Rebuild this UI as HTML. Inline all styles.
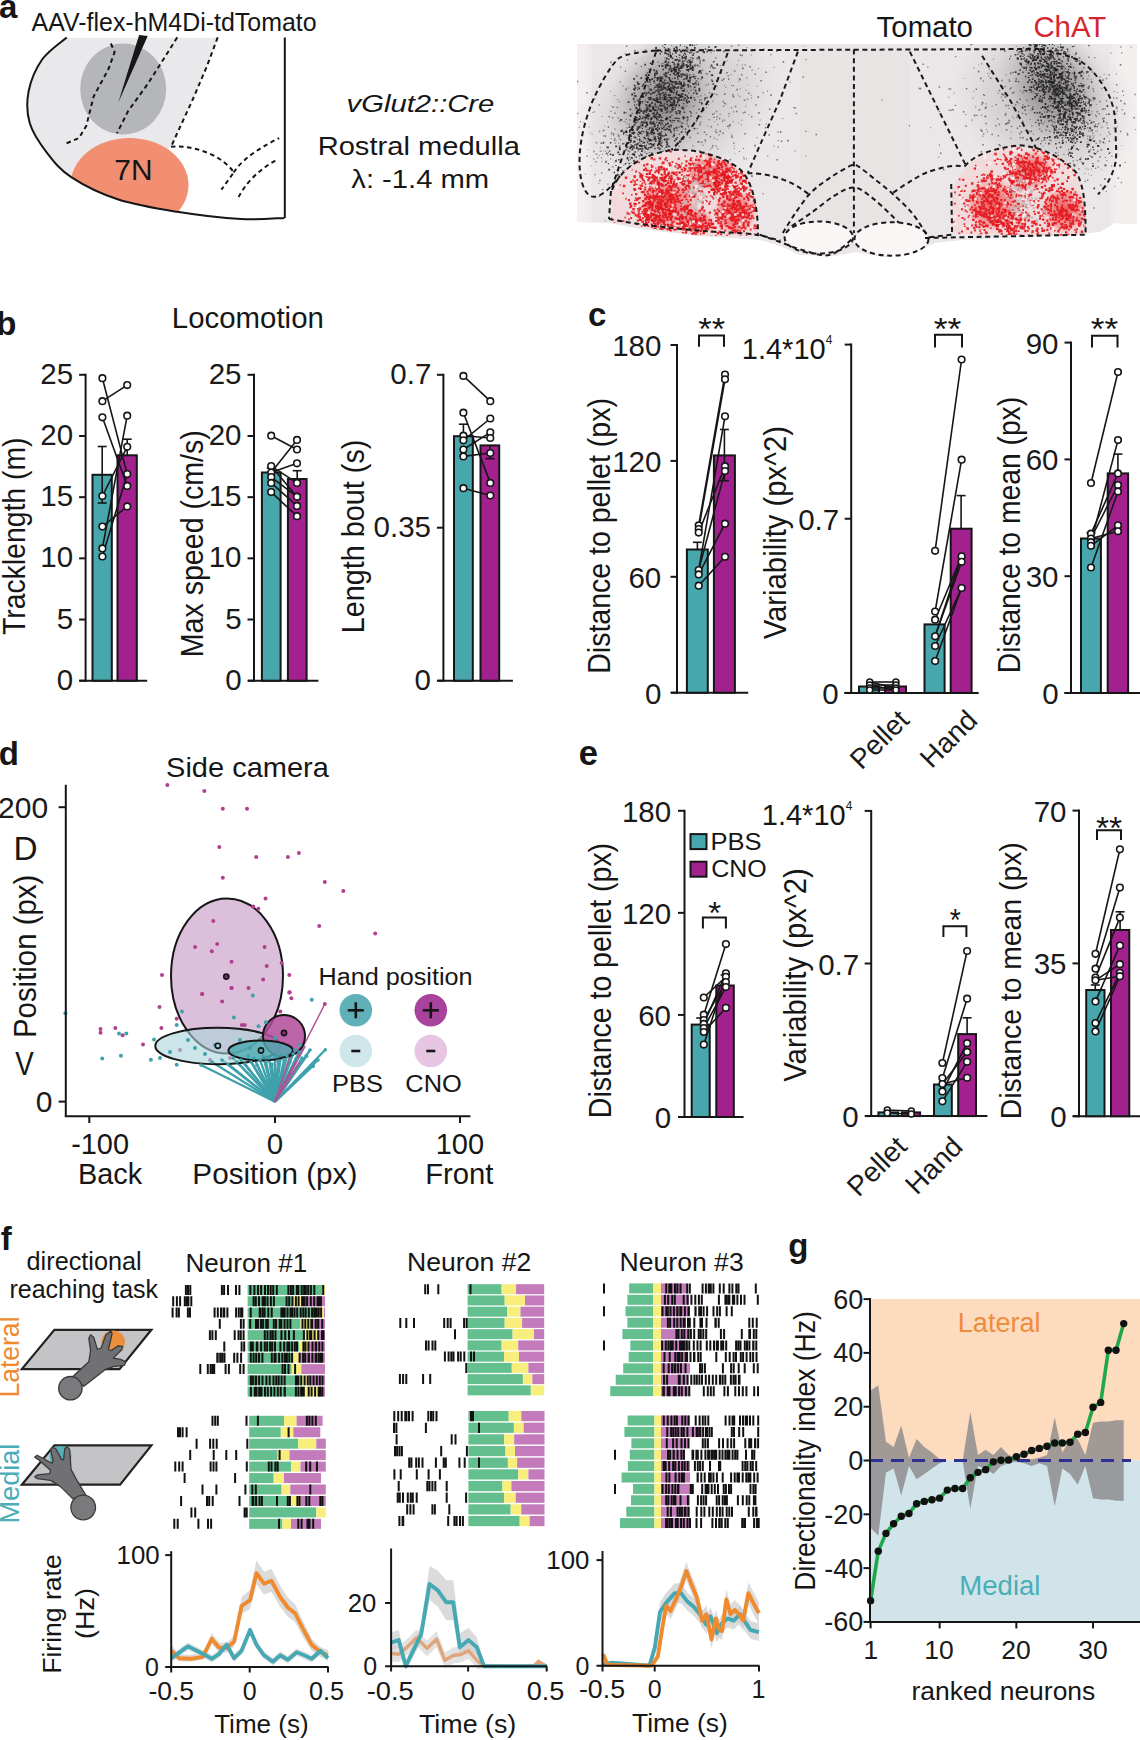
<!DOCTYPE html><html><head><meta charset="utf-8"><style>html,body{margin:0;padding:0;background:#fff;overflow:hidden;}svg{display:block;font-family:"Liberation Sans",sans-serif;}</style></head><body>
<svg width="1140" height="1740" viewBox="0 0 1140 1740">
<rect width="1140" height="1740" fill="#fff"/>
<text x="-0.99" y="17.6" font-size="33" font-weight="bold" font-style="normal" fill="#161616">a</text>
<text x="31.6" y="30.5" font-size="25.5" font-weight="normal" font-style="normal" fill="#161616" textLength="284.98" lengthAdjust="spacingAndGlyphs">AAV-flex-hM4Di-tdTomato</text>
<defs><clipPath id="clipA"><path d="M66.7 37.4 C62.6 41.1 48.5 50.5 42.1 59.5 C35.8 68.5 30.7 80.8 28.6 91.4 C26.6 102.0 26.7 113.1 29.8 123.3 C32.9 133.5 40.0 143.8 47.0 152.8 C54.0 161.8 59.7 169.6 71.6 177.4 C83.5 185.2 100.7 193.8 118.3 199.5 C135.9 205.2 156.7 208.5 177.2 211.8 C197.7 215.1 223.2 218.1 241.1 219.1 C259.0 220.1 277.3 218.1 284.5 217.9 L284.5 37.4 Z"/></clipPath></defs>
<g clip-path="url(#clipA)">
<path d="M20 37.4 L217.7 37.4 L206.7 66.8 L192 101.2 L177.2 133.2 L171.1 146.7 L150 170 L110 240 L20 240 Z" fill="#e9e9eb" stroke="none" stroke-width="0"/>
<ellipse cx="123.2" cy="89" rx="43" ry="45.5" fill="#b5b6ba"/>
<ellipse cx="129.5" cy="185" rx="59" ry="47" fill="#f28f72"/>
</g>
<path d="M66.7 37.4 C62.6 41.1 48.5 50.5 42.1 59.5 C35.8 68.5 30.7 80.8 28.6 91.4 C26.6 102.0 26.7 113.1 29.8 123.3 C32.9 133.5 40.0 143.8 47.0 152.8 C54.0 161.8 59.7 169.6 71.6 177.4 C83.5 185.2 100.7 193.8 118.3 199.5 C135.9 205.2 156.7 208.5 177.2 211.8 C197.7 215.1 223.2 218.1 241.1 219.1 C259.0 220.1 277.3 218.1 284.5 217.9 M284.8 37.4 L284.8 218" fill="none" stroke="#161616" stroke-width="2"/>
<path d="M110.9 43.5 L114.6 52.1 L108.4 69.3 L93.7 96.3 L86.3 125.8 L79 138.1 L64.2 144.2" fill="none" stroke="#161616" stroke-width="2" stroke-dasharray="4.5 3.5"/>
<path d="M177.2 37.4 L164.9 57 L147.7 84 L128.1 111.1 L117 133.2" fill="none" stroke="#161616" stroke-width="2" stroke-dasharray="4.5 3.5"/>
<path d="M217.7 37.4 L206.7 66.8 L192 101.2 L177.2 133.2 L171.1 146.7" fill="none" stroke="#161616" stroke-width="2" stroke-dasharray="4.5 3.5"/>
<path d="M171.1 146.7 C185 145 205 150 218 158 C226 163 232 169 233.7 172.5 L221.4 189.7" fill="none" stroke="#161616" stroke-width="2" stroke-dasharray="4.5 3.5"/>
<path d="M233.7 172.5 C240 162 255 150 279.2 138.1" fill="none" stroke="#161616" stroke-width="2" stroke-dasharray="4.5 3.5"/>
<path d="M238.6 197 C245 185 255 172 277.9 159" fill="none" stroke="#161616" stroke-width="2" stroke-dasharray="4.5 3.5"/>
<path d="M139.1 34.9 L147.7 36.1 L118.3 102.5 Z" fill="#161616" stroke="none" stroke-width="0"/>
<text x="114.3" y="180.3" font-size="29" font-weight="normal" font-style="normal" fill="#161616" textLength="38.24" lengthAdjust="spacingAndGlyphs">7N</text>
<text x="346.54" y="112" font-size="24.5" font-weight="normal" font-style="italic" fill="#161616" textLength="147.84" lengthAdjust="spacingAndGlyphs">vGlut2::Cre</text>
<text x="317.67" y="155.4" font-size="25.5" font-weight="normal" font-style="normal" fill="#161616" textLength="202.24" lengthAdjust="spacingAndGlyphs">Rostral medulla</text>
<text x="351.31" y="187.8" font-size="25.5" font-weight="normal" font-style="normal" fill="#161616" textLength="137.91" lengthAdjust="spacingAndGlyphs">λ: -1.4 mm</text>
<text x="876.61" y="36.8" font-size="30" font-weight="normal" font-style="normal" fill="#161616" textLength="96.34" lengthAdjust="spacingAndGlyphs">Tomato</text>
<text x="1033.43" y="36.8" font-size="30" font-weight="normal" font-style="normal" fill="#d4262c" textLength="72.81" lengthAdjust="spacingAndGlyphs">ChAT</text>
<defs>
<clipPath id="clipM"><path d="M577 44 L1137 44 L1137 224 L1115 223 L1100 232 L1060 236 L1000 238 L962 240 L935 243 L915 252 L885 257 L855 252 L835 256 L800 255 L780 246 L760 240 L700 236 L640 229 L610 223 L577 222 Z"/></clipPath>
<clipPath id="clipRL"><path d="M611 222 L612 190 C620 170 640 155 671.8 150 C700 148 735 160 745 175 C755 190 758 215 758 236 L700 236 Z"/></clipPath>
<clipPath id="clipRR"><path d="M952 234 L952 190 C960 170 975 155 1005 147 C1030 145 1060 152 1076.8 173.3 C1085 190 1086 215 1085.6 236 Z"/></clipPath>
<radialGradient id="gL" cx="0.5" cy="0.5" r="0.5"><stop offset="0" stop-color="#7d797a" stop-opacity="0.9"/><stop offset="0.5" stop-color="#a29d9e" stop-opacity="0.7"/><stop offset="1" stop-color="#cfcacb" stop-opacity="0"/></radialGradient>
<radialGradient id="gW" cx="0.5" cy="0.5" r="0.5"><stop offset="0" stop-color="#c4bfc0" stop-opacity="0.95"/><stop offset="0.6" stop-color="#d2cdce" stop-opacity="0.7"/><stop offset="1" stop-color="#dcd7d8" stop-opacity="0"/></radialGradient>
<radialGradient id="gR" cx="0.5" cy="0.5" r="0.5"><stop offset="0" stop-color="#ec4a4f" stop-opacity="0.9"/><stop offset="0.7" stop-color="#ef7376" stop-opacity="0.6"/><stop offset="1" stop-color="#f3b5b7" stop-opacity="0"/></radialGradient>
<filter id="blur4"><feGaussianBlur stdDeviation="4"/></filter>
</defs>
<g clip-path="url(#clipM)">
<rect x="570" y="40" width="575" height="220" fill="#ebe6e7" stroke="none" stroke-width="0"/>
<rect x="570" y="40" width="20" height="190" fill="#f6eff0" stroke="none" stroke-width="0" filter="url(#blur4)"/>
<rect x="1112" y="40" width="30" height="200" fill="#f4efef" stroke="none" stroke-width="0" filter="url(#blur4)"/>
<rect x="800" y="48" width="110" height="200" fill="#e8e4e4" stroke="none" stroke-width="0"/>
<ellipse cx="680" cy="105" rx="110" ry="80" fill="url(#gW)" transform="rotate(-30 680 105)"/>
<ellipse cx="1045" cy="105" rx="100" ry="80" fill="url(#gW)" transform="rotate(30 1045 105)"/>
<ellipse cx="664" cy="100" rx="55" ry="75" fill="url(#gL)" transform="rotate(22 664 100)"/>
<ellipse cx="1053" cy="88" rx="55" ry="70" fill="url(#gL)" transform="rotate(-25 1053 88)"/>
<path d="M685.6 64.1h1.9v1.9h-1.9zM667.9 61.5h1.4v1.4h-1.4zM664.5 64.5h1.3v1.3h-1.3zM699.0 70.1h1.9v1.9h-1.9zM668.6 67.9h1.5v1.5h-1.5zM692.2 54.3h1.7v1.7h-1.7zM672.0 53.3h1.1v1.1h-1.1zM690.1 67.5h1.9v1.9h-1.9zM660.3 86.7h1.3v1.3h-1.3zM643.6 92.5h1.5v1.5h-1.5zM657.0 98.6h1.2v1.2h-1.2zM670.1 90.2h1.4v1.4h-1.4zM681.6 57.4h1.8v1.8h-1.8zM645.3 110.5h1.8v1.8h-1.8zM682.8 63.8h1.5v1.5h-1.5zM657.8 90.5h1.8v1.8h-1.8zM660.5 76.7h1.5v1.5h-1.5zM684.9 34.3h1.4v1.4h-1.4zM692.3 68.9h1.5v1.5h-1.5zM673.6 73.3h1.2v1.2h-1.2zM684.1 60.2h1.3v1.3h-1.3zM668.2 88.0h1.7v1.7h-1.7zM679.5 22.9h1.8v1.8h-1.8zM693.8 45.0h1.1v1.1h-1.1zM698.6 89.3h1.7v1.7h-1.7zM676.6 37.8h1.8v1.8h-1.8zM689.9 64.5h1.4v1.4h-1.4zM688.0 70.7h1.1v1.1h-1.1zM689.3 68.1h1.7v1.7h-1.7zM691.1 27.4h1.2v1.2h-1.2zM678.8 54.5h1.6v1.6h-1.6zM669.1 51.0h1.4v1.4h-1.4zM672.7 72.7h1.6v1.6h-1.6zM706.7 51.3h1.3v1.3h-1.3zM656.5 83.9h1.5v1.5h-1.5zM665.6 34.6h1.5v1.5h-1.5zM675.3 70.9h1.6v1.6h-1.6zM705.4 40.7h1.2v1.2h-1.2zM673.6 66.2h2.0v2.0h-2.0zM697.5 77.9h1.3v1.3h-1.3zM673.2 68.8h1.3v1.3h-1.3zM684.8 53.8h1.3v1.3h-1.3zM666.1 58.3h1.1v1.1h-1.1zM676.5 59.1h1.4v1.4h-1.4zM703.9 42.3h1.8v1.8h-1.8zM689.8 67.2h1.7v1.7h-1.7zM690.7 76.4h1.2v1.2h-1.2zM689.0 66.2h1.1v1.1h-1.1zM670.7 91.3h1.3v1.3h-1.3zM637.1 82.8h1.8v1.8h-1.8zM667.4 62.0h1.5v1.5h-1.5zM711.2 74.3h1.9v1.9h-1.9zM664.5 74.9h1.7v1.7h-1.7zM690.4 61.2h1.6v1.6h-1.6zM677.4 64.2h1.8v1.8h-1.8zM696.7 51.0h1.8v1.8h-1.8zM668.6 82.9h1.3v1.3h-1.3zM669.6 53.9h1.3v1.3h-1.3zM674.7 50.6h1.4v1.4h-1.4zM696.0 43.1h1.5v1.5h-1.5zM675.9 56.0h1.1v1.1h-1.1zM656.4 50.5h1.4v1.4h-1.4zM672.8 88.1h1.6v1.6h-1.6zM666.7 112.2h1.1v1.1h-1.1zM670.2 103.6h1.1v1.1h-1.1zM681.3 85.0h1.2v1.2h-1.2zM664.9 48.5h1.3v1.3h-1.3zM714.5 46.1h2.0v2.0h-2.0zM677.9 61.5h1.0v1.0h-1.0zM668.3 58.5h1.2v1.2h-1.2zM688.6 35.4h1.2v1.2h-1.2zM671.8 57.5h1.5v1.5h-1.5zM659.0 66.1h1.0v1.0h-1.0zM695.2 34.8h1.5v1.5h-1.5zM693.8 42.0h1.2v1.2h-1.2zM669.7 74.1h1.3v1.3h-1.3zM675.4 73.7h1.8v1.8h-1.8zM673.9 67.7h1.2v1.2h-1.2zM655.7 85.0h1.6v1.6h-1.6zM693.7 22.9h1.4v1.4h-1.4zM673.4 86.3h1.4v1.4h-1.4zM681.3 22.6h1.8v1.8h-1.8zM671.8 61.9h1.2v1.2h-1.2zM669.8 103.7h1.9v1.9h-1.9zM682.6 63.0h1.9v1.9h-1.9zM678.5 80.8h1.7v1.7h-1.7zM673.8 72.2h1.0v1.0h-1.0zM654.0 76.5h1.7v1.7h-1.7zM691.9 30.7h1.6v1.6h-1.6zM685.1 55.7h1.8v1.8h-1.8zM670.5 67.6h1.2v1.2h-1.2zM685.9 46.8h2.0v2.0h-2.0zM680.5 65.3h1.9v1.9h-1.9zM704.4 42.3h1.1v1.1h-1.1zM679.8 50.1h1.3v1.3h-1.3zM676.9 97.4h1.0v1.0h-1.0zM691.9 40.9h1.8v1.8h-1.8zM698.0 56.2h1.9v1.9h-1.9zM703.1 51.2h2.0v2.0h-2.0zM694.9 82.1h1.6v1.6h-1.6zM677.5 93.9h1.7v1.7h-1.7zM698.5 57.8h1.7v1.7h-1.7zM722.5 33.3h1.6v1.6h-1.6zM647.8 74.0h2.0v2.0h-2.0zM679.5 37.9h1.6v1.6h-1.6zM692.0 68.1h1.3v1.3h-1.3zM636.7 81.4h1.5v1.5h-1.5zM685.6 56.9h1.0v1.0h-1.0zM679.5 67.4h1.7v1.7h-1.7zM653.3 69.3h1.7v1.7h-1.7zM668.2 58.7h1.4v1.4h-1.4zM668.4 99.7h1.9v1.9h-1.9zM686.2 66.1h1.8v1.8h-1.8zM662.1 78.0h1.3v1.3h-1.3zM659.3 76.6h1.1v1.1h-1.1zM674.9 52.5h1.1v1.1h-1.1zM690.4 57.0h1.2v1.2h-1.2zM689.4 10.2h1.3v1.3h-1.3zM691.6 42.9h1.4v1.4h-1.4zM664.3 52.1h1.9v1.9h-1.9zM685.5 76.8h1.3v1.3h-1.3zM682.0 64.3h1.9v1.9h-1.9zM692.5 76.1h1.7v1.7h-1.7zM655.1 47.0h1.9v1.9h-1.9zM649.8 62.6h1.4v1.4h-1.4zM636.6 125.9h1.0v1.0h-1.0zM698.6 34.6h1.8v1.8h-1.8zM656.5 79.8h1.2v1.2h-1.2zM697.5 39.6h1.1v1.1h-1.1zM681.9 60.6h1.8v1.8h-1.8zM692.2 66.8h1.7v1.7h-1.7zM691.2 52.0h1.2v1.2h-1.2zM675.7 87.3h1.3v1.3h-1.3zM687.1 83.9h1.9v1.9h-1.9zM665.1 87.5h1.3v1.3h-1.3zM665.9 52.9h1.7v1.7h-1.7zM720.4 36.4h1.1v1.1h-1.1zM685.8 77.0h1.8v1.8h-1.8zM654.9 35.8h1.1v1.1h-1.1zM684.3 56.4h1.5v1.5h-1.5zM669.9 52.7h1.0v1.0h-1.0zM676.6 66.4h1.6v1.6h-1.6zM700.3 39.6h1.8v1.8h-1.8zM700.5 72.8h1.1v1.1h-1.1zM670.6 70.8h1.3v1.3h-1.3zM679.2 110.7h1.8v1.8h-1.8zM704.7 48.4h1.6v1.6h-1.6zM691.4 48.9h1.3v1.3h-1.3zM681.5 55.8h1.6v1.6h-1.6zM680.2 66.6h1.5v1.5h-1.5zM706.9 34.5h1.9v1.9h-1.9zM674.3 59.2h1.3v1.3h-1.3zM693.8 86.4h1.8v1.8h-1.8zM688.9 51.9h1.6v1.6h-1.6zM664.4 61.4h1.7v1.7h-1.7zM691.8 69.5h1.4v1.4h-1.4zM674.5 68.6h1.7v1.7h-1.7zM680.7 67.4h1.7v1.7h-1.7zM660.0 93.5h1.4v1.4h-1.4zM682.5 86.0h1.0v1.0h-1.0zM679.7 82.1h2.0v2.0h-2.0zM696.5 28.1h1.7v1.7h-1.7zM677.1 75.8h1.2v1.2h-1.2zM669.9 55.1h1.7v1.7h-1.7zM712.0 66.5h1.3v1.3h-1.3zM676.4 65.9h1.5v1.5h-1.5zM673.3 86.0h1.9v1.9h-1.9zM653.6 80.2h1.4v1.4h-1.4zM686.4 29.1h1.3v1.3h-1.3zM713.5 50.2h1.3v1.3h-1.3zM691.8 60.5h1.1v1.1h-1.1zM703.0 20.0h1.2v1.2h-1.2zM658.5 64.9h1.3v1.3h-1.3zM700.4 71.5h1.2v1.2h-1.2zM682.1 35.5h1.1v1.1h-1.1zM665.6 76.2h1.5v1.5h-1.5zM683.0 54.5h1.2v1.2h-1.2zM688.2 59.6h1.7v1.7h-1.7zM677.9 67.9h1.9v1.9h-1.9zM683.5 57.1h1.3v1.3h-1.3zM710.7 64.6h1.6v1.6h-1.6zM689.8 50.1h1.5v1.5h-1.5zM666.5 99.8h1.1v1.1h-1.1zM641.6 92.6h1.1v1.1h-1.1zM700.8 49.2h1.9v1.9h-1.9zM659.5 53.1h1.5v1.5h-1.5zM669.3 65.0h1.8v1.8h-1.8zM717.0 64.6h1.1v1.1h-1.1zM675.2 52.0h1.6v1.6h-1.6zM667.3 85.9h1.9v1.9h-1.9zM665.9 57.6h1.9v1.9h-1.9zM669.4 51.5h1.0v1.0h-1.0zM708.2 46.3h1.5v1.5h-1.5zM689.3 36.1h1.4v1.4h-1.4zM686.6 50.4h1.8v1.8h-1.8zM673.2 67.7h1.1v1.1h-1.1zM648.9 78.9h1.3v1.3h-1.3zM689.2 44.2h1.8v1.8h-1.8zM696.7 64.5h1.5v1.5h-1.5zM651.7 92.5h1.5v1.5h-1.5zM688.9 61.1h2.0v2.0h-2.0zM690.0 77.0h1.3v1.3h-1.3zM669.8 49.1h1.0v1.0h-1.0zM680.6 87.0h1.4v1.4h-1.4zM664.5 39.1h1.2v1.2h-1.2zM705.4 38.2h1.1v1.1h-1.1zM693.5 31.4h1.6v1.6h-1.6zM664.8 60.3h2.0v2.0h-2.0zM710.3 8.0h1.6v1.6h-1.6zM693.2 24.5h1.6v1.6h-1.6zM663.7 46.9h1.3v1.3h-1.3zM689.3 76.8h1.6v1.6h-1.6zM680.0 95.5h1.8v1.8h-1.8zM673.4 47.7h1.6v1.6h-1.6zM670.4 69.2h1.8v1.8h-1.8zM674.9 59.3h1.6v1.6h-1.6zM668.4 77.1h1.2v1.2h-1.2zM654.0 74.3h1.6v1.6h-1.6zM692.1 69.2h1.5v1.5h-1.5zM663.7 93.8h1.2v1.2h-1.2zM662.4 68.7h1.6v1.6h-1.6zM686.0 40.6h1.8v1.8h-1.8zM690.5 25.4h1.1v1.1h-1.1zM683.9 52.4h1.5v1.5h-1.5zM680.1 81.8h1.7v1.7h-1.7zM687.5 69.4h1.4v1.4h-1.4zM668.3 55.4h1.3v1.3h-1.3zM681.4 64.5h1.4v1.4h-1.4zM682.5 35.7h1.5v1.5h-1.5zM660.7 50.8h1.7v1.7h-1.7zM676.7 40.9h1.6v1.6h-1.6zM659.6 99.1h1.1v1.1h-1.1zM676.8 28.3h1.8v1.8h-1.8zM659.9 79.4h1.9v1.9h-1.9zM673.0 88.1h1.1v1.1h-1.1zM663.6 73.7h1.2v1.2h-1.2zM679.8 44.6h1.2v1.2h-1.2zM675.4 46.2h1.8v1.8h-1.8zM645.2 74.3h1.9v1.9h-1.9zM700.5 21.1h1.0v1.0h-1.0z" fill="#1c1c1c" fill-opacity="0.85"/>
<path d="M674.1 71.4h1.4v1.4h-1.4zM654.2 125.7h1.6v1.6h-1.6zM657.1 101.1h1.9v1.9h-1.9zM658.6 98.2h1.3v1.3h-1.3zM657.0 144.5h1.4v1.4h-1.4zM686.5 90.5h1.0v1.0h-1.0zM694.0 47.0h1.7v1.7h-1.7zM637.5 119.2h1.4v1.4h-1.4zM649.4 109.6h1.8v1.8h-1.8zM646.7 72.3h1.2v1.2h-1.2zM655.8 70.3h1.7v1.7h-1.7zM672.2 81.1h1.7v1.7h-1.7zM665.4 94.0h1.5v1.5h-1.5zM656.1 94.9h1.2v1.2h-1.2zM649.4 122.8h1.4v1.4h-1.4zM716.2 63.5h1.7v1.7h-1.7zM694.4 65.5h1.2v1.2h-1.2zM679.4 112.2h1.1v1.1h-1.1zM668.5 88.7h1.5v1.5h-1.5zM667.6 94.7h1.2v1.2h-1.2zM663.8 96.5h1.8v1.8h-1.8zM652.5 107.9h1.8v1.8h-1.8zM696.5 40.1h1.9v1.9h-1.9zM673.6 96.7h1.8v1.8h-1.8zM665.0 65.5h1.6v1.6h-1.6zM678.6 98.7h1.2v1.2h-1.2zM674.7 83.2h1.8v1.8h-1.8zM680.4 51.0h1.7v1.7h-1.7zM664.7 82.6h1.7v1.7h-1.7zM664.2 43.4h1.7v1.7h-1.7zM655.5 98.2h1.8v1.8h-1.8zM685.3 78.5h1.3v1.3h-1.3zM667.7 48.0h1.7v1.7h-1.7zM675.4 70.3h1.5v1.5h-1.5zM668.6 105.6h1.3v1.3h-1.3zM633.8 92.6h1.3v1.3h-1.3zM647.4 85.2h1.2v1.2h-1.2zM666.7 104.1h1.5v1.5h-1.5zM693.0 92.6h1.4v1.4h-1.4zM649.0 81.4h1.4v1.4h-1.4zM649.8 97.3h1.9v1.9h-1.9zM660.7 116.4h1.7v1.7h-1.7zM638.3 87.6h1.7v1.7h-1.7zM677.0 72.7h2.0v2.0h-2.0zM675.6 81.3h1.2v1.2h-1.2zM678.0 75.1h1.5v1.5h-1.5zM690.0 65.3h1.1v1.1h-1.1zM679.7 82.7h1.4v1.4h-1.4zM650.5 117.1h2.0v2.0h-2.0zM669.4 94.8h1.1v1.1h-1.1zM673.5 127.7h1.8v1.8h-1.8zM656.6 77.4h1.9v1.9h-1.9zM646.1 121.5h1.5v1.5h-1.5zM660.2 84.8h1.8v1.8h-1.8zM663.3 81.6h1.4v1.4h-1.4zM667.8 71.5h1.4v1.4h-1.4zM681.4 95.7h1.5v1.5h-1.5zM688.6 27.5h1.2v1.2h-1.2zM654.2 91.8h1.3v1.3h-1.3zM665.5 63.7h1.3v1.3h-1.3zM663.8 97.9h2.0v2.0h-2.0zM646.6 101.6h1.3v1.3h-1.3zM638.8 83.2h1.2v1.2h-1.2zM647.6 115.2h1.9v1.9h-1.9zM669.5 83.6h1.1v1.1h-1.1zM643.1 121.6h2.0v2.0h-2.0zM686.3 75.3h1.9v1.9h-1.9zM658.3 83.4h1.6v1.6h-1.6zM670.6 70.8h1.4v1.4h-1.4zM646.2 106.7h1.2v1.2h-1.2zM690.0 59.4h1.1v1.1h-1.1zM678.1 60.6h1.1v1.1h-1.1zM674.0 64.3h1.3v1.3h-1.3zM698.3 108.7h1.4v1.4h-1.4zM673.1 68.5h1.9v1.9h-1.9zM672.9 92.0h1.5v1.5h-1.5zM678.6 59.4h2.0v2.0h-2.0zM645.7 122.2h1.7v1.7h-1.7zM671.5 88.4h1.1v1.1h-1.1zM689.6 62.8h1.6v1.6h-1.6zM666.4 63.4h1.2v1.2h-1.2zM705.8 84.6h1.0v1.0h-1.0zM682.3 73.7h1.9v1.9h-1.9zM693.5 97.3h1.3v1.3h-1.3zM657.5 106.5h1.2v1.2h-1.2zM684.5 83.6h1.1v1.1h-1.1zM668.5 99.2h1.7v1.7h-1.7zM668.1 94.6h1.5v1.5h-1.5zM654.6 82.8h1.0v1.0h-1.0zM680.4 94.6h1.7v1.7h-1.7zM655.5 106.4h1.3v1.3h-1.3zM665.0 66.7h1.8v1.8h-1.8zM659.3 76.8h1.5v1.5h-1.5zM711.7 80.6h1.5v1.5h-1.5zM691.6 44.4h1.5v1.5h-1.5zM680.3 73.5h1.7v1.7h-1.7zM690.0 96.7h2.0v2.0h-2.0zM667.0 122.8h1.8v1.8h-1.8zM686.5 98.9h1.1v1.1h-1.1zM664.1 79.4h1.5v1.5h-1.5zM682.2 87.4h1.2v1.2h-1.2zM676.3 90.7h1.1v1.1h-1.1zM637.9 83.9h1.2v1.2h-1.2zM689.3 74.2h1.2v1.2h-1.2zM672.6 85.4h2.0v2.0h-2.0zM676.9 63.3h1.7v1.7h-1.7zM659.2 101.4h1.9v1.9h-1.9zM667.5 53.6h1.7v1.7h-1.7zM676.6 58.8h1.3v1.3h-1.3zM672.1 119.7h1.4v1.4h-1.4zM653.1 80.9h1.4v1.4h-1.4zM677.0 102.0h1.3v1.3h-1.3zM679.1 60.2h1.4v1.4h-1.4zM683.5 84.6h1.8v1.8h-1.8zM666.6 103.9h1.1v1.1h-1.1zM663.1 84.9h1.3v1.3h-1.3zM664.9 98.7h1.5v1.5h-1.5zM663.5 83.4h1.7v1.7h-1.7zM678.4 104.6h1.6v1.6h-1.6zM683.3 89.8h1.7v1.7h-1.7zM691.6 67.1h1.1v1.1h-1.1zM687.2 35.0h1.2v1.2h-1.2zM675.8 69.0h1.3v1.3h-1.3zM712.9 61.3h1.3v1.3h-1.3zM634.8 121.8h1.8v1.8h-1.8zM687.5 79.7h2.0v2.0h-2.0zM678.0 72.2h1.7v1.7h-1.7zM683.4 83.1h1.0v1.0h-1.0zM681.5 96.8h1.3v1.3h-1.3zM650.6 139.4h1.8v1.8h-1.8zM669.2 116.2h1.9v1.9h-1.9zM656.5 86.5h1.6v1.6h-1.6zM663.4 73.8h1.3v1.3h-1.3zM640.0 96.0h1.4v1.4h-1.4zM675.7 92.0h1.6v1.6h-1.6zM680.6 65.7h1.9v1.9h-1.9zM682.8 66.3h1.3v1.3h-1.3zM675.8 94.0h1.2v1.2h-1.2zM678.6 63.6h1.0v1.0h-1.0zM665.1 91.9h1.1v1.1h-1.1zM660.1 80.0h1.9v1.9h-1.9zM677.5 63.8h1.6v1.6h-1.6zM665.5 72.6h2.0v2.0h-2.0zM679.1 83.3h1.1v1.1h-1.1zM689.5 110.9h1.4v1.4h-1.4zM696.0 92.7h1.8v1.8h-1.8zM673.5 63.4h1.7v1.7h-1.7zM670.7 99.0h1.1v1.1h-1.1zM671.3 87.1h1.4v1.4h-1.4zM644.6 81.3h1.6v1.6h-1.6zM640.4 77.2h1.7v1.7h-1.7zM665.7 75.2h1.5v1.5h-1.5zM658.8 101.3h1.2v1.2h-1.2zM655.9 72.3h2.0v2.0h-2.0zM636.1 116.9h1.5v1.5h-1.5zM633.8 123.7h1.7v1.7h-1.7zM676.3 47.5h1.5v1.5h-1.5zM661.2 64.9h1.1v1.1h-1.1zM669.7 79.5h1.2v1.2h-1.2zM676.2 93.2h1.1v1.1h-1.1zM693.4 52.9h1.2v1.2h-1.2zM659.7 78.6h1.2v1.2h-1.2zM674.0 74.2h1.4v1.4h-1.4zM679.5 70.4h1.3v1.3h-1.3zM666.8 37.9h1.4v1.4h-1.4zM677.1 100.3h1.8v1.8h-1.8zM656.2 89.7h1.0v1.0h-1.0zM650.1 83.9h1.1v1.1h-1.1zM701.0 102.6h1.8v1.8h-1.8zM670.3 56.4h1.5v1.5h-1.5zM654.6 103.3h1.4v1.4h-1.4zM672.1 61.4h1.3v1.3h-1.3zM672.4 108.5h1.5v1.5h-1.5zM675.8 67.4h1.2v1.2h-1.2zM637.8 100.4h1.9v1.9h-1.9zM634.6 86.9h1.8v1.8h-1.8zM671.4 68.0h1.3v1.3h-1.3zM698.4 91.1h1.0v1.0h-1.0zM670.1 55.6h1.9v1.9h-1.9zM694.5 78.0h1.3v1.3h-1.3zM649.5 96.8h1.7v1.7h-1.7zM649.3 79.1h1.9v1.9h-1.9zM658.5 40.6h1.8v1.8h-1.8zM653.5 109.1h1.9v1.9h-1.9zM669.3 93.9h1.5v1.5h-1.5zM670.7 80.9h1.8v1.8h-1.8zM657.7 49.4h1.5v1.5h-1.5zM661.3 83.0h1.3v1.3h-1.3zM674.3 86.8h1.5v1.5h-1.5zM651.3 102.5h1.3v1.3h-1.3zM683.7 74.0h1.8v1.8h-1.8zM686.6 116.4h1.8v1.8h-1.8zM680.0 29.8h1.1v1.1h-1.1zM704.0 99.3h1.2v1.2h-1.2zM682.1 73.3h1.4v1.4h-1.4zM660.9 88.5h1.5v1.5h-1.5zM660.8 88.6h2.0v2.0h-2.0zM674.1 69.7h1.9v1.9h-1.9zM650.1 88.8h2.0v2.0h-2.0zM658.6 82.8h1.7v1.7h-1.7zM680.5 99.0h1.7v1.7h-1.7zM680.5 83.9h1.3v1.3h-1.3zM675.0 81.0h1.4v1.4h-1.4zM664.7 88.5h1.0v1.0h-1.0zM666.0 64.6h1.8v1.8h-1.8zM686.5 60.4h1.3v1.3h-1.3zM655.1 100.1h1.1v1.1h-1.1zM663.8 103.2h1.3v1.3h-1.3zM675.2 110.9h1.3v1.3h-1.3zM633.1 88.3h1.7v1.7h-1.7zM636.9 89.1h1.0v1.0h-1.0zM682.4 96.2h1.2v1.2h-1.2zM661.6 65.2h1.9v1.9h-1.9zM682.4 116.3h1.9v1.9h-1.9zM673.9 81.4h1.6v1.6h-1.6zM712.4 83.2h1.6v1.6h-1.6zM687.2 62.0h1.2v1.2h-1.2zM681.7 84.9h1.9v1.9h-1.9zM649.8 93.3h1.8v1.8h-1.8zM659.1 80.3h1.5v1.5h-1.5zM670.4 90.0h1.2v1.2h-1.2zM687.8 33.4h1.2v1.2h-1.2zM666.5 89.4h1.4v1.4h-1.4zM687.9 86.2h1.3v1.3h-1.3zM654.2 92.4h1.1v1.1h-1.1zM639.1 115.6h1.4v1.4h-1.4zM677.0 77.2h1.4v1.4h-1.4zM653.3 106.5h1.3v1.3h-1.3zM676.5 90.9h1.4v1.4h-1.4zM659.8 98.6h1.3v1.3h-1.3zM634.2 117.7h1.4v1.4h-1.4zM662.9 39.1h1.6v1.6h-1.6zM668.6 96.6h1.5v1.5h-1.5zM655.7 90.1h1.2v1.2h-1.2zM669.2 89.2h1.8v1.8h-1.8zM646.2 76.6h1.5v1.5h-1.5zM657.9 85.1h1.5v1.5h-1.5zM666.2 101.0h1.7v1.7h-1.7zM688.6 81.0h1.8v1.8h-1.8zM675.2 104.8h1.8v1.8h-1.8zM697.9 71.6h1.8v1.8h-1.8zM684.9 58.1h1.7v1.7h-1.7zM677.9 97.4h1.7v1.7h-1.7zM656.1 117.9h1.2v1.2h-1.2zM659.2 96.4h1.7v1.7h-1.7zM638.3 118.0h1.3v1.3h-1.3zM680.5 94.6h1.3v1.3h-1.3zM680.9 66.9h1.1v1.1h-1.1zM657.7 86.1h1.4v1.4h-1.4zM671.8 77.9h1.0v1.0h-1.0zM698.5 87.7h1.7v1.7h-1.7zM651.5 78.2h1.7v1.7h-1.7zM642.0 95.7h1.8v1.8h-1.8zM671.5 122.0h1.1v1.1h-1.1zM654.3 72.6h1.6v1.6h-1.6zM693.1 83.2h1.8v1.8h-1.8zM657.5 90.7h1.0v1.0h-1.0zM669.4 97.0h1.2v1.2h-1.2zM692.0 83.0h1.3v1.3h-1.3zM698.9 71.1h1.5v1.5h-1.5zM694.4 64.3h1.2v1.2h-1.2zM650.0 118.9h1.5v1.5h-1.5zM669.1 78.8h1.3v1.3h-1.3zM676.6 66.5h1.7v1.7h-1.7zM676.4 117.4h1.5v1.5h-1.5zM680.7 75.7h1.7v1.7h-1.7zM694.0 76.2h1.2v1.2h-1.2zM644.3 63.7h1.7v1.7h-1.7zM656.4 98.8h1.7v1.7h-1.7zM660.6 109.8h1.7v1.7h-1.7zM678.4 59.8h1.1v1.1h-1.1zM681.0 125.8h1.9v1.9h-1.9zM649.6 88.8h1.6v1.6h-1.6zM678.0 86.0h1.3v1.3h-1.3zM671.1 108.2h1.4v1.4h-1.4zM653.0 91.7h1.5v1.5h-1.5zM681.5 89.7h1.5v1.5h-1.5zM666.4 103.5h1.2v1.2h-1.2zM703.1 109.7h1.3v1.3h-1.3zM678.3 112.4h1.4v1.4h-1.4zM667.8 88.2h1.8v1.8h-1.8zM689.5 79.3h1.4v1.4h-1.4zM689.2 64.0h1.0v1.0h-1.0zM656.3 96.7h1.5v1.5h-1.5zM683.2 81.5h1.2v1.2h-1.2zM691.8 61.9h1.0v1.0h-1.0zM701.1 76.6h2.0v2.0h-2.0zM654.0 74.2h1.3v1.3h-1.3zM638.4 102.4h1.5v1.5h-1.5zM678.8 49.0h1.4v1.4h-1.4zM691.9 66.5h1.1v1.1h-1.1zM702.7 59.4h1.9v1.9h-1.9zM666.3 88.7h1.9v1.9h-1.9zM673.1 87.5h1.2v1.2h-1.2zM663.2 98.8h1.4v1.4h-1.4zM668.7 42.6h1.4v1.4h-1.4zM662.1 76.3h1.2v1.2h-1.2zM682.4 90.0h1.7v1.7h-1.7zM678.7 94.6h1.8v1.8h-1.8zM664.3 128.8h1.8v1.8h-1.8zM670.3 104.9h1.7v1.7h-1.7zM640.8 66.1h1.0v1.0h-1.0zM663.6 105.3h1.2v1.2h-1.2zM692.1 57.7h1.5v1.5h-1.5zM656.0 72.8h1.7v1.7h-1.7zM709.1 70.9h1.4v1.4h-1.4zM667.7 85.9h1.4v1.4h-1.4zM661.3 127.8h1.8v1.8h-1.8zM711.1 36.9h1.0v1.0h-1.0zM691.7 65.5h1.3v1.3h-1.3zM674.4 117.8h1.3v1.3h-1.3zM652.6 112.2h2.0v2.0h-2.0zM684.1 88.4h1.2v1.2h-1.2zM679.7 82.1h1.0v1.0h-1.0zM645.2 94.8h1.4v1.4h-1.4zM662.1 81.8h1.6v1.6h-1.6zM639.0 106.3h1.2v1.2h-1.2zM641.7 85.2h1.8v1.8h-1.8zM634.0 104.6h1.2v1.2h-1.2zM677.1 87.1h1.7v1.7h-1.7z" fill="#1c1c1c" fill-opacity="0.85"/>
<path d="M664.3 107.0h1.4v1.4h-1.4zM647.5 115.8h1.3v1.3h-1.3zM648.3 128.9h1.2v1.2h-1.2zM660.3 80.1h1.9v1.9h-1.9zM687.5 86.2h1.0v1.0h-1.0zM663.1 126.9h1.2v1.2h-1.2zM620.4 130.3h1.8v1.8h-1.8zM638.6 135.9h1.2v1.2h-1.2zM648.8 115.2h1.3v1.3h-1.3zM634.3 95.0h2.0v2.0h-2.0zM647.7 91.8h1.8v1.8h-1.8zM646.1 122.8h1.4v1.4h-1.4zM628.5 126.4h1.1v1.1h-1.1zM646.8 132.8h1.3v1.3h-1.3zM672.9 103.7h2.0v2.0h-2.0zM637.5 127.1h1.8v1.8h-1.8zM653.4 134.3h1.1v1.1h-1.1zM649.6 163.0h1.7v1.7h-1.7zM643.7 116.6h1.4v1.4h-1.4zM675.6 112.2h1.7v1.7h-1.7zM675.9 112.2h1.3v1.3h-1.3zM675.5 117.8h1.1v1.1h-1.1zM672.7 85.4h1.0v1.0h-1.0zM678.3 83.2h1.3v1.3h-1.3zM648.9 103.7h1.9v1.9h-1.9zM665.0 123.4h1.9v1.9h-1.9zM651.1 143.8h1.7v1.7h-1.7zM666.5 106.7h1.7v1.7h-1.7zM631.3 157.1h1.2v1.2h-1.2zM657.5 93.2h1.4v1.4h-1.4zM631.3 93.5h1.9v1.9h-1.9zM659.0 93.4h2.0v2.0h-2.0zM647.1 81.0h1.4v1.4h-1.4zM664.4 96.0h1.8v1.8h-1.8zM657.5 88.7h1.9v1.9h-1.9zM678.8 140.6h2.0v2.0h-2.0zM640.5 124.3h1.3v1.3h-1.3zM643.3 110.6h1.7v1.7h-1.7zM694.2 99.3h1.4v1.4h-1.4zM629.6 114.6h1.5v1.5h-1.5zM686.5 95.4h1.5v1.5h-1.5zM682.9 103.0h1.3v1.3h-1.3zM646.5 128.9h1.0v1.0h-1.0zM625.2 130.8h1.8v1.8h-1.8zM662.6 86.9h1.7v1.7h-1.7zM687.3 65.1h1.8v1.8h-1.8zM661.0 130.9h1.2v1.2h-1.2zM686.5 78.0h1.2v1.2h-1.2zM648.9 139.9h1.6v1.6h-1.6zM669.5 80.0h1.9v1.9h-1.9zM662.0 135.2h1.5v1.5h-1.5zM647.3 101.4h1.2v1.2h-1.2zM645.3 114.6h1.6v1.6h-1.6zM663.9 106.6h2.0v2.0h-2.0zM681.4 93.1h1.9v1.9h-1.9zM645.2 147.3h1.9v1.9h-1.9zM675.3 96.5h1.4v1.4h-1.4zM664.7 86.7h1.3v1.3h-1.3zM658.9 138.3h1.9v1.9h-1.9zM620.0 119.0h1.8v1.8h-1.8zM662.5 85.6h1.9v1.9h-1.9zM638.4 108.6h1.4v1.4h-1.4zM629.1 131.5h1.3v1.3h-1.3zM659.2 122.1h1.2v1.2h-1.2zM640.5 165.0h1.9v1.9h-1.9zM631.9 129.1h1.9v1.9h-1.9zM666.2 97.4h1.4v1.4h-1.4zM662.9 156.8h1.9v1.9h-1.9zM651.7 131.6h1.4v1.4h-1.4zM678.5 117.7h1.4v1.4h-1.4zM665.8 128.5h1.6v1.6h-1.6zM663.7 135.3h1.2v1.2h-1.2zM645.5 125.3h1.3v1.3h-1.3zM685.6 74.8h1.3v1.3h-1.3zM687.5 125.4h1.3v1.3h-1.3zM653.4 98.8h1.5v1.5h-1.5zM653.5 88.5h1.1v1.1h-1.1zM687.2 97.0h1.8v1.8h-1.8zM644.5 119.5h1.2v1.2h-1.2zM661.3 108.4h1.4v1.4h-1.4zM654.2 136.3h1.6v1.6h-1.6zM629.2 151.4h1.1v1.1h-1.1zM650.8 118.5h1.4v1.4h-1.4zM647.8 97.0h1.6v1.6h-1.6zM663.9 98.5h1.6v1.6h-1.6zM634.6 115.9h1.9v1.9h-1.9zM649.2 139.1h1.8v1.8h-1.8zM648.2 132.5h1.1v1.1h-1.1zM684.3 97.2h1.8v1.8h-1.8zM674.1 77.5h1.5v1.5h-1.5zM658.4 141.7h1.7v1.7h-1.7zM676.3 113.4h1.2v1.2h-1.2zM673.6 120.1h1.5v1.5h-1.5zM677.8 99.4h1.7v1.7h-1.7zM669.9 104.3h1.8v1.8h-1.8zM664.5 108.7h1.8v1.8h-1.8zM664.7 87.8h1.2v1.2h-1.2zM678.5 75.2h1.8v1.8h-1.8zM669.7 90.9h1.6v1.6h-1.6zM680.7 131.4h1.7v1.7h-1.7zM639.8 109.5h1.9v1.9h-1.9zM646.6 124.6h1.4v1.4h-1.4zM687.4 68.7h1.9v1.9h-1.9zM658.1 85.6h1.9v1.9h-1.9zM671.4 109.4h1.8v1.8h-1.8zM672.2 69.7h1.4v1.4h-1.4zM669.9 101.6h1.5v1.5h-1.5zM646.5 133.1h1.2v1.2h-1.2zM627.6 101.2h1.8v1.8h-1.8zM672.7 103.3h1.9v1.9h-1.9zM637.5 111.8h1.2v1.2h-1.2zM680.0 83.1h1.7v1.7h-1.7zM688.3 100.7h1.7v1.7h-1.7zM662.6 128.5h1.0v1.0h-1.0zM655.3 116.6h1.9v1.9h-1.9zM658.0 113.8h1.5v1.5h-1.5zM673.9 89.7h1.3v1.3h-1.3zM653.8 113.3h1.0v1.0h-1.0zM652.2 98.6h1.8v1.8h-1.8zM652.3 122.1h1.3v1.3h-1.3zM650.8 122.9h1.5v1.5h-1.5zM676.0 138.7h1.2v1.2h-1.2zM680.4 87.5h1.6v1.6h-1.6zM684.9 128.4h1.4v1.4h-1.4zM661.8 104.7h1.8v1.8h-1.8zM666.3 107.8h1.7v1.7h-1.7zM675.7 82.6h1.7v1.7h-1.7zM673.5 62.2h1.3v1.3h-1.3zM655.2 90.6h1.1v1.1h-1.1zM676.8 71.9h1.9v1.9h-1.9zM669.5 119.7h1.9v1.9h-1.9zM660.6 78.1h1.6v1.6h-1.6zM637.9 109.4h1.9v1.9h-1.9zM659.4 108.4h1.7v1.7h-1.7zM646.5 114.5h1.6v1.6h-1.6zM645.3 114.8h1.4v1.4h-1.4zM683.7 111.6h1.4v1.4h-1.4zM634.4 151.3h1.5v1.5h-1.5zM660.0 124.1h1.2v1.2h-1.2zM645.8 130.8h1.4v1.4h-1.4zM655.0 138.5h1.5v1.5h-1.5zM658.2 108.8h1.0v1.0h-1.0zM660.5 102.6h1.4v1.4h-1.4zM647.6 148.5h1.3v1.3h-1.3zM660.6 104.9h1.6v1.6h-1.6zM685.6 100.1h1.8v1.8h-1.8zM636.4 129.2h1.6v1.6h-1.6zM694.8 89.8h1.7v1.7h-1.7zM635.8 119.1h1.6v1.6h-1.6zM645.3 121.8h1.3v1.3h-1.3zM640.4 145.1h1.4v1.4h-1.4zM629.0 130.1h1.8v1.8h-1.8zM661.7 88.2h1.9v1.9h-1.9zM665.8 117.9h1.2v1.2h-1.2zM664.7 92.7h1.0v1.0h-1.0zM649.5 105.3h2.0v2.0h-2.0zM687.8 80.2h1.9v1.9h-1.9zM645.8 135.0h1.6v1.6h-1.6zM673.4 100.5h1.8v1.8h-1.8zM697.6 83.6h1.6v1.6h-1.6zM651.4 122.6h1.9v1.9h-1.9zM646.6 140.4h1.2v1.2h-1.2zM693.6 127.8h1.4v1.4h-1.4zM634.8 95.3h1.7v1.7h-1.7zM652.3 126.8h1.2v1.2h-1.2zM633.4 132.0h1.7v1.7h-1.7zM658.8 122.0h1.3v1.3h-1.3zM646.2 109.2h1.7v1.7h-1.7zM661.9 91.9h1.8v1.8h-1.8zM636.3 112.7h1.4v1.4h-1.4zM657.5 132.9h2.0v2.0h-2.0zM638.7 145.1h1.6v1.6h-1.6zM663.0 94.4h1.8v1.8h-1.8zM648.3 99.2h1.0v1.0h-1.0zM688.1 92.5h1.1v1.1h-1.1zM640.5 94.8h1.7v1.7h-1.7zM658.3 140.6h1.9v1.9h-1.9zM683.2 78.5h1.6v1.6h-1.6zM666.6 81.8h1.9v1.9h-1.9zM656.7 115.9h1.1v1.1h-1.1zM645.5 92.5h1.9v1.9h-1.9zM686.3 101.7h1.9v1.9h-1.9zM628.8 126.4h1.6v1.6h-1.6zM655.3 100.1h1.4v1.4h-1.4zM640.4 166.9h1.7v1.7h-1.7zM655.1 105.4h1.2v1.2h-1.2zM686.0 69.0h1.7v1.7h-1.7zM651.2 128.4h1.7v1.7h-1.7zM637.3 128.3h1.5v1.5h-1.5zM656.9 100.1h1.3v1.3h-1.3zM673.8 133.1h1.0v1.0h-1.0zM679.0 99.8h1.2v1.2h-1.2zM671.2 104.4h1.8v1.8h-1.8zM676.2 81.6h1.2v1.2h-1.2zM669.7 66.8h1.1v1.1h-1.1zM639.2 107.7h1.2v1.2h-1.2zM661.2 122.8h1.5v1.5h-1.5zM668.4 77.2h1.6v1.6h-1.6zM654.7 109.4h1.9v1.9h-1.9zM635.7 119.0h1.9v1.9h-1.9zM638.7 98.6h2.0v2.0h-2.0zM660.6 109.8h1.9v1.9h-1.9zM638.9 118.6h1.5v1.5h-1.5zM665.1 153.9h1.1v1.1h-1.1zM661.8 150.8h2.0v2.0h-2.0zM661.8 97.0h1.2v1.2h-1.2zM657.8 143.3h1.6v1.6h-1.6zM668.4 69.5h1.3v1.3h-1.3zM668.2 125.6h1.8v1.8h-1.8zM687.3 119.0h1.2v1.2h-1.2zM658.7 127.6h1.4v1.4h-1.4zM669.4 152.7h1.2v1.2h-1.2zM623.5 111.7h1.9v1.9h-1.9zM655.8 113.6h1.6v1.6h-1.6zM677.9 69.8h1.6v1.6h-1.6zM666.0 116.4h1.3v1.3h-1.3zM677.3 78.6h1.2v1.2h-1.2zM677.8 94.0h1.9v1.9h-1.9zM656.4 118.7h1.8v1.8h-1.8zM648.2 105.0h1.7v1.7h-1.7zM656.8 77.1h2.0v2.0h-2.0zM684.6 94.3h1.6v1.6h-1.6zM648.6 108.6h1.2v1.2h-1.2zM662.0 120.0h1.6v1.6h-1.6zM671.4 98.6h1.3v1.3h-1.3zM664.1 87.5h1.5v1.5h-1.5zM642.8 96.1h1.5v1.5h-1.5zM670.0 97.2h1.6v1.6h-1.6zM668.1 128.8h1.9v1.9h-1.9zM633.2 77.9h1.8v1.8h-1.8zM641.8 101.0h1.4v1.4h-1.4zM702.0 107.3h1.8v1.8h-1.8zM653.7 123.3h1.9v1.9h-1.9zM660.2 119.7h1.8v1.8h-1.8zM682.3 107.6h1.6v1.6h-1.6zM666.2 143.5h1.9v1.9h-1.9zM651.2 133.3h1.5v1.5h-1.5zM681.5 92.9h1.1v1.1h-1.1zM639.2 126.6h1.3v1.3h-1.3zM652.8 121.3h1.7v1.7h-1.7zM657.1 79.1h1.4v1.4h-1.4zM672.0 106.6h1.4v1.4h-1.4zM671.4 103.7h1.4v1.4h-1.4zM683.1 83.9h1.2v1.2h-1.2zM676.1 98.1h1.1v1.1h-1.1zM657.5 61.4h1.0v1.0h-1.0zM671.2 83.5h1.7v1.7h-1.7zM643.9 111.0h1.3v1.3h-1.3zM631.9 148.2h1.5v1.5h-1.5zM656.7 129.7h1.9v1.9h-1.9zM658.7 152.6h1.6v1.6h-1.6zM659.3 104.6h1.8v1.8h-1.8zM640.9 121.2h1.8v1.8h-1.8zM638.8 131.7h2.0v2.0h-2.0zM656.9 110.6h1.1v1.1h-1.1zM638.8 139.5h1.4v1.4h-1.4zM650.2 131.7h1.9v1.9h-1.9zM689.0 77.6h1.5v1.5h-1.5zM635.5 107.1h1.9v1.9h-1.9zM621.6 129.6h1.2v1.2h-1.2zM658.4 91.6h1.1v1.1h-1.1zM652.2 106.3h1.9v1.9h-1.9zM677.1 119.9h1.4v1.4h-1.4zM646.6 123.8h1.5v1.5h-1.5zM659.9 134.9h1.9v1.9h-1.9zM633.0 125.4h1.2v1.2h-1.2zM625.3 131.0h2.0v2.0h-2.0zM695.8 120.2h1.4v1.4h-1.4zM658.6 139.3h1.2v1.2h-1.2zM648.7 99.1h1.2v1.2h-1.2zM652.9 116.1h1.5v1.5h-1.5zM674.1 139.9h1.5v1.5h-1.5zM640.7 154.3h1.9v1.9h-1.9zM656.0 101.1h1.1v1.1h-1.1zM671.4 115.0h1.0v1.0h-1.0zM665.9 111.7h1.2v1.2h-1.2zM642.7 83.4h1.6v1.6h-1.6zM704.4 97.2h1.8v1.8h-1.8zM683.1 98.7h1.5v1.5h-1.5zM640.7 140.4h1.6v1.6h-1.6zM642.1 124.8h1.6v1.6h-1.6zM660.9 86.3h1.0v1.0h-1.0zM634.3 101.3h1.2v1.2h-1.2zM658.2 115.9h2.0v2.0h-2.0zM641.8 121.6h1.3v1.3h-1.3zM667.0 64.3h1.9v1.9h-1.9zM636.6 128.2h1.5v1.5h-1.5zM698.9 101.8h1.2v1.2h-1.2zM654.3 100.1h1.0v1.0h-1.0zM666.8 128.3h1.2v1.2h-1.2zM665.7 141.1h1.3v1.3h-1.3zM676.9 83.0h1.4v1.4h-1.4zM675.8 103.8h1.4v1.4h-1.4zM664.9 72.3h1.5v1.5h-1.5zM668.6 84.8h1.5v1.5h-1.5zM651.0 128.7h1.0v1.0h-1.0zM644.5 109.5h1.3v1.3h-1.3zM628.4 138.6h2.0v2.0h-2.0zM700.2 95.6h1.0v1.0h-1.0zM681.2 106.8h1.7v1.7h-1.7zM651.9 122.2h1.5v1.5h-1.5zM649.3 98.6h1.7v1.7h-1.7zM648.3 133.3h1.3v1.3h-1.3zM642.3 111.2h1.4v1.4h-1.4zM660.4 102.1h1.5v1.5h-1.5zM671.2 90.7h1.9v1.9h-1.9zM656.9 119.1h1.3v1.3h-1.3zM648.8 110.9h1.1v1.1h-1.1zM663.3 125.6h1.0v1.0h-1.0zM682.4 107.6h1.9v1.9h-1.9zM633.9 144.4h1.3v1.3h-1.3zM656.1 121.8h1.1v1.1h-1.1zM647.4 117.8h1.6v1.6h-1.6zM670.6 97.0h1.8v1.8h-1.8zM661.2 145.6h1.6v1.6h-1.6zM664.0 87.3h1.2v1.2h-1.2zM660.1 89.6h1.4v1.4h-1.4zM669.9 87.1h1.3v1.3h-1.3zM644.8 126.1h1.0v1.0h-1.0zM652.1 129.3h2.0v2.0h-2.0z" fill="#1c1c1c" fill-opacity="0.85"/>
<path d="M634.4 162.8h1.4v1.4h-1.4zM632.6 131.5h1.9v1.9h-1.9zM651.0 131.8h1.2v1.2h-1.2zM647.9 147.3h1.2v1.2h-1.2zM630.3 165.1h1.9v1.9h-1.9zM656.6 129.0h1.3v1.3h-1.3zM646.4 105.2h1.3v1.3h-1.3zM632.8 169.0h1.9v1.9h-1.9zM679.2 141.4h1.3v1.3h-1.3zM644.8 117.1h2.0v2.0h-2.0zM647.4 113.3h1.8v1.8h-1.8zM661.8 185.1h1.8v1.8h-1.8zM660.6 134.2h1.2v1.2h-1.2zM676.7 137.0h1.2v1.2h-1.2zM666.2 138.6h1.8v1.8h-1.8zM618.8 147.6h1.8v1.8h-1.8zM683.0 116.7h1.2v1.2h-1.2zM656.9 127.0h1.2v1.2h-1.2zM641.7 127.7h1.2v1.2h-1.2zM674.5 108.6h1.1v1.1h-1.1zM658.6 128.1h1.4v1.4h-1.4zM666.7 117.8h1.5v1.5h-1.5zM642.8 112.3h1.6v1.6h-1.6zM680.6 140.7h1.1v1.1h-1.1zM640.2 145.9h1.2v1.2h-1.2zM670.3 124.2h1.1v1.1h-1.1zM635.9 111.7h1.3v1.3h-1.3zM639.7 117.3h1.2v1.2h-1.2zM644.7 157.0h1.9v1.9h-1.9zM654.3 147.8h1.4v1.4h-1.4zM695.2 76.0h1.1v1.1h-1.1zM645.8 114.7h1.7v1.7h-1.7zM627.4 141.9h2.0v2.0h-2.0zM628.4 139.4h1.8v1.8h-1.8zM637.6 148.3h1.6v1.6h-1.6zM618.8 146.9h1.4v1.4h-1.4zM637.2 167.5h1.4v1.4h-1.4zM661.2 141.9h1.3v1.3h-1.3zM656.4 111.9h1.8v1.8h-1.8zM638.6 112.0h1.8v1.8h-1.8zM689.9 96.9h1.5v1.5h-1.5zM631.3 132.3h1.9v1.9h-1.9zM629.9 115.0h1.7v1.7h-1.7zM647.7 157.4h1.7v1.7h-1.7zM643.0 131.0h1.3v1.3h-1.3zM646.8 109.0h1.2v1.2h-1.2zM645.4 126.6h1.2v1.2h-1.2zM643.4 156.9h1.9v1.9h-1.9zM659.1 170.0h1.8v1.8h-1.8zM665.1 162.1h1.9v1.9h-1.9zM642.2 163.0h1.8v1.8h-1.8zM617.3 151.5h1.8v1.8h-1.8zM658.1 137.4h1.4v1.4h-1.4zM647.1 170.8h1.8v1.8h-1.8zM640.0 153.5h1.2v1.2h-1.2zM659.8 132.3h1.7v1.7h-1.7zM646.1 184.7h1.0v1.0h-1.0zM649.6 121.3h2.0v2.0h-2.0zM615.2 145.4h1.9v1.9h-1.9zM638.3 168.1h1.2v1.2h-1.2zM630.2 135.2h1.8v1.8h-1.8zM660.6 157.9h1.8v1.8h-1.8zM636.9 138.8h1.0v1.0h-1.0zM669.8 111.2h1.6v1.6h-1.6zM641.2 130.8h1.4v1.4h-1.4zM615.2 160.1h1.6v1.6h-1.6zM639.6 144.4h1.9v1.9h-1.9zM659.0 132.5h1.7v1.7h-1.7zM653.3 132.9h1.2v1.2h-1.2zM609.8 141.9h1.6v1.6h-1.6zM630.2 140.1h1.6v1.6h-1.6zM636.8 147.6h1.0v1.0h-1.0zM619.6 154.1h1.1v1.1h-1.1zM648.2 138.9h1.4v1.4h-1.4zM646.2 153.1h1.2v1.2h-1.2zM633.0 133.4h1.2v1.2h-1.2zM671.3 148.3h1.7v1.7h-1.7zM654.0 158.2h2.0v2.0h-2.0zM682.7 117.9h1.5v1.5h-1.5zM662.6 167.2h1.6v1.6h-1.6zM646.3 131.8h1.8v1.8h-1.8zM652.5 145.0h1.7v1.7h-1.7zM646.5 133.7h1.7v1.7h-1.7zM654.6 104.3h1.0v1.0h-1.0zM645.1 163.2h1.9v1.9h-1.9zM669.7 129.0h1.2v1.2h-1.2zM648.2 165.9h1.2v1.2h-1.2zM675.2 138.3h1.5v1.5h-1.5zM635.7 163.5h1.6v1.6h-1.6zM625.4 130.6h1.8v1.8h-1.8zM653.1 158.7h1.3v1.3h-1.3zM633.6 140.7h1.9v1.9h-1.9zM670.4 124.9h1.6v1.6h-1.6zM650.3 110.0h1.8v1.8h-1.8zM659.8 144.4h1.5v1.5h-1.5zM631.0 144.4h1.1v1.1h-1.1zM676.9 129.7h1.0v1.0h-1.0zM602.7 141.8h1.6v1.6h-1.6zM618.3 159.1h1.4v1.4h-1.4zM653.8 143.2h1.4v1.4h-1.4zM637.8 134.1h1.3v1.3h-1.3zM638.2 126.1h1.2v1.2h-1.2zM639.7 132.5h1.5v1.5h-1.5zM690.1 86.0h1.3v1.3h-1.3zM625.9 146.4h1.9v1.9h-1.9zM622.8 133.6h1.2v1.2h-1.2zM630.3 146.0h2.0v2.0h-2.0zM653.4 114.6h1.9v1.9h-1.9zM622.3 143.0h1.4v1.4h-1.4zM633.1 160.0h1.8v1.8h-1.8zM659.2 148.4h1.6v1.6h-1.6zM653.3 156.5h1.5v1.5h-1.5zM651.0 130.6h1.8v1.8h-1.8zM608.3 168.7h1.8v1.8h-1.8zM673.8 130.4h1.2v1.2h-1.2zM659.7 137.0h1.9v1.9h-1.9zM638.6 141.9h1.0v1.0h-1.0zM651.9 156.6h1.0v1.0h-1.0zM649.3 127.2h1.5v1.5h-1.5zM650.8 146.7h1.3v1.3h-1.3zM641.8 123.5h1.4v1.4h-1.4zM671.7 102.1h1.5v1.5h-1.5zM666.0 146.1h1.5v1.5h-1.5zM659.2 114.1h1.9v1.9h-1.9zM641.5 117.4h1.9v1.9h-1.9zM612.9 133.5h1.3v1.3h-1.3zM639.6 97.3h1.3v1.3h-1.3zM646.1 116.0h1.7v1.7h-1.7zM633.9 155.0h1.2v1.2h-1.2zM658.6 134.7h1.4v1.4h-1.4zM673.6 101.7h1.7v1.7h-1.7zM651.3 113.5h1.0v1.0h-1.0zM658.4 122.2h1.8v1.8h-1.8zM641.3 145.0h1.7v1.7h-1.7zM649.6 138.6h1.4v1.4h-1.4zM646.6 124.1h1.2v1.2h-1.2zM648.2 156.6h1.5v1.5h-1.5zM620.1 166.9h1.3v1.3h-1.3zM633.8 84.8h1.8v1.8h-1.8zM648.0 155.2h1.6v1.6h-1.6zM659.7 188.5h1.3v1.3h-1.3zM634.4 199.9h1.8v1.8h-1.8zM677.8 110.0h1.6v1.6h-1.6zM649.7 143.1h1.1v1.1h-1.1zM647.0 160.3h1.4v1.4h-1.4zM631.2 157.4h1.5v1.5h-1.5zM646.4 107.5h1.9v1.9h-1.9zM645.6 144.7h1.3v1.3h-1.3zM646.0 172.0h1.4v1.4h-1.4zM633.7 118.3h2.0v2.0h-2.0zM638.0 131.5h1.4v1.4h-1.4zM641.0 150.2h1.8v1.8h-1.8zM651.2 157.5h1.1v1.1h-1.1zM651.4 157.5h1.4v1.4h-1.4zM657.9 142.9h1.2v1.2h-1.2zM635.4 143.7h1.9v1.9h-1.9zM641.2 164.0h1.6v1.6h-1.6zM684.9 131.3h1.2v1.2h-1.2zM666.5 110.9h1.1v1.1h-1.1zM650.2 143.1h1.4v1.4h-1.4zM665.4 146.8h1.1v1.1h-1.1zM649.2 110.5h1.5v1.5h-1.5zM656.3 159.9h1.7v1.7h-1.7zM648.9 128.0h1.3v1.3h-1.3zM657.5 108.6h1.2v1.2h-1.2zM639.1 138.6h1.4v1.4h-1.4zM634.9 182.8h1.2v1.2h-1.2zM626.6 157.1h1.8v1.8h-1.8zM647.9 156.6h1.1v1.1h-1.1zM647.4 137.5h1.7v1.7h-1.7zM626.8 170.3h1.3v1.3h-1.3zM634.0 168.8h1.7v1.7h-1.7zM652.2 128.3h1.8v1.8h-1.8zM678.9 97.2h1.1v1.1h-1.1zM656.9 124.6h1.8v1.8h-1.8zM657.4 146.8h1.9v1.9h-1.9zM645.4 104.0h1.6v1.6h-1.6zM666.9 117.7h1.6v1.6h-1.6zM665.2 119.3h1.3v1.3h-1.3zM618.8 153.7h1.2v1.2h-1.2zM673.0 99.8h1.7v1.7h-1.7zM635.2 167.9h1.8v1.8h-1.8zM621.3 130.6h1.2v1.2h-1.2zM601.1 172.4h1.1v1.1h-1.1zM650.7 130.0h1.4v1.4h-1.4zM648.5 143.2h1.6v1.6h-1.6zM629.7 108.8h1.4v1.4h-1.4zM634.3 136.5h2.0v2.0h-2.0zM626.6 157.8h1.8v1.8h-1.8zM643.3 136.7h1.9v1.9h-1.9zM624.7 162.9h1.6v1.6h-1.6zM659.4 86.7h1.8v1.8h-1.8zM631.1 173.0h2.0v2.0h-2.0zM660.8 126.8h1.0v1.0h-1.0zM646.7 166.3h1.6v1.6h-1.6zM624.8 144.4h1.2v1.2h-1.2zM639.4 147.9h1.8v1.8h-1.8zM664.1 125.5h1.2v1.2h-1.2zM659.0 143.0h1.7v1.7h-1.7zM659.8 140.6h1.3v1.3h-1.3zM612.1 154.2h1.7v1.7h-1.7zM640.5 110.1h1.7v1.7h-1.7zM643.2 141.6h1.9v1.9h-1.9zM636.6 143.0h1.9v1.9h-1.9zM634.0 89.3h1.4v1.4h-1.4zM686.4 133.7h1.7v1.7h-1.7zM648.1 135.4h1.2v1.2h-1.2zM678.9 133.7h1.1v1.1h-1.1zM634.8 161.3h1.7v1.7h-1.7zM652.5 143.8h1.9v1.9h-1.9zM657.9 137.3h1.7v1.7h-1.7zM643.5 145.1h1.5v1.5h-1.5zM631.9 145.3h1.6v1.6h-1.6zM644.6 137.9h1.7v1.7h-1.7zM653.0 171.4h1.6v1.6h-1.6zM629.6 129.1h1.4v1.4h-1.4zM652.1 107.9h1.9v1.9h-1.9zM653.9 125.3h1.4v1.4h-1.4zM653.1 132.0h1.9v1.9h-1.9zM641.6 148.2h1.8v1.8h-1.8zM645.3 78.1h1.8v1.8h-1.8zM654.1 137.7h1.8v1.8h-1.8zM618.8 148.3h2.0v2.0h-2.0zM669.4 88.5h2.0v2.0h-2.0zM679.4 96.5h1.5v1.5h-1.5zM654.7 137.7h1.4v1.4h-1.4zM669.9 131.1h1.7v1.7h-1.7zM655.0 128.0h2.0v2.0h-2.0zM666.5 141.8h1.6v1.6h-1.6zM645.7 112.0h1.0v1.0h-1.0zM644.4 151.5h1.0v1.0h-1.0zM636.0 146.3h1.5v1.5h-1.5zM633.4 154.0h1.8v1.8h-1.8zM665.1 134.2h1.9v1.9h-1.9zM673.3 150.3h1.4v1.4h-1.4zM685.8 159.9h1.5v1.5h-1.5zM666.0 118.7h1.5v1.5h-1.5zM607.8 126.6h1.1v1.1h-1.1zM648.3 140.5h1.0v1.0h-1.0zM654.3 86.4h1.5v1.5h-1.5z" fill="#1c1c1c" fill-opacity="0.85"/>
<path d="M625.2 149.0h1.4v1.4h-1.4zM615.3 164.9h1.2v1.2h-1.2zM631.7 146.0h1.1v1.1h-1.1zM628.2 178.7h1.6v1.6h-1.6zM623.0 131.8h1.8v1.8h-1.8zM658.7 120.1h1.1v1.1h-1.1zM649.7 164.7h1.3v1.3h-1.3zM631.5 149.3h1.3v1.3h-1.3zM651.3 101.9h1.5v1.5h-1.5zM647.1 163.0h1.6v1.6h-1.6zM623.9 176.5h1.4v1.4h-1.4zM671.8 163.8h1.9v1.9h-1.9zM626.7 173.2h1.4v1.4h-1.4zM646.9 141.9h1.3v1.3h-1.3zM628.5 182.9h1.8v1.8h-1.8zM644.7 155.9h1.8v1.8h-1.8zM663.9 138.6h1.9v1.9h-1.9zM646.7 148.7h1.2v1.2h-1.2zM623.2 176.9h1.2v1.2h-1.2zM635.8 147.6h1.5v1.5h-1.5zM629.2 147.2h2.0v2.0h-2.0zM682.5 138.2h1.6v1.6h-1.6zM638.2 165.9h1.6v1.6h-1.6zM650.5 168.7h1.3v1.3h-1.3zM644.2 146.5h2.0v2.0h-2.0zM636.8 160.5h1.2v1.2h-1.2zM634.2 180.5h1.6v1.6h-1.6zM635.9 173.6h1.7v1.7h-1.7zM652.8 160.0h1.8v1.8h-1.8zM650.2 162.5h1.8v1.8h-1.8zM634.3 178.4h1.4v1.4h-1.4zM637.7 161.0h1.3v1.3h-1.3zM650.2 160.1h2.0v2.0h-2.0zM617.7 199.2h1.6v1.6h-1.6zM634.7 194.5h1.3v1.3h-1.3zM602.2 189.0h1.1v1.1h-1.1zM637.8 201.3h1.8v1.8h-1.8zM623.9 182.6h1.8v1.8h-1.8zM609.7 153.5h1.6v1.6h-1.6zM642.0 166.6h1.4v1.4h-1.4zM647.2 165.4h1.7v1.7h-1.7zM633.7 162.6h2.0v2.0h-2.0zM637.5 165.4h1.6v1.6h-1.6zM665.2 118.1h1.8v1.8h-1.8zM632.8 146.6h1.9v1.9h-1.9zM646.7 181.0h1.8v1.8h-1.8zM613.6 171.7h1.5v1.5h-1.5zM631.7 154.0h1.2v1.2h-1.2zM632.8 97.8h1.7v1.7h-1.7zM651.0 152.5h1.8v1.8h-1.8zM616.7 173.8h2.0v2.0h-2.0zM662.9 157.4h1.2v1.2h-1.2zM607.8 163.1h1.1v1.1h-1.1zM668.1 145.5h1.6v1.6h-1.6zM607.1 146.5h1.8v1.8h-1.8zM653.0 123.4h1.1v1.1h-1.1zM651.0 131.3h1.6v1.6h-1.6zM628.0 159.6h1.3v1.3h-1.3zM673.1 134.4h2.0v2.0h-2.0zM601.0 192.9h1.4v1.4h-1.4zM654.9 115.5h1.1v1.1h-1.1zM621.7 183.3h1.8v1.8h-1.8zM635.5 156.6h1.3v1.3h-1.3zM628.5 162.8h1.4v1.4h-1.4zM636.6 166.8h1.1v1.1h-1.1zM624.7 169.9h1.3v1.3h-1.3zM652.1 167.1h1.1v1.1h-1.1zM641.2 146.5h1.3v1.3h-1.3zM649.4 146.7h1.6v1.6h-1.6zM657.2 135.9h1.3v1.3h-1.3zM675.8 127.1h1.7v1.7h-1.7zM632.5 153.0h1.9v1.9h-1.9zM654.9 140.3h1.6v1.6h-1.6zM619.0 146.6h1.0v1.0h-1.0zM620.2 195.5h2.0v2.0h-2.0zM657.0 144.6h1.2v1.2h-1.2zM635.1 189.0h1.3v1.3h-1.3zM636.3 168.8h1.5v1.5h-1.5zM633.3 140.7h1.6v1.6h-1.6zM605.8 152.8h1.3v1.3h-1.3zM605.1 161.4h1.4v1.4h-1.4zM644.0 146.3h1.6v1.6h-1.6zM653.3 138.5h1.5v1.5h-1.5zM634.6 170.6h1.3v1.3h-1.3zM640.7 167.4h1.4v1.4h-1.4zM629.8 141.5h1.4v1.4h-1.4zM638.7 155.3h1.3v1.3h-1.3zM645.2 167.7h1.6v1.6h-1.6zM654.1 116.8h1.5v1.5h-1.5zM606.5 146.6h1.4v1.4h-1.4z" fill="#1c1c1c" fill-opacity="0.85"/>
<path d="M678.0 119.5h1.3v1.3h-1.3zM718.4 134.3h1.2v1.2h-1.2zM706.4 50.6h1.3v1.3h-1.3zM723.9 93.3h1.7v1.7h-1.7zM687.1 48.6h1.6v1.6h-1.6zM674.2 77.4h1.2v1.2h-1.2zM698.4 49.8h1.4v1.4h-1.4zM702.3 109.7h1.7v1.7h-1.7zM649.6 81.3h1.2v1.2h-1.2zM661.4 139.5h1.6v1.6h-1.6zM586.2 92.0h1.5v1.5h-1.5zM625.3 88.6h1.6v1.6h-1.6zM738.1 81.0h1.0v1.0h-1.0zM706.2 72.9h1.6v1.6h-1.6zM787.3 139.7h1.7v1.7h-1.7zM750.7 54.5h1.1v1.1h-1.1zM650.5 146.0h1.4v1.4h-1.4zM691.3 95.2h1.0v1.0h-1.0zM715.0 57.3h1.4v1.4h-1.4zM734.8 105.7h1.5v1.5h-1.5zM721.6 79.5h1.5v1.5h-1.5zM723.1 78.2h1.6v1.6h-1.6zM742.9 147.9h1.1v1.1h-1.1zM741.0 124.6h1.0v1.0h-1.0zM728.5 2.2h1.6v1.6h-1.6zM737.6 94.6h0.9v0.9h-0.9zM704.3 94.2h1.1v1.1h-1.1zM637.4 84.5h1.1v1.1h-1.1zM729.6 158.9h1.5v1.5h-1.5zM672.0 70.6h1.3v1.3h-1.3zM765.3 71.5h1.6v1.6h-1.6zM793.3 106.9h1.4v1.4h-1.4zM660.2 142.4h1.6v1.6h-1.6zM776.2 50.5h1.5v1.5h-1.5zM770.2 94.3h1.6v1.6h-1.6zM766.9 90.5h1.1v1.1h-1.1zM629.0 124.1h1.2v1.2h-1.2zM741.7 184.6h1.4v1.4h-1.4zM777.6 131.4h1.4v1.4h-1.4zM689.3 85.2h1.5v1.5h-1.5zM686.7 73.4h1.5v1.5h-1.5zM687.6 8.3h1.1v1.1h-1.1zM708.0 103.9h1.0v1.0h-1.0zM815.5 133.8h1.5v1.5h-1.5zM678.4 126.5h1.4v1.4h-1.4zM644.8 82.1h1.1v1.1h-1.1zM616.0 159.6h0.9v0.9h-0.9zM726.7 60.3h0.9v0.9h-0.9zM697.3 141.1h1.1v1.1h-1.1zM722.3 119.5h1.1v1.1h-1.1zM661.4 80.8h1.1v1.1h-1.1zM704.3 140.0h0.9v0.9h-0.9zM662.7 62.4h1.0v1.0h-1.0zM751.5 69.6h1.2v1.2h-1.2zM748.5 114.2h1.0v1.0h-1.0zM739.6 171.3h1.1v1.1h-1.1zM731.0 134.5h1.3v1.3h-1.3zM658.7 78.6h1.6v1.6h-1.6zM729.0 163.3h1.6v1.6h-1.6zM762.6 193.0h1.2v1.2h-1.2zM714.0 112.7h1.0v1.0h-1.0zM745.3 105.7h1.1v1.1h-1.1zM697.2 65.2h1.4v1.4h-1.4zM744.6 64.3h1.2v1.2h-1.2zM723.1 51.1h1.4v1.4h-1.4zM749.3 65.9h1.5v1.5h-1.5zM738.0 44.6h1.4v1.4h-1.4zM680.2 149.8h1.6v1.6h-1.6zM663.8 107.6h1.0v1.0h-1.0zM678.5 17.2h1.1v1.1h-1.1zM713.9 121.4h0.9v0.9h-0.9zM650.2 126.8h1.3v1.3h-1.3zM664.2 66.9h1.4v1.4h-1.4zM700.3 79.1h1.1v1.1h-1.1zM803.2 45.9h0.9v0.9h-0.9zM733.2 142.6h1.3v1.3h-1.3zM610.9 39.2h1.0v1.0h-1.0zM725.3 86.7h1.1v1.1h-1.1zM717.3 148.3h1.2v1.2h-1.2zM683.3 64.6h1.7v1.7h-1.7zM577.2 112.8h1.2v1.2h-1.2zM658.2 116.9h1.5v1.5h-1.5zM710.4 52.4h1.2v1.2h-1.2zM777.6 146.2h1.2v1.2h-1.2zM738.2 60.0h1.0v1.0h-1.0zM681.7 84.2h1.0v1.0h-1.0zM681.3 62.3h1.5v1.5h-1.5zM719.6 113.7h1.2v1.2h-1.2zM716.4 85.8h1.1v1.1h-1.1zM758.1 112.1h1.7v1.7h-1.7zM576.8 80.7h1.6v1.6h-1.6zM697.4 141.7h1.1v1.1h-1.1zM686.5 95.5h1.2v1.2h-1.2zM670.2 130.3h1.4v1.4h-1.4zM679.9 82.1h1.0v1.0h-1.0zM666.6 126.2h1.2v1.2h-1.2zM676.0 41.3h1.1v1.1h-1.1zM728.0 78.3h1.5v1.5h-1.5zM716.1 119.2h1.0v1.0h-1.0zM754.2 144.7h1.7v1.7h-1.7zM674.1 98.7h1.1v1.1h-1.1zM641.9 168.7h1.2v1.2h-1.2zM719.9 158.0h1.0v1.0h-1.0zM685.6 27.1h1.6v1.6h-1.6zM768.9 108.5h1.6v1.6h-1.6zM706.0 107.1h1.0v1.0h-1.0zM729.0 125.3h1.3v1.3h-1.3zM628.4 146.3h1.2v1.2h-1.2zM676.2 87.3h1.4v1.4h-1.4zM777.7 140.0h1.2v1.2h-1.2zM684.8 34.5h1.7v1.7h-1.7zM707.3 125.5h1.1v1.1h-1.1zM696.4 57.7h1.6v1.6h-1.6zM664.4 57.3h1.1v1.1h-1.1zM709.7 136.1h1.4v1.4h-1.4zM746.1 77.2h1.2v1.2h-1.2zM710.6 126.1h1.3v1.3h-1.3zM677.0 99.4h1.3v1.3h-1.3zM795.6 112.8h1.4v1.4h-1.4zM739.7 88.5h1.0v1.0h-1.0zM701.9 39.9h0.9v0.9h-0.9zM698.9 150.3h1.7v1.7h-1.7zM794.5 150.5h1.1v1.1h-1.1zM730.9 107.0h1.2v1.2h-1.2zM673.0 98.9h1.1v1.1h-1.1zM727.6 75.2h1.4v1.4h-1.4zM742.0 67.6h1.7v1.7h-1.7zM619.9 66.5h1.2v1.2h-1.2zM625.1 52.9h1.2v1.2h-1.2zM750.9 97.4h1.2v1.2h-1.2zM709.8 149.0h0.9v0.9h-0.9zM756.7 85.8h1.0v1.0h-1.0zM759.8 119.6h0.9v0.9h-0.9zM700.1 121.8h1.2v1.2h-1.2zM635.8 75.1h1.7v1.7h-1.7zM695.1 128.2h1.0v1.0h-1.0zM683.3 100.2h1.3v1.3h-1.3zM743.6 158.6h1.1v1.1h-1.1zM734.5 153.2h0.9v0.9h-0.9zM681.8 93.4h1.6v1.6h-1.6zM714.3 93.6h1.0v1.0h-1.0zM677.2 167.8h1.0v1.0h-1.0zM690.9 68.3h1.6v1.6h-1.6zM721.9 174.8h1.1v1.1h-1.1zM703.6 151.8h1.1v1.1h-1.1zM680.3 86.3h1.7v1.7h-1.7zM669.0 99.6h1.1v1.1h-1.1zM782.6 61.1h1.6v1.6h-1.6zM773.7 66.7h1.1v1.1h-1.1zM689.5 136.8h1.4v1.4h-1.4zM728.4 115.7h1.1v1.1h-1.1zM625.8 118.8h1.2v1.2h-1.2zM654.0 202.6h1.6v1.6h-1.6zM690.4 112.2h1.6v1.6h-1.6zM648.4 86.8h1.0v1.0h-1.0zM641.9 142.3h1.5v1.5h-1.5zM688.2 126.4h1.0v1.0h-1.0zM669.2 86.0h1.1v1.1h-1.1zM758.0 68.1h1.0v1.0h-1.0zM618.9 120.4h1.4v1.4h-1.4zM648.6 88.3h1.5v1.5h-1.5zM741.0 73.9h1.5v1.5h-1.5zM739.5 79.1h1.5v1.5h-1.5zM767.1 155.4h1.2v1.2h-1.2zM678.8 96.9h1.0v1.0h-1.0zM662.6 112.6h0.9v0.9h-0.9zM751.7 50.0h1.3v1.3h-1.3zM741.3 54.7h1.6v1.6h-1.6zM661.3 37.1h1.3v1.3h-1.3zM794.7 107.2h1.4v1.4h-1.4zM711.0 79.3h1.6v1.6h-1.6zM748.0 25.1h1.6v1.6h-1.6zM701.2 188.9h1.5v1.5h-1.5zM682.8 105.7h1.4v1.4h-1.4zM730.3 74.2h1.1v1.1h-1.1zM701.0 141.5h1.5v1.5h-1.5zM708.7 119.1h1.2v1.2h-1.2zM684.3 117.0h1.5v1.5h-1.5zM702.5 160.3h1.1v1.1h-1.1zM732.6 95.7h1.7v1.7h-1.7zM589.9 132.2h1.0v1.0h-1.0zM734.0 70.2h1.5v1.5h-1.5zM610.1 61.6h1.6v1.6h-1.6zM741.7 64.5h1.0v1.0h-1.0zM679.3 113.4h1.6v1.6h-1.6zM755.1 104.3h1.4v1.4h-1.4zM695.5 84.1h1.4v1.4h-1.4zM773.4 145.5h1.1v1.1h-1.1zM695.7 51.9h1.2v1.2h-1.2zM664.4 127.0h1.1v1.1h-1.1zM667.5 138.9h1.3v1.3h-1.3zM716.3 116.1h1.4v1.4h-1.4zM729.4 123.9h1.5v1.5h-1.5zM661.5 92.6h1.5v1.5h-1.5zM805.3 59.1h1.2v1.2h-1.2zM678.6 145.5h1.2v1.2h-1.2zM692.8 74.1h1.5v1.5h-1.5zM640.5 125.4h1.7v1.7h-1.7zM745.9 158.2h1.1v1.1h-1.1zM702.4 144.7h1.2v1.2h-1.2zM653.5 111.4h1.1v1.1h-1.1zM669.5 111.6h1.7v1.7h-1.7zM733.8 145.6h0.9v0.9h-0.9zM655.5 153.2h1.6v1.6h-1.6zM678.7 66.0h1.5v1.5h-1.5zM692.3 49.4h1.2v1.2h-1.2zM700.2 116.0h1.4v1.4h-1.4zM691.0 125.4h1.2v1.2h-1.2zM685.8 105.2h1.4v1.4h-1.4zM635.2 106.6h1.2v1.2h-1.2zM661.7 87.9h1.6v1.6h-1.6zM695.8 112.3h1.3v1.3h-1.3zM625.9 45.6h1.5v1.5h-1.5zM686.4 123.0h1.4v1.4h-1.4zM716.2 138.9h1.2v1.2h-1.2zM758.5 123.9h1.7v1.7h-1.7zM699.1 65.8h1.1v1.1h-1.1zM657.4 87.2h1.6v1.6h-1.6zM712.0 113.4h1.7v1.7h-1.7zM700.2 99.2h1.6v1.6h-1.6zM728.4 112.9h1.4v1.4h-1.4zM713.4 116.7h1.4v1.4h-1.4zM675.4 65.8h1.6v1.6h-1.6zM722.1 120.8h1.2v1.2h-1.2zM690.1 89.2h1.6v1.6h-1.6zM802.5 76.2h1.5v1.5h-1.5zM690.2 115.1h1.6v1.6h-1.6zM648.1 109.5h1.3v1.3h-1.3zM780.9 140.5h1.4v1.4h-1.4zM728.4 127.5h1.0v1.0h-1.0zM705.0 141.4h1.0v1.0h-1.0zM693.0 88.9h1.0v1.0h-1.0zM704.6 139.4h1.5v1.5h-1.5zM714.9 130.6h1.2v1.2h-1.2zM608.9 150.3h1.6v1.6h-1.6zM805.3 155.7h1.0v1.0h-1.0zM685.7 72.8h1.0v1.0h-1.0zM712.5 67.5h1.6v1.6h-1.6zM732.7 85.0h1.2v1.2h-1.2zM743.2 156.8h1.1v1.1h-1.1zM608.5 116.1h1.5v1.5h-1.5zM668.6 51.4h1.1v1.1h-1.1zM672.2 96.7h1.7v1.7h-1.7zM746.5 47.2h1.1v1.1h-1.1zM747.3 181.7h1.6v1.6h-1.6zM726.9 125.7h1.3v1.3h-1.3zM699.4 60.3h1.6v1.6h-1.6zM724.1 119.6h1.1v1.1h-1.1zM732.9 202.6h1.6v1.6h-1.6zM732.8 121.2h1.1v1.1h-1.1zM770.3 53.9h1.3v1.3h-1.3zM648.6 90.7h1.4v1.4h-1.4zM670.5 131.4h1.3v1.3h-1.3zM685.7 171.1h1.4v1.4h-1.4zM768.4 134.3h1.5v1.5h-1.5zM682.6 128.4h1.1v1.1h-1.1zM736.5 64.5h0.9v0.9h-0.9zM715.7 131.8h1.5v1.5h-1.5zM709.7 164.7h1.4v1.4h-1.4zM754.6 73.6h1.4v1.4h-1.4zM705.6 73.3h1.3v1.3h-1.3zM726.1 72.0h1.6v1.6h-1.6zM741.5 119.7h1.1v1.1h-1.1zM743.7 99.5h1.6v1.6h-1.6zM634.5 172.1h1.0v1.0h-1.0zM692.2 157.3h1.5v1.5h-1.5zM719.4 130.6h1.7v1.7h-1.7zM782.3 117.9h1.0v1.0h-1.0zM763.0 48.6h1.5v1.5h-1.5zM739.2 95.8h1.1v1.1h-1.1zM694.0 105.3h0.9v0.9h-0.9zM715.6 168.0h1.2v1.2h-1.2zM616.6 106.7h1.5v1.5h-1.5zM667.8 149.3h1.1v1.1h-1.1zM681.0 122.4h1.7v1.7h-1.7zM682.1 130.4h0.9v0.9h-0.9zM745.7 89.9h1.1v1.1h-1.1zM702.2 51.0h1.2v1.2h-1.2zM713.7 137.5h1.2v1.2h-1.2zM675.0 147.6h1.1v1.1h-1.1zM606.7 34.6h0.9v0.9h-0.9zM637.5 86.6h1.1v1.1h-1.1zM700.8 102.0h1.1v1.1h-1.1zM697.0 132.5h1.4v1.4h-1.4zM678.8 57.0h1.2v1.2h-1.2zM644.0 185.3h1.5v1.5h-1.5zM594.2 98.3h1.3v1.3h-1.3zM765.6 123.4h1.2v1.2h-1.2zM662.7 105.1h1.0v1.0h-1.0zM738.9 150.9h1.1v1.1h-1.1zM659.5 133.9h1.6v1.6h-1.6zM711.4 147.0h1.3v1.3h-1.3zM762.6 92.0h1.2v1.2h-1.2zM634.8 120.0h1.1v1.1h-1.1zM779.9 131.1h1.6v1.6h-1.6zM710.4 196.2h1.5v1.5h-1.5zM653.2 139.3h1.5v1.5h-1.5zM674.3 106.9h1.5v1.5h-1.5zM704.0 162.6h1.1v1.1h-1.1zM657.9 84.7h1.5v1.5h-1.5zM628.3 123.5h1.0v1.0h-1.0zM679.4 121.0h1.4v1.4h-1.4zM651.7 91.3h1.2v1.2h-1.2zM746.8 98.4h1.4v1.4h-1.4zM728.2 125.1h1.1v1.1h-1.1zM684.1 45.7h1.2v1.2h-1.2zM744.3 111.5h1.4v1.4h-1.4zM744.2 28.5h1.7v1.7h-1.7zM625.5 23.6h1.2v1.2h-1.2zM660.5 144.6h1.0v1.0h-1.0zM725.5 103.7h1.0v1.0h-1.0zM705.9 133.9h1.4v1.4h-1.4zM686.4 120.1h1.6v1.6h-1.6zM706.3 21.9h0.9v0.9h-0.9zM682.7 156.6h1.2v1.2h-1.2zM682.2 99.6h1.0v1.0h-1.0zM672.7 86.6h1.7v1.7h-1.7zM750.6 94.8h1.0v1.0h-1.0zM654.0 -13.2h1.0v1.0h-1.0zM674.2 30.3h1.5v1.5h-1.5zM617.9 135.2h1.7v1.7h-1.7zM731.9 32.1h1.5v1.5h-1.5zM738.3 122.5h1.0v1.0h-1.0zM664.7 132.9h1.2v1.2h-1.2zM626.8 59.2h1.3v1.3h-1.3zM635.2 62.8h1.6v1.6h-1.6zM739.5 54.3h1.5v1.5h-1.5zM648.2 68.8h0.9v0.9h-0.9zM708.8 92.1h1.3v1.3h-1.3zM738.8 78.0h1.5v1.5h-1.5zM642.0 85.8h1.3v1.3h-1.3zM701.6 69.5h1.4v1.4h-1.4zM712.3 173.8h1.7v1.7h-1.7zM673.5 106.4h1.7v1.7h-1.7zM760.4 80.0h1.6v1.6h-1.6zM661.4 63.0h1.4v1.4h-1.4zM717.3 124.0h1.1v1.1h-1.1zM692.7 106.0h1.0v1.0h-1.0zM756.6 137.3h1.0v1.0h-1.0zM636.1 103.9h1.4v1.4h-1.4zM703.8 131.5h1.5v1.5h-1.5zM688.9 79.6h1.6v1.6h-1.6zM678.3 36.5h1.6v1.6h-1.6zM697.7 81.3h1.1v1.1h-1.1zM719.7 64.9h1.2v1.2h-1.2zM679.0 66.6h1.1v1.1h-1.1zM650.6 130.4h1.3v1.3h-1.3zM677.6 120.6h1.7v1.7h-1.7zM648.1 107.3h1.5v1.5h-1.5zM622.4 85.4h1.2v1.2h-1.2zM675.7 125.7h1.0v1.0h-1.0zM706.3 96.8h1.6v1.6h-1.6zM735.9 110.7h1.6v1.6h-1.6zM722.3 132.5h1.5v1.5h-1.5zM695.1 92.2h1.1v1.1h-1.1zM712.8 87.5h1.2v1.2h-1.2zM715.5 145.4h1.4v1.4h-1.4zM736.4 88.8h1.6v1.6h-1.6zM640.2 101.2h1.1v1.1h-1.1zM692.3 145.2h1.2v1.2h-1.2zM680.7 95.3h0.9v0.9h-0.9zM731.0 85.1h0.9v0.9h-0.9zM690.8 168.2h1.1v1.1h-1.1zM764.8 127.1h1.5v1.5h-1.5zM709.9 66.5h1.4v1.4h-1.4zM723.0 105.4h1.3v1.3h-1.3zM707.8 83.5h1.2v1.2h-1.2zM697.3 96.2h1.1v1.1h-1.1zM712.0 157.4h1.5v1.5h-1.5zM714.1 40.3h1.3v1.3h-1.3zM654.3 43.1h1.0v1.0h-1.0zM662.2 124.4h1.4v1.4h-1.4zM715.9 80.5h1.7v1.7h-1.7zM709.8 74.5h1.0v1.0h-1.0zM634.1 49.9h1.7v1.7h-1.7zM659.3 157.0h1.0v1.0h-1.0zM637.6 150.3h1.1v1.1h-1.1zM757.4 96.2h1.7v1.7h-1.7zM695.6 79.9h1.7v1.7h-1.7zM696.7 128.1h1.0v1.0h-1.0zM698.2 140.9h1.5v1.5h-1.5zM751.0 116.1h1.4v1.4h-1.4zM712.4 100.7h1.2v1.2h-1.2zM713.3 60.8h1.5v1.5h-1.5zM715.9 110.8h1.4v1.4h-1.4zM659.0 184.6h1.1v1.1h-1.1zM654.0 70.1h1.3v1.3h-1.3zM710.2 29.6h1.5v1.5h-1.5zM662.1 45.2h1.4v1.4h-1.4zM654.2 98.0h1.3v1.3h-1.3zM712.0 144.9h1.5v1.5h-1.5zM733.8 147.9h1.0v1.0h-1.0zM724.0 85.2h0.9v0.9h-0.9zM747.7 84.4h0.9v0.9h-0.9zM670.0 161.0h1.4v1.4h-1.4zM733.0 111.3h1.2v1.2h-1.2zM731.3 136.3h1.6v1.6h-1.6zM636.3 99.4h1.7v1.7h-1.7zM644.5 107.6h1.0v1.0h-1.0zM667.4 154.5h1.2v1.2h-1.2zM720.8 72.1h1.2v1.2h-1.2zM696.7 56.9h1.3v1.3h-1.3zM699.3 123.7h1.6v1.6h-1.6zM709.3 29.6h1.4v1.4h-1.4zM682.4 122.2h1.1v1.1h-1.1zM711.2 146.9h1.4v1.4h-1.4zM639.7 122.7h1.2v1.2h-1.2zM668.2 110.3h1.3v1.3h-1.3zM715.7 128.9h1.0v1.0h-1.0zM671.5 109.9h1.4v1.4h-1.4zM644.9 49.3h1.3v1.3h-1.3zM722.4 100.8h1.4v1.4h-1.4zM624.6 70.5h1.4v1.4h-1.4zM698.3 161.9h1.4v1.4h-1.4zM744.4 133.1h1.5v1.5h-1.5zM617.1 99.1h1.0v1.0h-1.0zM718.8 117.8h1.5v1.5h-1.5zM716.1 93.9h1.4v1.4h-1.4zM776.5 158.9h1.5v1.5h-1.5zM693.2 65.6h1.2v1.2h-1.2zM789.8 81.8h1.0v1.0h-1.0zM751.2 175.3h1.6v1.6h-1.6zM654.9 113.8h1.6v1.6h-1.6zM681.7 122.3h1.7v1.7h-1.7zM711.8 176.7h1.3v1.3h-1.3zM723.9 102.4h1.6v1.6h-1.6zM748.0 92.4h1.6v1.6h-1.6zM680.9 187.8h1.3v1.3h-1.3zM660.4 84.2h1.6v1.6h-1.6zM699.3 62.6h1.6v1.6h-1.6zM602.5 142.9h1.0v1.0h-1.0zM662.1 82.2h1.0v1.0h-1.0zM680.6 65.5h1.2v1.2h-1.2zM649.0 108.9h1.3v1.3h-1.3zM805.2 130.7h1.4v1.4h-1.4zM731.0 45.6h1.4v1.4h-1.4zM696.3 57.8h1.6v1.6h-1.6zM732.1 94.1h1.5v1.5h-1.5zM699.1 99.4h1.0v1.0h-1.0zM671.1 44.9h1.2v1.2h-1.2zM723.4 50.2h1.6v1.6h-1.6zM644.2 91.4h1.5v1.5h-1.5zM665.6 112.7h0.9v0.9h-0.9zM742.8 112.2h1.4v1.4h-1.4zM706.2 103.6h1.0v1.0h-1.0zM736.0 32.6h1.3v1.3h-1.3zM713.9 67.3h1.7v1.7h-1.7zM641.9 102.9h1.0v1.0h-1.0zM679.9 124.9h1.6v1.6h-1.6zM746.9 14.4h1.3v1.3h-1.3z" fill="#4a4a4a" fill-opacity="0.70"/>
<path d="M571.3 113.5h1.0v1.0h-1.0zM652.8 136.3h1.6v1.6h-1.6zM606.2 149.4h0.9v0.9h-0.9zM595.7 141.9h1.5v1.5h-1.5zM563.0 128.7h1.5v1.5h-1.5zM606.8 153.5h1.2v1.2h-1.2zM649.5 118.6h1.5v1.5h-1.5zM670.0 125.2h1.6v1.6h-1.6zM567.4 80.5h1.0v1.0h-1.0zM668.1 137.8h1.4v1.4h-1.4zM606.9 121.3h0.9v0.9h-0.9zM594.4 173.8h1.4v1.4h-1.4zM622.7 184.8h0.9v0.9h-0.9zM619.4 81.2h1.4v1.4h-1.4zM648.6 130.8h0.9v0.9h-0.9zM618.4 179.2h1.2v1.2h-1.2zM617.6 169.0h1.5v1.5h-1.5zM624.9 121.2h1.1v1.1h-1.1zM639.2 125.0h1.6v1.6h-1.6zM659.4 164.0h1.2v1.2h-1.2zM626.8 155.2h1.0v1.0h-1.0zM640.8 133.1h1.6v1.6h-1.6zM650.1 134.3h1.0v1.0h-1.0zM642.3 116.2h1.3v1.3h-1.3zM627.9 150.4h1.6v1.6h-1.6zM602.9 129.6h1.6v1.6h-1.6zM610.1 158.3h1.3v1.3h-1.3zM604.9 151.0h1.0v1.0h-1.0zM667.8 149.0h1.3v1.3h-1.3zM580.0 143.3h1.1v1.1h-1.1zM654.3 133.0h1.1v1.1h-1.1zM656.2 155.6h1.1v1.1h-1.1zM637.0 133.7h1.0v1.0h-1.0zM610.9 133.8h0.9v0.9h-0.9zM627.0 153.3h1.4v1.4h-1.4zM637.0 132.7h0.9v0.9h-0.9zM627.1 150.0h1.3v1.3h-1.3zM579.8 121.1h1.2v1.2h-1.2zM603.0 135.2h1.4v1.4h-1.4zM617.6 133.9h1.3v1.3h-1.3zM600.9 157.2h1.2v1.2h-1.2zM633.2 99.3h1.4v1.4h-1.4zM625.8 112.2h1.3v1.3h-1.3zM673.1 129.0h1.5v1.5h-1.5zM614.4 142.5h1.3v1.3h-1.3zM619.8 138.9h1.5v1.5h-1.5zM668.8 146.1h1.5v1.5h-1.5zM648.8 168.6h1.4v1.4h-1.4zM598.2 182.7h1.1v1.1h-1.1zM644.7 164.4h1.2v1.2h-1.2zM601.3 160.9h1.0v1.0h-1.0zM637.1 127.0h1.4v1.4h-1.4zM689.4 154.6h1.4v1.4h-1.4zM618.8 145.3h1.5v1.5h-1.5zM651.0 168.7h1.0v1.0h-1.0zM641.8 170.9h1.0v1.0h-1.0zM666.7 109.6h1.4v1.4h-1.4zM611.9 117.0h1.4v1.4h-1.4zM628.3 176.6h1.0v1.0h-1.0zM643.8 114.4h0.9v0.9h-0.9zM617.3 166.2h1.1v1.1h-1.1zM610.7 138.1h1.1v1.1h-1.1zM634.1 95.0h0.9v0.9h-0.9zM647.4 149.1h1.0v1.0h-1.0zM641.5 116.0h1.0v1.0h-1.0zM604.1 125.6h0.9v0.9h-0.9zM632.6 142.3h1.0v1.0h-1.0zM629.1 185.3h0.9v0.9h-0.9zM662.1 122.5h1.2v1.2h-1.2zM607.3 183.4h1.4v1.4h-1.4zM616.7 175.0h1.4v1.4h-1.4zM670.3 126.9h1.3v1.3h-1.3zM618.0 142.6h1.2v1.2h-1.2zM601.4 116.1h1.0v1.0h-1.0zM614.3 161.8h0.9v0.9h-0.9zM613.0 135.3h1.0v1.0h-1.0zM612.5 106.4h1.6v1.6h-1.6zM667.1 81.9h1.5v1.5h-1.5zM607.2 154.5h1.3v1.3h-1.3zM586.5 155.6h1.3v1.3h-1.3zM660.6 119.0h1.4v1.4h-1.4zM631.4 112.7h1.5v1.5h-1.5zM639.7 142.7h1.1v1.1h-1.1zM631.6 174.6h1.5v1.5h-1.5zM638.7 174.1h1.4v1.4h-1.4zM643.3 110.5h1.1v1.1h-1.1zM632.9 152.7h1.1v1.1h-1.1zM585.1 173.8h1.0v1.0h-1.0zM627.4 149.7h1.3v1.3h-1.3zM600.4 142.3h1.6v1.6h-1.6zM633.9 132.3h1.5v1.5h-1.5zM627.8 87.5h1.0v1.0h-1.0zM663.7 112.6h1.0v1.0h-1.0zM564.4 116.5h1.1v1.1h-1.1zM602.2 154.1h1.0v1.0h-1.0zM599.9 147.6h1.0v1.0h-1.0zM598.7 195.6h1.4v1.4h-1.4zM640.8 189.4h1.1v1.1h-1.1zM597.1 157.0h1.3v1.3h-1.3zM598.7 154.9h1.1v1.1h-1.1zM644.5 100.6h1.6v1.6h-1.6zM593.7 111.3h1.3v1.3h-1.3zM583.4 122.1h1.0v1.0h-1.0zM598.6 104.3h1.4v1.4h-1.4zM628.2 154.0h1.1v1.1h-1.1zM588.6 126.4h1.2v1.2h-1.2zM625.6 134.6h1.1v1.1h-1.1zM605.8 160.6h1.2v1.2h-1.2zM649.1 157.3h1.1v1.1h-1.1zM619.5 190.0h1.1v1.1h-1.1zM674.1 130.3h1.0v1.0h-1.0zM622.0 170.0h1.6v1.6h-1.6zM602.9 150.2h1.0v1.0h-1.0zM626.6 122.7h1.1v1.1h-1.1zM618.8 101.0h1.2v1.2h-1.2zM610.1 90.4h1.0v1.0h-1.0zM689.1 177.9h1.1v1.1h-1.1zM659.7 147.8h1.2v1.2h-1.2zM653.2 172.0h1.3v1.3h-1.3zM653.7 163.2h1.3v1.3h-1.3zM599.7 150.9h1.2v1.2h-1.2zM610.2 110.7h1.4v1.4h-1.4zM593.2 150.8h1.4v1.4h-1.4zM654.6 105.9h1.1v1.1h-1.1zM674.0 176.9h1.1v1.1h-1.1zM614.5 128.5h1.3v1.3h-1.3zM623.1 164.6h1.2v1.2h-1.2zM614.4 112.4h1.5v1.5h-1.5zM634.7 88.4h0.9v0.9h-0.9zM629.0 169.0h1.3v1.3h-1.3zM633.6 159.5h1.1v1.1h-1.1zM638.9 158.2h1.0v1.0h-1.0zM629.1 119.3h1.5v1.5h-1.5zM618.7 138.2h1.1v1.1h-1.1zM660.2 180.7h1.5v1.5h-1.5zM636.8 121.2h1.5v1.5h-1.5zM604.6 135.3h1.6v1.6h-1.6zM663.9 148.4h1.0v1.0h-1.0zM623.5 120.9h1.0v1.0h-1.0zM649.7 147.2h1.0v1.0h-1.0zM623.6 142.6h1.1v1.1h-1.1zM672.2 136.0h1.5v1.5h-1.5zM672.3 171.1h1.4v1.4h-1.4zM626.5 162.1h1.0v1.0h-1.0zM621.5 119.3h1.0v1.0h-1.0zM617.5 117.3h1.4v1.4h-1.4zM639.3 140.4h1.3v1.3h-1.3zM640.9 160.7h0.9v0.9h-0.9zM537.6 147.8h1.3v1.3h-1.3zM574.6 144.2h1.0v1.0h-1.0zM600.4 142.6h1.1v1.1h-1.1zM663.2 97.3h1.0v1.0h-1.0zM630.3 138.0h1.6v1.6h-1.6zM572.0 156.2h1.2v1.2h-1.2zM626.0 127.3h1.3v1.3h-1.3zM604.8 220.3h1.0v1.0h-1.0zM614.0 95.0h1.2v1.2h-1.2zM598.9 130.8h1.4v1.4h-1.4zM614.2 138.0h1.4v1.4h-1.4zM595.7 153.5h1.5v1.5h-1.5zM611.5 106.0h1.1v1.1h-1.1zM602.2 130.4h1.1v1.1h-1.1zM648.8 152.1h1.2v1.2h-1.2zM615.5 140.5h1.1v1.1h-1.1zM631.0 191.0h1.5v1.5h-1.5zM607.7 151.7h1.2v1.2h-1.2zM645.3 116.2h1.2v1.2h-1.2zM630.3 144.1h1.3v1.3h-1.3zM611.8 154.2h1.3v1.3h-1.3zM653.8 168.3h1.1v1.1h-1.1zM619.6 144.7h0.9v0.9h-0.9zM690.8 112.4h1.4v1.4h-1.4zM631.2 162.2h1.0v1.0h-1.0zM629.2 156.4h1.5v1.5h-1.5zM629.8 158.8h1.1v1.1h-1.1zM660.9 134.5h1.1v1.1h-1.1zM630.5 138.6h1.3v1.3h-1.3zM613.7 139.5h1.5v1.5h-1.5zM593.3 158.6h1.2v1.2h-1.2zM672.7 182.6h1.2v1.2h-1.2zM660.7 115.9h1.2v1.2h-1.2zM667.6 122.1h1.0v1.0h-1.0zM623.5 186.2h1.1v1.1h-1.1zM595.0 161.0h1.5v1.5h-1.5zM632.9 136.2h1.6v1.6h-1.6zM600.5 150.6h1.1v1.1h-1.1zM612.0 166.1h1.5v1.5h-1.5zM659.3 105.5h0.9v0.9h-0.9zM610.9 132.0h1.4v1.4h-1.4zM591.9 112.1h0.9v0.9h-0.9zM627.5 134.8h1.2v1.2h-1.2zM578.7 126.5h1.2v1.2h-1.2zM639.5 109.8h1.2v1.2h-1.2zM599.1 179.7h1.6v1.6h-1.6zM661.9 99.5h1.1v1.1h-1.1zM587.2 149.4h0.9v0.9h-0.9zM591.6 133.7h1.0v1.0h-1.0zM612.4 154.0h1.4v1.4h-1.4zM554.2 84.9h1.0v1.0h-1.0zM590.7 165.3h0.9v0.9h-0.9z" fill="#4a4a4a" fill-opacity="0.60"/>
<path d="M1049.5 27.9h1.8v1.8h-1.8zM1043.7 65.2h1.3v1.3h-1.3zM1046.5 62.5h2.0v2.0h-2.0zM1050.1 55.2h1.6v1.6h-1.6zM1035.6 67.7h1.7v1.7h-1.7zM1029.4 56.5h1.7v1.7h-1.7zM1028.3 9.7h1.2v1.2h-1.2zM1036.0 94.4h1.9v1.9h-1.9zM1044.3 56.5h1.6v1.6h-1.6zM1020.4 28.2h1.2v1.2h-1.2zM1067.3 57.8h1.4v1.4h-1.4zM1040.8 67.1h1.1v1.1h-1.1zM1059.0 53.3h1.4v1.4h-1.4zM1064.7 52.8h2.0v2.0h-2.0zM1056.2 83.9h1.4v1.4h-1.4zM1009.7 37.2h1.4v1.4h-1.4zM1061.7 71.4h1.8v1.8h-1.8zM1078.6 90.8h1.1v1.1h-1.1zM1029.4 66.8h1.1v1.1h-1.1zM1000.6 11.8h1.7v1.7h-1.7zM1039.4 50.5h1.1v1.1h-1.1zM1023.1 31.9h1.6v1.6h-1.6zM1038.4 22.2h1.8v1.8h-1.8zM1049.5 34.1h1.6v1.6h-1.6zM1075.0 75.4h1.1v1.1h-1.1zM1034.8 34.1h1.2v1.2h-1.2zM1030.4 57.6h1.5v1.5h-1.5zM1053.5 66.9h2.0v2.0h-2.0zM1035.0 44.3h1.7v1.7h-1.7zM1041.4 74.0h1.7v1.7h-1.7zM1058.8 26.9h1.6v1.6h-1.6zM1054.2 103.2h1.3v1.3h-1.3zM1039.0 59.9h1.6v1.6h-1.6zM1045.9 34.2h1.0v1.0h-1.0zM1038.7 43.5h1.4v1.4h-1.4zM1050.2 28.8h1.8v1.8h-1.8zM1029.3 49.5h1.2v1.2h-1.2zM1033.8 41.9h1.6v1.6h-1.6zM1017.7 7.5h1.7v1.7h-1.7zM1053.4 40.9h1.2v1.2h-1.2zM1014.3 18.9h1.9v1.9h-1.9zM1024.4 38.6h1.2v1.2h-1.2zM1027.4 47.6h2.0v2.0h-2.0zM1054.2 34.4h1.3v1.3h-1.3zM1042.9 47.9h1.6v1.6h-1.6zM1053.4 62.5h1.9v1.9h-1.9zM1024.9 49.8h1.8v1.8h-1.8zM1044.8 81.6h1.5v1.5h-1.5zM1046.9 76.7h1.2v1.2h-1.2zM1038.6 74.2h1.6v1.6h-1.6zM1044.1 60.8h1.6v1.6h-1.6zM1012.5 71.8h1.1v1.1h-1.1zM1043.0 50.6h1.4v1.4h-1.4zM1036.0 44.2h1.9v1.9h-1.9zM1056.6 49.2h1.5v1.5h-1.5zM1012.7 12.9h1.2v1.2h-1.2zM1017.6 20.4h1.6v1.6h-1.6zM1027.7 63.0h1.5v1.5h-1.5zM1055.6 89.3h1.9v1.9h-1.9zM1047.6 32.3h1.5v1.5h-1.5zM1030.0 35.8h1.0v1.0h-1.0zM1014.3 9.5h1.2v1.2h-1.2zM1032.0 56.3h1.2v1.2h-1.2zM1034.7 45.8h2.0v2.0h-2.0zM1036.8 33.5h1.4v1.4h-1.4zM1017.2 16.0h1.3v1.3h-1.3zM1056.6 85.3h2.0v2.0h-2.0zM1056.3 52.7h1.2v1.2h-1.2zM1066.5 76.4h1.6v1.6h-1.6zM1048.3 69.4h1.9v1.9h-1.9zM1016.0 39.3h1.9v1.9h-1.9zM1038.0 53.6h1.2v1.2h-1.2zM1045.7 61.2h1.5v1.5h-1.5zM1029.8 47.4h1.3v1.3h-1.3zM1034.4 44.0h1.7v1.7h-1.7zM1050.1 27.7h1.2v1.2h-1.2zM1037.9 34.5h1.2v1.2h-1.2zM1025.8 60.6h1.3v1.3h-1.3zM1018.2 17.8h1.1v1.1h-1.1zM1026.1 -1.3h1.7v1.7h-1.7zM1061.2 25.7h1.3v1.3h-1.3zM1015.8 14.5h1.4v1.4h-1.4zM1042.3 52.8h1.3v1.3h-1.3zM1004.2 50.4h1.4v1.4h-1.4zM1048.5 42.6h1.3v1.3h-1.3zM1052.7 91.2h1.4v1.4h-1.4zM1021.1 52.6h1.7v1.7h-1.7zM1034.1 59.8h1.2v1.2h-1.2zM1055.3 49.7h1.7v1.7h-1.7zM1049.7 73.3h1.3v1.3h-1.3zM1037.1 25.7h1.1v1.1h-1.1zM1055.9 69.3h1.1v1.1h-1.1zM1032.6 57.5h1.9v1.9h-1.9zM1060.0 44.0h1.0v1.0h-1.0zM1036.3 71.8h1.3v1.3h-1.3zM1030.8 81.3h1.9v1.9h-1.9zM1035.0 65.0h1.1v1.1h-1.1zM1062.6 83.0h1.2v1.2h-1.2zM1039.8 100.2h1.3v1.3h-1.3zM1027.1 81.2h1.8v1.8h-1.8zM1060.9 63.5h1.1v1.1h-1.1zM1049.7 77.9h1.9v1.9h-1.9zM1043.1 61.7h1.1v1.1h-1.1zM1049.6 84.1h1.6v1.6h-1.6zM1025.8 40.9h1.8v1.8h-1.8zM1057.5 62.1h1.6v1.6h-1.6zM1039.4 40.3h1.5v1.5h-1.5zM1028.5 41.8h1.4v1.4h-1.4zM1029.3 86.4h1.3v1.3h-1.3zM1041.9 84.0h2.0v2.0h-2.0zM1037.5 85.1h1.4v1.4h-1.4zM1027.1 49.0h1.6v1.6h-1.6zM1045.4 57.8h1.6v1.6h-1.6zM1040.7 39.0h2.0v2.0h-2.0zM1051.8 37.8h1.2v1.2h-1.2zM1046.5 62.7h1.2v1.2h-1.2zM1037.2 56.6h1.9v1.9h-1.9zM1055.9 62.9h1.5v1.5h-1.5zM1058.2 38.5h1.6v1.6h-1.6zM1036.9 -7.7h1.6v1.6h-1.6zM1080.6 71.2h1.8v1.8h-1.8zM1027.8 72.2h1.8v1.8h-1.8zM1014.7 53.9h1.7v1.7h-1.7zM1050.7 97.0h1.0v1.0h-1.0zM1060.9 105.7h1.8v1.8h-1.8zM1024.9 40.5h1.0v1.0h-1.0zM1050.5 33.7h1.9v1.9h-1.9zM996.7 41.8h1.0v1.0h-1.0zM1033.8 40.7h1.8v1.8h-1.8zM1030.4 39.4h1.6v1.6h-1.6zM1042.1 44.4h1.0v1.0h-1.0zM1042.6 17.2h1.8v1.8h-1.8zM1027.5 38.9h1.6v1.6h-1.6zM1052.1 102.9h1.1v1.1h-1.1zM1056.0 93.7h1.9v1.9h-1.9zM1055.0 41.3h1.6v1.6h-1.6zM1066.0 37.5h1.5v1.5h-1.5zM1016.6 57.6h1.9v1.9h-1.9zM1030.3 67.2h1.2v1.2h-1.2zM1052.1 35.0h1.2v1.2h-1.2zM1039.1 39.8h1.9v1.9h-1.9zM1030.5 91.5h1.2v1.2h-1.2zM1035.5 34.7h1.8v1.8h-1.8zM1042.5 47.2h1.2v1.2h-1.2zM1023.9 27.4h1.8v1.8h-1.8zM1039.7 62.9h1.4v1.4h-1.4zM1026.9 26.8h1.6v1.6h-1.6zM1008.0 22.9h1.6v1.6h-1.6zM1031.1 29.6h1.4v1.4h-1.4zM1041.7 39.3h1.5v1.5h-1.5zM1048.7 18.4h1.6v1.6h-1.6zM1057.7 90.6h1.1v1.1h-1.1zM1017.7 73.0h1.9v1.9h-1.9zM1032.1 54.6h1.8v1.8h-1.8zM1025.8 61.6h1.2v1.2h-1.2zM1042.2 65.5h1.2v1.2h-1.2zM1033.5 49.5h1.4v1.4h-1.4zM1079.1 62.5h1.8v1.8h-1.8zM1043.5 47.3h1.5v1.5h-1.5zM1060.3 32.8h1.3v1.3h-1.3zM1059.0 62.2h1.8v1.8h-1.8zM1043.4 44.7h1.2v1.2h-1.2zM1025.4 15.1h1.7v1.7h-1.7zM1029.3 8.0h1.8v1.8h-1.8zM1036.3 46.3h1.1v1.1h-1.1zM1042.3 53.1h1.6v1.6h-1.6zM1060.4 100.4h1.6v1.6h-1.6zM1032.8 23.2h2.0v2.0h-2.0zM1034.3 38.0h1.3v1.3h-1.3zM1043.1 34.4h1.5v1.5h-1.5zM1059.3 87.5h1.9v1.9h-1.9zM1039.0 44.2h1.1v1.1h-1.1zM1020.5 58.2h1.9v1.9h-1.9zM1032.1 70.7h1.4v1.4h-1.4zM998.6 -9.6h1.3v1.3h-1.3zM1028.8 88.8h2.0v2.0h-2.0zM1061.2 41.6h1.4v1.4h-1.4zM1054.3 61.0h1.2v1.2h-1.2zM1026.0 11.4h1.2v1.2h-1.2zM1038.1 83.3h1.7v1.7h-1.7zM1061.4 60.6h1.6v1.6h-1.6zM1084.4 97.1h1.2v1.2h-1.2zM1056.6 41.3h1.5v1.5h-1.5zM1050.4 83.5h1.3v1.3h-1.3zM1049.6 72.1h1.8v1.8h-1.8zM1037.1 52.9h1.4v1.4h-1.4zM1005.3 20.8h1.6v1.6h-1.6zM1055.7 69.3h1.9v1.9h-1.9zM1036.2 54.9h1.2v1.2h-1.2zM1053.6 88.8h2.0v2.0h-2.0zM1046.7 50.5h1.5v1.5h-1.5zM1029.2 17.7h1.6v1.6h-1.6zM1043.9 52.9h1.3v1.3h-1.3zM1031.9 60.0h1.7v1.7h-1.7zM1041.9 64.2h1.7v1.7h-1.7zM1045.6 68.2h1.6v1.6h-1.6zM1033.9 55.9h1.9v1.9h-1.9zM1004.1 26.1h1.5v1.5h-1.5zM1014.4 32.3h1.0v1.0h-1.0zM1026.7 61.3h1.9v1.9h-1.9zM1051.9 47.4h1.6v1.6h-1.6zM1050.6 76.9h1.6v1.6h-1.6zM1040.4 56.4h1.6v1.6h-1.6zM1042.1 79.9h1.0v1.0h-1.0zM1061.6 47.3h1.3v1.3h-1.3zM1033.9 45.8h1.1v1.1h-1.1zM1056.9 93.4h1.6v1.6h-1.6zM1024.4 59.9h1.9v1.9h-1.9zM1039.0 51.0h1.7v1.7h-1.7zM1060.0 46.3h1.8v1.8h-1.8zM1046.3 76.4h1.3v1.3h-1.3zM1050.4 39.6h1.0v1.0h-1.0zM1025.6 67.8h1.4v1.4h-1.4zM1045.2 32.8h1.2v1.2h-1.2zM1064.4 51.1h1.3v1.3h-1.3zM1018.7 4.3h1.2v1.2h-1.2zM1035.1 37.3h1.2v1.2h-1.2zM1029.3 44.4h1.7v1.7h-1.7zM1044.6 44.8h1.6v1.6h-1.6zM1026.8 48.5h1.8v1.8h-1.8zM1040.5 79.8h2.0v2.0h-2.0zM1088.3 45.0h1.2v1.2h-1.2zM1031.8 30.6h1.9v1.9h-1.9zM1062.1 46.6h1.8v1.8h-1.8zM1053.4 85.3h1.6v1.6h-1.6zM1030.6 41.9h2.0v2.0h-2.0zM1045.0 41.1h1.5v1.5h-1.5zM1051.6 61.0h1.0v1.0h-1.0zM1030.8 19.9h1.1v1.1h-1.1zM1051.7 43.7h1.3v1.3h-1.3zM1068.3 72.3h1.7v1.7h-1.7zM1050.2 96.5h1.6v1.6h-1.6zM1027.1 35.1h1.7v1.7h-1.7zM1056.5 77.0h1.0v1.0h-1.0zM1024.3 29.7h1.2v1.2h-1.2zM1081.9 84.7h1.6v1.6h-1.6zM1046.5 65.4h1.7v1.7h-1.7zM1043.3 48.6h1.4v1.4h-1.4zM1023.6 54.5h1.2v1.2h-1.2zM1059.2 59.3h1.3v1.3h-1.3zM1074.4 77.2h1.8v1.8h-1.8zM1045.7 69.0h1.7v1.7h-1.7zM1050.1 81.3h1.2v1.2h-1.2zM1053.0 75.7h2.0v2.0h-2.0zM1047.5 76.6h1.0v1.0h-1.0zM1074.2 93.8h1.2v1.2h-1.2zM1048.7 82.1h1.4v1.4h-1.4zM1049.0 53.7h1.8v1.8h-1.8zM1063.2 53.0h1.6v1.6h-1.6zM1014.9 30.6h1.7v1.7h-1.7zM1003.9 31.8h2.0v2.0h-2.0zM1033.7 50.1h1.4v1.4h-1.4zM1035.8 58.6h1.2v1.2h-1.2zM1041.1 45.7h1.4v1.4h-1.4zM1025.8 58.8h1.6v1.6h-1.6zM1038.1 86.6h1.1v1.1h-1.1zM1046.8 60.3h1.0v1.0h-1.0zM1012.0 23.7h1.7v1.7h-1.7zM1055.0 68.8h2.0v2.0h-2.0zM1034.0 79.9h1.9v1.9h-1.9z" fill="#1c1c1c" fill-opacity="0.85"/>
<path d="M1061.6 65.4h1.9v1.9h-1.9zM1087.7 87.2h1.6v1.6h-1.6zM1080.0 104.9h1.4v1.4h-1.4zM1069.4 102.8h1.8v1.8h-1.8zM1033.0 43.6h1.2v1.2h-1.2zM1047.4 81.1h1.8v1.8h-1.8zM1073.5 86.2h1.6v1.6h-1.6zM1047.0 85.8h1.3v1.3h-1.3zM1058.1 58.3h1.8v1.8h-1.8zM1029.5 55.9h1.1v1.1h-1.1zM1069.6 81.2h1.0v1.0h-1.0zM1019.1 51.4h1.3v1.3h-1.3zM1029.5 39.4h1.5v1.5h-1.5zM1061.6 41.6h1.6v1.6h-1.6zM1053.8 71.7h1.3v1.3h-1.3zM1039.8 116.1h1.6v1.6h-1.6zM1035.4 73.7h2.0v2.0h-2.0zM1068.8 88.4h2.0v2.0h-2.0zM1020.2 63.7h1.7v1.7h-1.7zM1046.0 62.7h1.3v1.3h-1.3zM1048.1 63.5h1.5v1.5h-1.5zM1033.8 63.2h1.8v1.8h-1.8zM1069.5 93.8h1.9v1.9h-1.9zM1032.9 42.2h2.0v2.0h-2.0zM1040.0 35.2h1.4v1.4h-1.4zM1036.7 112.1h1.3v1.3h-1.3zM1067.4 70.8h1.3v1.3h-1.3zM1086.4 70.9h1.8v1.8h-1.8zM1023.3 66.7h2.0v2.0h-2.0zM1075.6 76.2h1.6v1.6h-1.6zM1019.8 42.0h1.4v1.4h-1.4zM1056.6 65.3h1.7v1.7h-1.7zM1061.9 75.0h1.4v1.4h-1.4zM1017.3 36.3h1.6v1.6h-1.6zM1054.4 50.1h1.2v1.2h-1.2zM1031.1 44.6h1.1v1.1h-1.1zM1032.9 58.1h1.4v1.4h-1.4zM1033.8 72.4h1.3v1.3h-1.3zM1053.3 57.9h1.2v1.2h-1.2zM1039.7 22.1h2.0v2.0h-2.0zM1021.7 106.6h1.7v1.7h-1.7zM1047.6 37.3h1.4v1.4h-1.4zM1048.3 80.8h2.0v2.0h-2.0zM1041.0 57.0h1.1v1.1h-1.1zM1034.4 35.1h1.3v1.3h-1.3zM1041.0 100.5h1.9v1.9h-1.9zM1051.1 65.2h2.0v2.0h-2.0zM1042.1 87.5h1.8v1.8h-1.8zM1064.9 75.3h1.2v1.2h-1.2zM1042.6 84.6h1.6v1.6h-1.6zM1057.6 46.4h1.1v1.1h-1.1zM1051.7 83.6h1.1v1.1h-1.1zM1060.5 91.1h1.9v1.9h-1.9zM1047.6 54.1h1.0v1.0h-1.0zM1049.1 42.7h1.1v1.1h-1.1zM1049.1 55.6h1.1v1.1h-1.1zM1078.1 85.0h1.7v1.7h-1.7zM1056.5 65.5h1.6v1.6h-1.6zM1064.6 103.2h1.2v1.2h-1.2zM1035.7 68.5h1.4v1.4h-1.4zM1056.5 68.7h2.0v2.0h-2.0zM1059.8 107.3h1.2v1.2h-1.2zM1056.7 114.4h1.1v1.1h-1.1zM1057.7 87.6h1.6v1.6h-1.6zM1028.5 53.2h1.1v1.1h-1.1zM1042.7 76.9h1.6v1.6h-1.6zM1058.2 65.7h1.3v1.3h-1.3zM1029.6 54.8h1.0v1.0h-1.0zM1068.9 95.4h1.7v1.7h-1.7zM1038.7 89.8h1.8v1.8h-1.8zM1044.1 51.2h1.3v1.3h-1.3zM1022.4 55.9h1.2v1.2h-1.2zM1058.7 73.0h2.0v2.0h-2.0zM1032.4 35.4h1.2v1.2h-1.2zM1065.5 89.4h1.2v1.2h-1.2zM1037.2 66.5h1.4v1.4h-1.4zM1034.7 45.8h1.2v1.2h-1.2zM1066.5 77.8h1.2v1.2h-1.2zM1037.1 55.5h1.9v1.9h-1.9zM1051.7 67.2h1.1v1.1h-1.1zM1049.8 76.7h1.8v1.8h-1.8zM1047.0 47.2h1.5v1.5h-1.5zM1041.9 88.0h1.0v1.0h-1.0zM1076.3 93.0h1.2v1.2h-1.2zM1053.9 98.8h1.7v1.7h-1.7zM1043.8 73.8h1.6v1.6h-1.6zM1038.4 100.5h1.2v1.2h-1.2zM1030.2 53.4h1.3v1.3h-1.3zM1050.8 66.7h1.9v1.9h-1.9zM1053.8 100.4h1.7v1.7h-1.7zM1041.3 48.2h1.7v1.7h-1.7zM1069.7 66.0h1.9v1.9h-1.9zM1061.2 88.4h1.2v1.2h-1.2zM1047.9 76.8h1.3v1.3h-1.3zM1071.0 108.6h1.8v1.8h-1.8zM1024.9 75.8h1.4v1.4h-1.4zM1050.3 57.2h1.4v1.4h-1.4zM1020.5 50.1h1.8v1.8h-1.8zM1047.6 80.0h2.0v2.0h-2.0zM1053.6 73.6h1.9v1.9h-1.9zM1050.0 49.6h1.8v1.8h-1.8zM1053.6 80.9h1.4v1.4h-1.4zM1078.5 99.5h1.7v1.7h-1.7zM1056.5 54.1h1.2v1.2h-1.2zM1081.2 91.0h1.3v1.3h-1.3zM1041.9 97.0h1.2v1.2h-1.2zM1039.6 73.4h1.7v1.7h-1.7zM1029.4 24.8h1.9v1.9h-1.9zM1028.3 38.3h1.8v1.8h-1.8zM1059.3 66.1h1.3v1.3h-1.3zM1056.9 93.1h1.7v1.7h-1.7zM1049.9 57.0h1.4v1.4h-1.4zM1034.8 39.8h1.8v1.8h-1.8zM1083.7 109.9h1.5v1.5h-1.5zM1061.6 76.1h1.2v1.2h-1.2zM1054.3 90.8h1.3v1.3h-1.3zM1068.6 54.2h1.1v1.1h-1.1zM1029.5 69.0h1.4v1.4h-1.4zM1039.6 70.6h1.3v1.3h-1.3zM1066.7 48.5h1.5v1.5h-1.5zM1051.2 82.3h1.7v1.7h-1.7zM1047.6 56.9h1.9v1.9h-1.9zM1060.5 73.2h1.8v1.8h-1.8zM1056.5 77.0h1.6v1.6h-1.6zM1023.8 21.9h1.4v1.4h-1.4zM1053.0 53.3h1.2v1.2h-1.2zM1060.6 76.2h1.6v1.6h-1.6zM1043.3 90.0h1.1v1.1h-1.1zM1070.3 63.6h1.1v1.1h-1.1zM1030.4 62.6h1.6v1.6h-1.6zM1056.6 60.5h1.2v1.2h-1.2zM1042.9 73.0h1.8v1.8h-1.8zM1045.3 81.2h1.7v1.7h-1.7zM1043.5 52.6h1.5v1.5h-1.5zM1047.3 66.1h1.9v1.9h-1.9zM1028.0 26.7h1.1v1.1h-1.1zM1017.4 53.5h1.3v1.3h-1.3zM1048.3 115.0h1.5v1.5h-1.5zM1065.4 84.7h2.0v2.0h-2.0zM1063.8 89.8h1.1v1.1h-1.1zM1068.1 77.8h1.6v1.6h-1.6zM1037.5 62.6h1.9v1.9h-1.9zM1071.3 107.7h1.1v1.1h-1.1zM1043.7 136.9h1.7v1.7h-1.7zM1035.1 45.0h1.7v1.7h-1.7zM1040.4 51.0h1.4v1.4h-1.4zM1044.5 60.1h1.5v1.5h-1.5zM1050.2 97.8h1.9v1.9h-1.9zM1053.0 76.9h1.5v1.5h-1.5zM1049.9 74.9h1.5v1.5h-1.5zM1056.7 83.4h1.6v1.6h-1.6zM1071.7 72.8h1.0v1.0h-1.0zM1038.5 100.0h1.8v1.8h-1.8zM1069.1 65.6h1.1v1.1h-1.1zM1070.0 97.1h2.0v2.0h-2.0zM1017.2 8.7h2.0v2.0h-2.0zM1052.6 86.7h1.8v1.8h-1.8zM1057.3 101.4h1.9v1.9h-1.9zM1075.2 60.5h1.6v1.6h-1.6zM1034.6 50.0h1.3v1.3h-1.3zM1070.4 78.4h1.6v1.6h-1.6zM1037.1 62.3h1.7v1.7h-1.7zM1050.7 18.9h1.1v1.1h-1.1zM1044.2 68.7h1.8v1.8h-1.8zM1071.8 45.9h1.3v1.3h-1.3zM1066.2 62.9h1.5v1.5h-1.5zM1059.0 84.4h1.3v1.3h-1.3zM1045.4 81.5h1.3v1.3h-1.3zM1033.8 66.6h1.9v1.9h-1.9zM1060.0 100.0h1.8v1.8h-1.8zM1073.3 94.7h1.1v1.1h-1.1zM1057.7 92.4h1.8v1.8h-1.8zM1039.2 50.8h1.9v1.9h-1.9zM1050.3 56.9h1.7v1.7h-1.7zM1038.3 80.8h1.7v1.7h-1.7zM1044.7 66.0h1.3v1.3h-1.3zM1031.3 42.2h1.7v1.7h-1.7zM1054.0 101.0h1.4v1.4h-1.4zM1062.0 77.8h1.9v1.9h-1.9zM1039.5 51.0h1.7v1.7h-1.7zM1048.9 35.6h1.3v1.3h-1.3zM1072.2 84.7h1.9v1.9h-1.9zM1088.5 98.7h1.8v1.8h-1.8zM1069.2 72.4h1.2v1.2h-1.2zM1064.6 68.1h1.2v1.2h-1.2zM1052.4 71.4h1.0v1.0h-1.0zM1038.5 65.9h1.8v1.8h-1.8zM1075.0 98.6h1.1v1.1h-1.1zM1059.5 90.5h1.3v1.3h-1.3zM1023.3 86.3h1.7v1.7h-1.7zM1032.4 22.3h1.3v1.3h-1.3zM1032.2 32.2h1.3v1.3h-1.3zM1001.5 93.4h1.1v1.1h-1.1zM1032.6 91.3h1.1v1.1h-1.1zM1070.7 95.4h1.6v1.6h-1.6zM1035.7 93.1h1.1v1.1h-1.1zM1049.6 76.7h2.0v2.0h-2.0zM1074.0 71.6h1.0v1.0h-1.0zM1036.3 57.3h1.3v1.3h-1.3zM1067.5 76.5h1.2v1.2h-1.2zM1047.6 64.2h1.9v1.9h-1.9zM1039.9 73.4h1.8v1.8h-1.8zM1049.3 75.0h1.1v1.1h-1.1zM1045.8 35.2h1.1v1.1h-1.1zM1073.0 67.2h1.1v1.1h-1.1zM1061.2 72.6h1.7v1.7h-1.7zM1032.6 59.4h1.7v1.7h-1.7zM1052.3 51.7h1.6v1.6h-1.6zM1041.3 58.1h1.5v1.5h-1.5zM1108.2 113.5h1.5v1.5h-1.5zM1052.7 69.5h1.6v1.6h-1.6zM1065.8 88.6h1.1v1.1h-1.1zM1004.6 29.7h1.8v1.8h-1.8zM1037.7 48.5h1.8v1.8h-1.8zM1046.9 35.6h1.7v1.7h-1.7zM1033.8 67.1h1.2v1.2h-1.2zM1067.3 84.6h1.2v1.2h-1.2zM1060.5 79.1h2.0v2.0h-2.0zM1049.5 74.7h1.9v1.9h-1.9zM1064.8 79.9h1.7v1.7h-1.7zM1045.8 70.1h1.8v1.8h-1.8zM1060.7 67.6h1.5v1.5h-1.5zM1076.1 103.6h1.9v1.9h-1.9zM1056.6 88.3h1.7v1.7h-1.7zM1090.9 81.3h1.4v1.4h-1.4zM1077.0 112.1h1.7v1.7h-1.7zM1033.8 46.7h1.1v1.1h-1.1zM1070.8 121.3h1.4v1.4h-1.4zM1040.9 42.6h1.8v1.8h-1.8zM1082.8 89.0h1.5v1.5h-1.5zM1051.4 65.4h1.6v1.6h-1.6zM1079.4 113.9h1.6v1.6h-1.6zM1073.8 93.6h1.9v1.9h-1.9zM1028.3 61.6h1.2v1.2h-1.2zM1078.2 72.0h1.7v1.7h-1.7zM1049.9 88.8h1.4v1.4h-1.4zM1040.0 60.0h1.2v1.2h-1.2zM1059.1 73.3h1.0v1.0h-1.0zM1051.1 54.4h1.6v1.6h-1.6zM1062.8 56.3h1.2v1.2h-1.2zM1067.5 59.8h1.6v1.6h-1.6zM1051.9 72.1h1.4v1.4h-1.4zM1027.4 55.6h1.4v1.4h-1.4zM1057.1 120.3h1.9v1.9h-1.9zM1018.4 51.7h1.1v1.1h-1.1zM1053.2 75.2h1.6v1.6h-1.6zM1043.0 58.7h1.4v1.4h-1.4zM1060.0 103.5h1.2v1.2h-1.2zM1053.1 57.9h1.4v1.4h-1.4zM1038.0 66.6h1.9v1.9h-1.9zM1085.0 102.2h1.2v1.2h-1.2zM1054.6 68.3h1.7v1.7h-1.7zM1036.3 58.3h1.3v1.3h-1.3zM1073.6 72.6h1.5v1.5h-1.5zM1023.3 58.0h1.6v1.6h-1.6zM1047.5 81.2h1.1v1.1h-1.1zM1048.6 58.1h1.8v1.8h-1.8zM1061.4 77.1h1.4v1.4h-1.4zM1036.8 48.2h1.2v1.2h-1.2zM1073.2 82.5h1.2v1.2h-1.2zM1054.1 97.7h2.0v2.0h-2.0zM1039.7 53.3h1.9v1.9h-1.9zM1041.9 74.6h1.5v1.5h-1.5zM1073.6 75.7h1.3v1.3h-1.3zM1021.6 50.4h1.7v1.7h-1.7zM1046.3 76.3h1.1v1.1h-1.1zM1035.6 88.5h1.9v1.9h-1.9zM1022.6 53.8h1.0v1.0h-1.0zM1031.5 59.2h1.0v1.0h-1.0zM1082.5 89.1h1.3v1.3h-1.3zM1058.1 77.4h1.5v1.5h-1.5zM1046.0 65.4h1.0v1.0h-1.0zM1049.1 42.8h1.3v1.3h-1.3zM1047.7 90.4h2.0v2.0h-2.0zM1060.7 49.3h1.8v1.8h-1.8zM1064.3 126.3h1.1v1.1h-1.1zM1066.6 71.3h1.9v1.9h-1.9zM1040.2 60.8h1.5v1.5h-1.5zM1019.4 62.4h2.0v2.0h-2.0zM1046.9 76.6h1.3v1.3h-1.3zM1048.7 43.7h1.3v1.3h-1.3zM1037.4 56.8h1.7v1.7h-1.7zM1050.3 63.6h1.5v1.5h-1.5zM1051.0 79.1h1.3v1.3h-1.3zM1069.9 100.1h1.5v1.5h-1.5zM1038.2 50.2h1.6v1.6h-1.6zM1073.9 97.2h1.3v1.3h-1.3zM1054.9 69.6h1.8v1.8h-1.8zM1051.7 81.1h1.7v1.7h-1.7zM1043.1 52.9h1.8v1.8h-1.8zM1048.1 97.9h1.7v1.7h-1.7zM1050.6 95.9h1.2v1.2h-1.2zM1050.4 61.8h1.7v1.7h-1.7zM1075.0 82.0h1.2v1.2h-1.2zM1071.5 57.1h1.1v1.1h-1.1zM1053.9 58.5h1.5v1.5h-1.5zM1028.9 50.4h1.2v1.2h-1.2zM1045.7 53.5h1.1v1.1h-1.1zM1055.7 60.8h1.6v1.6h-1.6zM1072.7 96.7h2.0v2.0h-2.0zM1067.9 66.1h1.1v1.1h-1.1zM1048.3 59.2h1.4v1.4h-1.4zM1053.3 60.8h1.1v1.1h-1.1zM1033.1 84.7h1.5v1.5h-1.5zM1050.1 67.4h1.6v1.6h-1.6zM1015.2 80.6h1.5v1.5h-1.5zM1062.4 107.9h1.0v1.0h-1.0zM1066.8 80.6h1.7v1.7h-1.7zM1045.7 69.4h1.5v1.5h-1.5zM1061.6 67.7h1.6v1.6h-1.6zM1034.7 58.8h1.7v1.7h-1.7zM1078.8 63.0h1.9v1.9h-1.9zM1036.0 81.7h1.4v1.4h-1.4zM1039.5 59.6h1.9v1.9h-1.9zM1023.0 47.2h1.2v1.2h-1.2zM1051.8 39.8h1.5v1.5h-1.5zM1018.1 81.0h1.2v1.2h-1.2zM1057.8 50.0h1.4v1.4h-1.4zM1052.7 82.1h1.9v1.9h-1.9zM1084.6 96.2h2.0v2.0h-2.0zM1035.0 36.5h1.5v1.5h-1.5zM1050.2 81.3h1.3v1.3h-1.3zM1080.5 83.0h1.3v1.3h-1.3zM1041.9 53.4h1.9v1.9h-1.9zM1054.2 91.5h1.4v1.4h-1.4zM1057.2 55.6h1.2v1.2h-1.2zM1049.1 95.7h1.8v1.8h-1.8zM1084.0 125.2h1.5v1.5h-1.5zM1083.5 96.0h1.4v1.4h-1.4zM1051.7 55.4h1.9v1.9h-1.9z" fill="#1c1c1c" fill-opacity="0.85"/>
<path d="M1072.1 121.5h1.9v1.9h-1.9zM1043.8 59.5h1.6v1.6h-1.6zM1066.3 121.2h1.7v1.7h-1.7zM1045.8 86.9h1.1v1.1h-1.1zM1052.1 97.8h1.7v1.7h-1.7zM1050.0 52.8h1.9v1.9h-1.9zM1068.5 103.3h2.0v2.0h-2.0zM1038.9 111.8h1.7v1.7h-1.7zM1051.5 86.5h1.6v1.6h-1.6zM1058.9 75.6h2.0v2.0h-2.0zM1074.4 79.8h1.1v1.1h-1.1zM1017.1 57.8h1.8v1.8h-1.8zM1043.5 96.8h1.7v1.7h-1.7zM1057.7 94.7h1.7v1.7h-1.7zM1057.4 109.8h1.4v1.4h-1.4zM1029.6 75.1h1.1v1.1h-1.1zM1044.2 72.9h1.1v1.1h-1.1zM1087.0 143.7h1.7v1.7h-1.7zM1081.7 122.7h1.3v1.3h-1.3zM1064.6 104.1h1.9v1.9h-1.9zM1073.0 93.9h1.1v1.1h-1.1zM1043.3 74.9h1.8v1.8h-1.8zM1049.7 53.8h1.5v1.5h-1.5zM1072.8 100.1h1.3v1.3h-1.3zM1060.7 65.6h1.3v1.3h-1.3zM1064.0 91.8h1.4v1.4h-1.4zM1062.0 93.0h1.4v1.4h-1.4zM1084.9 125.8h1.2v1.2h-1.2zM1033.7 52.3h1.2v1.2h-1.2zM1056.2 92.4h2.0v2.0h-2.0zM1025.8 66.4h1.4v1.4h-1.4zM1058.2 90.3h1.6v1.6h-1.6zM1033.9 62.4h1.7v1.7h-1.7zM1041.3 99.2h1.3v1.3h-1.3zM1067.8 74.4h1.9v1.9h-1.9zM1070.3 87.7h1.3v1.3h-1.3zM1075.7 92.3h1.2v1.2h-1.2zM1059.2 87.1h1.0v1.0h-1.0zM1063.7 87.1h1.3v1.3h-1.3zM1049.2 74.5h1.1v1.1h-1.1zM1049.4 80.6h1.6v1.6h-1.6zM1081.3 70.5h1.6v1.6h-1.6zM1040.9 99.5h1.0v1.0h-1.0zM1054.5 101.5h1.9v1.9h-1.9zM1068.8 97.3h1.7v1.7h-1.7zM1033.0 69.9h1.6v1.6h-1.6zM1063.6 116.4h1.9v1.9h-1.9zM1058.3 102.5h1.5v1.5h-1.5zM1054.5 92.6h1.2v1.2h-1.2zM1054.3 93.7h1.8v1.8h-1.8zM1054.4 68.0h2.0v2.0h-2.0zM1068.6 100.4h1.1v1.1h-1.1zM1028.5 43.5h1.5v1.5h-1.5zM1009.1 58.3h1.2v1.2h-1.2zM1058.5 110.3h1.9v1.9h-1.9zM1063.5 70.4h1.1v1.1h-1.1zM1055.3 87.2h1.8v1.8h-1.8zM1047.3 77.0h1.2v1.2h-1.2zM1058.9 109.2h1.6v1.6h-1.6zM1071.2 56.0h1.7v1.7h-1.7zM1065.7 87.0h1.8v1.8h-1.8zM1044.0 111.4h1.1v1.1h-1.1zM1073.6 126.1h1.5v1.5h-1.5zM1051.7 124.6h1.1v1.1h-1.1zM1055.4 94.2h1.1v1.1h-1.1zM1068.2 108.3h1.2v1.2h-1.2zM1061.0 76.6h1.1v1.1h-1.1zM1065.3 87.6h1.9v1.9h-1.9zM1071.0 105.3h1.6v1.6h-1.6zM1060.8 128.9h1.3v1.3h-1.3zM1031.2 74.3h1.5v1.5h-1.5zM1037.5 92.9h1.1v1.1h-1.1zM1064.4 101.6h1.2v1.2h-1.2zM1072.2 101.4h1.6v1.6h-1.6zM1057.3 100.9h1.7v1.7h-1.7zM1051.8 91.5h1.6v1.6h-1.6zM1040.1 75.8h2.0v2.0h-2.0zM1036.9 72.1h2.0v2.0h-2.0zM1055.2 106.1h1.8v1.8h-1.8zM1016.5 101.2h1.5v1.5h-1.5zM1053.7 88.6h1.8v1.8h-1.8zM1032.9 86.7h1.2v1.2h-1.2zM1041.2 89.5h1.9v1.9h-1.9zM1043.6 75.6h1.2v1.2h-1.2zM1043.0 91.1h2.0v2.0h-2.0zM1064.6 80.8h1.0v1.0h-1.0zM1076.9 93.4h1.8v1.8h-1.8zM1038.2 78.6h1.5v1.5h-1.5zM1027.9 60.6h1.8v1.8h-1.8zM1064.0 78.5h1.5v1.5h-1.5zM1053.5 101.6h1.8v1.8h-1.8zM1053.4 79.9h1.7v1.7h-1.7zM1058.4 113.4h1.6v1.6h-1.6zM1066.3 86.6h2.0v2.0h-2.0zM1054.1 70.2h1.1v1.1h-1.1zM1059.1 110.0h1.9v1.9h-1.9zM1045.5 108.0h1.5v1.5h-1.5zM1058.9 84.5h1.7v1.7h-1.7zM1031.7 98.0h1.7v1.7h-1.7zM1031.3 54.5h1.4v1.4h-1.4zM1062.3 102.2h1.5v1.5h-1.5zM1071.1 146.6h2.0v2.0h-2.0zM1077.0 102.3h1.5v1.5h-1.5zM1067.9 100.5h1.9v1.9h-1.9zM1056.2 95.4h1.0v1.0h-1.0zM1045.3 88.0h1.6v1.6h-1.6zM1064.6 132.1h1.7v1.7h-1.7zM1082.5 84.8h1.4v1.4h-1.4zM1058.0 121.8h1.1v1.1h-1.1zM1061.3 86.5h1.8v1.8h-1.8zM1074.7 101.0h1.8v1.8h-1.8zM1079.3 102.0h1.4v1.4h-1.4zM1047.4 75.6h1.1v1.1h-1.1zM1041.5 65.1h1.8v1.8h-1.8zM1079.0 95.3h1.8v1.8h-1.8zM1074.8 108.0h1.8v1.8h-1.8zM1061.8 105.8h1.8v1.8h-1.8zM1058.8 81.3h1.3v1.3h-1.3zM1046.7 55.8h1.6v1.6h-1.6zM1030.6 89.5h1.5v1.5h-1.5zM1085.1 104.6h1.4v1.4h-1.4zM1064.5 110.9h1.4v1.4h-1.4zM1048.5 89.4h1.7v1.7h-1.7zM1073.4 105.5h2.0v2.0h-2.0zM1053.0 89.5h1.5v1.5h-1.5zM1044.8 75.8h1.4v1.4h-1.4zM1064.8 87.8h1.6v1.6h-1.6zM1045.1 79.5h1.6v1.6h-1.6zM1064.1 113.1h1.4v1.4h-1.4zM1039.9 82.1h1.6v1.6h-1.6zM1053.2 101.1h1.7v1.7h-1.7zM1081.3 110.6h1.7v1.7h-1.7zM1063.2 87.3h1.2v1.2h-1.2zM1025.4 90.0h1.7v1.7h-1.7zM1088.6 100.6h1.4v1.4h-1.4zM1069.1 98.6h1.9v1.9h-1.9zM1069.9 116.8h1.6v1.6h-1.6zM1054.4 91.5h1.8v1.8h-1.8zM1062.0 101.6h1.8v1.8h-1.8zM1057.1 88.8h1.2v1.2h-1.2zM1076.5 96.5h1.1v1.1h-1.1zM1059.3 93.1h1.8v1.8h-1.8zM1044.2 89.3h1.1v1.1h-1.1zM1047.7 66.5h1.9v1.9h-1.9zM1042.3 81.0h1.7v1.7h-1.7zM1052.2 85.2h1.4v1.4h-1.4zM1080.4 91.0h1.7v1.7h-1.7zM1071.5 97.9h1.1v1.1h-1.1zM1056.4 88.3h1.6v1.6h-1.6zM1058.7 114.5h1.9v1.9h-1.9zM1075.8 129.4h1.0v1.0h-1.0zM1058.4 81.4h1.9v1.9h-1.9zM1047.2 117.2h1.3v1.3h-1.3zM1068.3 96.8h1.4v1.4h-1.4zM1058.2 101.0h1.9v1.9h-1.9zM1066.8 89.8h1.8v1.8h-1.8zM1035.6 41.2h1.4v1.4h-1.4zM1067.4 115.8h2.0v2.0h-2.0zM1033.2 51.2h1.0v1.0h-1.0zM1014.8 71.2h1.7v1.7h-1.7zM1073.8 89.8h1.5v1.5h-1.5zM1075.8 104.4h1.9v1.9h-1.9zM1064.0 105.0h1.0v1.0h-1.0zM1037.2 75.4h1.3v1.3h-1.3zM1027.8 76.8h1.5v1.5h-1.5zM1070.3 88.4h1.1v1.1h-1.1zM1019.4 69.4h1.6v1.6h-1.6zM1088.5 114.0h1.8v1.8h-1.8zM1074.6 127.0h1.9v1.9h-1.9zM1056.5 89.1h1.1v1.1h-1.1zM1038.8 98.1h1.5v1.5h-1.5zM1080.5 84.9h2.0v2.0h-2.0zM1071.5 140.4h1.1v1.1h-1.1zM1049.8 70.5h1.7v1.7h-1.7zM1047.3 76.7h1.3v1.3h-1.3zM1059.7 103.2h1.9v1.9h-1.9zM1060.4 77.2h1.6v1.6h-1.6zM1068.6 109.8h1.9v1.9h-1.9zM1092.4 132.4h1.1v1.1h-1.1zM1066.3 109.6h1.6v1.6h-1.6zM1034.1 88.2h1.4v1.4h-1.4zM1069.5 90.6h1.1v1.1h-1.1zM1042.9 94.5h1.4v1.4h-1.4zM1028.7 79.2h1.7v1.7h-1.7zM1068.8 105.5h1.6v1.6h-1.6zM1053.4 131.8h1.6v1.6h-1.6zM1062.8 106.7h1.3v1.3h-1.3zM1061.8 139.7h1.5v1.5h-1.5zM1049.9 74.6h1.4v1.4h-1.4zM1060.2 87.1h1.9v1.9h-1.9zM1031.0 70.8h1.9v1.9h-1.9zM1057.8 96.3h1.4v1.4h-1.4zM1080.2 117.7h1.5v1.5h-1.5zM1054.2 94.7h1.3v1.3h-1.3zM1054.4 84.8h1.6v1.6h-1.6zM1066.7 108.9h1.1v1.1h-1.1zM1081.5 115.0h2.0v2.0h-2.0zM1076.5 88.6h1.4v1.4h-1.4zM1064.7 87.1h1.0v1.0h-1.0zM1064.9 125.5h1.3v1.3h-1.3zM1042.7 116.1h1.9v1.9h-1.9zM1066.1 126.9h1.3v1.3h-1.3zM1066.7 71.0h1.4v1.4h-1.4zM1061.7 91.1h2.0v2.0h-2.0zM1054.0 79.4h1.8v1.8h-1.8zM1022.3 71.5h1.4v1.4h-1.4zM1052.8 67.3h1.2v1.2h-1.2zM1083.0 94.4h1.4v1.4h-1.4zM1057.7 118.2h1.4v1.4h-1.4zM1066.8 80.8h1.9v1.9h-1.9zM1073.8 72.5h1.5v1.5h-1.5zM1073.1 121.6h1.9v1.9h-1.9zM1060.0 73.6h2.0v2.0h-2.0zM1047.3 115.2h1.9v1.9h-1.9zM1050.1 65.2h1.4v1.4h-1.4zM1030.3 63.9h1.4v1.4h-1.4zM1033.9 112.0h1.5v1.5h-1.5zM1061.6 88.7h1.7v1.7h-1.7zM1040.2 85.7h1.8v1.8h-1.8zM1030.9 67.0h1.8v1.8h-1.8zM1066.6 95.5h1.3v1.3h-1.3zM1035.6 83.2h1.7v1.7h-1.7zM1084.3 127.7h1.4v1.4h-1.4zM1044.0 116.0h1.8v1.8h-1.8zM1053.8 80.1h1.0v1.0h-1.0zM1045.8 69.0h1.8v1.8h-1.8zM1061.9 89.6h1.7v1.7h-1.7zM1067.8 68.9h1.1v1.1h-1.1zM1053.9 61.0h1.3v1.3h-1.3zM1071.2 103.3h1.3v1.3h-1.3zM1040.7 81.6h1.5v1.5h-1.5zM1073.1 100.1h1.9v1.9h-1.9zM1043.2 86.0h2.0v2.0h-2.0zM1071.8 95.6h1.6v1.6h-1.6zM1061.1 98.6h1.1v1.1h-1.1zM1080.7 110.2h2.0v2.0h-2.0zM1063.1 114.3h2.0v2.0h-2.0zM1034.3 81.1h1.1v1.1h-1.1zM1083.6 103.2h1.7v1.7h-1.7zM1093.9 125.6h1.7v1.7h-1.7zM1051.2 73.6h1.7v1.7h-1.7zM1060.1 113.2h1.7v1.7h-1.7zM1041.1 101.3h1.0v1.0h-1.0zM1046.5 111.4h1.3v1.3h-1.3zM1088.1 151.3h1.3v1.3h-1.3zM1033.7 39.8h1.6v1.6h-1.6zM1044.6 73.2h1.1v1.1h-1.1zM1073.4 87.7h1.3v1.3h-1.3zM1047.8 69.2h1.2v1.2h-1.2zM1086.1 72.6h1.0v1.0h-1.0zM1068.9 113.6h1.5v1.5h-1.5zM1054.4 95.8h1.2v1.2h-1.2zM1046.8 73.2h1.5v1.5h-1.5zM1057.4 122.1h1.2v1.2h-1.2zM1066.6 101.4h1.8v1.8h-1.8zM1033.0 86.4h1.1v1.1h-1.1zM1069.0 101.7h1.8v1.8h-1.8zM1043.0 44.4h1.7v1.7h-1.7zM1020.9 63.6h1.2v1.2h-1.2zM1069.0 92.7h1.4v1.4h-1.4zM1024.1 106.1h1.4v1.4h-1.4zM1088.1 109.4h1.5v1.5h-1.5zM1071.0 83.0h1.7v1.7h-1.7zM1035.8 60.2h1.0v1.0h-1.0zM1067.8 153.7h1.2v1.2h-1.2zM1063.0 92.3h1.7v1.7h-1.7zM1048.1 105.2h1.1v1.1h-1.1zM1063.0 51.4h1.8v1.8h-1.8zM1076.8 134.3h1.4v1.4h-1.4zM1074.1 128.4h1.0v1.0h-1.0zM1082.7 120.0h1.8v1.8h-1.8zM1045.4 114.9h1.2v1.2h-1.2zM1075.6 111.7h2.0v2.0h-2.0zM1076.5 107.7h1.9v1.9h-1.9zM1034.9 68.4h1.9v1.9h-1.9zM1064.4 128.6h1.9v1.9h-1.9zM1032.7 74.2h1.1v1.1h-1.1zM1071.6 104.8h1.0v1.0h-1.0zM1016.3 49.9h1.4v1.4h-1.4zM1062.6 115.7h1.4v1.4h-1.4zM1055.3 48.0h1.4v1.4h-1.4zM1060.4 120.4h1.6v1.6h-1.6zM1066.8 102.5h1.8v1.8h-1.8zM1069.2 98.4h1.8v1.8h-1.8zM1064.7 81.5h1.9v1.9h-1.9zM1066.1 96.4h1.7v1.7h-1.7zM1060.7 118.7h1.9v1.9h-1.9zM1026.2 90.0h1.1v1.1h-1.1zM1039.2 73.9h1.0v1.0h-1.0zM1055.5 125.3h1.5v1.5h-1.5zM1019.6 55.3h1.9v1.9h-1.9zM1055.2 129.3h1.4v1.4h-1.4zM1039.6 43.2h1.1v1.1h-1.1zM1062.2 88.8h1.1v1.1h-1.1zM1082.3 117.1h1.2v1.2h-1.2zM1065.9 123.4h1.9v1.9h-1.9zM1052.6 56.9h1.3v1.3h-1.3zM1051.2 84.9h1.9v1.9h-1.9zM1072.1 113.3h1.9v1.9h-1.9zM1088.0 101.9h1.8v1.8h-1.8zM1025.5 28.3h1.9v1.9h-1.9zM1067.9 101.0h1.3v1.3h-1.3zM1040.8 76.0h1.2v1.2h-1.2zM1082.4 133.5h1.2v1.2h-1.2zM1059.5 73.0h1.0v1.0h-1.0zM1082.1 134.6h1.9v1.9h-1.9zM1050.6 115.3h1.2v1.2h-1.2zM1082.1 109.9h1.6v1.6h-1.6zM1059.2 119.8h1.3v1.3h-1.3zM1051.6 111.2h1.5v1.5h-1.5zM1052.2 81.8h1.4v1.4h-1.4zM1042.5 88.4h1.7v1.7h-1.7zM1045.4 83.2h1.2v1.2h-1.2zM1046.4 70.4h1.3v1.3h-1.3zM1055.0 85.7h1.1v1.1h-1.1zM1061.8 95.5h1.3v1.3h-1.3zM1080.5 74.9h1.8v1.8h-1.8zM1078.8 112.6h2.0v2.0h-2.0zM1065.1 83.1h1.0v1.0h-1.0zM1081.0 108.4h1.8v1.8h-1.8z" fill="#1c1c1c" fill-opacity="0.85"/>
<path d="M1069.0 133.9h1.8v1.8h-1.8zM1061.5 132.6h1.0v1.0h-1.0zM1077.9 120.1h1.7v1.7h-1.7zM1056.1 131.7h1.8v1.8h-1.8zM1064.3 114.6h1.5v1.5h-1.5zM1038.7 100.4h1.3v1.3h-1.3zM1068.8 101.7h1.5v1.5h-1.5zM1070.8 102.1h1.6v1.6h-1.6zM1048.3 120.3h1.4v1.4h-1.4zM1058.6 142.0h1.3v1.3h-1.3zM1093.4 140.3h1.7v1.7h-1.7zM1054.1 136.3h1.9v1.9h-1.9zM1108.7 152.8h1.3v1.3h-1.3zM1044.3 91.6h1.9v1.9h-1.9zM1073.7 103.4h1.1v1.1h-1.1zM1079.5 119.0h1.7v1.7h-1.7zM1040.3 71.5h1.3v1.3h-1.3zM1060.1 123.4h1.5v1.5h-1.5zM1074.7 136.6h1.4v1.4h-1.4zM1071.0 107.5h1.1v1.1h-1.1zM1052.2 81.0h1.2v1.2h-1.2zM1069.9 140.8h2.0v2.0h-2.0zM1091.3 156.3h1.4v1.4h-1.4zM1036.0 86.8h2.0v2.0h-2.0zM1091.4 129.4h1.5v1.5h-1.5zM1045.8 85.6h1.9v1.9h-1.9zM1087.1 123.2h1.4v1.4h-1.4zM1071.1 104.7h2.0v2.0h-2.0zM1067.7 84.3h1.5v1.5h-1.5zM1071.9 116.8h1.3v1.3h-1.3zM1088.5 85.8h1.2v1.2h-1.2zM1097.0 144.9h1.1v1.1h-1.1zM1077.6 106.2h1.1v1.1h-1.1zM1087.8 113.9h1.7v1.7h-1.7zM1069.3 117.1h1.4v1.4h-1.4zM1089.2 127.3h1.9v1.9h-1.9zM1061.3 102.0h1.2v1.2h-1.2zM1107.1 148.1h1.9v1.9h-1.9zM1076.9 117.8h1.2v1.2h-1.2zM1062.0 126.9h1.3v1.3h-1.3zM1064.6 120.9h1.3v1.3h-1.3zM1076.0 118.0h1.3v1.3h-1.3zM1082.7 101.0h1.4v1.4h-1.4zM1070.8 104.1h1.8v1.8h-1.8zM1054.6 116.2h1.1v1.1h-1.1zM1064.9 127.0h1.2v1.2h-1.2zM1106.2 122.2h1.1v1.1h-1.1zM1071.2 124.6h1.8v1.8h-1.8zM1080.0 105.6h1.1v1.1h-1.1zM1059.0 134.8h1.5v1.5h-1.5zM1078.8 136.0h1.9v1.9h-1.9zM1062.6 135.0h1.3v1.3h-1.3zM1072.7 160.5h1.1v1.1h-1.1zM1066.5 119.6h1.3v1.3h-1.3zM1065.3 121.0h1.9v1.9h-1.9zM1051.4 111.5h1.1v1.1h-1.1zM1067.3 97.1h1.9v1.9h-1.9zM1076.7 119.3h1.1v1.1h-1.1zM1087.2 97.4h1.2v1.2h-1.2zM1075.2 131.8h1.8v1.8h-1.8zM1059.2 116.7h1.6v1.6h-1.6zM1076.5 115.6h1.3v1.3h-1.3zM1094.2 152.9h1.7v1.7h-1.7zM1056.0 147.6h1.1v1.1h-1.1zM1057.8 104.4h1.9v1.9h-1.9zM1044.5 106.9h1.6v1.6h-1.6zM1074.9 102.1h1.9v1.9h-1.9zM1070.5 148.3h1.6v1.6h-1.6zM1042.1 106.4h1.6v1.6h-1.6zM1036.8 138.1h1.9v1.9h-1.9zM1092.1 146.4h1.6v1.6h-1.6zM1073.1 104.9h1.1v1.1h-1.1zM1067.0 119.0h1.6v1.6h-1.6zM1073.4 131.2h1.3v1.3h-1.3zM1058.5 81.4h1.6v1.6h-1.6zM1068.8 151.8h2.0v2.0h-2.0zM1065.7 111.9h1.6v1.6h-1.6zM1063.8 112.8h1.8v1.8h-1.8zM1036.4 88.7h1.4v1.4h-1.4zM1056.8 103.9h1.0v1.0h-1.0zM1034.3 67.4h1.0v1.0h-1.0zM1107.2 127.6h1.0v1.0h-1.0zM1077.9 149.3h1.2v1.2h-1.2zM1076.0 90.9h1.3v1.3h-1.3zM1076.3 140.8h1.3v1.3h-1.3zM1075.9 126.0h1.7v1.7h-1.7zM1046.8 106.0h1.7v1.7h-1.7zM1044.6 103.1h1.8v1.8h-1.8zM1057.6 76.6h1.8v1.8h-1.8zM1034.2 95.9h1.9v1.9h-1.9zM1059.1 73.6h1.7v1.7h-1.7zM1070.9 130.6h1.5v1.5h-1.5zM1069.8 171.9h1.4v1.4h-1.4zM1065.1 132.9h1.1v1.1h-1.1zM1055.3 73.8h1.0v1.0h-1.0zM1064.3 108.3h1.9v1.9h-1.9zM1061.0 82.4h1.1v1.1h-1.1zM1044.0 106.3h1.9v1.9h-1.9zM1074.7 122.2h1.4v1.4h-1.4zM1059.5 112.5h1.1v1.1h-1.1zM1061.0 100.4h1.8v1.8h-1.8zM1038.5 86.3h1.7v1.7h-1.7zM1072.8 137.5h2.0v2.0h-2.0zM1067.2 127.9h1.5v1.5h-1.5zM1087.1 157.9h1.9v1.9h-1.9zM1063.0 82.7h1.5v1.5h-1.5zM1061.8 137.3h1.3v1.3h-1.3zM1065.1 136.9h1.4v1.4h-1.4zM1085.4 109.7h1.7v1.7h-1.7zM1078.9 89.7h1.9v1.9h-1.9zM1077.4 99.1h1.8v1.8h-1.8zM1069.1 116.7h1.9v1.9h-1.9zM1035.1 82.0h1.5v1.5h-1.5zM1090.9 121.7h1.5v1.5h-1.5zM1059.3 123.6h1.5v1.5h-1.5zM1052.7 115.8h1.9v1.9h-1.9zM1055.7 126.8h1.4v1.4h-1.4zM1070.1 118.4h1.1v1.1h-1.1zM1062.8 131.3h1.4v1.4h-1.4zM1074.1 117.8h1.6v1.6h-1.6zM1061.3 97.5h1.8v1.8h-1.8zM1057.0 105.7h1.9v1.9h-1.9zM1069.0 118.5h1.7v1.7h-1.7zM1064.0 116.8h1.8v1.8h-1.8zM1070.0 155.1h1.8v1.8h-1.8zM1054.4 107.0h1.8v1.8h-1.8zM1063.3 108.4h1.6v1.6h-1.6zM1070.5 106.5h1.9v1.9h-1.9zM1079.0 71.8h1.9v1.9h-1.9zM1054.5 127.6h1.0v1.0h-1.0zM1049.6 100.8h1.1v1.1h-1.1zM1058.3 109.7h2.0v2.0h-2.0zM1059.4 97.8h1.7v1.7h-1.7zM1092.5 97.3h1.1v1.1h-1.1zM1070.1 118.9h1.9v1.9h-1.9zM1029.7 70.1h1.1v1.1h-1.1zM1063.2 116.2h1.5v1.5h-1.5zM1075.1 119.9h1.4v1.4h-1.4zM1058.8 90.8h1.3v1.3h-1.3zM1035.1 121.8h1.2v1.2h-1.2zM1093.1 149.1h1.1v1.1h-1.1zM1057.4 109.2h1.4v1.4h-1.4zM1080.7 122.0h1.1v1.1h-1.1zM1031.7 108.3h1.6v1.6h-1.6zM1096.5 126.0h1.3v1.3h-1.3zM1055.2 74.2h1.8v1.8h-1.8zM1062.1 123.4h1.9v1.9h-1.9zM1081.0 97.5h1.9v1.9h-1.9zM1061.5 123.8h1.7v1.7h-1.7zM1071.8 111.8h1.8v1.8h-1.8zM1073.4 126.4h1.1v1.1h-1.1zM1051.8 93.2h2.0v2.0h-2.0zM1039.6 95.6h1.6v1.6h-1.6zM1083.2 117.9h1.5v1.5h-1.5zM1053.7 128.0h1.7v1.7h-1.7zM1042.6 70.9h1.2v1.2h-1.2zM1103.5 137.9h1.5v1.5h-1.5zM1080.9 102.1h1.1v1.1h-1.1zM1093.6 97.4h1.9v1.9h-1.9zM1053.4 78.6h1.5v1.5h-1.5zM1063.1 120.5h1.1v1.1h-1.1zM1057.4 131.6h2.0v2.0h-2.0zM1065.4 134.4h1.6v1.6h-1.6zM1056.4 94.2h1.8v1.8h-1.8zM1076.5 195.3h1.8v1.8h-1.8zM1067.0 137.1h1.7v1.7h-1.7zM1082.4 132.5h1.4v1.4h-1.4zM1093.5 152.4h1.3v1.3h-1.3zM1039.2 128.4h1.1v1.1h-1.1zM1037.2 75.3h1.6v1.6h-1.6zM1053.5 75.6h1.1v1.1h-1.1zM1069.1 110.9h1.4v1.4h-1.4zM1077.2 113.4h1.9v1.9h-1.9zM1078.9 104.9h1.9v1.9h-1.9zM1078.0 97.7h1.8v1.8h-1.8zM1089.2 119.7h1.2v1.2h-1.2zM1079.1 126.5h1.9v1.9h-1.9zM1048.3 117.1h1.1v1.1h-1.1zM1089.9 104.3h1.9v1.9h-1.9zM1106.6 105.4h1.7v1.7h-1.7zM1074.0 117.9h2.0v2.0h-2.0zM1048.5 87.0h2.0v2.0h-2.0zM1038.3 122.7h1.5v1.5h-1.5zM1037.5 119.6h1.3v1.3h-1.3zM1089.7 139.3h1.9v1.9h-1.9zM1040.5 107.5h1.3v1.3h-1.3zM1062.5 113.5h1.3v1.3h-1.3zM1077.5 101.5h1.6v1.6h-1.6zM1073.1 100.8h1.1v1.1h-1.1zM1051.3 81.6h1.5v1.5h-1.5zM1067.8 163.2h1.1v1.1h-1.1zM1063.6 114.8h1.5v1.5h-1.5zM1055.7 135.2h1.9v1.9h-1.9zM1075.5 118.4h1.9v1.9h-1.9zM1047.7 115.0h2.0v2.0h-2.0zM1104.6 164.6h1.7v1.7h-1.7zM1031.8 78.4h1.7v1.7h-1.7zM1063.4 114.6h1.4v1.4h-1.4zM1079.9 141.2h1.9v1.9h-1.9zM1073.8 74.1h1.1v1.1h-1.1zM1079.4 106.1h1.2v1.2h-1.2zM1084.8 112.3h1.1v1.1h-1.1zM1079.5 97.6h1.4v1.4h-1.4zM1067.1 104.6h1.1v1.1h-1.1zM1056.9 136.9h1.7v1.7h-1.7zM1074.2 105.4h1.2v1.2h-1.2zM1085.0 158.3h1.7v1.7h-1.7zM1066.0 132.1h1.6v1.6h-1.6zM1071.2 152.4h1.7v1.7h-1.7zM1064.8 134.6h1.7v1.7h-1.7zM1063.1 93.2h1.8v1.8h-1.8zM1063.6 113.7h1.5v1.5h-1.5zM1062.5 117.8h1.6v1.6h-1.6zM1071.5 112.8h1.3v1.3h-1.3zM1036.5 87.5h1.5v1.5h-1.5zM1083.7 121.3h1.1v1.1h-1.1zM1067.2 128.4h2.0v2.0h-2.0zM1089.1 103.9h1.9v1.9h-1.9zM1058.8 86.1h1.1v1.1h-1.1zM1095.7 142.8h1.0v1.0h-1.0zM1075.3 100.3h1.4v1.4h-1.4zM1056.0 107.5h1.5v1.5h-1.5zM1075.5 52.4h1.5v1.5h-1.5zM1073.5 129.3h1.3v1.3h-1.3zM1047.0 109.5h1.6v1.6h-1.6zM1103.0 120.8h1.4v1.4h-1.4zM1050.6 119.5h1.4v1.4h-1.4zM1061.8 99.2h1.0v1.0h-1.0zM1080.7 133.2h1.6v1.6h-1.6zM1060.0 85.6h1.1v1.1h-1.1z" fill="#1c1c1c" fill-opacity="0.85"/>
<path d="M1119.1 164.6h1.8v1.8h-1.8zM1082.1 162.5h2.0v2.0h-2.0zM1079.0 133.0h1.7v1.7h-1.7zM1083.8 122.3h1.1v1.1h-1.1zM1056.7 105.5h1.9v1.9h-1.9zM1041.9 106.6h1.2v1.2h-1.2zM1127.1 134.3h1.2v1.2h-1.2zM1050.1 104.8h1.4v1.4h-1.4zM1073.2 140.4h1.2v1.2h-1.2zM1068.0 149.2h1.1v1.1h-1.1zM1060.7 165.7h1.6v1.6h-1.6zM1061.9 141.8h1.9v1.9h-1.9zM1054.1 100.6h1.3v1.3h-1.3zM1040.5 119.6h1.4v1.4h-1.4zM1093.5 187.6h1.6v1.6h-1.6zM1057.8 107.4h1.3v1.3h-1.3zM1069.9 137.3h1.5v1.5h-1.5zM1073.5 164.6h1.9v1.9h-1.9zM1023.6 89.8h1.1v1.1h-1.1zM1072.8 121.1h1.5v1.5h-1.5zM1092.2 162.9h1.2v1.2h-1.2zM1071.6 97.6h1.8v1.8h-1.8zM1061.7 142.9h1.2v1.2h-1.2zM1092.1 165.3h1.8v1.8h-1.8zM1046.7 137.0h1.4v1.4h-1.4zM1048.8 136.0h1.9v1.9h-1.9zM1071.9 141.9h1.4v1.4h-1.4zM1065.6 132.5h1.5v1.5h-1.5zM1074.7 121.0h1.1v1.1h-1.1zM1078.3 128.0h1.3v1.3h-1.3zM1074.6 142.3h1.4v1.4h-1.4zM1071.3 128.5h1.9v1.9h-1.9zM1048.2 142.8h1.6v1.6h-1.6zM1079.1 131.0h1.8v1.8h-1.8zM1060.4 133.9h1.9v1.9h-1.9zM1071.4 130.1h1.1v1.1h-1.1zM1066.9 131.2h1.3v1.3h-1.3zM1071.3 146.6h1.8v1.8h-1.8zM1065.3 93.9h1.8v1.8h-1.8zM1030.8 86.3h1.6v1.6h-1.6zM1069.5 167.5h1.4v1.4h-1.4zM1059.8 146.4h1.5v1.5h-1.5zM1073.0 133.7h1.0v1.0h-1.0zM1063.0 97.9h1.1v1.1h-1.1zM1053.8 129.5h1.4v1.4h-1.4zM1097.6 166.5h1.1v1.1h-1.1zM1073.1 145.0h1.2v1.2h-1.2zM1083.6 107.2h1.8v1.8h-1.8zM1080.4 109.6h1.8v1.8h-1.8zM1069.9 127.8h1.7v1.7h-1.7zM1071.9 130.4h1.6v1.6h-1.6zM1089.1 138.8h1.9v1.9h-1.9zM1102.9 142.0h1.2v1.2h-1.2zM1068.0 139.3h1.6v1.6h-1.6zM1081.8 107.7h1.4v1.4h-1.4zM1087.8 143.8h1.9v1.9h-1.9zM1072.1 156.8h1.3v1.3h-1.3zM1072.0 135.1h1.2v1.2h-1.2zM1079.3 158.4h1.8v1.8h-1.8zM1058.8 117.1h1.8v1.8h-1.8zM1076.2 148.1h1.7v1.7h-1.7zM1076.1 138.1h1.8v1.8h-1.8zM1081.9 126.3h1.2v1.2h-1.2zM1041.3 113.4h1.6v1.6h-1.6zM1061.7 123.6h1.5v1.5h-1.5zM1052.1 105.3h1.9v1.9h-1.9zM1026.3 138.8h1.4v1.4h-1.4zM1071.5 107.4h1.2v1.2h-1.2zM1069.5 162.7h1.3v1.3h-1.3zM1043.8 93.4h1.5v1.5h-1.5zM1097.3 144.9h2.0v2.0h-2.0zM1086.5 145.7h1.7v1.7h-1.7zM1064.3 112.1h1.7v1.7h-1.7zM1083.3 116.0h1.5v1.5h-1.5zM1104.2 178.3h1.4v1.4h-1.4zM1052.8 125.7h1.9v1.9h-1.9zM1055.1 143.0h1.5v1.5h-1.5zM1064.6 132.1h1.1v1.1h-1.1zM1071.1 138.3h1.8v1.8h-1.8zM1070.8 130.2h1.2v1.2h-1.2z" fill="#1c1c1c" fill-opacity="0.85"/>
<path d="M1048.9 130.5h1.5v1.5h-1.5zM981.5 101.7h1.7v1.7h-1.7zM1018.6 103.2h1.0v1.0h-1.0zM1032.6 77.0h1.1v1.1h-1.1zM1019.0 133.1h1.5v1.5h-1.5zM1010.0 55.6h1.3v1.3h-1.3zM1060.8 134.0h1.0v1.0h-1.0zM1022.6 104.2h1.2v1.2h-1.2zM997.6 92.6h1.1v1.1h-1.1zM1083.5 128.1h1.5v1.5h-1.5zM1041.3 90.1h1.5v1.5h-1.5zM962.9 110.9h1.5v1.5h-1.5zM1055.0 137.1h1.4v1.4h-1.4zM1123.7 113.2h1.5v1.5h-1.5zM1077.1 60.5h1.6v1.6h-1.6zM1088.0 130.5h1.1v1.1h-1.1zM1095.0 123.8h1.1v1.1h-1.1zM1054.9 152.1h1.7v1.7h-1.7zM1005.8 122.7h1.6v1.6h-1.6zM1082.7 72.4h1.4v1.4h-1.4zM984.4 115.4h1.5v1.5h-1.5zM1040.6 121.6h1.4v1.4h-1.4zM1063.6 73.3h1.1v1.1h-1.1zM1050.1 139.9h1.4v1.4h-1.4zM1019.7 90.3h1.1v1.1h-1.1zM985.9 129.0h1.0v1.0h-1.0zM1121.1 52.3h1.2v1.2h-1.2zM1068.9 132.1h1.5v1.5h-1.5zM1010.9 87.4h1.0v1.0h-1.0zM989.7 73.0h0.9v0.9h-0.9zM1042.9 123.4h1.1v1.1h-1.1zM1040.8 130.5h1.5v1.5h-1.5zM1044.6 59.5h1.6v1.6h-1.6zM1099.4 142.1h1.1v1.1h-1.1zM1004.6 162.8h1.7v1.7h-1.7zM1056.4 105.3h1.3v1.3h-1.3zM1119.9 13.0h1.4v1.4h-1.4zM965.4 125.6h1.4v1.4h-1.4zM1025.1 67.5h1.3v1.3h-1.3zM1102.1 117.9h1.6v1.6h-1.6zM980.0 77.6h1.6v1.6h-1.6zM1073.1 163.5h1.3v1.3h-1.3zM948.2 109.7h1.1v1.1h-1.1zM1019.4 39.6h1.6v1.6h-1.6zM1028.9 44.7h1.5v1.5h-1.5zM1012.6 157.8h1.2v1.2h-1.2zM1058.8 128.4h1.0v1.0h-1.0zM1062.6 113.5h1.2v1.2h-1.2zM1079.0 60.1h1.3v1.3h-1.3zM1020.6 131.1h1.6v1.6h-1.6zM1004.4 85.8h1.5v1.5h-1.5zM1089.4 155.1h1.3v1.3h-1.3zM1009.9 72.6h1.6v1.6h-1.6zM1062.2 110.8h1.4v1.4h-1.4zM1007.0 122.3h1.6v1.6h-1.6zM1061.0 104.2h1.0v1.0h-1.0zM1165.7 149.1h1.0v1.0h-1.0zM1072.5 137.3h1.6v1.6h-1.6zM1166.8 140.0h1.5v1.5h-1.5zM1005.2 112.7h1.1v1.1h-1.1zM1040.0 81.5h1.0v1.0h-1.0zM1048.2 110.3h1.0v1.0h-1.0zM1034.4 84.4h1.2v1.2h-1.2zM1073.3 45.4h1.6v1.6h-1.6zM1073.1 101.8h1.1v1.1h-1.1zM1048.9 17.9h1.1v1.1h-1.1zM1110.8 40.6h1.6v1.6h-1.6zM998.9 124.2h1.0v1.0h-1.0zM1010.2 87.2h1.1v1.1h-1.1zM938.6 86.2h1.5v1.5h-1.5zM1046.3 125.4h1.6v1.6h-1.6zM1024.3 109.3h1.7v1.7h-1.7zM1056.2 77.8h0.9v0.9h-0.9zM1003.9 170.6h1.2v1.2h-1.2zM999.5 145.0h1.4v1.4h-1.4zM1040.1 153.5h1.2v1.2h-1.2zM1008.8 119.8h1.5v1.5h-1.5zM1051.6 93.6h1.1v1.1h-1.1zM1050.7 74.5h1.4v1.4h-1.4zM1033.5 87.5h1.0v1.0h-1.0zM1070.6 98.4h1.0v1.0h-1.0zM975.6 88.5h1.5v1.5h-1.5zM1032.7 69.8h1.4v1.4h-1.4zM1095.7 115.9h1.4v1.4h-1.4zM1074.2 74.7h1.2v1.2h-1.2zM1019.4 137.2h1.4v1.4h-1.4zM973.8 114.6h1.7v1.7h-1.7zM1041.0 84.0h1.2v1.2h-1.2zM1041.0 63.6h0.9v0.9h-0.9zM1046.9 58.7h1.1v1.1h-1.1zM980.7 151.0h1.5v1.5h-1.5zM1006.1 26.9h1.1v1.1h-1.1zM1080.1 74.3h1.5v1.5h-1.5zM881.4 99.6h1.1v1.1h-1.1zM1078.0 114.1h1.4v1.4h-1.4zM1113.0 97.2h1.2v1.2h-1.2zM1063.5 66.0h1.3v1.3h-1.3zM1044.3 155.8h1.2v1.2h-1.2zM1059.4 107.4h1.4v1.4h-1.4zM949.7 88.3h1.5v1.5h-1.5zM980.1 129.2h1.5v1.5h-1.5zM1004.4 114.5h1.2v1.2h-1.2zM992.8 168.5h0.9v0.9h-0.9zM985.2 106.5h1.6v1.6h-1.6zM1153.5 109.3h1.0v1.0h-1.0zM998.5 123.5h1.2v1.2h-1.2zM1081.0 132.5h1.5v1.5h-1.5zM949.9 109.4h1.7v1.7h-1.7zM942.9 169.0h1.5v1.5h-1.5zM1040.3 85.4h1.0v1.0h-1.0zM1067.0 119.0h1.7v1.7h-1.7zM984.6 159.4h0.9v0.9h-0.9zM1026.4 39.3h0.9v0.9h-0.9zM1099.3 156.2h1.5v1.5h-1.5zM1092.9 121.2h1.6v1.6h-1.6zM997.6 135.1h1.4v1.4h-1.4zM1119.8 130.7h1.6v1.6h-1.6zM1108.4 74.2h1.4v1.4h-1.4zM1082.6 135.1h1.0v1.0h-1.0zM970.9 43.9h1.4v1.4h-1.4zM1005.2 104.7h1.5v1.5h-1.5zM1057.4 93.8h1.3v1.3h-1.3zM1034.4 97.8h1.5v1.5h-1.5zM1041.2 122.7h1.3v1.3h-1.3zM1059.4 99.9h1.0v1.0h-1.0zM1048.9 85.8h1.6v1.6h-1.6zM1072.9 83.9h1.1v1.1h-1.1zM1110.6 101.0h1.1v1.1h-1.1zM1049.6 74.8h1.0v1.0h-1.0zM1022.0 107.8h1.2v1.2h-1.2zM1038.2 79.7h1.2v1.2h-1.2zM985.6 103.3h1.1v1.1h-1.1zM1044.3 121.5h1.0v1.0h-1.0zM1093.1 90.8h1.3v1.3h-1.3zM948.3 96.8h0.9v0.9h-0.9zM955.0 56.0h1.3v1.3h-1.3zM1083.4 122.2h1.0v1.0h-1.0zM1008.6 79.2h1.0v1.0h-1.0zM1033.5 39.2h1.0v1.0h-1.0zM1058.9 89.5h1.6v1.6h-1.6zM1119.7 64.1h1.6v1.6h-1.6zM1082.3 77.6h1.7v1.7h-1.7zM1083.1 66.9h1.5v1.5h-1.5zM1070.3 86.2h1.3v1.3h-1.3zM1000.6 96.6h1.2v1.2h-1.2zM1058.8 116.5h1.4v1.4h-1.4zM1108.2 131.4h1.4v1.4h-1.4zM919.5 87.7h1.7v1.7h-1.7zM948.3 88.3h1.2v1.2h-1.2zM1065.5 54.1h1.6v1.6h-1.6zM984.6 107.2h1.7v1.7h-1.7zM1024.6 158.8h1.7v1.7h-1.7zM1052.0 121.1h1.4v1.4h-1.4zM1116.0 84.1h1.4v1.4h-1.4zM1037.5 66.5h1.7v1.7h-1.7zM1049.1 139.2h1.2v1.2h-1.2zM1098.9 100.8h1.5v1.5h-1.5zM1005.7 74.6h1.0v1.0h-1.0zM975.1 106.5h1.1v1.1h-1.1zM1098.6 17.0h1.3v1.3h-1.3zM940.0 152.4h1.5v1.5h-1.5zM965.4 114.0h1.0v1.0h-1.0zM981.2 130.3h1.6v1.6h-1.6zM1072.9 108.3h1.4v1.4h-1.4zM1074.8 104.0h1.0v1.0h-1.0zM1063.1 167.8h0.9v0.9h-0.9zM1087.2 78.6h1.2v1.2h-1.2zM1001.8 93.7h1.6v1.6h-1.6zM1027.6 104.9h1.7v1.7h-1.7zM1010.8 125.8h1.5v1.5h-1.5zM1039.7 115.4h1.1v1.1h-1.1zM1038.3 124.5h1.6v1.6h-1.6zM984.2 159.3h1.0v1.0h-1.0zM1053.6 118.6h1.2v1.2h-1.2zM1065.6 141.4h1.4v1.4h-1.4zM1071.2 111.1h1.2v1.2h-1.2zM1030.0 43.4h1.2v1.2h-1.2zM1047.9 91.4h1.2v1.2h-1.2zM1024.2 189.1h1.6v1.6h-1.6zM954.7 104.7h1.3v1.3h-1.3zM1092.8 137.2h1.0v1.0h-1.0zM1094.1 57.1h1.2v1.2h-1.2zM995.2 125.0h1.4v1.4h-1.4zM1025.1 164.4h1.3v1.3h-1.3zM1048.7 109.8h1.7v1.7h-1.7zM1058.3 93.1h1.3v1.3h-1.3zM1043.9 78.6h1.5v1.5h-1.5zM1036.9 85.5h1.5v1.5h-1.5zM1050.2 51.9h1.3v1.3h-1.3zM971.6 119.5h1.2v1.2h-1.2zM1048.9 68.3h1.3v1.3h-1.3zM1028.6 65.3h1.0v1.0h-1.0zM1130.6 46.8h1.0v1.0h-1.0zM1115.9 73.4h1.0v1.0h-1.0zM1057.8 93.6h1.0v1.0h-1.0zM1021.7 136.8h1.0v1.0h-1.0zM1075.6 92.7h1.2v1.2h-1.2zM998.0 177.7h1.0v1.0h-1.0zM1102.1 108.2h1.7v1.7h-1.7zM1025.6 113.7h1.2v1.2h-1.2zM1042.7 146.2h0.9v0.9h-0.9zM995.5 103.9h1.4v1.4h-1.4zM1003.7 150.2h1.5v1.5h-1.5zM1120.1 99.9h1.7v1.7h-1.7zM1063.3 153.8h1.1v1.1h-1.1zM1025.6 69.6h1.2v1.2h-1.2zM1085.8 121.5h1.5v1.5h-1.5zM1029.7 155.8h1.4v1.4h-1.4zM1049.7 39.2h1.4v1.4h-1.4zM1054.7 101.1h1.6v1.6h-1.6zM1123.7 102.7h1.7v1.7h-1.7zM1029.8 119.0h0.9v0.9h-0.9zM1050.1 52.6h1.2v1.2h-1.2zM1044.5 91.5h1.7v1.7h-1.7zM1102.3 189.7h0.9v0.9h-0.9zM988.8 68.5h1.2v1.2h-1.2zM1001.2 79.7h1.5v1.5h-1.5zM1008.1 105.3h1.0v1.0h-1.0zM1088.2 56.5h1.4v1.4h-1.4zM969.9 37.0h1.6v1.6h-1.6zM1088.9 151.1h1.3v1.3h-1.3zM970.1 44.6h0.9v0.9h-0.9zM1045.1 142.7h1.0v1.0h-1.0zM1084.9 110.3h1.2v1.2h-1.2zM1069.9 115.2h0.9v0.9h-0.9zM1014.3 172.1h1.4v1.4h-1.4zM1039.2 63.3h1.1v1.1h-1.1zM1018.2 47.9h1.2v1.2h-1.2zM1040.0 142.9h1.5v1.5h-1.5zM982.3 144.0h1.5v1.5h-1.5zM1133.5 117.0h1.5v1.5h-1.5zM987.1 72.7h1.1v1.1h-1.1zM1024.2 57.2h1.2v1.2h-1.2zM983.0 94.1h1.4v1.4h-1.4zM1031.1 125.2h1.3v1.3h-1.3zM985.3 170.8h1.5v1.5h-1.5zM1087.1 135.5h1.2v1.2h-1.2zM1010.0 166.1h1.6v1.6h-1.6zM1023.8 168.8h1.1v1.1h-1.1zM1087.5 71.1h1.4v1.4h-1.4zM1018.8 170.8h1.5v1.5h-1.5zM1084.4 97.8h1.7v1.7h-1.7zM1048.5 110.6h1.2v1.2h-1.2zM1004.5 96.2h1.6v1.6h-1.6zM1009.6 88.0h1.4v1.4h-1.4zM1060.3 68.9h1.4v1.4h-1.4zM1072.0 107.4h1.1v1.1h-1.1zM1073.6 135.5h1.6v1.6h-1.6zM1095.4 126.1h1.0v1.0h-1.0zM1071.2 96.9h1.7v1.7h-1.7zM1064.9 71.0h1.4v1.4h-1.4zM1028.2 130.4h1.4v1.4h-1.4zM1036.9 119.5h1.0v1.0h-1.0zM991.7 152.8h1.4v1.4h-1.4zM1013.3 117.7h1.0v1.0h-1.0zM1038.3 137.1h1.6v1.6h-1.6zM1022.0 67.3h1.5v1.5h-1.5zM953.7 92.4h1.0v1.0h-1.0zM985.4 122.7h1.5v1.5h-1.5zM1104.3 23.1h1.4v1.4h-1.4zM981.1 114.6h1.1v1.1h-1.1zM1095.0 114.4h1.4v1.4h-1.4zM1053.9 121.7h1.5v1.5h-1.5zM1065.2 162.8h1.3v1.3h-1.3zM1066.9 58.6h1.5v1.5h-1.5zM1017.9 111.0h1.5v1.5h-1.5zM1002.6 94.0h1.6v1.6h-1.6zM1015.5 78.1h1.6v1.6h-1.6zM1070.6 89.3h1.0v1.0h-1.0zM989.9 77.5h1.6v1.6h-1.6zM1040.9 179.8h1.7v1.7h-1.7zM1050.9 157.1h1.3v1.3h-1.3zM1061.6 25.7h1.6v1.6h-1.6zM1056.4 72.6h1.1v1.1h-1.1zM978.0 64.4h0.9v0.9h-0.9zM1120.1 46.3h1.3v1.3h-1.3zM1011.2 145.3h1.0v1.0h-1.0zM1069.3 41.4h1.0v1.0h-1.0zM1034.2 84.7h1.3v1.3h-1.3zM1030.4 130.6h1.7v1.7h-1.7zM1013.1 91.8h1.3v1.3h-1.3zM1105.3 36.6h1.7v1.7h-1.7zM1022.3 120.4h1.3v1.3h-1.3zM982.7 80.5h1.3v1.3h-1.3zM979.6 109.0h0.9v0.9h-0.9zM1010.9 131.8h1.0v1.0h-1.0zM1085.4 105.0h1.6v1.6h-1.6zM1021.9 112.7h1.4v1.4h-1.4zM1041.7 59.2h1.4v1.4h-1.4zM1087.7 111.5h1.6v1.6h-1.6zM1074.8 53.9h1.4v1.4h-1.4zM1078.8 179.7h1.1v1.1h-1.1zM1067.0 50.6h1.6v1.6h-1.6zM1040.7 101.1h1.5v1.5h-1.5zM1048.9 94.8h1.0v1.0h-1.0zM1061.5 86.4h1.6v1.6h-1.6zM1049.4 78.2h1.2v1.2h-1.2zM1043.5 139.3h1.6v1.6h-1.6zM1016.7 127.4h1.6v1.6h-1.6zM998.7 89.7h1.6v1.6h-1.6zM1028.2 148.4h1.0v1.0h-1.0zM1004.2 147.4h1.5v1.5h-1.5zM972.4 97.4h1.2v1.2h-1.2zM1080.4 128.4h1.6v1.6h-1.6zM993.0 58.7h1.0v1.0h-1.0zM1078.7 57.3h1.6v1.6h-1.6zM1065.2 84.2h1.7v1.7h-1.7zM1038.4 187.2h1.3v1.3h-1.3zM1109.3 133.6h1.3v1.3h-1.3zM976.2 114.7h1.4v1.4h-1.4zM1041.2 99.4h1.6v1.6h-1.6zM1099.6 40.5h1.0v1.0h-1.0zM1053.2 107.6h1.6v1.6h-1.6zM1004.6 165.8h1.2v1.2h-1.2zM981.1 104.0h1.2v1.2h-1.2zM1042.4 23.2h1.6v1.6h-1.6zM973.6 67.7h1.0v1.0h-1.0zM1074.6 137.4h1.0v1.0h-1.0zM1065.7 111.7h1.4v1.4h-1.4zM938.6 110.8h1.5v1.5h-1.5zM1015.3 145.6h1.1v1.1h-1.1zM1099.9 184.4h1.5v1.5h-1.5zM1070.9 132.6h1.2v1.2h-1.2zM991.6 105.8h0.9v0.9h-0.9zM982.3 135.6h1.1v1.1h-1.1zM984.2 95.0h1.0v1.0h-1.0zM1001.2 85.7h1.3v1.3h-1.3zM1059.4 82.2h1.3v1.3h-1.3zM1048.5 66.2h1.2v1.2h-1.2zM1102.2 79.3h1.6v1.6h-1.6zM1084.6 180.8h1.2v1.2h-1.2zM927.3 66.6h1.1v1.1h-1.1zM1029.0 145.5h1.7v1.7h-1.7zM1016.3 116.6h1.4v1.4h-1.4zM1005.1 123.3h1.7v1.7h-1.7zM983.0 133.3h1.3v1.3h-1.3zM901.7 33.6h1.4v1.4h-1.4zM1121.5 109.0h1.2v1.2h-1.2zM997.4 183.3h1.7v1.7h-1.7zM1086.4 143.9h1.1v1.1h-1.1zM1019.0 125.4h1.6v1.6h-1.6zM1061.5 41.9h1.2v1.2h-1.2zM1065.4 95.8h1.5v1.5h-1.5zM1097.2 150.5h1.4v1.4h-1.4zM1008.8 80.4h1.5v1.5h-1.5zM1047.0 126.6h1.1v1.1h-1.1zM1019.3 98.4h1.7v1.7h-1.7zM1066.2 118.1h1.3v1.3h-1.3zM1091.5 111.3h1.0v1.0h-1.0zM997.4 37.7h1.4v1.4h-1.4zM1075.4 90.2h1.0v1.0h-1.0zM1022.1 91.8h1.4v1.4h-1.4zM965.8 88.1h1.5v1.5h-1.5zM918.4 87.7h1.1v1.1h-1.1zM996.9 170.1h1.0v1.0h-1.0zM1058.6 94.6h1.0v1.0h-1.0zM1045.5 129.3h1.4v1.4h-1.4zM1003.2 93.9h1.5v1.5h-1.5zM1021.7 194.0h1.6v1.6h-1.6zM1041.4 29.9h1.2v1.2h-1.2zM1074.7 197.8h1.0v1.0h-1.0zM993.9 230.8h1.4v1.4h-1.4zM1035.1 139.3h1.6v1.6h-1.6zM1011.9 92.4h1.5v1.5h-1.5zM981.1 63.3h1.3v1.3h-1.3zM938.9 144.6h1.1v1.1h-1.1zM984.8 116.0h1.5v1.5h-1.5zM1053.2 78.3h1.6v1.6h-1.6zM1040.1 98.8h1.1v1.1h-1.1zM1014.9 104.1h1.5v1.5h-1.5zM1040.2 64.5h1.5v1.5h-1.5zM977.8 70.8h1.7v1.7h-1.7zM1043.4 153.5h1.2v1.2h-1.2zM1105.9 113.8h1.2v1.2h-1.2zM1081.6 106.8h0.9v0.9h-0.9zM1089.0 106.9h1.0v1.0h-1.0zM1055.9 91.6h1.5v1.5h-1.5zM1037.4 172.6h1.1v1.1h-1.1zM982.0 102.2h1.6v1.6h-1.6zM1010.2 137.8h1.2v1.2h-1.2zM1122.0 90.5h1.5v1.5h-1.5zM908.8 125.0h1.2v1.2h-1.2zM1066.2 39.4h1.5v1.5h-1.5zM1026.3 99.6h1.3v1.3h-1.3zM930.0 127.2h1.1v1.1h-1.1zM1058.0 110.9h1.1v1.1h-1.1zM988.2 75.5h1.1v1.1h-1.1zM1008.0 119.8h1.0v1.0h-1.0zM991.6 156.5h1.6v1.6h-1.6zM1055.1 20.7h1.6v1.6h-1.6zM1115.9 107.8h1.5v1.5h-1.5zM1011.7 105.7h0.9v0.9h-0.9zM952.2 109.0h1.6v1.6h-1.6zM922.6 63.6h1.5v1.5h-1.5zM1100.5 149.0h1.6v1.6h-1.6zM1021.3 65.7h1.4v1.4h-1.4zM1080.8 99.9h1.1v1.1h-1.1zM1047.1 125.2h1.1v1.1h-1.1zM986.9 131.4h1.2v1.2h-1.2zM938.2 156.4h1.0v1.0h-1.0zM963.7 78.2h0.9v0.9h-0.9zM1005.8 128.9h1.7v1.7h-1.7zM1072.0 115.1h1.2v1.2h-1.2zM1062.4 119.1h1.4v1.4h-1.4zM1033.6 30.0h1.0v1.0h-1.0zM928.9 15.3h1.6v1.6h-1.6zM1034.6 93.0h1.5v1.5h-1.5zM1030.3 109.9h0.9v0.9h-0.9zM1025.8 64.0h1.1v1.1h-1.1zM966.3 30.2h1.5v1.5h-1.5zM1093.8 135.5h0.9v0.9h-0.9zM973.2 91.1h0.9v0.9h-0.9zM1057.4 161.2h1.0v1.0h-1.0zM1008.4 107.9h1.0v1.0h-1.0zM1091.0 36.0h1.5v1.5h-1.5zM1002.1 99.8h1.5v1.5h-1.5zM1002.7 180.7h1.4v1.4h-1.4zM1077.3 108.6h1.1v1.1h-1.1zM991.4 133.8h1.5v1.5h-1.5zM1066.2 81.8h1.4v1.4h-1.4zM1016.0 46.2h0.9v0.9h-0.9zM1032.8 133.7h1.1v1.1h-1.1zM1083.5 122.9h1.5v1.5h-1.5zM1075.1 79.0h1.4v1.4h-1.4zM1014.3 146.4h1.2v1.2h-1.2zM1057.5 71.2h1.3v1.3h-1.3zM1059.9 132.3h1.1v1.1h-1.1zM1069.5 105.1h1.4v1.4h-1.4zM1012.0 116.0h1.0v1.0h-1.0zM1115.9 106.5h1.7v1.7h-1.7zM1004.9 113.7h1.6v1.6h-1.6zM978.3 109.6h1.3v1.3h-1.3zM1022.2 136.9h1.7v1.7h-1.7zM1041.0 140.4h1.4v1.4h-1.4zM1144.1 92.8h1.4v1.4h-1.4zM997.0 118.2h1.4v1.4h-1.4zM1032.0 106.2h1.5v1.5h-1.5zM1007.9 121.7h1.7v1.7h-1.7zM1039.4 19.9h1.5v1.5h-1.5zM1025.0 113.4h1.1v1.1h-1.1zM1091.3 79.2h0.9v0.9h-0.9zM998.5 143.9h1.6v1.6h-1.6zM1007.5 104.8h1.5v1.5h-1.5zM1058.2 128.5h1.4v1.4h-1.4zM1036.4 59.2h1.3v1.3h-1.3zM1083.3 84.5h1.7v1.7h-1.7zM1011.6 175.9h0.9v0.9h-0.9zM1077.1 61.1h1.0v1.0h-1.0zM1013.4 91.6h1.2v1.2h-1.2zM1000.9 29.0h1.7v1.7h-1.7z" fill="#4a4a4a" fill-opacity="0.70"/>
<path d="M1114.2 185.9h1.0v1.0h-1.0zM1109.6 151.8h1.2v1.2h-1.2zM1098.0 123.1h1.4v1.4h-1.4zM1106.5 135.4h1.1v1.1h-1.1zM1092.5 88.2h1.6v1.6h-1.6zM1089.7 149.1h1.4v1.4h-1.4zM1086.7 141.3h0.9v0.9h-0.9zM1092.7 98.9h1.1v1.1h-1.1zM1078.7 107.9h1.5v1.5h-1.5zM1090.0 122.6h1.4v1.4h-1.4zM1116.0 97.3h1.5v1.5h-1.5zM1057.7 151.8h1.0v1.0h-1.0zM1087.0 127.0h1.5v1.5h-1.5zM1142.5 175.8h1.4v1.4h-1.4zM1106.3 159.9h1.2v1.2h-1.2zM1097.7 160.3h1.4v1.4h-1.4zM1084.2 108.9h1.1v1.1h-1.1zM1086.9 179.4h1.5v1.5h-1.5zM1124.2 112.2h1.0v1.0h-1.0zM1117.0 126.0h1.1v1.1h-1.1zM1115.4 121.1h1.4v1.4h-1.4zM1113.2 127.5h1.2v1.2h-1.2zM1090.3 130.3h1.5v1.5h-1.5zM1098.5 113.1h1.5v1.5h-1.5zM1070.3 183.1h1.4v1.4h-1.4zM1088.3 75.1h1.2v1.2h-1.2zM1053.7 44.7h1.2v1.2h-1.2zM1084.3 172.9h1.1v1.1h-1.1zM1065.5 121.2h1.1v1.1h-1.1zM1061.7 165.1h0.9v0.9h-0.9zM1102.4 141.0h1.1v1.1h-1.1zM1120.6 181.8h1.4v1.4h-1.4zM1114.7 113.3h1.3v1.3h-1.3zM1071.2 99.0h1.1v1.1h-1.1zM1063.3 186.8h1.1v1.1h-1.1zM1092.2 135.2h1.0v1.0h-1.0zM1099.3 193.5h1.0v1.0h-1.0zM1085.3 167.7h1.0v1.0h-1.0zM1101.3 126.5h1.3v1.3h-1.3zM1060.2 159.6h1.6v1.6h-1.6zM1082.0 117.1h1.4v1.4h-1.4zM1099.9 134.2h1.1v1.1h-1.1zM1116.6 110.5h1.3v1.3h-1.3zM1098.8 139.9h1.0v1.0h-1.0zM1096.2 152.3h1.0v1.0h-1.0zM1091.1 168.5h0.9v0.9h-0.9zM1082.6 86.8h1.3v1.3h-1.3zM1095.0 167.7h1.3v1.3h-1.3zM1086.2 111.9h1.0v1.0h-1.0zM1089.4 136.4h1.6v1.6h-1.6zM1092.5 140.9h1.0v1.0h-1.0zM1063.9 177.6h1.3v1.3h-1.3zM1106.6 104.7h1.4v1.4h-1.4zM1121.2 145.2h0.9v0.9h-0.9zM1123.0 95.0h1.1v1.1h-1.1zM1126.5 132.7h1.3v1.3h-1.3zM1057.6 154.5h1.4v1.4h-1.4zM1090.2 100.0h1.4v1.4h-1.4zM1091.8 71.3h1.4v1.4h-1.4zM1106.6 124.6h1.0v1.0h-1.0zM1090.8 175.0h0.9v0.9h-0.9zM1096.4 110.9h1.5v1.5h-1.5zM1078.1 129.4h1.0v1.0h-1.0zM1115.5 113.3h1.2v1.2h-1.2zM1076.5 159.8h1.5v1.5h-1.5zM1096.9 130.5h0.9v0.9h-0.9zM1134.4 93.8h1.5v1.5h-1.5zM1099.5 76.4h1.4v1.4h-1.4zM1090.2 149.4h1.2v1.2h-1.2zM1116.6 92.0h1.1v1.1h-1.1zM1111.2 155.5h1.3v1.3h-1.3zM1093.5 207.3h1.5v1.5h-1.5zM1095.8 104.1h1.0v1.0h-1.0zM1103.6 73.7h1.1v1.1h-1.1zM1124.7 161.8h1.2v1.2h-1.2zM1088.4 150.2h1.5v1.5h-1.5zM1105.7 191.0h1.2v1.2h-1.2zM1084.3 91.4h1.2v1.2h-1.2zM1058.1 122.1h1.6v1.6h-1.6zM1066.7 125.9h1.3v1.3h-1.3zM1103.4 117.6h1.5v1.5h-1.5zM1078.2 168.1h1.4v1.4h-1.4zM1092.0 138.4h1.3v1.3h-1.3zM1113.4 90.9h1.2v1.2h-1.2zM1078.7 208.4h1.4v1.4h-1.4zM1092.8 99.0h1.5v1.5h-1.5zM1091.0 113.5h1.0v1.0h-1.0zM1073.0 118.6h1.1v1.1h-1.1zM1095.4 130.8h1.0v1.0h-1.0zM1105.7 77.7h1.5v1.5h-1.5zM1068.0 155.6h1.1v1.1h-1.1zM1087.5 168.8h1.2v1.2h-1.2zM1101.4 87.7h1.3v1.3h-1.3zM1105.7 100.0h1.6v1.6h-1.6zM1100.6 169.2h0.9v0.9h-0.9zM1134.9 129.1h1.0v1.0h-1.0zM1108.7 140.5h1.5v1.5h-1.5zM1110.4 52.5h1.2v1.2h-1.2zM1088.5 140.2h1.2v1.2h-1.2zM1104.4 108.0h1.6v1.6h-1.6zM1111.0 165.3h1.0v1.0h-1.0zM1097.0 124.2h0.9v0.9h-0.9zM1089.1 135.5h1.5v1.5h-1.5zM1117.6 177.5h1.5v1.5h-1.5zM1087.0 102.6h1.3v1.3h-1.3zM1081.1 161.6h1.1v1.1h-1.1zM1099.8 140.5h1.4v1.4h-1.4zM1104.7 142.8h1.0v1.0h-1.0zM1093.5 99.2h1.2v1.2h-1.2zM1084.3 135.0h1.0v1.0h-1.0zM1103.0 119.9h1.2v1.2h-1.2zM1088.1 173.4h0.9v0.9h-0.9zM1087.1 138.1h1.2v1.2h-1.2zM1089.9 104.8h1.2v1.2h-1.2zM1067.7 114.7h1.6v1.6h-1.6zM1080.6 157.3h1.2v1.2h-1.2zM1074.6 118.6h1.3v1.3h-1.3zM1107.8 127.8h1.0v1.0h-1.0zM1104.9 156.9h1.1v1.1h-1.1zM1065.2 118.6h1.1v1.1h-1.1z" fill="#4a4a4a" fill-opacity="0.60"/>
<g clip-path="url(#clipRL)">
<rect x="600" y="140" width="170" height="100" fill="#f1dadb" stroke="none" stroke-width="0"/>
<ellipse cx="668" cy="203" rx="30" ry="26" fill="url(#gR)"/>
<ellipse cx="710" cy="173" rx="28" ry="18" fill="url(#gR)"/>
<ellipse cx="735" cy="212" rx="22" ry="24" fill="url(#gR)"/>
<ellipse cx="695" cy="222" rx="20" ry="14" fill="url(#gR)"/>
<path d="M645.1 202.3h2.2v2.2h-2.2zM669.3 195.0h2.4v2.4h-2.4zM655.2 225.4h2.4v2.4h-2.4zM653.0 195.3h2.5v2.5h-2.5zM661.3 199.9h2.2v2.2h-2.2zM669.6 199.9h2.4v2.4h-2.4zM673.6 205.8h1.9v1.9h-1.9zM675.6 226.7h2.1v2.1h-2.1zM650.5 231.5h2.1v2.1h-2.1zM658.0 214.7h1.9v1.9h-1.9zM669.5 198.4h1.9v1.9h-1.9zM629.2 230.8h2.2v2.2h-2.2zM652.1 190.0h1.6v1.6h-1.6zM686.6 204.7h2.4v2.4h-2.4zM702.5 232.0h2.3v2.3h-2.3zM679.9 207.7h1.6v1.6h-1.6zM680.9 181.1h1.8v1.8h-1.8zM669.7 205.9h2.4v2.4h-2.4zM657.5 207.7h1.9v1.9h-1.9zM638.8 218.7h2.4v2.4h-2.4zM690.8 181.5h1.9v1.9h-1.9zM669.2 229.6h2.6v2.6h-2.6zM674.3 185.9h1.9v1.9h-1.9zM647.7 217.8h2.6v2.6h-2.6zM701.1 185.0h1.9v1.9h-1.9zM667.1 190.2h1.9v1.9h-1.9zM661.0 208.6h1.6v1.6h-1.6zM665.6 191.8h2.3v2.3h-2.3zM706.1 200.7h1.5v1.5h-1.5zM663.0 222.1h2.3v2.3h-2.3zM666.6 199.9h2.0v2.0h-2.0zM684.3 185.9h2.4v2.4h-2.4zM680.5 220.7h2.1v2.1h-2.1zM678.9 200.3h2.5v2.5h-2.5zM666.2 174.4h2.0v2.0h-2.0zM663.9 208.2h1.7v1.7h-1.7zM682.7 205.7h2.5v2.5h-2.5zM659.0 189.2h2.5v2.5h-2.5zM665.5 205.6h2.4v2.4h-2.4zM689.2 203.5h2.1v2.1h-2.1zM656.9 201.5h1.7v1.7h-1.7zM657.3 199.4h1.4v1.4h-1.4zM624.8 176.5h2.4v2.4h-2.4zM643.9 211.2h2.2v2.2h-2.2zM664.9 205.8h1.9v1.9h-1.9zM688.2 185.8h2.0v2.0h-2.0zM687.8 209.8h2.3v2.3h-2.3zM652.9 228.3h1.7v1.7h-1.7zM639.5 184.4h1.4v1.4h-1.4zM662.4 210.1h1.5v1.5h-1.5zM662.7 167.4h2.6v2.6h-2.6zM660.7 201.9h1.7v1.7h-1.7zM714.1 226.4h2.6v2.6h-2.6zM668.6 185.0h1.4v1.4h-1.4zM672.7 183.7h2.2v2.2h-2.2zM670.1 209.4h2.0v2.0h-2.0zM658.8 207.5h2.0v2.0h-2.0zM660.1 193.7h1.4v1.4h-1.4zM695.1 213.0h2.1v2.1h-2.1zM660.5 190.4h2.1v2.1h-2.1zM669.6 212.8h2.4v2.4h-2.4zM682.3 228.0h2.4v2.4h-2.4zM675.0 184.5h2.4v2.4h-2.4zM704.4 222.7h1.5v1.5h-1.5zM681.9 225.7h2.5v2.5h-2.5zM638.4 197.0h2.0v2.0h-2.0zM656.7 223.2h2.4v2.4h-2.4zM644.2 197.8h2.5v2.5h-2.5zM694.7 214.1h1.5v1.5h-1.5zM659.1 234.8h1.9v1.9h-1.9zM641.4 210.8h2.0v2.0h-2.0zM662.0 211.8h2.1v2.1h-2.1zM661.1 189.2h2.5v2.5h-2.5zM670.3 181.1h1.4v1.4h-1.4zM676.2 197.9h2.1v2.1h-2.1zM683.5 195.7h2.0v2.0h-2.0zM653.7 209.9h1.6v1.6h-1.6zM689.4 168.5h2.2v2.2h-2.2zM668.5 213.7h2.3v2.3h-2.3zM639.6 188.4h1.5v1.5h-1.5zM678.3 189.3h1.5v1.5h-1.5zM654.3 232.0h2.0v2.0h-2.0zM648.6 188.7h2.5v2.5h-2.5zM622.9 184.8h2.4v2.4h-2.4zM643.2 231.9h2.2v2.2h-2.2zM689.0 182.0h1.9v1.9h-1.9zM703.0 216.1h2.5v2.5h-2.5zM662.8 216.7h2.0v2.0h-2.0zM673.3 190.3h1.6v1.6h-1.6zM633.2 187.9h2.1v2.1h-2.1zM666.1 197.2h1.5v1.5h-1.5zM652.3 219.5h2.4v2.4h-2.4zM646.2 218.1h2.0v2.0h-2.0zM657.1 205.0h2.3v2.3h-2.3zM645.2 203.0h2.4v2.4h-2.4zM651.5 173.9h2.3v2.3h-2.3zM665.8 202.3h2.3v2.3h-2.3zM681.7 207.9h2.3v2.3h-2.3zM647.2 192.9h1.9v1.9h-1.9zM619.6 184.4h1.4v1.4h-1.4zM690.4 228.5h1.7v1.7h-1.7zM680.4 208.2h2.2v2.2h-2.2zM677.1 211.3h1.8v1.8h-1.8zM633.6 188.5h2.6v2.6h-2.6zM688.3 222.9h1.8v1.8h-1.8zM670.6 197.9h2.3v2.3h-2.3zM658.9 194.0h1.5v1.5h-1.5zM648.8 170.8h1.9v1.9h-1.9zM668.9 195.5h2.4v2.4h-2.4zM662.1 231.9h2.5v2.5h-2.5zM677.2 191.3h1.5v1.5h-1.5zM677.0 177.8h2.4v2.4h-2.4zM685.8 207.5h2.6v2.6h-2.6zM662.5 212.7h1.4v1.4h-1.4zM693.4 195.3h2.4v2.4h-2.4zM647.6 238.6h1.5v1.5h-1.5zM666.4 228.2h2.2v2.2h-2.2zM653.4 209.4h2.6v2.6h-2.6zM654.1 213.7h1.5v1.5h-1.5zM660.9 191.8h2.3v2.3h-2.3zM695.2 208.8h1.5v1.5h-1.5zM627.9 199.1h2.1v2.1h-2.1zM648.8 182.6h1.8v1.8h-1.8zM655.1 195.0h2.1v2.1h-2.1zM666.7 189.7h2.3v2.3h-2.3zM631.0 194.0h1.6v1.6h-1.6zM682.6 180.1h1.8v1.8h-1.8zM677.7 210.8h1.5v1.5h-1.5zM657.6 208.3h1.9v1.9h-1.9zM651.9 196.3h1.5v1.5h-1.5zM646.8 210.9h1.4v1.4h-1.4zM691.9 191.6h2.3v2.3h-2.3zM688.6 167.0h2.2v2.2h-2.2zM649.3 186.0h1.4v1.4h-1.4zM698.5 193.1h2.2v2.2h-2.2zM680.7 168.4h2.2v2.2h-2.2zM668.2 212.6h1.8v1.8h-1.8zM665.3 157.0h1.8v1.8h-1.8zM669.4 216.7h1.7v1.7h-1.7zM691.0 209.8h2.1v2.1h-2.1zM634.1 199.5h1.6v1.6h-1.6zM683.1 189.2h2.1v2.1h-2.1zM676.7 194.9h1.9v1.9h-1.9zM667.8 215.8h2.0v2.0h-2.0zM652.6 251.5h2.3v2.3h-2.3zM668.9 208.8h1.7v1.7h-1.7zM652.0 204.1h1.8v1.8h-1.8zM660.9 178.3h2.0v2.0h-2.0zM637.0 207.9h1.8v1.8h-1.8zM664.3 158.4h2.2v2.2h-2.2zM625.3 197.8h1.6v1.6h-1.6zM664.7 213.3h2.5v2.5h-2.5zM642.5 213.1h2.5v2.5h-2.5zM660.2 194.4h1.6v1.6h-1.6zM663.3 219.7h2.0v2.0h-2.0zM676.6 218.1h1.8v1.8h-1.8zM652.9 198.2h1.8v1.8h-1.8zM643.9 193.6h1.6v1.6h-1.6zM658.5 195.1h2.0v2.0h-2.0zM679.5 210.2h2.4v2.4h-2.4zM680.4 205.2h1.7v1.7h-1.7zM686.4 204.9h2.3v2.3h-2.3zM684.3 211.6h2.3v2.3h-2.3zM680.0 201.9h2.2v2.2h-2.2zM642.5 178.4h2.5v2.5h-2.5zM703.2 209.6h2.1v2.1h-2.1zM674.4 200.2h2.4v2.4h-2.4zM657.3 251.8h2.5v2.5h-2.5zM644.7 201.9h2.4v2.4h-2.4zM665.0 183.8h2.1v2.1h-2.1zM641.8 191.0h1.7v1.7h-1.7zM659.5 194.7h2.1v2.1h-2.1zM681.5 183.0h2.3v2.3h-2.3zM673.7 228.0h2.3v2.3h-2.3zM683.0 183.6h1.9v1.9h-1.9zM609.9 217.4h2.3v2.3h-2.3zM675.4 193.0h1.8v1.8h-1.8zM690.3 196.1h1.6v1.6h-1.6zM668.1 185.4h2.5v2.5h-2.5zM672.1 195.7h2.5v2.5h-2.5zM656.4 221.4h1.9v1.9h-1.9zM670.1 177.6h2.1v2.1h-2.1zM679.1 217.2h1.4v1.4h-1.4zM650.2 196.3h2.5v2.5h-2.5zM667.0 198.8h1.8v1.8h-1.8zM668.4 214.0h2.1v2.1h-2.1zM656.7 238.4h1.6v1.6h-1.6zM652.5 193.8h1.6v1.6h-1.6zM703.4 243.5h2.1v2.1h-2.1zM666.7 199.8h2.2v2.2h-2.2zM645.6 222.4h2.6v2.6h-2.6zM669.3 188.6h2.2v2.2h-2.2zM673.7 226.3h2.1v2.1h-2.1zM679.0 240.5h2.1v2.1h-2.1zM688.0 210.5h1.7v1.7h-1.7zM665.4 212.4h1.8v1.8h-1.8zM689.1 217.6h2.2v2.2h-2.2zM686.0 206.8h1.6v1.6h-1.6zM680.6 223.7h1.8v1.8h-1.8zM662.9 181.0h1.6v1.6h-1.6zM698.8 212.9h1.4v1.4h-1.4zM657.6 207.0h1.9v1.9h-1.9zM661.3 174.0h1.8v1.8h-1.8zM662.5 178.8h2.1v2.1h-2.1zM669.9 201.1h1.9v1.9h-1.9zM687.5 201.0h1.5v1.5h-1.5zM673.1 197.9h2.4v2.4h-2.4zM658.8 179.2h1.4v1.4h-1.4zM684.8 205.9h1.4v1.4h-1.4zM654.9 206.5h1.4v1.4h-1.4zM658.1 190.7h2.3v2.3h-2.3zM670.7 223.7h1.8v1.8h-1.8zM660.9 178.8h2.5v2.5h-2.5zM654.3 233.6h1.8v1.8h-1.8zM650.6 223.2h1.9v1.9h-1.9zM661.5 215.6h2.2v2.2h-2.2zM664.0 176.2h2.5v2.5h-2.5zM658.2 238.9h2.5v2.5h-2.5zM663.5 212.6h1.9v1.9h-1.9zM659.6 200.8h2.2v2.2h-2.2zM672.1 211.1h1.5v1.5h-1.5zM708.2 202.7h2.1v2.1h-2.1zM662.6 191.8h2.2v2.2h-2.2zM641.1 175.7h1.7v1.7h-1.7zM678.6 171.4h2.2v2.2h-2.2zM692.7 217.6h1.8v1.8h-1.8zM660.4 183.4h2.3v2.3h-2.3zM666.6 203.4h1.5v1.5h-1.5zM687.5 190.4h2.0v2.0h-2.0zM658.9 202.1h2.5v2.5h-2.5zM660.8 192.4h2.2v2.2h-2.2zM633.5 175.2h2.5v2.5h-2.5zM653.2 199.2h2.5v2.5h-2.5zM685.0 242.3h2.3v2.3h-2.3zM698.6 209.8h2.4v2.4h-2.4zM701.7 201.1h2.3v2.3h-2.3zM656.1 242.4h2.0v2.0h-2.0zM645.8 196.0h2.3v2.3h-2.3zM661.1 227.9h2.3v2.3h-2.3zM654.8 216.3h2.4v2.4h-2.4zM658.3 182.3h1.4v1.4h-1.4zM670.6 205.9h1.4v1.4h-1.4zM644.1 188.4h2.0v2.0h-2.0zM651.0 219.4h2.3v2.3h-2.3zM674.9 207.1h1.9v1.9h-1.9zM675.4 195.0h1.9v1.9h-1.9zM675.2 192.8h1.4v1.4h-1.4zM640.8 191.1h2.1v2.1h-2.1zM670.1 204.6h2.5v2.5h-2.5zM686.2 174.4h2.1v2.1h-2.1zM661.9 209.8h1.7v1.7h-1.7zM647.8 207.3h2.2v2.2h-2.2zM658.3 183.9h1.8v1.8h-1.8zM687.4 179.5h1.8v1.8h-1.8zM685.1 196.1h1.5v1.5h-1.5zM648.3 188.1h2.3v2.3h-2.3zM652.1 188.7h1.4v1.4h-1.4zM671.2 171.4h2.4v2.4h-2.4zM689.7 217.3h1.4v1.4h-1.4zM692.5 186.4h2.3v2.3h-2.3zM622.1 192.5h1.8v1.8h-1.8zM663.0 208.3h1.8v1.8h-1.8zM656.3 201.7h2.0v2.0h-2.0zM669.0 176.8h1.6v1.6h-1.6zM700.5 184.1h1.6v1.6h-1.6zM671.2 221.5h2.3v2.3h-2.3zM651.3 203.2h2.5v2.5h-2.5zM697.2 198.4h1.6v1.6h-1.6zM686.0 208.1h1.7v1.7h-1.7zM670.5 215.4h2.6v2.6h-2.6zM661.8 199.6h2.2v2.2h-2.2zM684.5 207.6h2.5v2.5h-2.5zM675.7 182.9h1.9v1.9h-1.9zM666.6 223.8h2.3v2.3h-2.3zM683.3 209.1h2.3v2.3h-2.3zM656.4 192.8h2.3v2.3h-2.3zM674.6 227.3h2.0v2.0h-2.0zM667.1 225.4h1.8v1.8h-1.8zM660.6 223.7h1.8v1.8h-1.8zM647.3 206.4h1.6v1.6h-1.6zM646.0 214.5h1.5v1.5h-1.5zM677.2 187.1h1.9v1.9h-1.9zM652.2 195.7h2.4v2.4h-2.4zM638.0 187.5h1.8v1.8h-1.8zM649.9 216.5h2.1v2.1h-2.1zM692.6 195.7h2.4v2.4h-2.4zM660.8 206.9h1.5v1.5h-1.5zM656.4 198.5h1.8v1.8h-1.8zM682.2 207.2h1.8v1.8h-1.8zM664.7 193.5h2.3v2.3h-2.3zM694.2 192.8h2.5v2.5h-2.5zM668.6 185.7h1.4v1.4h-1.4zM655.0 204.9h2.1v2.1h-2.1zM658.8 212.3h1.4v1.4h-1.4zM667.6 179.8h1.8v1.8h-1.8zM622.5 220.2h1.9v1.9h-1.9zM655.2 228.4h1.7v1.7h-1.7zM666.6 190.3h1.9v1.9h-1.9zM676.9 198.6h1.8v1.8h-1.8zM666.5 187.5h2.0v2.0h-2.0zM678.4 221.8h1.7v1.7h-1.7zM656.3 233.5h1.9v1.9h-1.9zM655.5 207.5h1.7v1.7h-1.7zM635.2 170.6h1.9v1.9h-1.9zM706.1 227.4h2.2v2.2h-2.2zM688.0 174.4h1.4v1.4h-1.4zM670.5 210.4h2.6v2.6h-2.6zM667.8 208.3h1.6v1.6h-1.6zM648.8 200.5h2.4v2.4h-2.4zM644.6 197.3h1.7v1.7h-1.7zM673.3 189.9h1.5v1.5h-1.5zM661.0 195.9h2.3v2.3h-2.3zM666.5 218.8h2.1v2.1h-2.1zM670.7 209.9h1.7v1.7h-1.7zM638.9 197.0h1.9v1.9h-1.9zM681.7 188.6h2.4v2.4h-2.4zM658.0 186.7h2.2v2.2h-2.2zM691.5 195.5h1.7v1.7h-1.7zM652.4 213.7h1.7v1.7h-1.7zM687.1 211.6h2.1v2.1h-2.1zM684.8 206.8h1.5v1.5h-1.5zM663.7 195.7h1.7v1.7h-1.7zM656.5 193.0h2.4v2.4h-2.4zM673.2 201.2h2.3v2.3h-2.3zM667.8 213.4h1.4v1.4h-1.4zM665.1 179.9h1.9v1.9h-1.9zM651.1 184.1h1.9v1.9h-1.9zM630.0 204.9h2.3v2.3h-2.3zM643.4 181.3h1.9v1.9h-1.9zM645.7 217.9h1.7v1.7h-1.7zM660.2 220.1h2.4v2.4h-2.4zM664.4 195.7h1.6v1.6h-1.6zM676.9 213.2h2.2v2.2h-2.2zM668.3 185.5h1.7v1.7h-1.7zM657.4 183.0h2.1v2.1h-2.1zM661.2 204.7h1.6v1.6h-1.6zM694.2 227.1h2.5v2.5h-2.5zM678.9 219.3h1.8v1.8h-1.8zM670.5 250.2h2.2v2.2h-2.2zM695.1 248.0h2.3v2.3h-2.3zM673.3 210.1h2.0v2.0h-2.0zM686.1 206.3h2.0v2.0h-2.0zM672.0 186.3h1.5v1.5h-1.5zM683.9 205.3h2.0v2.0h-2.0zM681.4 199.3h2.0v2.0h-2.0zM632.3 211.6h2.5v2.5h-2.5zM688.2 181.3h1.8v1.8h-1.8zM647.6 197.9h1.6v1.6h-1.6zM661.3 174.1h1.9v1.9h-1.9zM699.4 220.2h2.3v2.3h-2.3zM654.3 172.2h1.4v1.4h-1.4zM672.9 236.7h1.4v1.4h-1.4zM681.7 222.6h2.6v2.6h-2.6zM648.1 207.0h2.1v2.1h-2.1zM637.5 236.6h2.3v2.3h-2.3zM676.8 167.2h2.0v2.0h-2.0zM630.9 211.2h1.6v1.6h-1.6zM668.6 197.7h2.2v2.2h-2.2zM677.7 237.1h1.7v1.7h-1.7zM672.9 172.3h1.9v1.9h-1.9zM663.0 180.7h1.7v1.7h-1.7zM650.7 208.5h2.5v2.5h-2.5zM662.7 184.9h1.9v1.9h-1.9zM665.4 189.1h2.2v2.2h-2.2zM676.0 198.8h1.6v1.6h-1.6zM673.3 198.4h2.1v2.1h-2.1zM680.1 200.6h1.8v1.8h-1.8zM665.6 193.3h1.5v1.5h-1.5zM668.5 172.7h1.8v1.8h-1.8zM716.5 191.3h1.5v1.5h-1.5zM667.7 194.8h2.1v2.1h-2.1zM656.5 209.7h2.1v2.1h-2.1zM656.1 195.5h2.4v2.4h-2.4zM639.6 187.1h1.4v1.4h-1.4zM643.6 233.4h1.9v1.9h-1.9zM640.4 184.5h2.6v2.6h-2.6zM669.4 227.1h1.8v1.8h-1.8zM633.6 176.4h1.5v1.5h-1.5zM668.1 208.5h2.4v2.4h-2.4zM638.8 172.1h1.5v1.5h-1.5zM647.5 215.4h2.3v2.3h-2.3zM664.9 215.4h2.0v2.0h-2.0zM663.7 202.2h2.5v2.5h-2.5zM677.3 200.7h2.0v2.0h-2.0zM670.1 187.2h2.2v2.2h-2.2zM654.3 210.7h1.7v1.7h-1.7zM661.1 190.0h2.6v2.6h-2.6zM678.1 212.0h1.7v1.7h-1.7zM665.5 189.8h2.4v2.4h-2.4zM682.7 245.1h2.2v2.2h-2.2zM650.0 176.4h2.0v2.0h-2.0zM650.8 186.8h1.8v1.8h-1.8zM641.6 182.5h1.5v1.5h-1.5zM681.7 217.2h2.4v2.4h-2.4zM693.7 215.3h1.7v1.7h-1.7zM656.5 221.0h2.4v2.4h-2.4zM653.9 196.7h2.5v2.5h-2.5zM643.3 223.4h1.7v1.7h-1.7zM684.7 194.7h1.7v1.7h-1.7zM659.6 203.2h2.3v2.3h-2.3zM669.3 216.9h2.3v2.3h-2.3zM666.8 209.4h1.5v1.5h-1.5zM637.0 197.4h2.4v2.4h-2.4zM631.4 232.8h2.4v2.4h-2.4zM692.0 214.7h2.1v2.1h-2.1zM686.6 236.6h2.5v2.5h-2.5zM683.3 175.5h2.6v2.6h-2.6zM661.5 162.5h1.6v1.6h-1.6zM650.0 181.4h2.5v2.5h-2.5zM665.3 209.1h2.4v2.4h-2.4zM647.8 197.7h2.1v2.1h-2.1zM670.7 199.8h1.5v1.5h-1.5zM662.0 161.6h2.6v2.6h-2.6zM657.0 215.9h2.3v2.3h-2.3zM670.3 177.2h1.8v1.8h-1.8zM660.2 206.9h1.8v1.8h-1.8zM646.8 213.9h2.5v2.5h-2.5zM650.1 196.8h1.7v1.7h-1.7zM663.3 240.2h2.4v2.4h-2.4zM659.2 192.7h1.9v1.9h-1.9zM678.9 194.4h2.2v2.2h-2.2zM669.0 164.1h2.4v2.4h-2.4zM671.0 202.0h1.5v1.5h-1.5zM640.8 225.4h1.7v1.7h-1.7zM660.8 199.0h1.5v1.5h-1.5zM640.3 174.7h1.9v1.9h-1.9zM654.5 176.5h1.6v1.6h-1.6zM674.6 217.1h2.5v2.5h-2.5zM653.2 175.0h2.3v2.3h-2.3zM657.8 184.3h2.1v2.1h-2.1zM668.4 205.4h1.6v1.6h-1.6zM657.2 203.6h1.7v1.7h-1.7zM685.0 231.3h2.1v2.1h-2.1zM655.3 214.6h2.5v2.5h-2.5zM660.7 184.3h2.5v2.5h-2.5zM689.6 209.0h2.5v2.5h-2.5zM667.9 208.3h1.8v1.8h-1.8zM662.1 184.4h2.2v2.2h-2.2zM699.0 217.6h2.0v2.0h-2.0zM670.2 218.7h2.1v2.1h-2.1zM689.6 198.9h2.2v2.2h-2.2zM676.4 196.8h1.8v1.8h-1.8zM677.5 198.0h1.7v1.7h-1.7zM711.5 196.2h1.9v1.9h-1.9zM675.0 210.2h1.7v1.7h-1.7zM658.9 218.2h2.4v2.4h-2.4zM663.6 195.3h1.8v1.8h-1.8zM665.2 189.5h1.4v1.4h-1.4zM687.9 212.9h2.2v2.2h-2.2zM683.9 179.3h2.6v2.6h-2.6zM670.4 189.2h2.1v2.1h-2.1zM666.9 223.9h1.7v1.7h-1.7zM670.1 199.3h2.5v2.5h-2.5zM686.5 219.5h2.2v2.2h-2.2zM700.3 170.7h2.1v2.1h-2.1zM671.4 195.2h2.0v2.0h-2.0zM648.6 204.3h2.3v2.3h-2.3zM643.1 164.3h2.2v2.2h-2.2zM648.1 197.9h2.1v2.1h-2.1zM700.7 190.0h1.8v1.8h-1.8zM643.0 168.7h2.3v2.3h-2.3zM658.5 198.2h2.5v2.5h-2.5zM668.0 177.7h1.5v1.5h-1.5zM650.7 163.8h1.4v1.4h-1.4zM668.4 175.6h1.5v1.5h-1.5zM613.0 222.0h2.4v2.4h-2.4zM674.8 208.3h2.1v2.1h-2.1zM671.9 184.7h1.9v1.9h-1.9zM685.6 184.5h2.6v2.6h-2.6zM701.5 206.1h2.5v2.5h-2.5zM630.2 217.1h1.9v1.9h-1.9zM702.7 198.0h1.8v1.8h-1.8zM685.5 198.7h2.0v2.0h-2.0zM653.3 158.4h2.1v2.1h-2.1zM688.7 194.7h2.4v2.4h-2.4zM672.5 183.0h2.5v2.5h-2.5zM648.0 221.3h1.7v1.7h-1.7zM657.9 195.5h2.4v2.4h-2.4zM641.3 205.9h1.5v1.5h-1.5zM680.1 194.5h1.6v1.6h-1.6z" fill="#e3141b" fill-opacity="0.90"/>
<path d="M700.5 176.5h1.8v1.8h-1.8zM691.3 166.9h2.1v2.1h-2.1zM694.1 163.7h2.3v2.3h-2.3zM713.2 169.2h2.0v2.0h-2.0zM713.3 184.1h1.7v1.7h-1.7zM708.0 152.0h1.5v1.5h-1.5zM705.0 171.8h2.4v2.4h-2.4zM727.7 181.5h1.5v1.5h-1.5zM726.5 168.7h1.6v1.6h-1.6zM721.2 156.3h2.3v2.3h-2.3zM732.4 175.5h1.5v1.5h-1.5zM718.8 167.1h1.6v1.6h-1.6zM711.0 164.2h1.8v1.8h-1.8zM719.8 157.4h1.6v1.6h-1.6zM726.9 176.5h1.4v1.4h-1.4zM745.2 170.6h2.3v2.3h-2.3zM708.4 173.0h1.6v1.6h-1.6zM710.6 169.9h2.5v2.5h-2.5zM690.8 159.7h1.5v1.5h-1.5zM700.2 168.0h1.7v1.7h-1.7zM689.4 159.1h2.1v2.1h-2.1zM705.1 178.6h1.5v1.5h-1.5zM706.7 177.9h2.0v2.0h-2.0zM726.9 178.8h2.0v2.0h-2.0zM702.7 166.9h2.1v2.1h-2.1zM677.6 164.0h2.5v2.5h-2.5zM718.1 159.9h1.9v1.9h-1.9zM733.5 185.6h2.5v2.5h-2.5zM703.6 180.4h1.7v1.7h-1.7zM685.4 160.3h2.2v2.2h-2.2zM703.5 171.1h1.9v1.9h-1.9zM706.8 162.2h2.3v2.3h-2.3zM744.1 174.0h2.0v2.0h-2.0zM715.0 178.0h2.4v2.4h-2.4zM713.0 168.6h1.6v1.6h-1.6zM700.3 154.3h1.7v1.7h-1.7zM735.9 161.6h2.1v2.1h-2.1zM681.1 162.8h2.2v2.2h-2.2zM682.2 191.4h1.9v1.9h-1.9zM716.3 185.4h2.4v2.4h-2.4zM735.2 176.8h1.9v1.9h-1.9zM719.9 163.6h2.5v2.5h-2.5zM708.5 164.8h2.5v2.5h-2.5zM710.7 163.9h1.5v1.5h-1.5zM732.0 178.8h2.2v2.2h-2.2zM708.2 153.9h2.4v2.4h-2.4zM721.9 180.0h1.5v1.5h-1.5zM708.8 158.1h2.3v2.3h-2.3zM717.5 181.7h2.1v2.1h-2.1zM676.7 176.8h2.0v2.0h-2.0zM678.5 171.8h1.7v1.7h-1.7zM740.3 171.9h2.3v2.3h-2.3zM718.3 167.7h1.7v1.7h-1.7zM709.9 195.0h1.6v1.6h-1.6zM733.1 167.8h1.8v1.8h-1.8zM703.4 171.2h2.6v2.6h-2.6zM748.0 173.1h1.9v1.9h-1.9zM729.3 167.3h1.6v1.6h-1.6zM687.9 184.5h1.9v1.9h-1.9zM708.7 163.0h2.3v2.3h-2.3zM698.0 164.2h2.1v2.1h-2.1zM699.5 155.3h2.3v2.3h-2.3zM730.8 174.9h2.4v2.4h-2.4zM726.9 167.5h1.7v1.7h-1.7zM716.0 172.7h1.8v1.8h-1.8zM730.3 179.3h2.4v2.4h-2.4zM716.2 164.4h1.9v1.9h-1.9zM689.2 162.9h2.0v2.0h-2.0zM699.0 165.5h2.4v2.4h-2.4zM688.6 187.9h2.2v2.2h-2.2zM714.7 150.5h2.5v2.5h-2.5zM691.1 157.4h1.4v1.4h-1.4zM714.1 181.8h2.1v2.1h-2.1zM692.9 177.3h2.0v2.0h-2.0zM705.2 182.7h1.9v1.9h-1.9zM733.6 174.2h1.8v1.8h-1.8zM722.4 171.0h1.9v1.9h-1.9zM703.5 159.2h2.4v2.4h-2.4zM715.6 170.3h2.0v2.0h-2.0zM703.4 170.2h1.7v1.7h-1.7zM706.8 160.5h2.2v2.2h-2.2zM700.9 182.6h2.4v2.4h-2.4zM706.0 185.2h1.9v1.9h-1.9zM690.1 157.3h1.6v1.6h-1.6zM712.2 178.9h2.3v2.3h-2.3zM698.7 177.3h2.2v2.2h-2.2zM726.1 181.9h2.2v2.2h-2.2zM708.1 170.5h1.4v1.4h-1.4zM681.6 171.2h1.5v1.5h-1.5zM714.8 185.3h2.6v2.6h-2.6zM688.1 162.4h2.1v2.1h-2.1zM692.8 180.1h1.7v1.7h-1.7zM666.5 160.0h1.5v1.5h-1.5zM745.5 177.6h2.0v2.0h-2.0zM687.1 170.4h1.8v1.8h-1.8zM724.6 176.6h1.6v1.6h-1.6zM706.2 163.0h2.2v2.2h-2.2zM724.3 170.9h1.6v1.6h-1.6zM723.9 175.0h2.5v2.5h-2.5zM702.0 185.6h1.7v1.7h-1.7zM701.4 175.4h2.5v2.5h-2.5zM699.1 168.7h1.8v1.8h-1.8zM705.7 164.3h1.8v1.8h-1.8zM714.1 184.2h2.3v2.3h-2.3zM741.9 185.5h2.0v2.0h-2.0zM707.0 185.7h1.6v1.6h-1.6zM717.2 189.1h2.4v2.4h-2.4zM688.4 186.0h2.1v2.1h-2.1zM699.7 182.7h2.1v2.1h-2.1zM702.0 180.2h1.9v1.9h-1.9zM705.2 152.0h2.4v2.4h-2.4zM693.4 168.6h2.1v2.1h-2.1zM710.4 148.4h1.5v1.5h-1.5zM689.5 163.6h2.5v2.5h-2.5zM706.4 173.2h2.1v2.1h-2.1zM695.9 155.7h1.7v1.7h-1.7zM715.2 167.7h1.4v1.4h-1.4zM725.2 165.7h1.5v1.5h-1.5zM721.1 162.0h1.5v1.5h-1.5zM714.6 171.9h1.7v1.7h-1.7zM717.7 161.6h2.0v2.0h-2.0zM707.9 162.5h1.7v1.7h-1.7zM707.3 177.3h2.3v2.3h-2.3zM761.1 171.4h2.0v2.0h-2.0zM722.2 172.1h1.9v1.9h-1.9zM729.4 175.7h1.9v1.9h-1.9zM727.9 174.6h1.7v1.7h-1.7zM751.1 184.9h2.0v2.0h-2.0zM680.9 174.0h1.7v1.7h-1.7zM711.4 148.8h1.8v1.8h-1.8zM695.3 166.4h2.0v2.0h-2.0zM697.5 172.3h2.2v2.2h-2.2zM679.4 178.5h1.8v1.8h-1.8zM723.3 174.6h2.3v2.3h-2.3zM704.4 171.1h1.8v1.8h-1.8zM702.1 182.6h2.5v2.5h-2.5zM718.7 191.1h1.6v1.6h-1.6zM703.8 185.6h2.1v2.1h-2.1zM700.2 169.3h1.8v1.8h-1.8zM692.3 176.3h1.9v1.9h-1.9zM709.1 177.3h1.5v1.5h-1.5zM735.5 170.5h1.8v1.8h-1.8zM716.6 180.1h1.6v1.6h-1.6zM709.1 165.6h2.2v2.2h-2.2zM716.2 176.1h2.3v2.3h-2.3zM723.4 179.4h2.3v2.3h-2.3zM698.7 175.5h2.5v2.5h-2.5zM731.1 166.4h1.9v1.9h-1.9zM716.3 164.9h2.2v2.2h-2.2zM713.0 188.5h2.5v2.5h-2.5zM713.1 161.4h2.0v2.0h-2.0zM716.0 173.2h2.0v2.0h-2.0zM729.1 157.3h2.2v2.2h-2.2zM694.5 170.3h1.4v1.4h-1.4zM683.6 182.5h2.4v2.4h-2.4zM675.6 162.7h1.9v1.9h-1.9zM684.9 164.5h2.3v2.3h-2.3zM723.8 177.1h1.6v1.6h-1.6zM725.9 177.1h2.0v2.0h-2.0zM675.5 174.1h2.1v2.1h-2.1zM678.7 166.0h2.3v2.3h-2.3zM703.4 165.6h2.1v2.1h-2.1zM718.5 163.0h2.1v2.1h-2.1zM739.6 177.1h2.5v2.5h-2.5zM730.3 178.7h1.7v1.7h-1.7zM725.4 170.7h1.9v1.9h-1.9zM743.6 160.5h2.5v2.5h-2.5zM718.0 171.1h1.9v1.9h-1.9zM706.3 174.3h2.1v2.1h-2.1zM697.4 179.8h2.0v2.0h-2.0zM723.5 172.1h2.6v2.6h-2.6zM722.7 160.7h2.2v2.2h-2.2zM679.3 165.3h2.3v2.3h-2.3zM706.1 196.1h1.4v1.4h-1.4zM706.3 181.4h1.9v1.9h-1.9zM724.6 192.2h2.3v2.3h-2.3zM712.1 177.6h1.6v1.6h-1.6zM706.9 162.4h2.3v2.3h-2.3zM693.0 163.2h2.5v2.5h-2.5zM734.5 173.9h2.3v2.3h-2.3zM707.5 171.3h2.3v2.3h-2.3zM700.5 170.8h1.7v1.7h-1.7zM709.5 177.6h1.5v1.5h-1.5zM725.7 154.7h2.5v2.5h-2.5zM714.1 184.9h1.9v1.9h-1.9zM692.8 168.6h2.5v2.5h-2.5zM713.0 182.1h2.2v2.2h-2.2zM720.3 168.9h2.5v2.5h-2.5zM718.7 181.5h1.4v1.4h-1.4zM716.8 189.7h2.4v2.4h-2.4zM717.4 160.6h2.3v2.3h-2.3zM696.8 169.8h2.1v2.1h-2.1zM706.7 177.3h1.6v1.6h-1.6zM716.2 188.3h1.6v1.6h-1.6zM724.0 186.0h2.5v2.5h-2.5zM697.2 166.8h1.9v1.9h-1.9zM721.9 172.0h2.3v2.3h-2.3zM720.9 173.6h2.6v2.6h-2.6zM699.7 188.2h1.7v1.7h-1.7zM729.7 155.6h1.5v1.5h-1.5zM699.7 171.4h1.4v1.4h-1.4zM721.8 170.4h1.9v1.9h-1.9zM687.1 179.5h2.4v2.4h-2.4zM706.7 183.2h2.4v2.4h-2.4zM715.4 181.2h2.1v2.1h-2.1zM724.5 180.0h1.4v1.4h-1.4zM701.7 181.5h1.7v1.7h-1.7zM713.8 158.7h1.6v1.6h-1.6zM703.6 167.8h1.6v1.6h-1.6zM718.3 178.0h1.6v1.6h-1.6zM691.4 178.4h1.4v1.4h-1.4zM709.2 160.7h2.0v2.0h-2.0zM724.5 163.6h1.8v1.8h-1.8zM690.1 178.8h1.8v1.8h-1.8zM725.7 164.6h1.7v1.7h-1.7zM728.3 181.2h2.3v2.3h-2.3zM701.6 191.2h1.7v1.7h-1.7zM709.4 173.5h1.6v1.6h-1.6zM669.9 177.6h1.7v1.7h-1.7zM699.9 175.7h1.7v1.7h-1.7zM681.4 182.8h1.8v1.8h-1.8zM735.2 190.1h1.9v1.9h-1.9zM660.3 177.1h1.7v1.7h-1.7zM716.3 141.1h2.2v2.2h-2.2zM698.1 170.5h1.6v1.6h-1.6zM734.7 163.0h2.5v2.5h-2.5zM714.0 170.8h2.5v2.5h-2.5zM716.8 167.4h2.0v2.0h-2.0zM725.7 181.1h2.3v2.3h-2.3zM687.5 182.6h1.7v1.7h-1.7zM697.9 168.6h1.7v1.7h-1.7zM729.7 172.4h2.5v2.5h-2.5zM720.4 179.3h2.0v2.0h-2.0zM720.9 166.0h2.3v2.3h-2.3zM694.6 178.2h2.4v2.4h-2.4zM723.6 175.0h2.2v2.2h-2.2zM707.6 180.0h1.9v1.9h-1.9zM710.3 157.8h1.9v1.9h-1.9zM715.6 176.5h1.5v1.5h-1.5zM723.9 162.6h2.4v2.4h-2.4zM698.1 174.8h2.2v2.2h-2.2zM703.3 170.8h1.5v1.5h-1.5zM726.8 175.5h2.4v2.4h-2.4zM741.9 174.5h1.7v1.7h-1.7zM739.9 182.2h2.4v2.4h-2.4zM754.2 171.8h1.6v1.6h-1.6zM709.6 184.7h1.4v1.4h-1.4zM702.4 167.1h2.4v2.4h-2.4zM715.4 175.5h2.5v2.5h-2.5zM687.5 174.3h2.0v2.0h-2.0zM706.0 171.5h2.5v2.5h-2.5zM714.3 169.9h1.5v1.5h-1.5zM729.5 176.7h1.6v1.6h-1.6zM708.2 172.6h2.6v2.6h-2.6zM729.0 179.7h2.5v2.5h-2.5zM732.9 170.5h2.2v2.2h-2.2zM713.9 191.9h1.8v1.8h-1.8zM710.9 188.6h2.3v2.3h-2.3zM725.9 167.7h1.4v1.4h-1.4zM688.0 178.3h1.8v1.8h-1.8zM699.8 164.9h2.4v2.4h-2.4zM682.5 183.8h1.7v1.7h-1.7zM713.4 172.3h1.6v1.6h-1.6zM718.4 174.4h2.0v2.0h-2.0zM713.3 177.2h2.2v2.2h-2.2zM707.1 146.4h1.8v1.8h-1.8zM724.2 176.3h2.4v2.4h-2.4zM712.2 187.8h2.5v2.5h-2.5zM688.2 143.3h1.7v1.7h-1.7zM736.9 176.2h1.9v1.9h-1.9zM684.0 168.0h2.4v2.4h-2.4zM722.2 160.0h2.0v2.0h-2.0zM721.1 193.1h2.3v2.3h-2.3zM735.2 171.7h1.8v1.8h-1.8zM717.2 162.6h2.4v2.4h-2.4zM714.0 168.7h2.4v2.4h-2.4zM695.0 158.7h2.3v2.3h-2.3zM744.4 172.9h2.5v2.5h-2.5zM694.5 167.9h1.9v1.9h-1.9zM736.9 188.1h2.0v2.0h-2.0zM701.4 174.0h2.4v2.4h-2.4zM726.8 168.6h2.3v2.3h-2.3zM691.9 162.4h2.0v2.0h-2.0zM711.9 164.4h1.4v1.4h-1.4zM689.9 169.7h1.7v1.7h-1.7zM727.5 178.8h1.9v1.9h-1.9zM707.9 191.0h2.3v2.3h-2.3zM698.5 171.3h2.5v2.5h-2.5zM688.7 179.7h2.6v2.6h-2.6zM709.6 155.3h1.9v1.9h-1.9zM697.8 189.8h2.6v2.6h-2.6zM723.9 173.1h1.9v1.9h-1.9zM726.3 156.1h1.6v1.6h-1.6zM697.7 158.8h2.5v2.5h-2.5zM697.7 168.2h1.5v1.5h-1.5zM720.6 182.0h2.0v2.0h-2.0zM728.2 198.6h2.3v2.3h-2.3zM703.3 171.8h2.2v2.2h-2.2zM720.2 163.7h2.4v2.4h-2.4zM706.8 176.0h2.0v2.0h-2.0zM696.7 176.6h1.9v1.9h-1.9zM732.3 160.9h1.8v1.8h-1.8zM673.1 172.8h2.1v2.1h-2.1zM694.0 173.6h2.1v2.1h-2.1zM704.0 174.9h2.0v2.0h-2.0zM730.7 180.0h2.2v2.2h-2.2zM705.5 160.3h2.0v2.0h-2.0zM669.6 150.3h2.2v2.2h-2.2zM698.0 172.8h2.0v2.0h-2.0zM700.0 165.9h2.3v2.3h-2.3zM684.4 155.4h1.6v1.6h-1.6zM682.1 177.9h1.8v1.8h-1.8zM677.7 178.3h1.8v1.8h-1.8zM695.8 176.9h2.5v2.5h-2.5zM714.9 179.0h2.1v2.1h-2.1zM730.8 163.6h2.5v2.5h-2.5zM694.3 167.0h2.1v2.1h-2.1zM697.5 177.9h2.5v2.5h-2.5zM708.5 171.3h2.3v2.3h-2.3zM717.4 166.5h2.5v2.5h-2.5zM728.8 152.9h1.8v1.8h-1.8zM714.2 176.1h2.6v2.6h-2.6zM697.2 164.2h1.8v1.8h-1.8zM725.4 167.9h2.3v2.3h-2.3zM677.7 157.7h2.1v2.1h-2.1zM727.1 162.3h1.8v1.8h-1.8zM732.2 184.7h1.5v1.5h-1.5zM706.7 176.4h1.5v1.5h-1.5zM696.1 167.0h1.4v1.4h-1.4zM698.2 176.9h2.1v2.1h-2.1z" fill="#e3141b" fill-opacity="0.90"/>
<path d="M749.6 184.7h2.5v2.5h-2.5zM729.7 207.9h1.6v1.6h-1.6zM740.6 212.7h1.6v1.6h-1.6zM732.8 215.8h2.5v2.5h-2.5zM704.8 255.6h1.9v1.9h-1.9zM746.9 224.3h2.5v2.5h-2.5zM728.6 217.6h1.7v1.7h-1.7zM762.2 237.7h1.5v1.5h-1.5zM737.7 193.9h2.5v2.5h-2.5zM738.8 207.4h1.8v1.8h-1.8zM747.3 193.4h2.5v2.5h-2.5zM734.4 215.6h2.2v2.2h-2.2zM731.0 226.8h2.4v2.4h-2.4zM722.7 194.0h1.8v1.8h-1.8zM732.4 223.6h2.3v2.3h-2.3zM733.0 203.3h2.4v2.4h-2.4zM746.8 215.0h2.2v2.2h-2.2zM730.2 213.5h2.5v2.5h-2.5zM733.8 220.5h2.5v2.5h-2.5zM738.6 200.3h2.1v2.1h-2.1zM730.8 205.8h2.5v2.5h-2.5zM741.4 217.1h2.3v2.3h-2.3zM726.4 209.0h2.5v2.5h-2.5zM740.6 227.5h1.6v1.6h-1.6zM739.9 239.7h1.8v1.8h-1.8zM737.1 222.3h1.6v1.6h-1.6zM732.7 197.5h1.4v1.4h-1.4zM738.1 218.7h2.2v2.2h-2.2zM740.8 213.8h2.6v2.6h-2.6zM732.6 200.0h2.2v2.2h-2.2zM733.0 218.5h2.6v2.6h-2.6zM748.7 164.5h2.4v2.4h-2.4zM744.3 227.3h2.1v2.1h-2.1zM752.5 217.2h1.9v1.9h-1.9zM745.1 205.3h1.6v1.6h-1.6zM735.7 219.3h2.5v2.5h-2.5zM723.1 200.4h2.5v2.5h-2.5zM739.2 192.6h2.5v2.5h-2.5zM737.4 190.4h1.8v1.8h-1.8zM739.2 212.1h2.3v2.3h-2.3zM729.8 198.2h2.0v2.0h-2.0zM730.4 179.5h2.4v2.4h-2.4zM731.8 213.4h2.1v2.1h-2.1zM751.8 204.4h1.4v1.4h-1.4zM734.6 231.7h1.7v1.7h-1.7zM758.4 204.7h1.7v1.7h-1.7zM749.8 228.6h1.8v1.8h-1.8zM743.2 197.5h1.8v1.8h-1.8zM725.0 220.0h1.4v1.4h-1.4zM765.8 209.1h2.0v2.0h-2.0zM756.3 239.0h2.5v2.5h-2.5zM721.2 203.1h2.1v2.1h-2.1zM755.6 225.8h1.7v1.7h-1.7zM743.6 211.6h2.6v2.6h-2.6zM744.6 202.6h2.5v2.5h-2.5zM768.0 195.1h2.5v2.5h-2.5zM714.3 213.9h1.5v1.5h-1.5zM754.8 204.6h2.2v2.2h-2.2zM736.1 197.0h1.8v1.8h-1.8zM735.8 197.1h2.4v2.4h-2.4zM724.2 190.5h1.8v1.8h-1.8zM729.9 238.5h1.7v1.7h-1.7zM736.0 214.5h2.6v2.6h-2.6zM764.6 202.6h2.4v2.4h-2.4zM724.3 219.2h2.2v2.2h-2.2zM721.4 216.5h2.0v2.0h-2.0zM751.2 196.1h2.1v2.1h-2.1zM730.2 236.2h2.2v2.2h-2.2zM723.5 201.9h1.9v1.9h-1.9zM739.7 207.2h1.9v1.9h-1.9zM726.1 234.8h1.7v1.7h-1.7zM729.5 216.5h2.2v2.2h-2.2zM731.6 208.4h1.7v1.7h-1.7zM719.6 225.1h1.9v1.9h-1.9zM731.4 230.1h1.7v1.7h-1.7zM722.2 204.7h2.5v2.5h-2.5zM742.7 213.3h2.0v2.0h-2.0zM728.5 209.7h1.6v1.6h-1.6zM720.5 212.5h1.5v1.5h-1.5zM703.6 214.2h2.3v2.3h-2.3zM753.7 224.6h2.5v2.5h-2.5zM747.4 205.6h1.7v1.7h-1.7zM742.9 205.9h2.1v2.1h-2.1zM735.6 210.3h2.0v2.0h-2.0zM694.6 225.0h1.9v1.9h-1.9zM742.4 223.9h2.2v2.2h-2.2zM724.8 221.7h2.4v2.4h-2.4zM742.8 179.5h2.4v2.4h-2.4zM714.7 212.5h1.7v1.7h-1.7zM728.4 211.5h2.1v2.1h-2.1zM728.7 233.3h1.6v1.6h-1.6zM713.0 192.0h1.6v1.6h-1.6zM724.5 192.0h1.8v1.8h-1.8zM729.5 211.3h2.1v2.1h-2.1zM720.0 217.0h2.0v2.0h-2.0zM753.2 227.5h1.5v1.5h-1.5zM761.9 228.1h2.0v2.0h-2.0zM736.4 237.5h1.6v1.6h-1.6zM745.6 238.8h1.6v1.6h-1.6zM734.4 181.4h2.4v2.4h-2.4zM722.2 214.4h2.2v2.2h-2.2zM743.7 208.8h1.7v1.7h-1.7zM749.4 195.2h2.3v2.3h-2.3zM728.0 226.1h2.6v2.6h-2.6zM737.5 213.2h2.4v2.4h-2.4zM754.5 227.7h1.6v1.6h-1.6zM726.9 214.8h2.2v2.2h-2.2zM715.6 211.7h1.9v1.9h-1.9zM741.8 186.9h1.9v1.9h-1.9zM756.5 240.8h1.6v1.6h-1.6zM743.1 225.3h1.6v1.6h-1.6zM755.7 209.4h2.6v2.6h-2.6zM750.0 217.5h1.9v1.9h-1.9zM717.8 198.9h1.6v1.6h-1.6zM729.9 227.4h2.0v2.0h-2.0zM738.2 226.2h1.9v1.9h-1.9zM731.1 193.5h1.6v1.6h-1.6zM762.8 251.4h2.3v2.3h-2.3zM741.8 209.2h2.2v2.2h-2.2zM751.9 196.0h2.3v2.3h-2.3zM734.4 191.3h2.4v2.4h-2.4zM743.1 215.6h2.5v2.5h-2.5zM732.0 202.6h2.6v2.6h-2.6zM718.0 200.1h2.2v2.2h-2.2zM752.4 206.9h2.6v2.6h-2.6zM752.8 199.5h2.6v2.6h-2.6zM736.0 205.4h1.6v1.6h-1.6zM733.8 223.2h1.9v1.9h-1.9zM711.3 222.7h2.0v2.0h-2.0zM745.7 212.1h2.0v2.0h-2.0zM738.0 208.8h1.5v1.5h-1.5zM745.7 212.9h1.9v1.9h-1.9zM726.4 214.2h2.3v2.3h-2.3zM749.0 217.4h2.0v2.0h-2.0zM737.4 215.0h2.2v2.2h-2.2zM730.8 205.4h2.2v2.2h-2.2zM713.5 209.4h2.2v2.2h-2.2zM749.3 206.4h1.4v1.4h-1.4zM725.7 225.0h1.9v1.9h-1.9zM739.1 214.1h2.3v2.3h-2.3zM742.9 222.1h1.8v1.8h-1.8zM736.5 200.1h2.6v2.6h-2.6zM758.7 212.9h2.6v2.6h-2.6zM727.4 214.7h2.0v2.0h-2.0zM751.9 191.7h2.6v2.6h-2.6zM753.4 210.1h1.6v1.6h-1.6zM761.9 221.6h2.0v2.0h-2.0zM735.7 230.1h2.5v2.5h-2.5zM752.9 207.0h1.5v1.5h-1.5zM739.9 204.7h2.0v2.0h-2.0zM748.5 191.9h1.9v1.9h-1.9zM734.9 181.5h1.9v1.9h-1.9zM744.4 180.1h1.9v1.9h-1.9zM723.9 215.8h2.1v2.1h-2.1zM732.7 205.7h2.5v2.5h-2.5zM725.1 205.4h1.5v1.5h-1.5zM715.3 216.7h1.6v1.6h-1.6zM747.0 223.0h2.2v2.2h-2.2zM736.6 229.6h2.0v2.0h-2.0zM742.8 225.8h2.3v2.3h-2.3zM741.9 212.5h2.4v2.4h-2.4zM727.6 174.4h2.4v2.4h-2.4zM745.0 210.4h1.8v1.8h-1.8zM761.7 183.7h1.7v1.7h-1.7zM747.5 198.5h2.1v2.1h-2.1zM737.0 199.4h1.5v1.5h-1.5zM741.4 211.6h2.1v2.1h-2.1zM747.9 214.2h2.1v2.1h-2.1zM743.0 230.3h2.0v2.0h-2.0zM743.5 210.2h2.4v2.4h-2.4zM752.4 210.5h1.5v1.5h-1.5zM742.1 207.5h1.4v1.4h-1.4zM728.9 169.2h2.5v2.5h-2.5zM745.7 195.6h2.4v2.4h-2.4zM746.2 237.9h1.4v1.4h-1.4zM720.8 224.6h2.3v2.3h-2.3zM735.9 218.6h2.1v2.1h-2.1zM722.3 212.5h1.6v1.6h-1.6zM739.0 232.5h1.9v1.9h-1.9zM763.6 216.6h2.1v2.1h-2.1zM732.6 243.8h2.1v2.1h-2.1zM735.8 211.3h1.6v1.6h-1.6zM738.4 218.8h1.4v1.4h-1.4zM745.9 203.9h1.5v1.5h-1.5zM735.8 239.0h1.7v1.7h-1.7zM757.0 218.5h1.8v1.8h-1.8zM740.5 208.9h1.6v1.6h-1.6zM749.8 204.8h1.8v1.8h-1.8zM738.7 205.7h1.5v1.5h-1.5zM729.5 212.8h1.9v1.9h-1.9zM737.2 204.0h1.8v1.8h-1.8zM736.4 213.2h1.8v1.8h-1.8zM731.4 202.9h1.9v1.9h-1.9zM735.5 222.2h2.4v2.4h-2.4zM750.9 214.9h2.3v2.3h-2.3zM733.9 211.8h1.6v1.6h-1.6zM760.8 225.3h1.5v1.5h-1.5zM725.5 211.5h2.1v2.1h-2.1zM730.7 207.0h1.5v1.5h-1.5zM716.4 212.6h2.4v2.4h-2.4zM720.4 203.9h1.8v1.8h-1.8zM756.0 226.5h2.6v2.6h-2.6zM726.5 197.5h1.8v1.8h-1.8zM726.0 185.4h2.0v2.0h-2.0zM725.1 208.4h1.5v1.5h-1.5zM724.3 223.0h1.6v1.6h-1.6zM736.6 204.7h1.6v1.6h-1.6zM758.9 222.4h2.5v2.5h-2.5zM738.1 238.6h2.6v2.6h-2.6zM753.5 202.2h2.2v2.2h-2.2zM741.2 206.0h2.2v2.2h-2.2zM719.5 239.4h2.3v2.3h-2.3zM755.8 194.1h1.9v1.9h-1.9zM743.3 188.8h2.5v2.5h-2.5zM750.5 211.5h1.7v1.7h-1.7zM733.6 230.3h2.5v2.5h-2.5zM737.4 208.6h1.4v1.4h-1.4zM748.6 207.9h2.1v2.1h-2.1zM748.1 212.3h2.1v2.1h-2.1zM747.5 221.3h2.3v2.3h-2.3zM747.1 197.9h1.6v1.6h-1.6zM760.6 210.0h1.8v1.8h-1.8zM759.1 203.7h2.5v2.5h-2.5zM733.8 208.5h1.6v1.6h-1.6zM751.6 206.2h1.8v1.8h-1.8zM742.4 189.8h2.1v2.1h-2.1zM731.3 215.5h2.6v2.6h-2.6zM735.9 185.3h1.8v1.8h-1.8zM743.5 198.4h1.6v1.6h-1.6zM761.4 209.5h1.5v1.5h-1.5zM765.5 221.9h2.6v2.6h-2.6zM743.0 205.4h1.7v1.7h-1.7zM735.8 218.8h2.3v2.3h-2.3zM712.9 226.6h1.5v1.5h-1.5zM722.6 208.6h1.9v1.9h-1.9zM703.0 218.9h2.1v2.1h-2.1zM746.6 216.4h2.3v2.3h-2.3zM741.3 206.9h2.2v2.2h-2.2zM739.2 229.8h1.9v1.9h-1.9zM731.9 219.5h1.6v1.6h-1.6zM746.4 208.9h1.9v1.9h-1.9zM740.2 215.4h2.0v2.0h-2.0zM731.0 247.5h1.8v1.8h-1.8zM731.8 237.1h1.6v1.6h-1.6zM750.7 182.8h2.5v2.5h-2.5zM740.4 227.2h1.6v1.6h-1.6zM747.5 199.2h1.9v1.9h-1.9zM740.5 194.9h2.0v2.0h-2.0zM724.2 208.8h1.6v1.6h-1.6zM739.6 235.6h2.3v2.3h-2.3zM741.7 227.6h1.6v1.6h-1.6zM722.1 195.5h2.4v2.4h-2.4zM731.1 237.7h1.4v1.4h-1.4zM720.4 189.3h1.4v1.4h-1.4zM736.3 229.5h2.0v2.0h-2.0zM716.7 208.6h2.0v2.0h-2.0zM720.1 233.3h2.0v2.0h-2.0zM745.9 216.2h2.5v2.5h-2.5zM736.6 208.8h2.3v2.3h-2.3zM738.9 202.8h2.4v2.4h-2.4zM726.0 196.0h2.3v2.3h-2.3zM737.3 200.6h2.4v2.4h-2.4zM748.2 181.6h2.4v2.4h-2.4zM744.4 220.0h2.5v2.5h-2.5zM752.5 208.5h2.3v2.3h-2.3zM718.2 198.7h1.6v1.6h-1.6zM751.5 207.7h2.0v2.0h-2.0zM731.9 203.7h2.2v2.2h-2.2zM736.3 208.9h2.0v2.0h-2.0zM717.5 203.5h2.0v2.0h-2.0zM749.9 233.3h1.8v1.8h-1.8zM735.6 204.6h1.6v1.6h-1.6zM754.3 209.6h2.5v2.5h-2.5zM722.3 210.3h1.8v1.8h-1.8zM745.9 234.9h1.4v1.4h-1.4zM731.0 220.0h1.8v1.8h-1.8zM733.0 228.8h2.6v2.6h-2.6zM740.4 216.0h1.4v1.4h-1.4zM724.7 207.5h2.6v2.6h-2.6zM733.0 159.6h1.6v1.6h-1.6zM748.0 212.0h1.4v1.4h-1.4zM734.5 206.9h2.6v2.6h-2.6zM737.4 215.7h1.7v1.7h-1.7zM720.6 214.0h2.6v2.6h-2.6zM738.6 212.5h1.7v1.7h-1.7zM718.3 210.1h1.8v1.8h-1.8zM720.9 217.2h2.6v2.6h-2.6zM753.8 224.8h1.7v1.7h-1.7zM732.8 204.2h2.4v2.4h-2.4zM729.9 217.2h2.4v2.4h-2.4zM728.7 204.3h1.9v1.9h-1.9zM705.4 199.7h1.5v1.5h-1.5zM727.2 204.2h2.4v2.4h-2.4zM752.5 192.3h1.6v1.6h-1.6zM720.3 220.9h1.8v1.8h-1.8zM724.7 209.7h1.6v1.6h-1.6zM739.3 212.3h2.5v2.5h-2.5zM727.3 225.5h1.7v1.7h-1.7zM756.0 197.5h2.1v2.1h-2.1zM733.6 225.8h2.2v2.2h-2.2z" fill="#e3141b" fill-opacity="0.90"/>
<path d="M696.6 230.8h2.0v2.0h-2.0zM670.6 243.7h1.6v1.6h-1.6zM691.1 219.1h2.2v2.2h-2.2zM715.8 228.9h2.2v2.2h-2.2zM708.5 219.3h1.8v1.8h-1.8zM699.1 229.7h1.6v1.6h-1.6zM679.6 222.4h1.8v1.8h-1.8zM691.8 221.8h2.3v2.3h-2.3zM685.6 214.2h1.8v1.8h-1.8zM701.1 226.0h2.4v2.4h-2.4zM711.0 223.6h1.8v1.8h-1.8zM686.0 212.7h2.4v2.4h-2.4zM696.3 221.7h2.1v2.1h-2.1zM722.7 242.0h2.5v2.5h-2.5zM716.8 217.0h1.7v1.7h-1.7zM676.0 222.2h2.3v2.3h-2.3zM682.9 235.2h1.9v1.9h-1.9zM696.7 220.9h1.6v1.6h-1.6zM694.9 233.9h1.6v1.6h-1.6zM682.2 227.9h1.7v1.7h-1.7zM677.0 222.5h2.2v2.2h-2.2zM686.1 226.5h2.4v2.4h-2.4zM697.3 233.5h1.8v1.8h-1.8zM704.5 219.3h1.8v1.8h-1.8zM677.0 217.7h1.5v1.5h-1.5zM689.3 222.3h2.0v2.0h-2.0zM684.7 232.5h1.5v1.5h-1.5zM707.9 221.9h1.8v1.8h-1.8zM688.3 222.2h2.5v2.5h-2.5zM694.5 223.9h2.0v2.0h-2.0zM672.9 220.7h1.8v1.8h-1.8zM669.4 224.3h2.3v2.3h-2.3zM704.3 215.7h1.4v1.4h-1.4zM697.4 219.3h2.3v2.3h-2.3zM685.6 239.4h2.4v2.4h-2.4zM707.3 227.8h2.0v2.0h-2.0zM689.1 227.3h1.7v1.7h-1.7zM692.5 227.6h1.7v1.7h-1.7zM682.8 223.5h2.5v2.5h-2.5zM689.7 213.0h2.3v2.3h-2.3zM718.2 230.4h2.6v2.6h-2.6zM684.2 212.5h1.6v1.6h-1.6zM685.1 217.5h1.9v1.9h-1.9zM686.7 212.2h2.3v2.3h-2.3zM683.7 224.5h2.1v2.1h-2.1zM700.7 208.5h2.0v2.0h-2.0zM695.0 216.3h1.6v1.6h-1.6zM680.8 221.5h2.5v2.5h-2.5zM685.6 229.5h1.7v1.7h-1.7zM704.7 221.6h2.3v2.3h-2.3zM686.2 238.1h2.1v2.1h-2.1zM720.7 227.1h2.3v2.3h-2.3zM692.9 231.9h2.3v2.3h-2.3zM715.0 219.9h2.0v2.0h-2.0zM719.9 222.8h2.0v2.0h-2.0zM710.1 220.0h1.5v1.5h-1.5zM696.0 220.4h2.3v2.3h-2.3zM695.4 232.0h1.7v1.7h-1.7zM682.7 221.7h1.5v1.5h-1.5zM702.5 220.3h1.5v1.5h-1.5zM723.1 212.5h1.8v1.8h-1.8zM730.0 218.8h1.6v1.6h-1.6zM708.5 236.8h1.6v1.6h-1.6zM702.4 212.9h1.9v1.9h-1.9zM690.4 224.6h1.8v1.8h-1.8zM702.9 231.8h1.7v1.7h-1.7zM710.6 235.7h1.6v1.6h-1.6zM681.9 231.9h2.1v2.1h-2.1zM670.9 225.2h2.0v2.0h-2.0zM680.2 209.9h1.9v1.9h-1.9zM707.8 223.8h1.6v1.6h-1.6zM708.7 211.5h2.3v2.3h-2.3zM678.1 223.2h1.5v1.5h-1.5zM685.8 224.6h1.9v1.9h-1.9zM686.4 221.3h1.6v1.6h-1.6zM679.2 234.2h2.3v2.3h-2.3zM690.6 214.6h2.0v2.0h-2.0zM704.5 227.8h2.5v2.5h-2.5zM698.0 225.8h2.2v2.2h-2.2zM689.5 223.0h2.2v2.2h-2.2zM664.3 211.7h1.5v1.5h-1.5zM677.9 226.3h1.4v1.4h-1.4zM712.0 222.7h2.2v2.2h-2.2zM691.3 233.0h2.3v2.3h-2.3zM690.0 229.2h2.4v2.4h-2.4zM701.0 213.5h2.6v2.6h-2.6zM699.4 225.6h2.5v2.5h-2.5zM679.1 215.8h2.1v2.1h-2.1zM677.3 234.9h2.2v2.2h-2.2zM724.4 229.6h1.8v1.8h-1.8zM716.8 213.3h2.6v2.6h-2.6zM714.6 239.7h2.6v2.6h-2.6zM717.5 216.5h2.2v2.2h-2.2zM710.1 223.1h1.7v1.7h-1.7zM710.0 218.9h2.1v2.1h-2.1zM695.2 219.5h2.2v2.2h-2.2zM701.7 223.2h2.4v2.4h-2.4zM710.5 230.6h2.2v2.2h-2.2zM700.8 223.7h2.4v2.4h-2.4zM690.8 224.1h2.3v2.3h-2.3zM705.5 225.1h2.2v2.2h-2.2zM699.1 223.7h1.5v1.5h-1.5zM694.0 218.7h2.3v2.3h-2.3zM668.9 228.6h2.0v2.0h-2.0zM702.8 216.3h2.4v2.4h-2.4zM721.7 214.7h1.5v1.5h-1.5zM709.0 226.0h2.0v2.0h-2.0zM699.4 233.1h1.8v1.8h-1.8zM707.9 224.2h2.0v2.0h-2.0zM680.3 214.3h2.6v2.6h-2.6zM697.7 236.6h2.3v2.3h-2.3zM707.3 223.8h2.5v2.5h-2.5zM699.7 229.5h2.4v2.4h-2.4zM719.0 218.0h1.5v1.5h-1.5zM705.2 226.3h2.3v2.3h-2.3zM684.5 215.9h2.3v2.3h-2.3zM712.8 226.7h2.3v2.3h-2.3zM692.1 224.8h1.7v1.7h-1.7zM708.8 224.8h1.8v1.8h-1.8zM717.5 222.0h2.2v2.2h-2.2zM684.1 223.1h1.7v1.7h-1.7zM682.0 221.3h2.0v2.0h-2.0zM712.2 237.7h1.9v1.9h-1.9zM703.9 225.6h1.5v1.5h-1.5zM682.4 216.0h1.5v1.5h-1.5zM700.2 225.4h1.6v1.6h-1.6zM687.0 220.5h1.9v1.9h-1.9zM716.8 231.9h2.5v2.5h-2.5zM695.8 225.9h2.3v2.3h-2.3zM712.9 226.9h1.8v1.8h-1.8zM698.4 211.5h2.3v2.3h-2.3zM671.5 208.8h2.4v2.4h-2.4zM663.6 223.9h2.5v2.5h-2.5zM699.7 217.1h2.2v2.2h-2.2zM701.2 227.6h2.1v2.1h-2.1zM694.0 212.3h2.2v2.2h-2.2zM715.2 235.0h1.5v1.5h-1.5zM687.0 239.5h2.1v2.1h-2.1zM695.7 217.8h1.5v1.5h-1.5zM689.4 209.2h2.2v2.2h-2.2zM690.2 211.3h2.2v2.2h-2.2zM710.9 226.6h1.9v1.9h-1.9zM675.6 228.6h1.6v1.6h-1.6zM671.1 225.3h2.0v2.0h-2.0zM701.8 224.6h1.6v1.6h-1.6zM679.3 223.2h1.9v1.9h-1.9zM692.5 224.5h2.2v2.2h-2.2zM715.9 237.6h1.4v1.4h-1.4zM717.2 219.0h2.5v2.5h-2.5zM684.6 224.2h2.5v2.5h-2.5zM701.1 207.6h1.8v1.8h-1.8zM686.5 238.4h2.4v2.4h-2.4zM677.7 218.1h2.4v2.4h-2.4zM685.2 227.9h2.3v2.3h-2.3zM694.1 221.4h1.9v1.9h-1.9zM673.8 228.9h1.8v1.8h-1.8zM695.1 218.7h1.6v1.6h-1.6zM695.4 230.3h2.4v2.4h-2.4zM674.4 211.6h2.2v2.2h-2.2zM680.7 217.0h2.6v2.6h-2.6zM652.3 219.2h2.1v2.1h-2.1zM710.6 221.4h1.4v1.4h-1.4zM709.3 201.0h1.6v1.6h-1.6zM693.4 235.1h1.5v1.5h-1.5zM717.0 220.0h1.7v1.7h-1.7zM683.4 227.1h2.1v2.1h-2.1zM677.9 221.1h2.1v2.1h-2.1zM671.6 224.7h2.1v2.1h-2.1zM695.1 237.0h1.8v1.8h-1.8zM700.0 218.7h2.5v2.5h-2.5z" fill="#e3141b" fill-opacity="0.90"/>
<path d="M650.7 204.4h2.4v2.4h-2.4zM642.0 217.0h1.6v1.6h-1.6zM663.2 226.7h2.4v2.4h-2.4zM644.7 216.2h1.9v1.9h-1.9zM643.9 213.2h2.4v2.4h-2.4zM635.0 197.2h1.6v1.6h-1.6zM643.9 224.7h2.0v2.0h-2.0zM656.3 196.3h1.5v1.5h-1.5zM645.8 208.7h1.6v1.6h-1.6zM651.1 204.0h1.8v1.8h-1.8zM658.0 212.9h2.1v2.1h-2.1zM654.3 223.7h2.1v2.1h-2.1zM626.6 212.8h1.7v1.7h-1.7zM664.6 215.1h1.8v1.8h-1.8zM659.4 219.2h2.6v2.6h-2.6zM642.5 217.8h1.4v1.4h-1.4zM659.5 227.8h1.9v1.9h-1.9zM663.9 203.9h2.4v2.4h-2.4zM657.1 201.2h2.2v2.2h-2.2zM646.5 212.9h2.1v2.1h-2.1zM654.9 218.1h1.6v1.6h-1.6zM661.7 208.8h1.7v1.7h-1.7zM657.2 218.9h2.6v2.6h-2.6zM648.0 203.0h2.1v2.1h-2.1zM654.2 218.1h1.7v1.7h-1.7zM656.6 214.6h2.5v2.5h-2.5zM645.1 218.9h2.4v2.4h-2.4zM653.0 221.8h2.3v2.3h-2.3zM668.8 208.8h1.7v1.7h-1.7zM670.0 185.4h1.9v1.9h-1.9zM658.5 206.8h2.4v2.4h-2.4zM670.0 206.1h1.7v1.7h-1.7zM659.6 205.1h2.6v2.6h-2.6zM635.5 223.0h1.9v1.9h-1.9zM657.5 208.0h2.0v2.0h-2.0zM674.4 211.8h2.3v2.3h-2.3zM665.1 204.9h1.5v1.5h-1.5zM637.4 215.9h2.1v2.1h-2.1zM636.9 219.5h2.1v2.1h-2.1zM624.4 216.7h1.6v1.6h-1.6zM641.8 205.4h1.6v1.6h-1.6zM650.3 212.8h1.4v1.4h-1.4zM643.0 223.1h1.8v1.8h-1.8zM651.2 218.8h2.2v2.2h-2.2zM662.6 214.2h1.5v1.5h-1.5zM657.2 210.8h2.0v2.0h-2.0zM654.6 220.2h1.6v1.6h-1.6zM642.0 199.9h2.4v2.4h-2.4zM633.9 205.6h1.5v1.5h-1.5zM654.1 213.6h1.4v1.4h-1.4zM644.7 219.7h2.2v2.2h-2.2zM656.0 228.9h1.8v1.8h-1.8zM641.4 220.5h2.5v2.5h-2.5zM655.7 205.5h1.9v1.9h-1.9zM649.3 205.9h2.3v2.3h-2.3zM645.5 219.2h2.0v2.0h-2.0zM629.4 206.3h2.0v2.0h-2.0zM639.1 215.9h1.9v1.9h-1.9zM639.9 218.7h2.2v2.2h-2.2zM638.6 209.8h1.4v1.4h-1.4zM654.6 218.1h2.4v2.4h-2.4zM649.6 214.6h2.2v2.2h-2.2zM658.9 228.6h2.3v2.3h-2.3zM643.9 207.8h1.5v1.5h-1.5zM636.6 232.2h2.3v2.3h-2.3zM638.2 201.8h2.0v2.0h-2.0zM650.9 225.4h2.3v2.3h-2.3zM634.5 213.7h2.0v2.0h-2.0zM632.3 208.1h2.5v2.5h-2.5zM665.8 216.6h2.4v2.4h-2.4zM645.1 215.7h2.1v2.1h-2.1zM651.1 214.0h2.6v2.6h-2.6zM635.0 203.2h2.0v2.0h-2.0zM669.9 207.4h1.8v1.8h-1.8zM661.1 207.8h2.4v2.4h-2.4zM662.2 221.9h1.6v1.6h-1.6zM645.7 235.0h2.3v2.3h-2.3zM637.8 212.7h2.1v2.1h-2.1zM638.6 207.3h2.6v2.6h-2.6zM644.0 205.5h1.5v1.5h-1.5zM644.4 230.7h1.8v1.8h-1.8zM629.0 202.5h2.5v2.5h-2.5zM637.6 210.4h2.1v2.1h-2.1zM659.0 222.1h1.7v1.7h-1.7zM653.2 217.0h2.2v2.2h-2.2zM674.2 203.8h2.0v2.0h-2.0zM635.4 214.7h2.1v2.1h-2.1zM650.2 212.6h1.6v1.6h-1.6zM638.8 202.0h1.4v1.4h-1.4zM645.0 208.0h2.5v2.5h-2.5zM642.7 204.2h2.2v2.2h-2.2zM662.6 219.5h2.6v2.6h-2.6zM668.2 209.9h2.0v2.0h-2.0zM648.6 212.5h1.7v1.7h-1.7zM648.2 212.4h1.5v1.5h-1.5zM646.2 195.4h2.1v2.1h-2.1zM645.0 221.9h2.3v2.3h-2.3zM626.7 211.5h2.5v2.5h-2.5zM654.2 227.6h1.9v1.9h-1.9zM647.1 219.5h1.7v1.7h-1.7zM667.1 227.9h1.7v1.7h-1.7zM643.1 209.0h2.5v2.5h-2.5zM659.1 217.2h2.2v2.2h-2.2zM642.1 212.7h2.0v2.0h-2.0zM651.4 213.0h2.5v2.5h-2.5zM645.2 212.6h2.3v2.3h-2.3zM631.7 232.2h2.0v2.0h-2.0zM661.3 230.0h2.3v2.3h-2.3zM646.5 216.2h2.2v2.2h-2.2zM654.3 223.1h2.3v2.3h-2.3zM628.0 218.5h1.8v1.8h-1.8zM637.1 214.3h2.2v2.2h-2.2zM640.8 231.9h1.6v1.6h-1.6zM653.9 214.7h1.5v1.5h-1.5zM663.2 214.3h2.0v2.0h-2.0zM640.1 213.2h2.3v2.3h-2.3zM644.0 215.5h1.7v1.7h-1.7zM657.2 213.8h2.5v2.5h-2.5zM647.3 225.0h2.0v2.0h-2.0zM651.1 224.4h2.2v2.2h-2.2zM649.5 202.1h2.4v2.4h-2.4zM635.8 198.5h2.4v2.4h-2.4zM660.4 219.1h2.2v2.2h-2.2zM642.8 205.2h1.7v1.7h-1.7zM651.9 213.7h1.6v1.6h-1.6zM651.5 206.6h2.1v2.1h-2.1zM635.9 230.6h2.1v2.1h-2.1zM637.6 214.8h2.1v2.1h-2.1zM662.6 196.8h1.9v1.9h-1.9zM655.6 215.7h1.6v1.6h-1.6zM646.4 217.7h2.5v2.5h-2.5zM635.1 193.0h2.2v2.2h-2.2zM668.6 212.2h2.2v2.2h-2.2zM657.7 226.0h1.4v1.4h-1.4zM651.1 219.5h2.0v2.0h-2.0zM655.8 230.6h2.0v2.0h-2.0zM653.4 227.5h1.5v1.5h-1.5zM644.8 210.8h1.7v1.7h-1.7zM648.9 219.0h1.6v1.6h-1.6zM653.9 234.3h2.1v2.1h-2.1zM657.2 215.6h2.4v2.4h-2.4zM669.7 218.3h2.2v2.2h-2.2zM651.9 219.9h1.8v1.8h-1.8zM644.4 204.2h2.4v2.4h-2.4zM649.5 212.0h2.1v2.1h-2.1zM638.6 216.2h2.4v2.4h-2.4zM645.9 209.2h2.1v2.1h-2.1zM628.7 213.4h1.6v1.6h-1.6zM667.2 223.8h1.9v1.9h-1.9zM659.8 214.8h1.7v1.7h-1.7z" fill="#e3141b" fill-opacity="0.90"/>
<path d="M670.0 181.3h1.8v1.8h-1.8zM657.8 170.8h1.6v1.6h-1.6zM660.4 182.9h1.9v1.9h-1.9zM643.9 193.7h2.4v2.4h-2.4zM644.3 186.4h1.9v1.9h-1.9zM652.7 179.5h2.0v2.0h-2.0zM645.8 173.1h2.2v2.2h-2.2zM663.4 176.4h1.4v1.4h-1.4zM651.1 186.0h2.5v2.5h-2.5zM663.6 179.6h2.3v2.3h-2.3zM657.9 193.4h2.1v2.1h-2.1zM653.2 181.6h1.8v1.8h-1.8zM660.2 165.7h2.6v2.6h-2.6zM632.3 179.3h1.5v1.5h-1.5zM665.4 179.9h1.4v1.4h-1.4zM648.9 172.3h2.1v2.1h-2.1zM664.8 175.5h2.2v2.2h-2.2zM636.2 184.2h1.6v1.6h-1.6zM658.0 181.5h2.4v2.4h-2.4zM667.5 189.9h1.9v1.9h-1.9zM661.8 176.6h1.8v1.8h-1.8zM630.2 180.7h2.3v2.3h-2.3zM653.4 189.8h1.9v1.9h-1.9zM670.3 182.3h1.6v1.6h-1.6zM671.3 177.5h1.9v1.9h-1.9zM654.6 170.6h1.4v1.4h-1.4zM651.5 180.0h1.8v1.8h-1.8zM667.7 171.6h2.1v2.1h-2.1zM664.6 198.9h1.5v1.5h-1.5zM639.3 175.8h1.9v1.9h-1.9zM655.4 187.0h2.0v2.0h-2.0zM678.6 189.1h1.4v1.4h-1.4zM654.7 170.6h1.7v1.7h-1.7zM654.5 177.8h1.5v1.5h-1.5zM658.0 170.2h2.0v2.0h-2.0zM673.2 171.7h2.2v2.2h-2.2zM663.2 180.0h1.4v1.4h-1.4zM642.2 178.7h2.1v2.1h-2.1zM655.4 176.4h2.4v2.4h-2.4zM664.7 173.9h1.5v1.5h-1.5zM685.2 188.1h2.1v2.1h-2.1zM644.3 156.0h1.8v1.8h-1.8zM670.0 180.3h1.6v1.6h-1.6zM656.1 169.4h2.4v2.4h-2.4zM638.1 161.5h1.8v1.8h-1.8zM685.5 192.3h2.4v2.4h-2.4zM648.6 194.8h2.5v2.5h-2.5zM633.2 184.3h1.7v1.7h-1.7zM663.5 170.4h2.4v2.4h-2.4zM649.7 168.8h2.5v2.5h-2.5zM655.6 189.8h1.4v1.4h-1.4zM666.9 181.8h2.5v2.5h-2.5zM668.4 162.2h2.2v2.2h-2.2zM679.1 177.6h1.4v1.4h-1.4zM639.4 174.6h2.0v2.0h-2.0zM647.3 178.9h2.4v2.4h-2.4zM658.8 157.2h2.4v2.4h-2.4zM670.1 193.5h2.5v2.5h-2.5zM642.7 191.2h2.0v2.0h-2.0zM670.0 187.1h1.5v1.5h-1.5zM674.5 165.6h1.8v1.8h-1.8zM663.7 169.0h1.8v1.8h-1.8zM683.3 169.4h2.1v2.1h-2.1zM640.4 188.1h1.7v1.7h-1.7zM662.5 178.3h2.1v2.1h-2.1zM656.7 183.5h1.8v1.8h-1.8zM675.7 171.6h2.0v2.0h-2.0zM648.3 172.9h2.2v2.2h-2.2zM654.2 178.1h2.4v2.4h-2.4zM639.7 180.7h1.4v1.4h-1.4zM639.9 175.2h1.9v1.9h-1.9zM652.1 175.8h1.8v1.8h-1.8zM672.8 192.7h2.2v2.2h-2.2zM667.9 192.2h2.3v2.3h-2.3zM651.6 190.7h2.3v2.3h-2.3zM654.4 180.1h1.6v1.6h-1.6zM658.3 166.0h1.6v1.6h-1.6zM647.7 176.6h2.4v2.4h-2.4zM659.4 176.9h1.8v1.8h-1.8zM644.8 167.6h2.2v2.2h-2.2zM655.1 167.4h1.4v1.4h-1.4zM640.9 177.1h2.1v2.1h-2.1zM657.1 170.5h1.7v1.7h-1.7zM633.7 180.6h2.2v2.2h-2.2zM664.8 174.3h1.5v1.5h-1.5zM650.5 157.1h2.5v2.5h-2.5zM665.8 168.2h2.2v2.2h-2.2zM663.6 172.7h2.1v2.1h-2.1zM653.3 176.3h2.0v2.0h-2.0zM633.4 202.7h2.4v2.4h-2.4zM636.2 179.0h1.9v1.9h-1.9zM645.3 175.9h2.2v2.2h-2.2zM671.5 161.2h1.9v1.9h-1.9zM653.3 182.4h1.4v1.4h-1.4zM656.4 181.6h2.0v2.0h-2.0zM646.0 163.2h2.4v2.4h-2.4zM639.3 174.3h2.2v2.2h-2.2zM663.9 178.7h1.5v1.5h-1.5zM674.2 178.9h1.4v1.4h-1.4zM657.3 179.8h1.6v1.6h-1.6zM634.2 183.2h2.2v2.2h-2.2zM641.7 174.6h1.8v1.8h-1.8zM683.1 166.9h1.7v1.7h-1.7zM656.4 180.6h2.4v2.4h-2.4zM656.5 178.0h1.4v1.4h-1.4zM648.3 195.9h2.4v2.4h-2.4zM630.9 168.8h1.8v1.8h-1.8zM672.8 182.9h2.4v2.4h-2.4zM645.8 169.9h1.7v1.7h-1.7zM652.0 201.8h2.0v2.0h-2.0zM660.9 168.7h1.6v1.6h-1.6zM657.9 172.4h1.7v1.7h-1.7zM673.0 180.6h2.2v2.2h-2.2zM670.1 179.5h2.2v2.2h-2.2zM679.5 181.7h1.6v1.6h-1.6zM658.4 168.8h2.2v2.2h-2.2zM649.9 181.5h2.6v2.6h-2.6zM649.0 200.4h2.1v2.1h-2.1zM654.9 171.1h1.7v1.7h-1.7zM666.9 173.2h2.2v2.2h-2.2zM659.9 177.2h2.1v2.1h-2.1zM646.4 190.5h2.2v2.2h-2.2zM656.1 187.8h2.4v2.4h-2.4zM650.9 165.2h2.5v2.5h-2.5zM640.1 173.3h1.6v1.6h-1.6zM652.8 178.5h1.7v1.7h-1.7zM661.2 166.8h1.6v1.6h-1.6zM657.8 167.0h2.6v2.6h-2.6zM646.8 201.1h2.6v2.6h-2.6zM670.3 174.7h2.3v2.3h-2.3zM676.5 190.8h2.1v2.1h-2.1zM665.7 191.2h1.6v1.6h-1.6zM652.0 176.9h1.8v1.8h-1.8zM644.7 183.3h1.6v1.6h-1.6zM640.0 173.5h1.8v1.8h-1.8zM660.5 173.5h1.5v1.5h-1.5zM659.2 194.4h1.4v1.4h-1.4zM643.2 190.6h1.5v1.5h-1.5zM646.8 169.6h1.9v1.9h-1.9zM657.7 187.3h1.6v1.6h-1.6z" fill="#e3141b" fill-opacity="0.90"/>
<path d="M745.0 186.8h2.6v2.6h-2.6zM730.3 181.8h1.9v1.9h-1.9zM735.2 196.2h2.0v2.0h-2.0zM722.5 191.9h2.3v2.3h-2.3zM723.7 173.8h1.9v1.9h-1.9zM724.8 192.2h2.3v2.3h-2.3zM733.6 196.9h2.0v2.0h-2.0zM721.3 183.1h1.5v1.5h-1.5zM728.8 192.3h2.5v2.5h-2.5zM726.9 176.6h2.5v2.5h-2.5zM712.6 197.9h1.6v1.6h-1.6zM738.8 179.4h1.8v1.8h-1.8zM742.9 185.5h2.1v2.1h-2.1zM732.7 198.8h1.5v1.5h-1.5zM723.3 178.4h1.9v1.9h-1.9zM710.7 189.2h1.5v1.5h-1.5zM732.7 194.8h2.0v2.0h-2.0zM734.2 187.2h2.0v2.0h-2.0zM739.7 175.9h2.5v2.5h-2.5zM732.1 191.3h2.4v2.4h-2.4zM726.9 203.5h1.7v1.7h-1.7zM732.6 199.7h2.2v2.2h-2.2zM737.2 184.4h2.5v2.5h-2.5zM747.6 197.3h1.6v1.6h-1.6zM728.3 185.0h2.0v2.0h-2.0zM717.8 184.6h1.6v1.6h-1.6zM725.8 188.3h1.7v1.7h-1.7zM723.9 191.9h2.0v2.0h-2.0zM727.3 170.3h1.4v1.4h-1.4zM723.1 177.1h2.0v2.0h-2.0zM715.4 183.6h1.8v1.8h-1.8zM737.3 174.9h1.5v1.5h-1.5zM708.1 184.5h2.0v2.0h-2.0zM758.2 180.2h1.6v1.6h-1.6zM730.9 182.0h1.6v1.6h-1.6zM736.8 200.7h2.5v2.5h-2.5zM726.6 198.1h1.9v1.9h-1.9zM717.3 188.3h2.1v2.1h-2.1zM715.4 188.1h1.5v1.5h-1.5zM722.0 188.6h2.5v2.5h-2.5zM716.9 188.5h2.1v2.1h-2.1zM729.3 180.5h1.8v1.8h-1.8zM720.1 174.3h2.2v2.2h-2.2zM724.2 190.2h2.2v2.2h-2.2zM726.9 187.8h2.0v2.0h-2.0zM741.0 183.0h1.9v1.9h-1.9zM731.2 194.5h1.5v1.5h-1.5zM733.4 190.1h2.3v2.3h-2.3zM729.0 205.6h1.4v1.4h-1.4zM727.5 182.4h1.5v1.5h-1.5zM734.2 202.7h2.1v2.1h-2.1zM742.5 186.6h2.4v2.4h-2.4zM736.6 191.3h2.5v2.5h-2.5zM729.0 192.8h1.7v1.7h-1.7zM734.5 187.7h2.4v2.4h-2.4zM745.6 182.5h1.6v1.6h-1.6zM742.3 207.3h1.6v1.6h-1.6zM749.5 189.0h2.0v2.0h-2.0zM726.4 170.2h2.1v2.1h-2.1zM727.7 210.8h2.0v2.0h-2.0zM712.5 170.7h2.5v2.5h-2.5zM736.7 192.5h2.0v2.0h-2.0zM710.0 185.7h1.8v1.8h-1.8zM731.7 171.1h2.0v2.0h-2.0zM737.9 173.0h1.6v1.6h-1.6zM739.6 188.3h2.3v2.3h-2.3zM721.3 170.1h1.6v1.6h-1.6zM724.8 185.3h2.0v2.0h-2.0zM727.0 180.3h1.5v1.5h-1.5zM726.1 195.0h2.3v2.3h-2.3zM719.1 184.1h1.8v1.8h-1.8zM732.9 186.0h2.3v2.3h-2.3zM736.9 201.8h1.6v1.6h-1.6zM724.7 188.4h2.0v2.0h-2.0zM698.8 182.7h2.4v2.4h-2.4zM735.0 175.0h2.3v2.3h-2.3zM741.6 167.3h1.6v1.6h-1.6zM741.8 181.0h1.5v1.5h-1.5zM718.0 181.3h2.1v2.1h-2.1zM725.5 176.0h2.6v2.6h-2.6zM714.3 180.9h1.9v1.9h-1.9zM737.7 190.3h2.2v2.2h-2.2zM741.7 180.1h2.2v2.2h-2.2zM724.6 182.8h2.6v2.6h-2.6zM729.6 190.8h1.9v1.9h-1.9zM745.8 193.2h1.5v1.5h-1.5zM729.8 199.8h1.5v1.5h-1.5zM720.3 173.0h2.5v2.5h-2.5zM734.9 187.8h1.7v1.7h-1.7zM729.4 195.5h2.1v2.1h-2.1zM724.8 185.0h2.2v2.2h-2.2zM732.0 192.7h2.5v2.5h-2.5zM738.0 187.3h1.9v1.9h-1.9zM730.8 161.9h1.7v1.7h-1.7zM740.4 170.4h2.5v2.5h-2.5zM727.7 211.6h2.1v2.1h-2.1zM724.9 170.3h2.6v2.6h-2.6zM744.3 180.6h2.3v2.3h-2.3zM726.5 184.5h2.2v2.2h-2.2zM735.5 193.9h2.0v2.0h-2.0zM726.9 197.3h1.4v1.4h-1.4zM719.1 192.9h2.4v2.4h-2.4zM721.9 193.1h1.8v1.8h-1.8zM721.4 181.7h1.5v1.5h-1.5zM742.9 174.8h2.3v2.3h-2.3zM716.3 191.8h2.6v2.6h-2.6zM725.4 181.8h2.3v2.3h-2.3zM726.7 207.3h1.6v1.6h-1.6zM717.7 183.4h1.8v1.8h-1.8zM729.7 176.7h1.8v1.8h-1.8zM727.7 190.9h1.8v1.8h-1.8zM719.0 197.3h2.2v2.2h-2.2zM716.6 184.6h2.3v2.3h-2.3zM731.4 217.9h1.7v1.7h-1.7zM710.5 188.9h1.9v1.9h-1.9zM753.3 180.1h1.8v1.8h-1.8zM739.0 188.2h1.7v1.7h-1.7zM713.7 190.0h2.2v2.2h-2.2zM719.1 186.9h2.4v2.4h-2.4zM713.0 193.3h2.3v2.3h-2.3z" fill="#e3141b" fill-opacity="0.90"/>
<path d="M703.9 180.2h2.5v2.5h-2.5zM700.5 187.1h3.2v3.2h-3.2zM683.4 212.3h3.4v3.4h-3.4zM701.8 199.4h2.9v2.9h-2.9zM685.6 191.3h3.0v3.0h-3.0zM699.1 183.9h2.9v2.9h-2.9zM710.1 168.5h2.4v2.4h-2.4zM702.5 170.1h2.4v2.4h-2.4zM684.3 177.4h3.1v3.1h-3.1zM701.4 184.1h2.2v2.2h-2.2zM691.4 181.8h2.6v2.6h-2.6zM684.9 181.8h2.6v2.6h-2.6zM688.8 188.7h3.3v3.3h-3.3zM693.7 163.7h2.8v2.8h-2.8zM691.5 207.0h2.4v2.4h-2.4zM692.8 191.5h2.7v2.7h-2.7zM690.8 184.1h2.1v2.1h-2.1zM695.9 176.0h2.4v2.4h-2.4zM695.1 172.2h3.0v3.0h-3.0zM699.1 173.2h2.4v2.4h-2.4zM701.6 204.2h2.4v2.4h-2.4zM683.4 200.1h3.4v3.4h-3.4zM693.1 205.9h2.4v2.4h-2.4zM692.0 188.5h2.9v2.9h-2.9zM693.9 207.0h3.5v3.5h-3.5zM680.8 201.1h2.1v2.1h-2.1zM697.0 186.0h2.6v2.6h-2.6zM694.3 203.0h3.2v3.2h-3.2zM702.8 212.2h3.1v3.1h-3.1zM691.1 169.1h2.9v2.9h-2.9zM691.8 189.5h3.1v3.1h-3.1zM692.7 206.4h2.2v2.2h-2.2zM714.4 196.3h2.1v2.1h-2.1zM681.9 204.2h2.2v2.2h-2.2zM691.0 192.3h3.3v3.3h-3.3zM702.9 196.2h2.3v2.3h-2.3zM695.6 195.2h3.0v3.0h-3.0zM702.2 199.3h2.1v2.1h-2.1zM712.7 155.8h3.3v3.3h-3.3zM689.9 184.7h3.2v3.2h-3.2zM702.7 194.4h3.3v3.3h-3.3zM703.0 174.6h3.5v3.5h-3.5zM694.4 199.5h3.0v3.0h-3.0zM695.7 186.9h3.3v3.3h-3.3zM698.3 211.5h3.5v3.5h-3.5zM679.3 210.8h2.1v2.1h-2.1zM698.4 181.4h2.1v2.1h-2.1zM701.4 192.2h3.1v3.1h-3.1zM705.8 182.0h2.9v2.9h-2.9zM703.9 180.8h2.4v2.4h-2.4zM698.7 200.1h3.0v3.0h-3.0zM695.5 199.4h3.0v3.0h-3.0zM691.4 204.5h2.5v2.5h-2.5zM692.1 183.3h2.1v2.1h-2.1zM695.2 191.1h3.5v3.5h-3.5zM689.4 201.3h2.8v2.8h-2.8zM695.2 199.0h2.1v2.1h-2.1zM684.2 175.9h3.2v3.2h-3.2zM694.0 179.8h3.3v3.3h-3.3zM695.1 198.4h2.6v2.6h-2.6z" fill="#c9b8b9" fill-opacity="0.80"/>
<path d="M729.7 155.8h2.6v2.6h-2.6zM756.4 214.4h1.9v1.9h-1.9zM670.4 207.7h2.2v2.2h-2.2zM759.1 217.4h2.1v2.1h-2.1zM716.1 156.0h2.0v2.0h-2.0zM617.8 179.3h1.8v1.8h-1.8zM684.0 178.4h1.6v1.6h-1.6zM635.6 185.3h2.4v2.4h-2.4zM651.3 184.5h2.9v2.9h-2.9zM672.6 191.5h2.2v2.2h-2.2zM749.0 164.4h2.2v2.2h-2.2zM731.9 195.7h2.0v2.0h-2.0zM667.8 166.8h2.5v2.5h-2.5zM736.9 212.6h1.6v1.6h-1.6zM728.3 214.3h2.1v2.1h-2.1zM654.1 232.7h1.7v1.7h-1.7zM728.9 173.2h2.3v2.3h-2.3zM716.0 228.7h2.7v2.7h-2.7zM623.9 224.5h3.0v3.0h-3.0zM617.4 175.5h2.8v2.8h-2.8zM690.7 150.8h2.7v2.7h-2.7zM758.1 162.8h2.8v2.8h-2.8zM703.8 202.5h1.6v1.6h-1.6zM756.0 235.8h1.7v1.7h-1.7zM733.0 180.1h1.5v1.5h-1.5zM689.2 222.5h2.4v2.4h-2.4zM620.4 224.2h2.1v2.1h-2.1zM694.8 185.0h2.9v2.9h-2.9zM692.0 220.3h2.9v2.9h-2.9zM699.9 223.1h1.8v1.8h-1.8zM640.5 213.7h2.5v2.5h-2.5zM753.2 180.9h1.8v1.8h-1.8zM673.9 226.7h2.3v2.3h-2.3zM658.4 193.0h2.6v2.6h-2.6zM627.6 210.3h2.2v2.2h-2.2zM741.8 219.1h2.7v2.7h-2.7zM619.1 196.0h1.6v1.6h-1.6zM664.5 164.8h2.2v2.2h-2.2zM643.8 177.2h2.6v2.6h-2.6zM726.6 214.9h2.6v2.6h-2.6zM664.6 153.3h1.6v1.6h-1.6zM697.8 233.0h2.3v2.3h-2.3zM680.8 224.0h2.1v2.1h-2.1zM645.1 231.8h1.5v1.5h-1.5zM690.9 165.2h1.9v1.9h-1.9zM751.1 207.9h2.3v2.3h-2.3zM627.8 229.7h2.2v2.2h-2.2zM626.9 197.1h1.6v1.6h-1.6zM738.1 184.9h1.9v1.9h-1.9zM649.4 167.9h1.8v1.8h-1.8zM701.2 164.5h2.3v2.3h-2.3zM741.7 213.5h2.3v2.3h-2.3zM675.6 179.8h1.9v1.9h-1.9zM673.9 234.9h2.3v2.3h-2.3zM655.2 173.4h2.2v2.2h-2.2zM678.9 179.8h2.3v2.3h-2.3zM721.7 210.3h2.6v2.6h-2.6zM689.5 221.5h1.6v1.6h-1.6zM697.8 221.6h2.6v2.6h-2.6zM753.6 162.2h2.5v2.5h-2.5zM728.6 184.5h1.9v1.9h-1.9zM677.6 220.9h1.8v1.8h-1.8zM728.3 214.2h2.3v2.3h-2.3zM688.5 231.3h1.7v1.7h-1.7zM621.5 194.8h1.6v1.6h-1.6zM649.9 161.4h2.9v2.9h-2.9zM686.9 172.3h2.0v2.0h-2.0zM639.3 181.7h1.8v1.8h-1.8zM736.4 198.1h1.7v1.7h-1.7zM737.9 188.8h1.5v1.5h-1.5zM724.2 206.9h2.3v2.3h-2.3zM673.4 212.7h3.0v3.0h-3.0zM686.1 227.1h2.3v2.3h-2.3zM647.5 211.4h2.7v2.7h-2.7zM630.6 168.5h1.7v1.7h-1.7zM617.5 179.0h2.2v2.2h-2.2zM697.8 192.6h2.7v2.7h-2.7zM638.1 232.2h2.6v2.6h-2.6zM619.6 154.9h1.7v1.7h-1.7zM702.9 198.5h1.9v1.9h-1.9zM711.9 179.2h2.7v2.7h-2.7zM720.3 170.1h1.6v1.6h-1.6zM702.8 157.3h2.4v2.4h-2.4zM710.9 162.9h2.7v2.7h-2.7zM671.4 204.2h2.3v2.3h-2.3zM717.6 192.4h2.3v2.3h-2.3zM681.6 163.6h2.4v2.4h-2.4zM615.5 185.9h2.7v2.7h-2.7zM738.7 222.6h2.6v2.6h-2.6zM755.4 235.1h2.1v2.1h-2.1zM711.9 163.5h2.4v2.4h-2.4zM660.7 225.2h1.7v1.7h-1.7zM636.0 205.5h2.3v2.3h-2.3zM704.0 201.1h1.6v1.6h-1.6zM700.6 187.7h1.8v1.8h-1.8zM734.2 213.2h2.5v2.5h-2.5zM673.3 163.7h1.5v1.5h-1.5zM740.8 190.4h2.2v2.2h-2.2zM655.7 185.9h2.4v2.4h-2.4zM677.4 220.5h1.8v1.8h-1.8zM630.2 223.4h1.8v1.8h-1.8zM657.6 213.5h1.5v1.5h-1.5zM688.8 177.7h2.9v2.9h-2.9zM690.0 194.2h2.5v2.5h-2.5zM730.5 175.1h1.5v1.5h-1.5zM699.2 188.4h1.8v1.8h-1.8zM718.4 213.2h3.0v3.0h-3.0zM752.1 170.2h2.1v2.1h-2.1zM722.5 151.6h2.7v2.7h-2.7zM709.1 176.5h2.8v2.8h-2.8z" fill="#fbeeee" fill-opacity="0.85"/>
</g>
<g clip-path="url(#clipRR)">
<rect x="945" y="140" width="150" height="100" fill="#f1dadb" stroke="none" stroke-width="0"/>
<ellipse cx="993" cy="205" rx="28" ry="28" fill="url(#gR)"/>
<ellipse cx="1030" cy="170" rx="26" ry="20" fill="url(#gR)"/>
<ellipse cx="1064" cy="210" rx="24" ry="24" fill="url(#gR)"/>
<path d="M1019.9 237.3h2.3v2.3h-2.3zM1006.3 194.9h2.6v2.6h-2.6zM987.5 188.2h2.0v2.0h-2.0zM1005.1 214.6h1.9v1.9h-1.9zM981.6 221.8h1.8v1.8h-1.8zM983.8 238.0h1.9v1.9h-1.9zM1009.1 233.9h1.7v1.7h-1.7zM981.5 187.4h2.2v2.2h-2.2zM961.5 217.0h2.1v2.1h-2.1zM974.1 229.6h1.8v1.8h-1.8zM997.0 219.2h2.2v2.2h-2.2zM971.3 194.8h2.3v2.3h-2.3zM997.8 218.7h1.6v1.6h-1.6zM971.3 211.6h1.9v1.9h-1.9zM979.6 220.1h2.1v2.1h-2.1zM990.4 200.2h2.3v2.3h-2.3zM1002.4 226.3h1.5v1.5h-1.5zM990.2 227.5h1.5v1.5h-1.5zM976.6 210.6h2.3v2.3h-2.3zM974.4 209.3h2.3v2.3h-2.3zM978.1 206.1h1.7v1.7h-1.7zM1005.7 188.2h1.9v1.9h-1.9zM963.0 202.4h2.2v2.2h-2.2zM1003.9 209.6h2.0v2.0h-2.0zM978.2 220.5h2.3v2.3h-2.3zM989.3 219.2h1.6v1.6h-1.6zM978.6 213.3h1.9v1.9h-1.9zM1015.5 193.5h1.8v1.8h-1.8zM989.2 216.5h2.4v2.4h-2.4zM1003.8 211.8h1.8v1.8h-1.8zM992.2 177.3h2.3v2.3h-2.3zM994.3 182.2h1.9v1.9h-1.9zM995.8 163.4h1.6v1.6h-1.6zM1020.0 239.3h2.2v2.2h-2.2zM1002.2 190.1h1.6v1.6h-1.6zM988.8 221.1h1.5v1.5h-1.5zM1006.0 192.8h2.4v2.4h-2.4zM1015.7 218.2h2.5v2.5h-2.5zM1003.8 198.9h1.8v1.8h-1.8zM994.2 192.5h1.8v1.8h-1.8zM997.6 193.4h2.1v2.1h-2.1zM1015.1 205.9h2.1v2.1h-2.1zM998.0 211.1h2.1v2.1h-2.1zM999.9 179.7h1.7v1.7h-1.7zM1017.0 206.9h2.3v2.3h-2.3zM984.4 187.9h1.8v1.8h-1.8zM982.0 194.2h2.4v2.4h-2.4zM994.4 189.8h2.5v2.5h-2.5zM996.1 207.7h1.7v1.7h-1.7zM981.8 244.5h2.1v2.1h-2.1zM992.0 211.1h2.2v2.2h-2.2zM996.0 202.2h1.7v1.7h-1.7zM1006.1 229.6h2.6v2.6h-2.6zM992.7 189.7h1.9v1.9h-1.9zM1003.7 166.5h2.0v2.0h-2.0zM996.7 201.6h1.8v1.8h-1.8zM999.7 178.0h1.9v1.9h-1.9zM986.1 186.5h1.5v1.5h-1.5zM984.2 215.2h2.5v2.5h-2.5zM990.2 194.0h2.5v2.5h-2.5zM1014.7 204.9h2.3v2.3h-2.3zM957.5 186.0h2.6v2.6h-2.6zM1000.8 212.3h2.4v2.4h-2.4zM997.4 209.0h2.1v2.1h-2.1zM977.4 202.6h1.4v1.4h-1.4zM972.1 189.4h2.6v2.6h-2.6zM977.0 189.2h2.3v2.3h-2.3zM987.0 200.0h2.0v2.0h-2.0zM978.8 223.2h2.0v2.0h-2.0zM984.8 231.2h2.2v2.2h-2.2zM1010.6 182.3h2.3v2.3h-2.3zM1008.5 178.9h2.1v2.1h-2.1zM1018.4 209.5h1.8v1.8h-1.8zM975.0 164.7h1.5v1.5h-1.5zM985.4 179.5h1.9v1.9h-1.9zM1011.9 181.3h1.5v1.5h-1.5zM988.3 212.0h1.9v1.9h-1.9zM992.5 207.9h2.4v2.4h-2.4zM987.8 216.0h2.4v2.4h-2.4zM975.6 213.2h2.0v2.0h-2.0zM970.8 206.2h2.2v2.2h-2.2zM971.9 199.5h1.9v1.9h-1.9zM1002.5 225.0h2.1v2.1h-2.1zM960.1 189.4h2.5v2.5h-2.5zM974.7 224.5h2.5v2.5h-2.5zM976.6 215.4h1.7v1.7h-1.7zM982.8 177.3h2.3v2.3h-2.3zM993.9 182.7h1.9v1.9h-1.9zM1004.9 217.6h1.9v1.9h-1.9zM1015.5 184.9h1.9v1.9h-1.9zM1019.8 220.0h1.6v1.6h-1.6zM960.0 242.2h1.7v1.7h-1.7zM1021.7 184.4h2.5v2.5h-2.5zM997.7 179.0h2.1v2.1h-2.1zM989.4 206.1h1.6v1.6h-1.6zM1002.8 188.2h2.6v2.6h-2.6zM991.3 186.3h2.3v2.3h-2.3zM998.6 214.6h2.3v2.3h-2.3zM993.1 223.2h2.1v2.1h-2.1zM1005.2 209.4h2.1v2.1h-2.1zM1012.4 180.7h1.6v1.6h-1.6zM991.1 171.3h1.6v1.6h-1.6zM991.5 194.4h2.2v2.2h-2.2zM1006.5 194.9h2.2v2.2h-2.2zM980.4 201.1h1.9v1.9h-1.9zM989.4 211.9h2.4v2.4h-2.4zM976.2 176.1h1.7v1.7h-1.7zM963.5 223.3h1.6v1.6h-1.6zM969.3 194.5h1.5v1.5h-1.5zM972.1 218.5h2.5v2.5h-2.5zM981.7 224.6h2.0v2.0h-2.0zM979.3 208.1h2.1v2.1h-2.1zM1005.3 220.0h2.2v2.2h-2.2zM970.6 196.3h1.5v1.5h-1.5zM990.4 170.3h2.5v2.5h-2.5zM1004.5 209.8h2.6v2.6h-2.6zM1000.9 178.0h1.7v1.7h-1.7zM995.1 210.6h1.7v1.7h-1.7zM1010.2 193.6h2.4v2.4h-2.4zM1003.9 237.8h2.0v2.0h-2.0zM984.1 195.6h1.6v1.6h-1.6zM986.1 176.3h2.6v2.6h-2.6zM985.4 231.8h2.4v2.4h-2.4zM975.4 199.5h1.8v1.8h-1.8zM1013.2 213.0h2.2v2.2h-2.2zM996.0 197.0h2.3v2.3h-2.3zM989.9 203.1h1.8v1.8h-1.8zM1004.2 204.3h2.1v2.1h-2.1zM1008.7 169.7h1.9v1.9h-1.9zM1006.5 193.5h2.4v2.4h-2.4zM992.2 195.4h1.7v1.7h-1.7zM1003.4 200.9h1.9v1.9h-1.9zM1003.1 188.7h1.5v1.5h-1.5zM995.4 224.8h2.1v2.1h-2.1zM1011.8 196.7h1.5v1.5h-1.5zM994.5 196.4h1.8v1.8h-1.8zM989.9 203.3h2.3v2.3h-2.3zM1013.5 213.4h2.1v2.1h-2.1zM1018.0 230.3h1.8v1.8h-1.8zM969.5 208.5h2.0v2.0h-2.0zM984.1 174.3h1.5v1.5h-1.5zM972.9 194.1h1.7v1.7h-1.7zM1021.7 204.6h2.5v2.5h-2.5zM988.8 202.5h1.6v1.6h-1.6zM978.8 206.1h2.3v2.3h-2.3zM990.4 174.1h2.3v2.3h-2.3zM982.6 262.6h2.2v2.2h-2.2zM1003.3 201.4h2.3v2.3h-2.3zM1003.9 185.9h1.6v1.6h-1.6zM993.7 218.6h1.8v1.8h-1.8zM963.7 190.1h1.8v1.8h-1.8zM985.0 198.1h1.7v1.7h-1.7zM983.1 207.9h1.7v1.7h-1.7zM1010.1 209.2h1.8v1.8h-1.8zM1010.2 221.6h2.6v2.6h-2.6zM981.6 207.9h1.9v1.9h-1.9zM985.5 214.7h2.3v2.3h-2.3zM986.0 199.9h2.3v2.3h-2.3zM1022.1 200.0h2.3v2.3h-2.3zM964.6 205.3h2.0v2.0h-2.0zM997.4 194.2h2.0v2.0h-2.0zM993.4 221.1h1.6v1.6h-1.6zM983.0 199.9h2.5v2.5h-2.5zM979.7 209.0h1.8v1.8h-1.8zM990.0 186.9h2.3v2.3h-2.3zM989.5 235.4h2.4v2.4h-2.4zM962.2 178.8h2.1v2.1h-2.1zM998.1 178.8h1.8v1.8h-1.8zM1026.6 177.0h2.4v2.4h-2.4zM969.3 194.2h1.5v1.5h-1.5zM1011.2 217.3h2.3v2.3h-2.3zM1002.3 208.5h1.7v1.7h-1.7zM1015.1 171.3h2.2v2.2h-2.2zM997.1 228.4h1.7v1.7h-1.7zM973.5 208.9h2.5v2.5h-2.5zM1013.7 225.2h2.0v2.0h-2.0zM989.9 236.0h1.5v1.5h-1.5zM1001.1 222.1h2.4v2.4h-2.4zM973.4 190.0h1.8v1.8h-1.8zM978.9 234.3h1.5v1.5h-1.5zM951.3 171.0h2.4v2.4h-2.4zM1006.3 205.8h1.5v1.5h-1.5zM940.3 196.3h1.6v1.6h-1.6zM986.9 224.5h1.6v1.6h-1.6zM958.7 194.0h1.9v1.9h-1.9zM1011.0 216.6h2.6v2.6h-2.6zM976.1 198.3h1.5v1.5h-1.5zM966.4 227.2h2.6v2.6h-2.6zM984.8 225.6h1.7v1.7h-1.7zM1006.3 187.8h1.9v1.9h-1.9zM989.8 214.7h2.3v2.3h-2.3zM1000.1 230.0h2.4v2.4h-2.4zM1011.9 209.0h1.6v1.6h-1.6zM1004.4 190.9h2.2v2.2h-2.2zM982.0 213.9h1.9v1.9h-1.9zM998.3 184.0h1.5v1.5h-1.5zM991.0 189.4h2.6v2.6h-2.6zM982.7 226.0h1.9v1.9h-1.9zM975.9 192.0h2.2v2.2h-2.2zM1002.3 204.8h2.3v2.3h-2.3zM995.4 178.3h1.7v1.7h-1.7zM992.0 197.0h1.7v1.7h-1.7zM978.4 193.7h1.9v1.9h-1.9zM987.4 218.2h2.5v2.5h-2.5zM1025.3 205.5h2.4v2.4h-2.4zM1018.4 205.5h2.2v2.2h-2.2zM966.7 204.6h1.8v1.8h-1.8zM1014.9 228.0h1.8v1.8h-1.8zM977.2 242.6h1.8v1.8h-1.8zM979.8 190.9h1.9v1.9h-1.9zM983.5 228.9h2.0v2.0h-2.0zM999.6 219.5h1.9v1.9h-1.9zM953.9 202.7h1.8v1.8h-1.8zM990.7 215.8h2.3v2.3h-2.3zM984.5 224.5h2.5v2.5h-2.5zM980.7 179.4h2.4v2.4h-2.4zM964.1 225.7h1.6v1.6h-1.6zM1005.9 190.1h2.1v2.1h-2.1zM1012.0 200.8h1.6v1.6h-1.6zM990.6 178.3h2.5v2.5h-2.5zM983.2 205.7h2.0v2.0h-2.0zM996.3 194.0h1.4v1.4h-1.4zM1010.1 228.9h2.4v2.4h-2.4zM978.7 210.8h2.2v2.2h-2.2zM966.3 211.0h1.5v1.5h-1.5zM976.0 201.1h2.4v2.4h-2.4zM995.8 199.6h1.5v1.5h-1.5zM1011.0 190.3h2.5v2.5h-2.5zM984.7 209.5h2.6v2.6h-2.6zM992.3 208.3h1.9v1.9h-1.9zM989.2 189.9h2.1v2.1h-2.1zM1004.4 205.2h1.9v1.9h-1.9zM1008.5 227.1h2.0v2.0h-2.0zM986.8 191.0h2.4v2.4h-2.4zM985.0 192.6h2.3v2.3h-2.3zM958.4 232.5h1.9v1.9h-1.9zM1000.1 244.4h2.4v2.4h-2.4zM983.2 214.2h1.8v1.8h-1.8zM997.7 202.8h2.3v2.3h-2.3zM1010.0 204.0h1.8v1.8h-1.8zM991.6 206.8h2.4v2.4h-2.4zM954.2 191.5h1.7v1.7h-1.7zM980.2 232.6h2.0v2.0h-2.0zM1003.2 217.6h1.6v1.6h-1.6zM1003.9 200.7h1.5v1.5h-1.5zM1021.7 200.4h1.9v1.9h-1.9zM968.5 214.9h1.5v1.5h-1.5zM1013.5 205.8h1.6v1.6h-1.6zM999.4 220.7h1.9v1.9h-1.9zM1019.6 214.2h2.3v2.3h-2.3zM1022.2 209.1h1.8v1.8h-1.8zM1029.4 180.2h1.4v1.4h-1.4zM1009.5 209.1h1.9v1.9h-1.9zM995.2 181.9h1.9v1.9h-1.9zM1011.7 200.7h1.7v1.7h-1.7zM975.9 193.2h1.8v1.8h-1.8zM989.1 205.9h2.0v2.0h-2.0zM977.4 188.1h2.0v2.0h-2.0zM1000.3 202.9h2.1v2.1h-2.1zM1027.2 196.8h2.5v2.5h-2.5zM1006.0 234.3h2.5v2.5h-2.5zM989.7 221.2h2.2v2.2h-2.2zM998.4 205.0h1.8v1.8h-1.8zM1020.9 186.9h1.4v1.4h-1.4zM982.6 173.5h1.9v1.9h-1.9zM991.0 221.2h1.7v1.7h-1.7zM988.7 218.3h2.1v2.1h-2.1zM980.0 223.9h1.7v1.7h-1.7zM991.1 195.8h2.1v2.1h-2.1zM1021.5 203.9h1.7v1.7h-1.7zM1003.0 206.2h1.6v1.6h-1.6zM1005.3 206.2h1.5v1.5h-1.5zM972.3 209.0h2.0v2.0h-2.0zM1001.3 210.8h1.5v1.5h-1.5zM989.1 235.4h1.6v1.6h-1.6zM980.5 206.2h1.7v1.7h-1.7zM996.7 185.4h1.6v1.6h-1.6zM972.5 215.6h1.4v1.4h-1.4zM1004.7 206.5h1.5v1.5h-1.5zM965.3 199.1h2.3v2.3h-2.3zM997.2 214.8h1.9v1.9h-1.9zM1013.6 211.9h2.2v2.2h-2.2zM1009.7 232.8h2.2v2.2h-2.2zM952.7 221.2h2.1v2.1h-2.1zM985.5 212.4h2.1v2.1h-2.1zM996.7 186.4h2.4v2.4h-2.4zM977.4 211.6h1.5v1.5h-1.5zM989.9 216.7h1.8v1.8h-1.8zM986.4 241.1h1.4v1.4h-1.4zM988.6 239.8h1.9v1.9h-1.9zM979.9 213.7h2.4v2.4h-2.4zM1012.4 181.4h2.0v2.0h-2.0zM976.3 211.0h2.4v2.4h-2.4zM1012.8 227.6h2.1v2.1h-2.1zM1002.6 222.1h1.5v1.5h-1.5zM972.9 196.7h1.5v1.5h-1.5zM1017.9 194.4h2.2v2.2h-2.2zM988.8 174.0h2.5v2.5h-2.5zM989.7 176.5h1.6v1.6h-1.6zM999.2 229.3h2.5v2.5h-2.5zM998.4 206.8h2.2v2.2h-2.2zM986.0 213.4h1.6v1.6h-1.6zM973.8 196.0h1.8v1.8h-1.8zM1030.2 181.4h2.4v2.4h-2.4zM983.1 179.8h2.4v2.4h-2.4zM1014.1 199.8h2.2v2.2h-2.2zM970.9 182.2h2.5v2.5h-2.5zM1011.9 215.4h2.3v2.3h-2.3zM1006.6 202.7h2.5v2.5h-2.5zM1008.3 226.4h1.9v1.9h-1.9zM1004.3 176.1h1.9v1.9h-1.9zM958.8 178.5h1.8v1.8h-1.8zM997.3 177.9h1.7v1.7h-1.7zM974.0 204.2h1.8v1.8h-1.8zM977.5 181.5h1.6v1.6h-1.6zM1009.1 212.0h2.5v2.5h-2.5zM1006.1 219.4h2.1v2.1h-2.1zM1017.4 202.8h2.5v2.5h-2.5zM989.2 173.1h1.6v1.6h-1.6zM988.2 193.0h2.2v2.2h-2.2zM1010.4 214.9h1.9v1.9h-1.9zM1017.7 222.1h2.5v2.5h-2.5zM1012.7 212.4h1.4v1.4h-1.4zM994.6 196.6h2.1v2.1h-2.1zM991.9 186.7h2.0v2.0h-2.0zM998.9 201.7h1.5v1.5h-1.5zM957.0 156.4h2.0v2.0h-2.0zM979.5 195.0h1.7v1.7h-1.7zM986.9 225.4h1.8v1.8h-1.8zM981.2 181.1h1.4v1.4h-1.4zM998.6 220.3h2.4v2.4h-2.4zM1020.4 185.5h1.6v1.6h-1.6zM987.6 195.6h2.5v2.5h-2.5zM1018.0 215.0h1.6v1.6h-1.6zM992.4 215.4h2.5v2.5h-2.5zM985.8 199.4h2.6v2.6h-2.6zM991.3 194.3h2.0v2.0h-2.0zM987.6 209.0h2.4v2.4h-2.4zM996.1 228.4h1.7v1.7h-1.7zM1006.7 201.6h1.6v1.6h-1.6zM954.0 177.3h2.3v2.3h-2.3zM983.2 196.2h2.1v2.1h-2.1zM969.2 196.3h2.4v2.4h-2.4zM993.7 191.8h2.1v2.1h-2.1zM989.3 201.1h2.6v2.6h-2.6zM979.6 187.8h1.9v1.9h-1.9zM989.4 207.2h1.9v1.9h-1.9zM973.7 167.5h2.3v2.3h-2.3zM975.2 211.3h2.6v2.6h-2.6zM963.8 218.5h1.8v1.8h-1.8zM981.5 204.7h1.7v1.7h-1.7zM978.2 212.5h2.4v2.4h-2.4zM992.4 208.8h1.7v1.7h-1.7zM958.1 214.9h1.6v1.6h-1.6zM962.6 196.7h2.1v2.1h-2.1zM1000.3 199.1h1.8v1.8h-1.8zM1000.0 205.3h1.5v1.5h-1.5zM993.0 188.5h2.1v2.1h-2.1zM1008.6 221.7h1.9v1.9h-1.9zM982.2 187.1h1.5v1.5h-1.5zM994.9 189.5h1.8v1.8h-1.8zM993.8 216.4h1.9v1.9h-1.9zM1002.7 227.7h1.6v1.6h-1.6zM999.3 184.6h2.2v2.2h-2.2zM976.8 211.5h1.5v1.5h-1.5zM1024.0 196.3h1.9v1.9h-1.9zM975.8 226.2h1.8v1.8h-1.8zM989.2 214.2h2.5v2.5h-2.5zM1009.8 185.6h1.5v1.5h-1.5zM985.3 192.9h1.5v1.5h-1.5zM1000.4 213.5h1.8v1.8h-1.8zM982.9 211.8h2.5v2.5h-2.5zM961.0 208.3h2.0v2.0h-2.0zM997.2 202.4h2.4v2.4h-2.4zM966.7 200.6h1.5v1.5h-1.5zM973.1 227.0h2.3v2.3h-2.3zM986.4 198.8h2.3v2.3h-2.3zM989.4 211.5h2.6v2.6h-2.6zM992.6 211.4h1.6v1.6h-1.6zM975.6 221.0h1.5v1.5h-1.5zM983.0 215.2h2.6v2.6h-2.6zM995.3 220.5h2.5v2.5h-2.5zM990.1 177.4h2.0v2.0h-2.0zM971.8 198.5h2.5v2.5h-2.5zM1014.8 195.2h2.4v2.4h-2.4zM992.2 223.5h2.1v2.1h-2.1zM981.8 207.5h2.0v2.0h-2.0zM996.1 192.2h1.4v1.4h-1.4zM995.2 220.0h2.2v2.2h-2.2zM1009.1 196.6h2.3v2.3h-2.3zM1040.6 208.2h2.1v2.1h-2.1zM986.6 190.1h2.3v2.3h-2.3zM974.7 216.1h2.0v2.0h-2.0zM942.6 199.7h1.7v1.7h-1.7zM968.1 199.4h2.5v2.5h-2.5zM990.7 180.2h1.5v1.5h-1.5zM974.6 223.8h1.7v1.7h-1.7zM982.0 202.2h1.6v1.6h-1.6zM986.0 216.3h2.1v2.1h-2.1zM1011.9 217.8h2.0v2.0h-2.0zM1000.7 211.8h2.1v2.1h-2.1zM971.2 224.4h2.0v2.0h-2.0zM981.9 187.3h2.1v2.1h-2.1zM985.0 188.9h1.5v1.5h-1.5zM998.3 214.5h1.8v1.8h-1.8zM1013.0 200.7h2.1v2.1h-2.1zM981.2 197.6h2.1v2.1h-2.1zM971.5 189.9h1.9v1.9h-1.9zM1025.1 189.3h1.5v1.5h-1.5zM983.6 212.9h2.2v2.2h-2.2zM995.6 215.3h2.0v2.0h-2.0zM976.6 184.3h2.6v2.6h-2.6zM1013.6 190.9h1.8v1.8h-1.8zM989.7 205.9h2.2v2.2h-2.2zM960.1 199.1h1.5v1.5h-1.5zM980.3 211.2h2.2v2.2h-2.2zM986.0 164.3h1.5v1.5h-1.5zM1004.6 159.1h2.1v2.1h-2.1zM984.4 190.6h2.2v2.2h-2.2zM981.0 202.1h2.3v2.3h-2.3zM1007.4 187.6h2.0v2.0h-2.0zM981.0 214.8h2.0v2.0h-2.0zM999.9 214.4h1.5v1.5h-1.5zM996.9 198.2h1.7v1.7h-1.7zM983.0 194.3h2.4v2.4h-2.4zM1006.6 227.6h2.5v2.5h-2.5zM1024.8 184.7h1.8v1.8h-1.8zM987.3 202.4h2.0v2.0h-2.0zM988.5 183.2h1.7v1.7h-1.7zM1028.2 227.9h1.7v1.7h-1.7zM988.5 194.6h2.4v2.4h-2.4zM991.2 181.9h2.4v2.4h-2.4zM985.6 215.4h2.1v2.1h-2.1zM1019.4 217.4h2.4v2.4h-2.4zM1013.3 184.4h1.4v1.4h-1.4zM936.4 225.7h2.5v2.5h-2.5zM994.5 200.9h1.5v1.5h-1.5zM1019.7 186.0h1.4v1.4h-1.4zM975.1 189.7h1.5v1.5h-1.5zM1018.8 218.4h1.7v1.7h-1.7zM961.0 230.5h2.0v2.0h-2.0zM991.6 209.6h1.5v1.5h-1.5zM978.2 234.3h2.5v2.5h-2.5zM998.8 224.8h1.9v1.9h-1.9zM974.4 214.3h2.6v2.6h-2.6zM992.9 198.5h2.3v2.3h-2.3zM977.5 190.4h1.7v1.7h-1.7zM971.4 191.0h1.6v1.6h-1.6zM990.9 212.3h2.4v2.4h-2.4zM964.7 184.7h2.1v2.1h-2.1zM980.9 174.4h1.5v1.5h-1.5zM986.4 197.8h1.7v1.7h-1.7zM988.1 209.4h1.5v1.5h-1.5zM1007.4 216.0h2.1v2.1h-2.1zM996.1 212.4h2.5v2.5h-2.5zM977.7 186.2h1.8v1.8h-1.8zM1002.4 212.0h1.4v1.4h-1.4zM1028.9 198.5h2.5v2.5h-2.5zM974.4 207.3h2.4v2.4h-2.4zM983.6 187.1h1.4v1.4h-1.4zM1014.7 235.3h1.7v1.7h-1.7zM997.7 191.1h1.9v1.9h-1.9zM995.7 201.4h2.6v2.6h-2.6zM967.5 216.6h1.4v1.4h-1.4zM997.3 223.9h2.6v2.6h-2.6zM981.8 202.1h2.1v2.1h-2.1zM989.4 172.8h1.9v1.9h-1.9zM1034.4 166.5h1.9v1.9h-1.9zM971.8 196.3h2.2v2.2h-2.2zM964.6 209.6h1.8v1.8h-1.8zM983.5 203.7h1.8v1.8h-1.8zM995.5 203.7h2.4v2.4h-2.4zM993.2 199.9h1.8v1.8h-1.8zM998.8 216.4h2.4v2.4h-2.4zM987.1 194.9h1.8v1.8h-1.8zM984.7 207.8h2.2v2.2h-2.2zM985.2 196.0h1.4v1.4h-1.4zM965.7 235.8h2.0v2.0h-2.0zM970.4 231.5h1.9v1.9h-1.9zM1005.4 220.3h2.3v2.3h-2.3z" fill="#e3141b" fill-opacity="0.90"/>
<path d="M1000.2 176.4h1.4v1.4h-1.4zM1042.7 151.8h2.4v2.4h-2.4zM1037.6 172.0h1.6v1.6h-1.6zM1019.2 171.8h1.9v1.9h-1.9zM1034.1 176.4h2.5v2.5h-2.5zM1046.3 169.8h1.8v1.8h-1.8zM1027.8 196.5h1.7v1.7h-1.7zM1010.7 166.9h2.4v2.4h-2.4zM1022.2 178.4h2.4v2.4h-2.4zM1045.6 155.3h2.6v2.6h-2.6zM1047.6 156.8h2.4v2.4h-2.4zM1069.7 162.5h2.1v2.1h-2.1zM1045.6 167.0h1.6v1.6h-1.6zM1039.2 161.7h2.3v2.3h-2.3zM1030.0 170.2h2.1v2.1h-2.1zM1029.4 178.7h1.9v1.9h-1.9zM1020.8 166.3h2.1v2.1h-2.1zM1006.8 168.4h1.6v1.6h-1.6zM1020.0 179.7h2.5v2.5h-2.5zM1038.6 161.9h1.8v1.8h-1.8zM1035.0 184.4h2.5v2.5h-2.5zM1024.5 157.0h2.3v2.3h-2.3zM1067.3 176.0h2.2v2.2h-2.2zM1039.2 197.5h1.7v1.7h-1.7zM1015.1 173.3h2.2v2.2h-2.2zM997.5 175.4h1.8v1.8h-1.8zM1034.2 161.3h2.5v2.5h-2.5zM1014.2 168.0h1.8v1.8h-1.8zM1024.2 187.4h2.4v2.4h-2.4zM1024.0 168.2h1.5v1.5h-1.5zM1025.1 152.3h2.4v2.4h-2.4zM1020.1 155.0h2.0v2.0h-2.0zM1029.9 145.8h2.1v2.1h-2.1zM1009.9 172.7h2.1v2.1h-2.1zM994.2 152.7h2.6v2.6h-2.6zM1043.8 155.2h2.1v2.1h-2.1zM1027.7 173.3h2.5v2.5h-2.5zM1010.9 151.3h2.2v2.2h-2.2zM1052.3 163.8h1.9v1.9h-1.9zM1036.1 161.5h2.5v2.5h-2.5zM1033.7 155.4h2.3v2.3h-2.3zM1005.8 158.4h2.2v2.2h-2.2zM1017.8 163.0h2.5v2.5h-2.5zM1022.6 174.7h1.6v1.6h-1.6zM1019.3 180.2h1.6v1.6h-1.6zM1017.2 177.2h2.1v2.1h-2.1zM1048.9 189.1h1.8v1.8h-1.8zM996.0 188.9h1.6v1.6h-1.6zM999.6 185.5h1.7v1.7h-1.7zM1027.7 173.8h1.4v1.4h-1.4zM1012.7 180.2h2.4v2.4h-2.4zM1038.9 163.8h1.5v1.5h-1.5zM1018.0 179.4h1.4v1.4h-1.4zM1044.4 178.4h2.1v2.1h-2.1zM1021.8 170.0h1.7v1.7h-1.7zM1042.9 179.1h1.6v1.6h-1.6zM1046.0 171.5h2.0v2.0h-2.0zM1016.6 173.1h1.9v1.9h-1.9zM1035.2 164.1h1.9v1.9h-1.9zM1035.1 160.7h2.2v2.2h-2.2zM1032.0 163.3h1.6v1.6h-1.6zM1061.8 183.0h2.0v2.0h-2.0zM1032.1 155.5h2.5v2.5h-2.5zM1008.2 177.6h1.8v1.8h-1.8zM1025.5 173.3h2.3v2.3h-2.3zM1002.7 153.4h1.9v1.9h-1.9zM1029.7 167.6h1.7v1.7h-1.7zM1006.6 161.1h1.9v1.9h-1.9zM1040.5 165.1h1.5v1.5h-1.5zM1037.1 188.1h1.7v1.7h-1.7zM1033.3 171.3h1.8v1.8h-1.8zM1018.4 183.3h2.4v2.4h-2.4zM1004.8 157.8h2.4v2.4h-2.4zM1027.6 153.7h2.3v2.3h-2.3zM1043.6 163.1h2.0v2.0h-2.0zM1036.4 166.5h1.5v1.5h-1.5zM1023.9 170.1h2.2v2.2h-2.2zM996.5 157.9h2.0v2.0h-2.0zM1020.3 194.4h2.4v2.4h-2.4zM1040.9 177.9h2.0v2.0h-2.0zM1011.3 179.7h1.5v1.5h-1.5zM1047.8 178.2h2.0v2.0h-2.0zM1069.9 155.1h1.5v1.5h-1.5zM1010.7 167.0h2.5v2.5h-2.5zM1012.3 170.5h1.5v1.5h-1.5zM1036.2 169.8h1.9v1.9h-1.9zM1029.5 174.4h1.6v1.6h-1.6zM1040.3 162.6h2.1v2.1h-2.1zM1017.2 183.0h1.5v1.5h-1.5zM1022.4 160.7h2.6v2.6h-2.6zM1032.4 166.0h2.2v2.2h-2.2zM1029.8 169.2h2.4v2.4h-2.4zM1038.0 180.0h1.9v1.9h-1.9zM1014.6 156.5h1.8v1.8h-1.8zM1053.4 162.3h1.9v1.9h-1.9zM1003.0 149.0h1.4v1.4h-1.4zM1027.2 162.8h2.2v2.2h-2.2zM998.5 159.4h2.0v2.0h-2.0zM1010.9 180.8h2.1v2.1h-2.1zM1031.6 169.7h1.8v1.8h-1.8zM1007.5 167.9h1.5v1.5h-1.5zM1038.4 171.6h2.2v2.2h-2.2zM1044.7 170.7h2.4v2.4h-2.4zM1038.8 174.9h1.9v1.9h-1.9zM1018.7 184.5h1.9v1.9h-1.9zM1033.5 178.9h1.7v1.7h-1.7zM1010.7 157.9h1.7v1.7h-1.7zM1024.9 161.0h2.3v2.3h-2.3zM1037.7 174.3h2.0v2.0h-2.0zM1047.4 176.3h2.6v2.6h-2.6zM1009.7 180.3h2.1v2.1h-2.1zM1017.4 161.8h1.6v1.6h-1.6zM1028.7 169.7h1.7v1.7h-1.7zM1044.3 200.9h2.2v2.2h-2.2zM1034.5 185.8h1.8v1.8h-1.8zM1024.4 173.5h2.2v2.2h-2.2zM1019.5 165.2h2.2v2.2h-2.2zM1049.2 174.8h2.3v2.3h-2.3zM1034.9 161.0h2.1v2.1h-2.1zM1055.1 167.9h2.0v2.0h-2.0zM1017.4 169.6h2.0v2.0h-2.0zM1038.5 178.1h1.7v1.7h-1.7zM1051.2 158.2h1.6v1.6h-1.6zM1020.9 187.0h2.4v2.4h-2.4zM1064.1 162.9h2.2v2.2h-2.2zM1026.2 152.9h2.1v2.1h-2.1zM1014.6 160.1h2.3v2.3h-2.3zM1026.1 156.8h1.5v1.5h-1.5zM1042.6 169.2h2.1v2.1h-2.1zM1023.7 180.0h2.4v2.4h-2.4zM1023.5 156.2h2.1v2.1h-2.1zM1028.2 193.7h2.5v2.5h-2.5zM1029.4 175.6h1.6v1.6h-1.6zM1024.7 167.5h2.5v2.5h-2.5zM1035.9 140.8h1.7v1.7h-1.7zM1008.0 163.3h2.2v2.2h-2.2zM1023.5 185.8h2.6v2.6h-2.6zM1067.0 176.8h2.1v2.1h-2.1zM1034.2 177.3h1.7v1.7h-1.7zM1051.8 159.1h2.6v2.6h-2.6zM1019.9 171.6h1.7v1.7h-1.7zM1032.6 149.0h2.3v2.3h-2.3zM1034.7 152.4h2.1v2.1h-2.1zM1040.0 179.1h2.0v2.0h-2.0zM991.7 175.4h2.3v2.3h-2.3zM1030.9 163.1h2.5v2.5h-2.5zM1043.0 191.8h2.5v2.5h-2.5zM1035.7 157.9h2.3v2.3h-2.3zM1004.8 157.0h2.4v2.4h-2.4zM1011.5 182.2h1.4v1.4h-1.4zM1032.4 169.5h1.8v1.8h-1.8zM1041.7 170.0h2.1v2.1h-2.1zM1028.3 160.6h2.0v2.0h-2.0zM1017.8 170.2h2.5v2.5h-2.5zM1009.1 188.0h2.5v2.5h-2.5zM1029.7 163.8h2.0v2.0h-2.0zM1043.3 158.2h2.5v2.5h-2.5zM1044.6 170.8h1.8v1.8h-1.8zM1057.8 163.8h2.4v2.4h-2.4zM1021.4 160.6h1.6v1.6h-1.6zM1007.9 172.6h2.6v2.6h-2.6zM1010.9 173.3h1.9v1.9h-1.9zM1017.5 181.4h2.6v2.6h-2.6zM987.0 174.4h1.7v1.7h-1.7zM1028.5 169.8h1.7v1.7h-1.7zM1017.6 189.0h1.7v1.7h-1.7zM1021.2 174.5h1.8v1.8h-1.8zM1023.5 165.9h1.5v1.5h-1.5zM1029.1 177.2h2.3v2.3h-2.3zM1009.9 164.6h2.0v2.0h-2.0zM1005.2 174.2h2.0v2.0h-2.0zM1014.1 161.6h1.7v1.7h-1.7zM1038.1 169.7h2.0v2.0h-2.0zM1034.1 168.2h2.0v2.0h-2.0zM1034.2 170.7h1.4v1.4h-1.4zM1009.9 172.1h1.8v1.8h-1.8zM1022.2 167.1h1.6v1.6h-1.6zM1032.1 163.7h1.8v1.8h-1.8zM1010.8 182.7h1.9v1.9h-1.9zM1057.0 166.0h2.6v2.6h-2.6zM1046.0 174.0h1.8v1.8h-1.8zM1017.4 160.6h2.5v2.5h-2.5zM1023.2 165.1h2.3v2.3h-2.3zM1022.4 168.4h2.6v2.6h-2.6zM1009.6 179.3h2.4v2.4h-2.4zM1009.6 158.0h2.5v2.5h-2.5zM1042.4 178.1h1.6v1.6h-1.6zM1050.9 171.3h2.3v2.3h-2.3zM1017.4 182.3h1.8v1.8h-1.8zM1026.2 168.4h1.9v1.9h-1.9zM1014.1 174.2h1.5v1.5h-1.5zM989.9 175.5h1.6v1.6h-1.6zM995.7 179.4h2.2v2.2h-2.2zM1002.8 177.2h1.7v1.7h-1.7zM1067.1 166.7h2.2v2.2h-2.2zM1009.0 191.1h1.8v1.8h-1.8zM1020.6 157.5h2.2v2.2h-2.2zM1047.7 138.5h2.2v2.2h-2.2zM1004.0 155.3h1.7v1.7h-1.7zM1016.6 147.5h2.5v2.5h-2.5zM1040.8 181.0h2.3v2.3h-2.3zM1026.8 165.2h2.1v2.1h-2.1zM1002.7 174.9h2.1v2.1h-2.1zM1016.5 176.5h2.2v2.2h-2.2zM1044.0 170.3h1.8v1.8h-1.8zM993.9 159.5h2.1v2.1h-2.1zM1049.5 172.8h1.6v1.6h-1.6zM1050.4 145.2h2.6v2.6h-2.6zM1025.9 167.8h2.2v2.2h-2.2zM1001.7 162.7h2.3v2.3h-2.3zM1043.3 175.7h2.3v2.3h-2.3zM1019.1 173.4h2.4v2.4h-2.4zM1046.8 157.9h2.0v2.0h-2.0zM1032.4 181.3h1.7v1.7h-1.7zM1016.7 184.1h1.4v1.4h-1.4zM1026.3 182.0h2.0v2.0h-2.0zM1042.5 172.7h1.6v1.6h-1.6zM1023.1 162.6h2.0v2.0h-2.0zM1030.5 172.1h1.5v1.5h-1.5zM1050.2 168.9h2.3v2.3h-2.3zM1033.4 188.4h1.8v1.8h-1.8zM1032.9 174.9h1.8v1.8h-1.8zM1053.5 170.8h2.4v2.4h-2.4zM1034.2 178.1h1.9v1.9h-1.9zM1025.9 157.6h2.0v2.0h-2.0zM1004.4 167.6h2.2v2.2h-2.2zM1045.8 180.8h1.4v1.4h-1.4zM1053.8 179.8h1.8v1.8h-1.8zM1017.4 153.8h2.6v2.6h-2.6zM1019.5 166.9h2.2v2.2h-2.2zM1015.9 180.0h1.6v1.6h-1.6zM1015.1 176.2h2.5v2.5h-2.5zM1040.3 150.7h2.5v2.5h-2.5zM1021.0 183.6h2.2v2.2h-2.2zM1041.3 171.2h1.4v1.4h-1.4zM1010.0 162.1h1.9v1.9h-1.9zM1029.1 183.7h1.9v1.9h-1.9zM1035.6 168.9h1.6v1.6h-1.6zM1031.5 178.4h2.1v2.1h-2.1zM999.7 158.9h1.7v1.7h-1.7zM1028.2 183.1h2.2v2.2h-2.2zM1045.0 161.2h1.7v1.7h-1.7zM1028.1 161.7h2.5v2.5h-2.5zM1021.5 171.4h1.7v1.7h-1.7zM1021.9 163.7h1.4v1.4h-1.4zM1009.1 152.4h2.4v2.4h-2.4zM1024.6 171.9h1.7v1.7h-1.7zM1037.6 160.8h1.5v1.5h-1.5zM1016.1 183.7h2.5v2.5h-2.5zM1034.3 179.5h1.8v1.8h-1.8zM1018.6 161.9h2.2v2.2h-2.2zM1009.3 180.7h1.5v1.5h-1.5zM1009.5 150.8h2.4v2.4h-2.4zM1015.7 183.7h2.4v2.4h-2.4zM1028.1 172.4h1.7v1.7h-1.7zM1029.5 169.3h1.7v1.7h-1.7zM1025.0 154.4h1.6v1.6h-1.6zM1054.2 168.1h2.1v2.1h-2.1zM1047.0 152.6h1.9v1.9h-1.9zM1036.3 156.8h2.5v2.5h-2.5zM1007.0 172.7h1.8v1.8h-1.8zM1044.1 184.8h2.0v2.0h-2.0zM1048.9 166.8h1.9v1.9h-1.9zM1040.2 163.2h1.7v1.7h-1.7zM1019.1 172.5h1.5v1.5h-1.5zM1025.8 179.1h2.1v2.1h-2.1zM998.4 182.2h1.7v1.7h-1.7zM1018.4 186.0h2.5v2.5h-2.5zM1045.9 157.2h2.2v2.2h-2.2zM1026.9 177.2h2.2v2.2h-2.2zM1015.1 161.7h2.4v2.4h-2.4zM1022.8 178.0h1.6v1.6h-1.6zM1042.2 165.2h2.5v2.5h-2.5zM1040.9 186.0h2.4v2.4h-2.4zM1042.4 161.8h1.6v1.6h-1.6zM1014.3 172.9h1.7v1.7h-1.7zM1040.8 174.5h1.5v1.5h-1.5zM1021.6 159.7h1.9v1.9h-1.9zM1048.0 168.2h1.5v1.5h-1.5zM1057.5 157.3h2.4v2.4h-2.4zM1022.5 162.8h1.7v1.7h-1.7zM1057.1 183.4h1.7v1.7h-1.7zM1019.9 148.8h2.5v2.5h-2.5zM1046.2 171.3h1.8v1.8h-1.8zM1009.9 153.5h1.8v1.8h-1.8zM1034.2 167.6h2.1v2.1h-2.1zM1030.1 174.2h2.0v2.0h-2.0zM1022.0 166.9h1.8v1.8h-1.8zM1038.4 168.7h2.1v2.1h-2.1zM1023.5 176.9h1.7v1.7h-1.7zM996.4 183.5h2.2v2.2h-2.2zM1035.0 161.6h1.8v1.8h-1.8zM1025.1 183.4h1.7v1.7h-1.7zM1036.7 150.5h1.8v1.8h-1.8zM1011.8 171.9h1.7v1.7h-1.7zM1056.3 178.3h2.4v2.4h-2.4zM1024.8 176.3h2.3v2.3h-2.3zM1028.2 166.7h1.5v1.5h-1.5zM1034.0 146.6h2.5v2.5h-2.5zM1044.0 175.8h2.4v2.4h-2.4zM1021.0 160.6h1.5v1.5h-1.5zM1008.8 173.0h2.0v2.0h-2.0zM1030.3 171.9h2.0v2.0h-2.0zM1055.2 146.0h2.0v2.0h-2.0zM1016.6 161.6h1.4v1.4h-1.4zM1043.0 167.3h2.5v2.5h-2.5zM1013.0 172.3h1.9v1.9h-1.9zM1034.4 187.6h2.3v2.3h-2.3zM1032.0 165.2h2.1v2.1h-2.1zM1020.0 161.1h2.5v2.5h-2.5zM1035.8 178.9h1.8v1.8h-1.8zM1024.4 168.5h2.2v2.2h-2.2zM1049.9 171.1h1.8v1.8h-1.8zM1035.9 158.2h2.5v2.5h-2.5zM1018.4 146.7h1.8v1.8h-1.8zM1006.3 174.0h1.5v1.5h-1.5zM1047.8 167.1h2.0v2.0h-2.0zM1009.1 171.0h2.2v2.2h-2.2zM1046.2 168.2h1.9v1.9h-1.9zM1042.6 169.3h2.3v2.3h-2.3zM1008.5 160.1h2.3v2.3h-2.3zM1024.0 194.9h1.7v1.7h-1.7zM1037.3 167.4h1.9v1.9h-1.9zM1032.6 172.3h2.6v2.6h-2.6zM1021.0 168.9h2.0v2.0h-2.0zM1024.0 178.1h2.5v2.5h-2.5zM1052.8 184.5h1.9v1.9h-1.9zM1023.0 176.1h1.7v1.7h-1.7zM1016.5 158.1h2.5v2.5h-2.5zM1029.2 176.7h1.9v1.9h-1.9z" fill="#e3141b" fill-opacity="0.90"/>
<path d="M1061.5 197.1h1.8v1.8h-1.8zM1055.8 205.4h2.3v2.3h-2.3zM1075.8 228.3h2.1v2.1h-2.1zM1064.6 194.3h1.9v1.9h-1.9zM1084.8 189.4h1.5v1.5h-1.5zM1056.6 207.0h1.9v1.9h-1.9zM1054.0 230.0h1.5v1.5h-1.5zM1069.7 226.2h2.3v2.3h-2.3zM1060.1 223.1h1.7v1.7h-1.7zM1062.0 208.0h2.0v2.0h-2.0zM1068.3 216.0h2.0v2.0h-2.0zM1072.1 207.0h1.4v1.4h-1.4zM1043.3 205.4h2.6v2.6h-2.6zM1026.9 205.8h1.6v1.6h-1.6zM1052.8 222.3h2.3v2.3h-2.3zM1026.5 239.8h2.5v2.5h-2.5zM1059.3 186.4h2.0v2.0h-2.0zM1069.9 217.3h1.8v1.8h-1.8zM1069.9 242.4h1.5v1.5h-1.5zM1052.5 214.4h1.8v1.8h-1.8zM1066.1 199.9h1.9v1.9h-1.9zM1068.0 228.7h1.9v1.9h-1.9zM1052.2 216.7h1.7v1.7h-1.7zM1078.0 219.7h2.1v2.1h-2.1zM1041.8 214.2h2.3v2.3h-2.3zM1058.7 228.2h1.9v1.9h-1.9zM1062.3 239.2h1.7v1.7h-1.7zM1046.9 217.5h1.8v1.8h-1.8zM1051.9 236.4h1.6v1.6h-1.6zM1085.8 196.3h2.6v2.6h-2.6zM1074.5 209.4h2.4v2.4h-2.4zM1041.5 194.5h1.5v1.5h-1.5zM1065.4 217.7h1.5v1.5h-1.5zM1058.8 214.4h2.4v2.4h-2.4zM1068.4 214.3h2.0v2.0h-2.0zM1047.6 212.1h1.8v1.8h-1.8zM1071.4 187.8h2.5v2.5h-2.5zM1085.4 231.7h1.9v1.9h-1.9zM1066.3 241.1h1.9v1.9h-1.9zM1052.9 196.0h2.4v2.4h-2.4zM1055.4 199.4h2.3v2.3h-2.3zM1089.6 210.8h2.0v2.0h-2.0zM1063.2 215.5h1.4v1.4h-1.4zM1086.1 212.5h2.0v2.0h-2.0zM1058.8 214.1h2.4v2.4h-2.4zM1081.5 207.0h2.0v2.0h-2.0zM1083.6 214.6h1.6v1.6h-1.6zM1061.6 217.4h2.1v2.1h-2.1zM1091.5 206.4h2.3v2.3h-2.3zM1083.2 218.5h2.0v2.0h-2.0zM1066.3 210.8h2.0v2.0h-2.0zM1075.4 219.2h2.3v2.3h-2.3zM1069.2 219.8h1.8v1.8h-1.8zM1052.1 200.4h1.7v1.7h-1.7zM1050.2 205.0h1.9v1.9h-1.9zM1061.2 204.6h1.8v1.8h-1.8zM1071.5 196.0h2.2v2.2h-2.2zM1060.7 222.9h2.3v2.3h-2.3zM1087.4 210.9h2.0v2.0h-2.0zM1080.7 230.4h2.5v2.5h-2.5zM1050.0 213.7h2.4v2.4h-2.4zM1049.6 204.3h2.4v2.4h-2.4zM1069.7 191.3h2.3v2.3h-2.3zM1071.4 208.0h2.5v2.5h-2.5zM1060.7 218.0h1.7v1.7h-1.7zM1052.7 185.0h2.2v2.2h-2.2zM1064.5 199.4h1.9v1.9h-1.9zM1061.3 193.8h1.9v1.9h-1.9zM1051.1 194.8h2.6v2.6h-2.6zM1046.4 198.0h2.0v2.0h-2.0zM1053.2 210.4h2.1v2.1h-2.1zM1107.6 200.9h1.5v1.5h-1.5zM1042.1 218.5h2.3v2.3h-2.3zM1047.0 196.8h1.7v1.7h-1.7zM1059.2 210.5h1.9v1.9h-1.9zM1064.9 213.5h1.7v1.7h-1.7zM1062.3 226.2h2.2v2.2h-2.2zM1075.4 201.9h1.7v1.7h-1.7zM1060.9 189.9h2.1v2.1h-2.1zM1072.9 206.8h1.9v1.9h-1.9zM1090.0 199.8h2.1v2.1h-2.1zM1084.7 196.3h2.5v2.5h-2.5zM1040.7 197.2h2.0v2.0h-2.0zM1068.5 224.8h2.1v2.1h-2.1zM1051.8 224.0h2.1v2.1h-2.1zM1056.6 202.2h1.6v1.6h-1.6zM1059.7 234.1h2.4v2.4h-2.4zM1066.3 214.3h2.0v2.0h-2.0zM1043.1 212.2h2.4v2.4h-2.4zM1067.6 233.7h1.5v1.5h-1.5zM1051.8 199.4h2.0v2.0h-2.0zM1051.2 200.2h1.8v1.8h-1.8zM1073.0 198.0h1.5v1.5h-1.5zM1081.2 210.2h2.5v2.5h-2.5zM1051.2 200.1h2.2v2.2h-2.2zM1044.9 188.4h2.5v2.5h-2.5zM1079.5 222.6h2.1v2.1h-2.1zM1050.2 203.0h1.8v1.8h-1.8zM1085.7 199.0h2.0v2.0h-2.0zM1066.7 217.1h1.5v1.5h-1.5zM1060.9 206.8h2.1v2.1h-2.1zM1059.0 211.3h2.2v2.2h-2.2zM1042.2 210.3h2.1v2.1h-2.1zM1066.1 190.1h2.3v2.3h-2.3zM1069.8 195.9h1.8v1.8h-1.8zM1027.6 181.1h2.5v2.5h-2.5zM1064.9 217.8h2.2v2.2h-2.2zM1057.7 188.1h1.7v1.7h-1.7zM1061.3 222.9h2.2v2.2h-2.2zM1062.9 187.9h2.2v2.2h-2.2zM1069.9 206.5h2.5v2.5h-2.5zM1061.1 210.3h2.0v2.0h-2.0zM1071.2 207.8h1.7v1.7h-1.7zM1050.3 207.8h1.6v1.6h-1.6zM1065.3 226.7h1.8v1.8h-1.8zM1046.7 207.4h1.9v1.9h-1.9zM1051.4 213.4h2.3v2.3h-2.3zM1056.0 164.2h1.5v1.5h-1.5zM1076.5 199.7h1.5v1.5h-1.5zM1048.4 187.2h2.3v2.3h-2.3zM1048.8 190.3h1.6v1.6h-1.6zM1061.4 211.5h1.4v1.4h-1.4zM1062.3 214.6h1.5v1.5h-1.5zM1052.0 218.2h2.2v2.2h-2.2zM1062.0 215.9h2.1v2.1h-2.1zM1071.8 204.0h2.5v2.5h-2.5zM1080.4 221.1h1.6v1.6h-1.6zM1057.8 235.2h2.2v2.2h-2.2zM1086.2 186.9h1.5v1.5h-1.5zM1032.7 200.3h2.4v2.4h-2.4zM1069.8 223.1h2.0v2.0h-2.0zM1072.5 209.2h1.5v1.5h-1.5zM1076.7 219.9h1.4v1.4h-1.4zM1057.5 212.2h2.5v2.5h-2.5zM1078.1 200.1h2.0v2.0h-2.0zM1054.9 197.3h2.5v2.5h-2.5zM1083.5 219.4h1.6v1.6h-1.6zM1075.1 204.1h2.0v2.0h-2.0zM1063.2 227.3h2.2v2.2h-2.2zM1059.8 226.9h1.5v1.5h-1.5zM1063.3 209.2h2.1v2.1h-2.1zM1071.2 222.1h2.6v2.6h-2.6zM1087.6 204.5h1.7v1.7h-1.7zM1086.7 198.5h1.7v1.7h-1.7zM1051.9 176.9h1.7v1.7h-1.7zM1075.1 231.3h2.0v2.0h-2.0zM1047.3 204.9h1.8v1.8h-1.8zM1060.2 186.9h2.1v2.1h-2.1zM1064.6 214.0h2.6v2.6h-2.6zM1056.9 194.8h1.5v1.5h-1.5zM1065.5 218.4h2.5v2.5h-2.5zM1044.4 208.2h2.3v2.3h-2.3zM1071.4 168.7h2.2v2.2h-2.2zM1068.1 234.8h1.8v1.8h-1.8zM1046.2 228.8h2.3v2.3h-2.3zM1059.7 218.6h1.6v1.6h-1.6zM1061.6 193.0h1.4v1.4h-1.4zM1040.3 244.6h2.1v2.1h-2.1zM1045.5 205.8h1.7v1.7h-1.7zM1083.2 214.2h1.7v1.7h-1.7zM1066.2 180.3h1.8v1.8h-1.8zM1055.3 190.3h1.8v1.8h-1.8zM1039.3 215.1h2.1v2.1h-2.1zM1075.1 198.5h2.4v2.4h-2.4zM1054.9 216.1h2.5v2.5h-2.5zM1075.8 194.3h2.0v2.0h-2.0zM1079.8 223.5h1.6v1.6h-1.6zM1063.9 193.5h1.8v1.8h-1.8zM1071.6 219.9h2.6v2.6h-2.6zM1087.9 201.0h1.5v1.5h-1.5zM1085.5 204.6h2.4v2.4h-2.4zM1071.0 208.1h2.1v2.1h-2.1zM1065.0 231.3h2.3v2.3h-2.3zM1054.4 222.0h2.4v2.4h-2.4zM1060.1 209.3h2.1v2.1h-2.1zM1054.0 212.7h2.4v2.4h-2.4zM1036.5 206.0h2.4v2.4h-2.4zM1077.7 222.2h2.4v2.4h-2.4zM1041.5 193.3h2.5v2.5h-2.5zM1058.2 237.4h1.6v1.6h-1.6zM1058.0 209.7h2.0v2.0h-2.0zM1060.5 214.3h2.6v2.6h-2.6zM1051.3 213.6h1.7v1.7h-1.7zM1070.4 225.2h1.8v1.8h-1.8zM1051.7 223.1h2.4v2.4h-2.4zM1090.3 221.5h2.3v2.3h-2.3zM1073.3 173.9h2.4v2.4h-2.4zM1082.3 238.1h2.4v2.4h-2.4zM1080.7 217.4h2.6v2.6h-2.6zM1075.3 254.2h1.6v1.6h-1.6zM1054.1 203.9h2.0v2.0h-2.0zM1079.1 213.7h1.9v1.9h-1.9zM1034.1 213.2h1.9v1.9h-1.9zM1068.7 196.1h2.4v2.4h-2.4zM1069.2 213.6h2.6v2.6h-2.6zM1039.0 217.6h2.2v2.2h-2.2zM1093.7 235.8h1.4v1.4h-1.4zM1048.3 190.3h1.9v1.9h-1.9zM1064.8 214.1h2.5v2.5h-2.5zM1045.4 198.9h2.0v2.0h-2.0zM1082.8 213.5h1.7v1.7h-1.7zM1078.3 209.4h1.5v1.5h-1.5zM1078.2 202.0h1.6v1.6h-1.6zM1056.7 195.8h1.5v1.5h-1.5zM1037.3 204.0h2.4v2.4h-2.4zM1045.1 202.9h2.2v2.2h-2.2zM1065.9 212.5h2.2v2.2h-2.2zM1069.3 204.0h2.3v2.3h-2.3zM1063.1 227.1h2.0v2.0h-2.0zM1061.7 210.3h2.3v2.3h-2.3zM1029.8 193.4h2.4v2.4h-2.4zM1079.1 196.9h2.2v2.2h-2.2zM1048.9 224.2h1.6v1.6h-1.6zM1046.8 224.6h2.6v2.6h-2.6zM1062.4 200.4h2.0v2.0h-2.0zM1035.3 229.5h2.3v2.3h-2.3zM1038.5 191.4h1.7v1.7h-1.7zM1074.7 191.2h1.5v1.5h-1.5zM1070.8 209.2h1.5v1.5h-1.5zM1060.0 193.9h1.5v1.5h-1.5zM1054.5 213.8h2.6v2.6h-2.6zM1050.0 219.1h1.5v1.5h-1.5zM1067.1 217.8h1.6v1.6h-1.6zM1066.9 218.1h2.5v2.5h-2.5zM1069.0 222.0h1.4v1.4h-1.4zM1069.0 214.5h2.4v2.4h-2.4zM1050.9 183.9h2.3v2.3h-2.3zM1064.4 224.0h2.5v2.5h-2.5zM1050.8 186.0h2.2v2.2h-2.2zM1056.1 215.0h1.7v1.7h-1.7zM1075.6 204.9h2.6v2.6h-2.6zM1047.3 208.8h2.3v2.3h-2.3zM1073.2 208.9h1.7v1.7h-1.7zM1077.8 202.2h1.7v1.7h-1.7zM1075.8 234.1h2.3v2.3h-2.3zM1049.8 196.7h2.1v2.1h-2.1zM1072.7 256.2h2.5v2.5h-2.5zM1070.8 209.3h1.8v1.8h-1.8zM1081.9 208.0h1.6v1.6h-1.6zM1041.2 195.4h2.3v2.3h-2.3zM1082.5 184.6h1.5v1.5h-1.5zM1043.9 221.9h1.8v1.8h-1.8zM1065.8 227.7h1.9v1.9h-1.9zM1048.9 198.7h2.1v2.1h-2.1zM1058.9 191.2h2.0v2.0h-2.0zM1060.4 207.1h2.5v2.5h-2.5zM1075.8 208.4h2.4v2.4h-2.4zM1058.1 217.1h1.6v1.6h-1.6zM1079.1 225.2h1.6v1.6h-1.6zM1067.6 204.0h2.2v2.2h-2.2zM1057.1 190.2h1.9v1.9h-1.9zM1064.6 209.3h2.6v2.6h-2.6zM1086.7 212.9h1.8v1.8h-1.8zM1074.1 229.2h1.6v1.6h-1.6zM1037.6 200.0h1.8v1.8h-1.8zM1060.4 211.5h2.2v2.2h-2.2zM1047.9 222.5h2.1v2.1h-2.1zM1076.3 217.2h1.7v1.7h-1.7zM1073.2 193.3h2.5v2.5h-2.5zM1079.5 200.5h2.5v2.5h-2.5zM1037.4 211.5h2.4v2.4h-2.4zM1069.6 199.5h1.8v1.8h-1.8zM1040.6 192.5h1.5v1.5h-1.5zM1061.6 171.7h2.2v2.2h-2.2zM1078.0 224.6h2.2v2.2h-2.2zM1061.2 225.5h2.5v2.5h-2.5zM1061.4 192.7h1.4v1.4h-1.4zM1072.5 218.1h1.7v1.7h-1.7zM1050.8 188.6h2.5v2.5h-2.5zM1050.0 227.1h2.6v2.6h-2.6zM1059.4 251.7h1.8v1.8h-1.8zM1054.5 218.7h2.4v2.4h-2.4zM1068.2 206.3h2.4v2.4h-2.4zM1075.4 196.8h1.5v1.5h-1.5zM1062.9 192.1h2.3v2.3h-2.3zM1033.2 210.7h1.9v1.9h-1.9zM1047.7 190.2h1.8v1.8h-1.8zM1071.8 207.2h2.3v2.3h-2.3zM1069.1 235.6h1.9v1.9h-1.9zM1066.2 216.5h2.5v2.5h-2.5zM1047.1 222.2h1.7v1.7h-1.7zM1075.6 194.0h1.7v1.7h-1.7zM1072.9 214.5h1.5v1.5h-1.5zM1060.7 211.0h2.4v2.4h-2.4zM1097.6 200.0h1.9v1.9h-1.9zM1059.1 211.2h1.5v1.5h-1.5zM1061.2 182.4h2.6v2.6h-2.6zM1072.8 223.5h1.6v1.6h-1.6zM1087.9 201.3h1.7v1.7h-1.7zM1046.1 219.5h2.2v2.2h-2.2zM1049.4 209.7h2.6v2.6h-2.6zM1058.1 212.6h2.6v2.6h-2.6zM1057.5 220.2h2.6v2.6h-2.6zM1050.9 245.4h1.8v1.8h-1.8zM1074.7 200.4h1.8v1.8h-1.8zM1050.2 206.9h1.5v1.5h-1.5zM1057.2 197.4h2.3v2.3h-2.3zM1083.3 224.3h2.4v2.4h-2.4zM1048.6 218.1h1.4v1.4h-1.4zM1064.0 221.3h1.8v1.8h-1.8zM1054.5 241.7h2.5v2.5h-2.5zM1064.9 239.7h1.9v1.9h-1.9zM1057.2 230.0h2.4v2.4h-2.4zM1062.3 234.8h1.9v1.9h-1.9zM1061.3 193.8h2.6v2.6h-2.6zM1048.8 200.3h1.5v1.5h-1.5zM1072.3 215.4h2.3v2.3h-2.3zM1065.5 225.8h2.5v2.5h-2.5zM1086.8 194.8h2.4v2.4h-2.4zM1077.9 244.5h2.4v2.4h-2.4zM1055.2 201.4h1.8v1.8h-1.8zM1069.5 213.3h2.1v2.1h-2.1zM1056.4 208.8h2.0v2.0h-2.0zM1086.4 223.6h1.4v1.4h-1.4zM1052.6 184.3h2.4v2.4h-2.4zM1048.4 212.6h1.5v1.5h-1.5zM1052.9 197.3h1.7v1.7h-1.7zM1074.0 205.6h1.7v1.7h-1.7zM1058.6 213.1h2.5v2.5h-2.5zM1084.2 214.5h2.5v2.5h-2.5z" fill="#e3141b" fill-opacity="0.90"/>
<path d="M1011.5 209.1h1.9v1.9h-1.9zM1006.1 222.2h1.8v1.8h-1.8zM1036.9 230.2h2.5v2.5h-2.5zM1001.5 216.5h2.2v2.2h-2.2zM1008.8 226.8h2.5v2.5h-2.5zM1004.4 228.4h1.6v1.6h-1.6zM996.0 227.6h2.3v2.3h-2.3zM1031.2 204.4h1.6v1.6h-1.6zM1014.6 227.0h2.3v2.3h-2.3zM1021.1 225.8h1.9v1.9h-1.9zM1014.1 227.2h2.5v2.5h-2.5zM1016.5 225.7h1.8v1.8h-1.8zM1036.4 232.9h2.4v2.4h-2.4zM1027.5 220.1h1.8v1.8h-1.8zM1008.4 233.2h1.5v1.5h-1.5zM1000.8 232.9h2.1v2.1h-2.1zM996.8 241.5h1.7v1.7h-1.7zM1031.8 220.8h2.3v2.3h-2.3zM1008.8 209.2h2.3v2.3h-2.3zM1014.3 234.2h1.9v1.9h-1.9zM1023.3 223.0h1.6v1.6h-1.6zM1042.7 229.3h2.4v2.4h-2.4zM1020.6 222.7h2.5v2.5h-2.5zM1022.9 245.3h2.5v2.5h-2.5zM1021.1 212.1h2.3v2.3h-2.3zM1018.0 239.8h1.6v1.6h-1.6zM1031.1 221.0h2.4v2.4h-2.4zM1019.7 213.6h1.9v1.9h-1.9zM1023.7 218.2h2.0v2.0h-2.0zM1007.8 220.6h1.7v1.7h-1.7zM1005.3 238.1h2.3v2.3h-2.3zM1035.0 222.8h2.6v2.6h-2.6zM1016.3 238.0h1.8v1.8h-1.8zM1011.1 221.6h1.6v1.6h-1.6zM1003.5 237.1h2.0v2.0h-2.0zM1017.2 225.1h1.6v1.6h-1.6zM1009.3 218.0h1.6v1.6h-1.6zM1027.9 219.0h2.0v2.0h-2.0zM1007.9 212.0h1.9v1.9h-1.9zM1000.1 221.0h1.4v1.4h-1.4zM1008.3 213.3h2.5v2.5h-2.5zM1006.6 223.9h2.6v2.6h-2.6zM979.4 229.5h2.4v2.4h-2.4zM1011.2 214.5h1.8v1.8h-1.8zM1011.2 228.3h2.2v2.2h-2.2zM1014.8 225.2h2.5v2.5h-2.5zM1015.0 229.9h2.4v2.4h-2.4zM996.4 220.4h2.6v2.6h-2.6zM1020.0 225.1h2.3v2.3h-2.3zM1000.4 222.7h1.8v1.8h-1.8zM1005.4 225.1h1.7v1.7h-1.7zM992.3 212.3h1.7v1.7h-1.7zM995.2 223.8h2.6v2.6h-2.6zM1048.2 232.5h1.9v1.9h-1.9zM1031.3 224.9h2.1v2.1h-2.1zM1036.3 227.6h2.3v2.3h-2.3zM1015.7 233.3h1.4v1.4h-1.4zM998.3 207.9h1.7v1.7h-1.7zM998.6 235.7h2.5v2.5h-2.5zM1026.9 226.3h1.9v1.9h-1.9zM1011.5 223.5h1.8v1.8h-1.8zM1020.0 218.2h2.2v2.2h-2.2zM1025.2 217.3h1.7v1.7h-1.7zM1032.9 222.2h2.3v2.3h-2.3zM1002.2 222.6h2.2v2.2h-2.2zM1002.1 223.8h2.5v2.5h-2.5zM990.2 221.0h1.6v1.6h-1.6zM1015.7 227.8h1.6v1.6h-1.6zM1009.4 234.2h2.2v2.2h-2.2zM991.7 223.1h2.1v2.1h-2.1zM1008.1 224.7h2.5v2.5h-2.5zM1011.1 235.5h2.5v2.5h-2.5zM1014.6 217.6h2.5v2.5h-2.5zM1048.5 225.1h1.4v1.4h-1.4zM1012.5 231.7h2.3v2.3h-2.3zM1006.5 223.0h2.4v2.4h-2.4zM1026.4 215.6h2.2v2.2h-2.2zM1008.5 232.1h1.7v1.7h-1.7zM1039.1 224.2h1.9v1.9h-1.9zM1013.2 233.3h2.0v2.0h-2.0zM994.5 219.4h1.6v1.6h-1.6zM1003.8 208.8h2.2v2.2h-2.2zM975.1 221.6h1.7v1.7h-1.7zM1027.0 230.0h1.7v1.7h-1.7zM1031.8 203.5h2.2v2.2h-2.2zM1012.6 235.2h1.8v1.8h-1.8zM1002.8 214.6h2.4v2.4h-2.4zM1019.4 224.9h1.4v1.4h-1.4zM1023.3 224.7h2.5v2.5h-2.5zM1031.6 230.2h2.2v2.2h-2.2zM1018.1 221.9h1.8v1.8h-1.8zM1024.3 219.6h1.9v1.9h-1.9zM1027.7 233.8h2.5v2.5h-2.5zM1027.6 214.9h2.5v2.5h-2.5zM1020.7 227.7h1.8v1.8h-1.8zM1026.6 212.7h2.2v2.2h-2.2zM1006.5 224.2h2.0v2.0h-2.0zM1033.8 220.2h2.3v2.3h-2.3zM1026.9 226.0h2.3v2.3h-2.3zM1041.1 227.4h1.9v1.9h-1.9zM992.7 222.7h1.6v1.6h-1.6zM1018.2 234.8h1.6v1.6h-1.6zM1023.8 222.7h2.4v2.4h-2.4zM997.4 225.1h1.9v1.9h-1.9zM1013.1 235.3h2.4v2.4h-2.4zM1027.5 213.9h2.4v2.4h-2.4zM983.0 221.6h2.3v2.3h-2.3zM1018.5 217.3h1.6v1.6h-1.6zM1007.7 234.2h2.6v2.6h-2.6zM1024.9 211.4h1.9v1.9h-1.9zM1019.5 226.1h2.6v2.6h-2.6zM1012.0 229.3h1.4v1.4h-1.4zM1022.8 244.4h2.3v2.3h-2.3zM1018.0 219.2h2.5v2.5h-2.5zM1008.0 230.5h2.4v2.4h-2.4zM1041.3 229.7h2.2v2.2h-2.2zM1022.2 227.0h2.6v2.6h-2.6zM1008.7 225.5h1.7v1.7h-1.7zM998.2 230.8h1.9v1.9h-1.9zM1021.3 226.3h1.7v1.7h-1.7zM1003.1 222.9h2.4v2.4h-2.4zM1007.0 227.3h2.1v2.1h-2.1zM1010.9 227.8h2.3v2.3h-2.3zM1027.7 234.9h1.5v1.5h-1.5zM1000.8 222.3h1.5v1.5h-1.5zM999.9 234.7h1.5v1.5h-1.5zM1003.2 235.5h2.4v2.4h-2.4zM1008.0 233.0h2.0v2.0h-2.0zM1007.5 223.2h1.5v1.5h-1.5zM1016.6 225.7h1.5v1.5h-1.5zM1012.9 230.2h2.3v2.3h-2.3zM1031.3 231.7h1.6v1.6h-1.6zM1008.3 210.5h2.2v2.2h-2.2zM1016.5 202.7h1.6v1.6h-1.6zM1024.2 229.8h2.5v2.5h-2.5zM998.3 229.5h1.8v1.8h-1.8zM1005.9 234.9h2.3v2.3h-2.3zM1004.5 218.4h1.8v1.8h-1.8zM1006.0 226.8h1.4v1.4h-1.4zM1000.7 242.6h1.6v1.6h-1.6zM1009.9 238.7h2.4v2.4h-2.4zM1011.1 222.5h1.8v1.8h-1.8zM1005.2 219.0h2.2v2.2h-2.2zM1021.0 234.4h1.6v1.6h-1.6zM1016.4 218.0h1.9v1.9h-1.9zM1017.9 218.8h2.1v2.1h-2.1zM978.2 226.0h2.3v2.3h-2.3zM991.0 220.0h2.5v2.5h-2.5zM1015.7 221.8h1.8v1.8h-1.8zM1011.4 237.1h1.8v1.8h-1.8z" fill="#e3141b" fill-opacity="0.90"/>
<path d="M1017.0 181.9h2.3v2.3h-2.3zM1019.7 196.8h2.4v2.4h-2.4zM1018.5 180.3h2.6v2.6h-2.6zM1012.6 197.1h3.1v3.1h-3.1zM1018.1 179.3h2.9v2.9h-2.9zM1019.9 199.4h2.2v2.2h-2.2zM1035.3 219.0h3.0v3.0h-3.0zM1015.8 187.5h2.9v2.9h-2.9zM1008.7 164.4h2.0v2.0h-2.0zM1009.4 208.1h3.3v3.3h-3.3zM1020.7 171.9h2.3v2.3h-2.3zM1017.2 186.6h2.8v2.8h-2.8zM1017.2 216.5h2.8v2.8h-2.8zM1008.8 187.3h2.1v2.1h-2.1zM1023.3 201.5h2.2v2.2h-2.2zM1007.1 197.0h2.3v2.3h-2.3zM1013.3 185.4h3.4v3.4h-3.4zM1011.1 205.9h3.3v3.3h-3.3zM1042.4 209.6h3.3v3.3h-3.3zM1019.7 167.5h2.4v2.4h-2.4zM1027.5 212.5h2.6v2.6h-2.6zM1014.3 208.6h2.8v2.8h-2.8zM1009.7 174.8h2.1v2.1h-2.1zM1022.6 173.0h2.2v2.2h-2.2zM1026.7 216.0h2.7v2.7h-2.7zM1022.1 201.8h2.2v2.2h-2.2zM1032.4 202.2h2.7v2.7h-2.7zM1030.5 216.3h2.8v2.8h-2.8zM1014.8 227.8h2.0v2.0h-2.0zM1029.7 196.9h3.2v3.2h-3.2zM1027.3 199.5h2.6v2.6h-2.6zM1023.4 179.5h2.7v2.7h-2.7zM1019.2 189.7h3.0v3.0h-3.0zM1029.1 202.1h3.3v3.3h-3.3zM1024.6 193.1h2.2v2.2h-2.2zM1030.3 157.5h2.3v2.3h-2.3zM1015.9 209.3h3.0v3.0h-3.0zM1019.2 204.6h3.3v3.3h-3.3zM1032.5 207.0h2.3v2.3h-2.3zM1012.1 191.4h2.7v2.7h-2.7zM1014.3 202.1h2.1v2.1h-2.1zM1028.8 191.2h2.0v2.0h-2.0zM1025.4 191.8h3.4v3.4h-3.4zM1034.7 196.9h3.1v3.1h-3.1zM1023.5 203.5h3.0v3.0h-3.0zM1029.0 205.5h2.1v2.1h-2.1zM1021.8 195.8h3.0v3.0h-3.0zM1025.4 203.9h3.1v3.1h-3.1zM1019.5 186.2h2.5v2.5h-2.5zM1020.4 202.0h3.2v3.2h-3.2zM1019.0 178.5h3.5v3.5h-3.5zM1019.8 187.5h2.4v2.4h-2.4zM1026.0 187.2h2.1v2.1h-2.1zM1019.3 223.5h2.4v2.4h-2.4zM1025.0 180.9h3.0v3.0h-3.0zM1030.0 189.5h3.3v3.3h-3.3zM1016.6 204.9h3.4v3.4h-3.4zM1012.6 194.0h3.2v3.2h-3.2zM1025.7 206.4h2.9v2.9h-2.9zM1018.5 187.4h2.3v2.3h-2.3zM1021.5 213.4h2.5v2.5h-2.5zM1010.1 207.5h2.3v2.3h-2.3zM1024.0 215.8h2.9v2.9h-2.9zM1014.6 212.6h2.1v2.1h-2.1zM1016.3 199.6h3.2v3.2h-3.2zM1019.4 157.8h3.0v3.0h-3.0zM1021.6 201.0h3.2v3.2h-3.2zM1027.8 185.5h3.1v3.1h-3.1zM1014.3 205.8h3.0v3.0h-3.0zM1019.7 211.0h2.5v2.5h-2.5z" fill="#c9b8b9" fill-opacity="0.80"/>
<path d="M1074.4 214.5h1.7v1.7h-1.7zM983.3 153.9h2.5v2.5h-2.5zM1013.3 166.4h2.6v2.6h-2.6zM967.0 234.9h2.9v2.9h-2.9zM965.3 206.7h2.4v2.4h-2.4zM992.9 175.4h2.9v2.9h-2.9zM962.8 227.0h2.2v2.2h-2.2zM1026.3 191.1h2.7v2.7h-2.7zM977.8 166.2h1.7v1.7h-1.7zM1012.7 148.7h3.0v3.0h-3.0zM1011.3 176.9h2.9v2.9h-2.9zM1067.9 165.0h1.6v1.6h-1.6zM1049.1 177.6h2.7v2.7h-2.7zM1003.1 172.4h2.2v2.2h-2.2zM957.8 160.9h1.7v1.7h-1.7zM1047.6 172.3h2.7v2.7h-2.7zM1080.1 190.0h1.8v1.8h-1.8zM954.0 232.5h1.7v1.7h-1.7zM1052.6 146.8h2.9v2.9h-2.9zM1027.4 204.9h2.4v2.4h-2.4zM983.8 155.8h2.8v2.8h-2.8zM1026.8 196.8h1.7v1.7h-1.7zM1079.8 208.4h2.1v2.1h-2.1zM958.5 187.8h3.0v3.0h-3.0zM1054.7 147.1h2.6v2.6h-2.6zM1069.5 168.4h2.8v2.8h-2.8zM1083.2 183.1h1.7v1.7h-1.7zM1002.1 227.4h2.2v2.2h-2.2zM992.4 185.3h2.7v2.7h-2.7zM1034.1 155.5h2.0v2.0h-2.0zM990.6 214.8h2.3v2.3h-2.3zM961.9 146.7h2.0v2.0h-2.0zM1028.6 197.4h2.1v2.1h-2.1zM1007.6 172.6h1.7v1.7h-1.7zM996.4 204.8h1.9v1.9h-1.9zM1074.4 196.0h1.7v1.7h-1.7zM1014.5 161.0h1.7v1.7h-1.7zM966.8 160.5h1.8v1.8h-1.8zM1082.9 149.5h2.2v2.2h-2.2zM1039.7 151.5h2.0v2.0h-2.0zM1006.5 188.1h2.5v2.5h-2.5zM1021.1 192.5h1.9v1.9h-1.9zM959.2 205.2h2.3v2.3h-2.3zM1021.5 197.7h2.9v2.9h-2.9zM1054.2 189.6h1.8v1.8h-1.8zM974.2 197.7h2.7v2.7h-2.7zM1043.0 214.3h1.6v1.6h-1.6zM963.2 196.4h2.7v2.7h-2.7zM979.0 235.0h2.2v2.2h-2.2zM960.1 199.8h3.0v3.0h-3.0zM1085.0 233.7h2.2v2.2h-2.2zM1070.7 175.7h2.8v2.8h-2.8zM1022.3 179.8h1.6v1.6h-1.6zM1004.7 205.8h1.8v1.8h-1.8zM1012.6 167.5h1.7v1.7h-1.7zM998.2 160.0h2.4v2.4h-2.4zM1041.7 175.4h1.6v1.6h-1.6zM993.4 157.0h2.4v2.4h-2.4zM1070.3 150.3h2.2v2.2h-2.2zM1018.0 148.8h3.0v3.0h-3.0zM967.9 155.7h1.6v1.6h-1.6zM1002.8 205.3h2.3v2.3h-2.3zM1009.2 167.2h2.8v2.8h-2.8zM985.5 185.8h2.5v2.5h-2.5zM955.1 159.1h2.2v2.2h-2.2zM988.5 162.2h3.0v3.0h-3.0zM953.8 173.0h1.8v1.8h-1.8zM980.8 230.1h2.0v2.0h-2.0zM1031.2 201.8h2.9v2.9h-2.9zM1076.9 176.4h2.5v2.5h-2.5zM965.8 205.2h1.9v1.9h-1.9zM953.5 215.1h3.0v3.0h-3.0zM1046.3 216.4h2.9v2.9h-2.9zM999.0 225.0h2.2v2.2h-2.2zM1021.6 151.6h1.9v1.9h-1.9zM1005.8 195.0h1.8v1.8h-1.8zM1083.8 224.2h1.7v1.7h-1.7zM966.8 149.6h1.8v1.8h-1.8zM1056.5 166.4h2.4v2.4h-2.4zM1028.0 232.4h2.1v2.1h-2.1zM980.1 192.0h2.1v2.1h-2.1zM967.7 225.2h2.0v2.0h-2.0zM953.1 222.4h2.8v2.8h-2.8zM1004.8 217.1h2.2v2.2h-2.2zM1034.1 187.7h1.7v1.7h-1.7zM1080.4 146.4h1.5v1.5h-1.5zM1012.6 163.0h2.8v2.8h-2.8zM1069.6 172.9h1.6v1.6h-1.6zM1025.8 179.4h3.0v3.0h-3.0zM1003.5 201.5h2.9v2.9h-2.9zM1074.0 157.6h2.1v2.1h-2.1zM1022.8 213.7h2.8v2.8h-2.8zM1073.2 198.5h2.7v2.7h-2.7zM1069.4 154.8h3.0v3.0h-3.0zM997.1 146.5h1.9v1.9h-1.9zM1039.6 179.5h2.4v2.4h-2.4zM1058.5 173.9h1.8v1.8h-1.8zM1052.9 152.8h2.9v2.9h-2.9zM1064.6 176.2h2.3v2.3h-2.3zM1051.4 227.0h3.0v3.0h-3.0zM1020.0 183.0h1.6v1.6h-1.6zM1086.3 169.4h1.8v1.8h-1.8zM1072.0 213.4h2.2v2.2h-2.2zM1038.3 230.0h2.2v2.2h-2.2zM959.9 236.0h3.0v3.0h-3.0zM1073.9 163.1h1.9v1.9h-1.9zM958.6 197.1h2.9v2.9h-2.9zM1025.2 155.1h1.7v1.7h-1.7zM1055.0 166.1h2.6v2.6h-2.6zM1032.0 180.3h2.2v2.2h-2.2z" fill="#fbeeee" fill-opacity="0.85"/>
</g>
<ellipse cx="818.8" cy="237.5" rx="34.2" ry="16" fill="#faf6f6"/>
<ellipse cx="891.5" cy="239" rx="37" ry="16.7" fill="#faf6f6"/>
</g>
<path d="M656 50.5 L1040 49" fill="none" stroke="#1a1a1a" stroke-width="2" stroke-dasharray="5 3.6"/>
<path d="M656 50.5 C640 52 626 54 619 58 C610 66 600 85 593 100 C585 120 580 140 579.6 158 C579 175 582 190 590 196 C600 200 612 186 620 176" fill="none" stroke="#1a1a1a" stroke-width="2" stroke-dasharray="5 3.6"/>
<path d="M656 52 L644 90 L630 135 L611 190 L609 219" fill="none" stroke="#1a1a1a" stroke-width="2" stroke-dasharray="5 3.6"/>
<path d="M727.7 53 L712 95 L690 130 L671.8 150" fill="none" stroke="#1a1a1a" stroke-width="2" stroke-dasharray="5 3.6"/>
<path d="M797.9 51.6 L780 100 L760 145 L747.7 173.2" fill="none" stroke="#1a1a1a" stroke-width="2" stroke-dasharray="5 3.6"/>
<path d="M853.9 49.6 L853.9 233" fill="none" stroke="#1a1a1a" stroke-width="2" stroke-dasharray="5 3.6"/>
<path d="M909.8 51.6 L966.3 166.3" fill="none" stroke="#1a1a1a" stroke-width="2" stroke-dasharray="5 3.6"/>
<path d="M609 219 C640 225 700 232 740 233 C760 234 770 238 780.5 240.7" fill="none" stroke="#1a1a1a" stroke-width="2" stroke-dasharray="5 3.6"/>
<path d="M612 190 C620 170 640 155 671.8 150 C700 148 735 160 745 175 C755 190 758 215 758 234" fill="none" stroke="#1a1a1a" stroke-width="2" stroke-dasharray="5 3.6"/>
<path d="M747.7 173.2 C765 173 790 178 810.9 196.1" fill="none" stroke="#1a1a1a" stroke-width="2" stroke-dasharray="5 3.6"/>
<path d="M782.8 233.0 C784.8 229.8 790.3 220.4 795.0 213.7 C799.7 207.0 805.0 198.6 810.9 192.6 C816.8 186.6 823.5 182.2 830.2 177.7 C836.9 173.2 846.5 167.3 851.2 165.4 C855.9 163.5 854.4 164.1 858.2 166.3 C862.0 168.5 868.1 173.9 874.0 178.6 C879.9 183.3 886.9 188.6 893.3 194.4 C899.7 200.2 907.0 207.0 912.6 213.7 C918.2 220.4 924.4 231.2 926.7 234.7" fill="none" stroke="#1a1a1a" stroke-width="2" stroke-dasharray="5 3.6"/>
<path d="M791.6 226.0 C795.1 223.7 805.6 216.9 812.6 211.9 C819.6 206.9 826.8 200.2 833.7 196.1 C840.6 192.0 847.8 187.1 854.2 187.4 C860.6 187.7 866.4 193.5 872.3 197.9 C878.2 202.3 885.4 209.6 889.8 213.7 C894.2 217.8 897.1 221.0 898.6 222.5" fill="none" stroke="#1a1a1a" stroke-width="2" stroke-dasharray="5 3.6"/>
<path d="M893.3 192.6 C895.9 190.8 903.5 185.4 909.1 182.1 C914.7 178.8 920.0 175.1 926.7 172.5 C933.4 169.9 943.2 167.3 949.5 166.3 C955.8 165.3 962.1 166.3 964.6 166.3" fill="none" stroke="#1a1a1a" stroke-width="2" stroke-dasharray="5 3.6"/>
<path d="M760.0 234.7 C763.2 235.9 772.0 239.2 779.3 241.8 C786.6 244.4 795.4 248.3 803.9 250.5 C812.4 252.7 822.0 256.9 830.2 254.9 C838.4 252.8 849.2 241.0 853.0 238.2" fill="none" stroke="#1a1a1a" stroke-width="2" stroke-dasharray="5 3.6"/>
<path d="M951.2 183.9 L952.1 234.7 L928.4 237.4" fill="none" stroke="#1a1a1a" stroke-width="2" stroke-dasharray="5 3.6"/>
<path d="M964.6 166.3 C975 155 990 149 1019 145.3 C1045 147 1065 160 1076.8 173.3 C1083 185 1085.6 200 1085.6 233" fill="none" stroke="#1a1a1a" stroke-width="2" stroke-dasharray="5 3.6"/>
<path d="M925 238 L1085.6 234.7" fill="none" stroke="#1a1a1a" stroke-width="2" stroke-dasharray="5 3.6"/>
<path d="M982.1 55.8 L1010 100 L1036.5 148.8" fill="none" stroke="#1a1a1a" stroke-width="2" stroke-dasharray="5 3.6"/>
<path d="M1040.0 49.0 C1046.7 51.0 1069.5 55.0 1080.0 61.0 C1090.5 67.0 1097.4 76.8 1103.0 85.0 C1108.6 93.2 1111.6 100.8 1113.7 110.0 C1115.8 119.2 1115.5 131.2 1115.8 140.0 C1116.1 148.8 1116.7 155.8 1115.4 162.8 C1114.1 169.8 1110.9 176.7 1108.0 182.0 C1105.1 187.3 1099.6 192.3 1097.9 194.4" fill="none" stroke="#1a1a1a" stroke-width="2" stroke-dasharray="5 3.6"/>
<ellipse cx="818.8" cy="237.5" rx="34.2" ry="16" fill="none" stroke="#1a1a1a" stroke-width="2" stroke-dasharray="5 3.6"/>
<ellipse cx="891.5" cy="239" rx="37" ry="16.7" fill="none" stroke="#1a1a1a" stroke-width="2" stroke-dasharray="5 3.6"/>
<text x="-3.81" y="334.5" font-size="33" font-weight="bold" font-style="normal" fill="#161616">b</text>
<text x="171.85" y="328.1" font-size="30" font-weight="normal" font-style="normal" fill="#161616" textLength="152" lengthAdjust="spacingAndGlyphs">Locomotion</text>
<line x1="85.6" y1="373.8" x2="85.6" y2="681.7" stroke="#161616" stroke-width="2"/>
<line x1="79.4" y1="680.7" x2="147.2" y2="680.7" stroke="#161616" stroke-width="2"/>
<line x1="79.1" y1="680.7" x2="85.6" y2="680.7" stroke="#161616" stroke-width="2"/>
<text x="56.76" y="689.7" font-size="29.5" font-weight="normal" font-style="normal" fill="#1a1a1a">0</text>
<line x1="79.1" y1="619.52" x2="85.6" y2="619.52" stroke="#161616" stroke-width="2"/>
<text x="56.76" y="628.52" font-size="29.5" font-weight="normal" font-style="normal" fill="#1a1a1a">5</text>
<line x1="79.1" y1="558.34" x2="85.6" y2="558.34" stroke="#161616" stroke-width="2"/>
<text x="40.24" y="567.34" font-size="29.5" font-weight="normal" font-style="normal" fill="#1a1a1a">10</text>
<line x1="79.1" y1="497.16" x2="85.6" y2="497.16" stroke="#161616" stroke-width="2"/>
<text x="40.24" y="506.16" font-size="29.5" font-weight="normal" font-style="normal" fill="#1a1a1a">15</text>
<line x1="79.1" y1="435.98" x2="85.6" y2="435.98" stroke="#161616" stroke-width="2"/>
<text x="40.24" y="444.98" font-size="29.5" font-weight="normal" font-style="normal" fill="#1a1a1a">20</text>
<line x1="79.1" y1="374.8" x2="85.6" y2="374.8" stroke="#161616" stroke-width="2"/>
<text x="40.24" y="383.8" font-size="29.5" font-weight="normal" font-style="normal" fill="#1a1a1a">25</text>
<rect x="92.5" y="474.8" width="19.3" height="205.9" fill="#47a7ad" stroke="#161616" stroke-width="2"/>
<rect x="117.5" y="455.3" width="19.3" height="225.4" fill="#a2218e" stroke="#161616" stroke-width="2"/>
<line x1="102.2" y1="474.8" x2="102.2" y2="446.5" stroke="#161616" stroke-width="1.6"/>
<line x1="97.7" y1="446.5" x2="106.7" y2="446.5" stroke="#161616" stroke-width="1.6"/>
<line x1="127.2" y1="455.3" x2="127.2" y2="439.2" stroke="#161616" stroke-width="1.6"/>
<line x1="122.7" y1="439.2" x2="131.7" y2="439.2" stroke="#161616" stroke-width="1.6"/>
<line x1="102.2" y1="474.8" x2="102.2" y2="503" stroke="#161616" stroke-width="1.6"/>
<line x1="97.7" y1="503" x2="106.7" y2="503" stroke="#161616" stroke-width="1.6"/>
<line x1="102.4" y1="378.2" x2="127.2" y2="474.1" stroke="#161616" stroke-width="1.6"/>
<line x1="102.4" y1="401.2" x2="127.2" y2="385.1" stroke="#161616" stroke-width="1.6"/>
<line x1="102.4" y1="417.3" x2="127.2" y2="485.9" stroke="#161616" stroke-width="1.6"/>
<line x1="102.4" y1="496" x2="127.2" y2="446.8" stroke="#161616" stroke-width="1.6"/>
<line x1="102.4" y1="526.6" x2="127.2" y2="506.4" stroke="#161616" stroke-width="1.6"/>
<line x1="102.4" y1="548.4" x2="127.2" y2="415.7" stroke="#161616" stroke-width="1.6"/>
<line x1="102.4" y1="556.5" x2="127.2" y2="474.1" stroke="#161616" stroke-width="1.6"/>
<circle cx="102.4" cy="378.2" r="3.3" fill="#fff" stroke="#161616" stroke-width="1.6"/>
<circle cx="102.4" cy="401.2" r="3.3" fill="#fff" stroke="#161616" stroke-width="1.6"/>
<circle cx="102.4" cy="417.3" r="3.3" fill="#fff" stroke="#161616" stroke-width="1.6"/>
<circle cx="102.4" cy="496" r="3.3" fill="#fff" stroke="#161616" stroke-width="1.6"/>
<circle cx="102.4" cy="526.6" r="3.3" fill="#fff" stroke="#161616" stroke-width="1.6"/>
<circle cx="102.4" cy="548.4" r="3.3" fill="#fff" stroke="#161616" stroke-width="1.6"/>
<circle cx="102.4" cy="556.5" r="3.3" fill="#fff" stroke="#161616" stroke-width="1.6"/>
<circle cx="127.2" cy="385.1" r="3.3" fill="#fff" stroke="#161616" stroke-width="1.6"/>
<circle cx="127.2" cy="415.7" r="3.3" fill="#fff" stroke="#161616" stroke-width="1.6"/>
<circle cx="127.2" cy="446.8" r="3.3" fill="#fff" stroke="#161616" stroke-width="1.6"/>
<circle cx="127.2" cy="474.1" r="3.3" fill="#fff" stroke="#161616" stroke-width="1.6"/>
<circle cx="127.2" cy="485.9" r="3.3" fill="#fff" stroke="#161616" stroke-width="1.6"/>
<circle cx="127.2" cy="506.4" r="3.3" fill="#fff" stroke="#161616" stroke-width="1.6"/>
<text x="0" y="0" font-size="31" font-weight="normal" fill="#161616" transform="translate(24.79 635.07) rotate(-90)" textLength="197.58" lengthAdjust="spacingAndGlyphs">Tracklength (m)</text>
<line x1="254" y1="373.8" x2="254" y2="681.7" stroke="#161616" stroke-width="2"/>
<line x1="248" y1="680.7" x2="318.4" y2="680.7" stroke="#161616" stroke-width="2"/>
<line x1="247.5" y1="680.7" x2="254" y2="680.7" stroke="#161616" stroke-width="2"/>
<text x="225.16" y="689.7" font-size="29.5" font-weight="normal" font-style="normal" fill="#1a1a1a">0</text>
<line x1="247.5" y1="619.52" x2="254" y2="619.52" stroke="#161616" stroke-width="2"/>
<text x="225.16" y="628.52" font-size="29.5" font-weight="normal" font-style="normal" fill="#1a1a1a">5</text>
<line x1="247.5" y1="558.34" x2="254" y2="558.34" stroke="#161616" stroke-width="2"/>
<text x="208.64" y="567.34" font-size="29.5" font-weight="normal" font-style="normal" fill="#1a1a1a">10</text>
<line x1="247.5" y1="497.16" x2="254" y2="497.16" stroke="#161616" stroke-width="2"/>
<text x="208.64" y="506.16" font-size="29.5" font-weight="normal" font-style="normal" fill="#1a1a1a">15</text>
<line x1="247.5" y1="435.98" x2="254" y2="435.98" stroke="#161616" stroke-width="2"/>
<text x="208.64" y="444.98" font-size="29.5" font-weight="normal" font-style="normal" fill="#1a1a1a">20</text>
<line x1="247.5" y1="374.8" x2="254" y2="374.8" stroke="#161616" stroke-width="2"/>
<text x="208.64" y="383.8" font-size="29.5" font-weight="normal" font-style="normal" fill="#1a1a1a">25</text>
<rect x="261.9" y="472.5" width="18.7" height="208.2" fill="#47a7ad" stroke="#161616" stroke-width="2"/>
<rect x="287.9" y="479" width="18.7" height="201.7" fill="#a2218e" stroke="#161616" stroke-width="2"/>
<line x1="271.2" y1="472.5" x2="271.2" y2="468" stroke="#161616" stroke-width="1.6"/>
<line x1="266.7" y1="468" x2="275.7" y2="468" stroke="#161616" stroke-width="1.6"/>
<line x1="297.2" y1="479" x2="297.2" y2="470.7" stroke="#161616" stroke-width="1.6"/>
<line x1="292.7" y1="470.7" x2="301.7" y2="470.7" stroke="#161616" stroke-width="1.6"/>
<line x1="271.2" y1="435.7" x2="297" y2="449.5" stroke="#161616" stroke-width="1.6"/>
<line x1="271.2" y1="466.1" x2="297" y2="482.9" stroke="#161616" stroke-width="1.6"/>
<line x1="271.2" y1="472.5" x2="297" y2="439.9" stroke="#161616" stroke-width="1.6"/>
<line x1="271.2" y1="477.1" x2="297" y2="496.7" stroke="#161616" stroke-width="1.6"/>
<line x1="271.2" y1="482.9" x2="297" y2="505.9" stroke="#161616" stroke-width="1.6"/>
<line x1="271.2" y1="492.1" x2="297" y2="516.2" stroke="#161616" stroke-width="1.6"/>
<line x1="271.2" y1="472.5" x2="297" y2="463.3" stroke="#161616" stroke-width="1.6"/>
<line x1="271.2" y1="466.1" x2="297" y2="496.7" stroke="#161616" stroke-width="1.6"/>
<circle cx="271.2" cy="435.7" r="3.3" fill="#fff" stroke="#161616" stroke-width="1.6"/>
<circle cx="271.2" cy="466.1" r="3.3" fill="#fff" stroke="#161616" stroke-width="1.6"/>
<circle cx="271.2" cy="472.5" r="3.3" fill="#fff" stroke="#161616" stroke-width="1.6"/>
<circle cx="271.2" cy="477.1" r="3.3" fill="#fff" stroke="#161616" stroke-width="1.6"/>
<circle cx="271.2" cy="482.9" r="3.3" fill="#fff" stroke="#161616" stroke-width="1.6"/>
<circle cx="271.2" cy="492.1" r="3.3" fill="#fff" stroke="#161616" stroke-width="1.6"/>
<circle cx="297" cy="439.9" r="3.3" fill="#fff" stroke="#161616" stroke-width="1.6"/>
<circle cx="297" cy="449.5" r="3.3" fill="#fff" stroke="#161616" stroke-width="1.6"/>
<circle cx="297" cy="463.3" r="3.3" fill="#fff" stroke="#161616" stroke-width="1.6"/>
<circle cx="297" cy="482.9" r="3.3" fill="#fff" stroke="#161616" stroke-width="1.6"/>
<circle cx="297" cy="496.7" r="3.3" fill="#fff" stroke="#161616" stroke-width="1.6"/>
<circle cx="297" cy="505.9" r="3.3" fill="#fff" stroke="#161616" stroke-width="1.6"/>
<circle cx="297" cy="516.2" r="3.3" fill="#fff" stroke="#161616" stroke-width="1.6"/>
<text x="0" y="0" font-size="31" font-weight="normal" fill="#161616" transform="translate(202.89 657.29) rotate(-90)" textLength="227.17" lengthAdjust="spacingAndGlyphs">Max speed (cm/s)</text>
<line x1="443.4" y1="373.8" x2="443.4" y2="681.7" stroke="#161616" stroke-width="2"/>
<line x1="437.7" y1="680.7" x2="512.9" y2="680.7" stroke="#161616" stroke-width="2"/>
<line x1="436.9" y1="374.8" x2="443.4" y2="374.8" stroke="#161616" stroke-width="2"/>
<text x="390.37" y="383.8" font-size="29.5" font-weight="normal" font-style="normal" fill="#1a1a1a">0.7</text>
<line x1="436.9" y1="527.7" x2="443.4" y2="527.7" stroke="#161616" stroke-width="2"/>
<text x="373.55" y="536.7" font-size="29.5" font-weight="normal" font-style="normal" fill="#1a1a1a">0.35</text>
<line x1="436.9" y1="680.7" x2="443.4" y2="680.7" stroke="#161616" stroke-width="2"/>
<text x="414.56" y="689.7" font-size="29.5" font-weight="normal" font-style="normal" fill="#1a1a1a">0</text>
<rect x="454" y="436.2" width="18.8" height="244.5" fill="#47a7ad" stroke="#161616" stroke-width="2"/>
<rect x="480.5" y="445.4" width="18.7" height="235.3" fill="#a2218e" stroke="#161616" stroke-width="2"/>
<line x1="463.4" y1="436.2" x2="463.4" y2="424.2" stroke="#161616" stroke-width="1.6"/>
<line x1="458.9" y1="424.2" x2="467.9" y2="424.2" stroke="#161616" stroke-width="1.6"/>
<line x1="489.9" y1="445.4" x2="489.9" y2="458.7" stroke="#161616" stroke-width="1.6"/>
<line x1="485.4" y1="458.7" x2="494.4" y2="458.7" stroke="#161616" stroke-width="1.6"/>
<line x1="463.4" y1="375.9" x2="490.3" y2="401.2" stroke="#161616" stroke-width="1.6"/>
<line x1="463.4" y1="412.7" x2="490.3" y2="482.9" stroke="#161616" stroke-width="1.6"/>
<line x1="463.4" y1="435.7" x2="490.3" y2="438" stroke="#161616" stroke-width="1.6"/>
<line x1="463.4" y1="440.3" x2="490.3" y2="418.5" stroke="#161616" stroke-width="1.6"/>
<line x1="463.4" y1="449.5" x2="490.3" y2="432.3" stroke="#161616" stroke-width="1.6"/>
<line x1="463.4" y1="456.4" x2="490.3" y2="453" stroke="#161616" stroke-width="1.6"/>
<line x1="463.4" y1="488.2" x2="490.3" y2="495.5" stroke="#161616" stroke-width="1.6"/>
<circle cx="463.4" cy="375.9" r="3.3" fill="#fff" stroke="#161616" stroke-width="1.6"/>
<circle cx="463.4" cy="412.7" r="3.3" fill="#fff" stroke="#161616" stroke-width="1.6"/>
<circle cx="463.4" cy="435.7" r="3.3" fill="#fff" stroke="#161616" stroke-width="1.6"/>
<circle cx="463.4" cy="440.3" r="3.3" fill="#fff" stroke="#161616" stroke-width="1.6"/>
<circle cx="463.4" cy="449.5" r="3.3" fill="#fff" stroke="#161616" stroke-width="1.6"/>
<circle cx="463.4" cy="456.4" r="3.3" fill="#fff" stroke="#161616" stroke-width="1.6"/>
<circle cx="463.4" cy="488.2" r="3.3" fill="#fff" stroke="#161616" stroke-width="1.6"/>
<circle cx="490.3" cy="401.2" r="3.3" fill="#fff" stroke="#161616" stroke-width="1.6"/>
<circle cx="490.3" cy="418.5" r="3.3" fill="#fff" stroke="#161616" stroke-width="1.6"/>
<circle cx="490.3" cy="432.3" r="3.3" fill="#fff" stroke="#161616" stroke-width="1.6"/>
<circle cx="490.3" cy="438" r="3.3" fill="#fff" stroke="#161616" stroke-width="1.6"/>
<circle cx="490.3" cy="453" r="3.3" fill="#fff" stroke="#161616" stroke-width="1.6"/>
<circle cx="490.3" cy="482.9" r="3.3" fill="#fff" stroke="#161616" stroke-width="1.6"/>
<circle cx="490.3" cy="495.5" r="3.3" fill="#fff" stroke="#161616" stroke-width="1.6"/>
<text x="0" y="0" font-size="31" font-weight="normal" fill="#161616" transform="translate(363.99 633.3) rotate(-90)" textLength="193.7" lengthAdjust="spacingAndGlyphs">Length bout (s)</text>
<text x="587.88" y="326.47" font-size="33" font-weight="bold" font-style="normal" fill="#161616">c</text>
<line x1="677" y1="344" x2="677" y2="693.7" stroke="#161616" stroke-width="2"/>
<line x1="671" y1="692.7" x2="748.2" y2="692.7" stroke="#161616" stroke-width="2"/>
<line x1="670.5" y1="692.7" x2="677" y2="692.7" stroke="#161616" stroke-width="2"/>
<text x="644.96" y="703.7" font-size="29.5" font-weight="normal" font-style="normal" fill="#1a1a1a">0</text>
<line x1="670.5" y1="576.8" x2="677" y2="576.8" stroke="#161616" stroke-width="2"/>
<text x="628.44" y="587.8" font-size="29.5" font-weight="normal" font-style="normal" fill="#1a1a1a">60</text>
<line x1="670.5" y1="460.9" x2="677" y2="460.9" stroke="#161616" stroke-width="2"/>
<text x="612.21" y="471.9" font-size="29.5" font-weight="normal" font-style="normal" fill="#1a1a1a">120</text>
<line x1="670.5" y1="345" x2="677" y2="345" stroke="#161616" stroke-width="2"/>
<text x="612.21" y="356" font-size="29.5" font-weight="normal" font-style="normal" fill="#1a1a1a">180</text>
<rect x="686.9" y="549.5" width="20.9" height="143.2" fill="#47a7ad" stroke="#161616" stroke-width="2"/>
<rect x="713.9" y="455.4" width="21" height="237.3" fill="#a2218e" stroke="#161616" stroke-width="2"/>
<line x1="697.4" y1="549.5" x2="697.4" y2="542.3" stroke="#161616" stroke-width="1.6"/>
<line x1="692.9" y1="542.3" x2="701.9" y2="542.3" stroke="#161616" stroke-width="1.6"/>
<line x1="724.4" y1="455.4" x2="724.4" y2="429.5" stroke="#161616" stroke-width="1.6"/>
<line x1="719.9" y1="429.5" x2="728.9" y2="429.5" stroke="#161616" stroke-width="1.6"/>
<line x1="724.4" y1="455.4" x2="724.4" y2="480.7" stroke="#161616" stroke-width="1.6"/>
<line x1="719.9" y1="480.7" x2="728.9" y2="480.7" stroke="#161616" stroke-width="1.6"/>
<line x1="698.7" y1="525.4" x2="725" y2="374.5" stroke="#161616" stroke-width="1.6"/>
<line x1="698.7" y1="529" x2="725" y2="379.3" stroke="#161616" stroke-width="1.6"/>
<line x1="698.7" y1="532.6" x2="725" y2="466.2" stroke="#161616" stroke-width="1.6"/>
<line x1="698.7" y1="570" x2="725" y2="416.3" stroke="#161616" stroke-width="1.6"/>
<line x1="698.7" y1="574.4" x2="725" y2="523.7" stroke="#161616" stroke-width="1.6"/>
<line x1="698.7" y1="585.7" x2="725" y2="556.8" stroke="#161616" stroke-width="1.6"/>
<line x1="698.7" y1="570" x2="725" y2="471.1" stroke="#161616" stroke-width="1.6"/>
<circle cx="698.7" cy="525.4" r="3.3" fill="#fff" stroke="#161616" stroke-width="1.6"/>
<circle cx="698.7" cy="529" r="3.3" fill="#fff" stroke="#161616" stroke-width="1.6"/>
<circle cx="698.7" cy="532.6" r="3.3" fill="#fff" stroke="#161616" stroke-width="1.6"/>
<circle cx="698.7" cy="570" r="3.3" fill="#fff" stroke="#161616" stroke-width="1.6"/>
<circle cx="698.7" cy="574.4" r="3.3" fill="#fff" stroke="#161616" stroke-width="1.6"/>
<circle cx="698.7" cy="585.7" r="3.3" fill="#fff" stroke="#161616" stroke-width="1.6"/>
<circle cx="725" cy="374.5" r="3.3" fill="#fff" stroke="#161616" stroke-width="1.6"/>
<circle cx="725" cy="379.3" r="3.3" fill="#fff" stroke="#161616" stroke-width="1.6"/>
<circle cx="725" cy="416.3" r="3.3" fill="#fff" stroke="#161616" stroke-width="1.6"/>
<circle cx="725" cy="466.2" r="3.3" fill="#fff" stroke="#161616" stroke-width="1.6"/>
<circle cx="725" cy="471.1" r="3.3" fill="#fff" stroke="#161616" stroke-width="1.6"/>
<circle cx="725" cy="523.7" r="3.3" fill="#fff" stroke="#161616" stroke-width="1.6"/>
<circle cx="725" cy="556.8" r="3.3" fill="#fff" stroke="#161616" stroke-width="1.6"/>
<text x="698.31" y="339.88" font-size="32" font-weight="normal" font-style="normal" fill="#161616" textLength="26.82" lengthAdjust="spacingAndGlyphs">**</text>
<path d="M699 346.7 L699 335.4 L724 335.4 L724 346.7" fill="none" stroke="#161616" stroke-width="2"/>
<text x="0" y="0" font-size="31" font-weight="normal" fill="#161616" transform="translate(610.39 673.78) rotate(-90)" textLength="275.7" lengthAdjust="spacingAndGlyphs">Distance to pellet (px)</text>
<line x1="851.2" y1="343.6" x2="851.2" y2="693.9" stroke="#161616" stroke-width="2"/>
<line x1="844.3" y1="692.9" x2="978.7" y2="692.9" stroke="#161616" stroke-width="2"/>
<line x1="844.7" y1="344.6" x2="851.2" y2="344.6" stroke="#161616" stroke-width="2"/>
<line x1="844.7" y1="518.75" x2="851.2" y2="518.75" stroke="#161616" stroke-width="2"/>
<text x="798.17" y="529.75" font-size="29.5" font-weight="normal" font-style="normal" fill="#1a1a1a">0.7</text>
<line x1="844.7" y1="692.9" x2="851.2" y2="692.9" stroke="#161616" stroke-width="2"/>
<text x="822.36" y="703.9" font-size="29.5" font-weight="normal" font-style="normal" fill="#1a1a1a">0</text>
<text x="741.78" y="359" font-size="29.5" font-weight="normal" font-style="normal" fill="#161616" textLength="83.93" lengthAdjust="spacingAndGlyphs">1.4*10</text>
<text x="825.76" y="344" font-size="13.5" font-weight="normal" font-style="normal" fill="#161616" textLength="6.65" lengthAdjust="spacingAndGlyphs">4</text>
<rect x="859" y="686.5" width="20" height="6.4" fill="#47a7ad" stroke="#161616" stroke-width="2"/>
<rect x="885" y="686.5" width="21" height="6.4" fill="#a2218e" stroke="#161616" stroke-width="2"/>
<rect x="924.5" y="624.4" width="20.1" height="68.5" fill="#47a7ad" stroke="#161616" stroke-width="2"/>
<rect x="950.7" y="528.7" width="20.9" height="164.2" fill="#a2218e" stroke="#161616" stroke-width="2"/>
<line x1="961.1" y1="528.7" x2="961.1" y2="495.6" stroke="#161616" stroke-width="1.6"/>
<line x1="956.6" y1="495.6" x2="965.6" y2="495.6" stroke="#161616" stroke-width="1.6"/>
<line x1="869.7" y1="682" x2="895.9" y2="682" stroke="#161616" stroke-width="1.6"/>
<line x1="869.7" y1="685" x2="895.9" y2="685" stroke="#161616" stroke-width="1.6"/>
<line x1="869.7" y1="688" x2="895.9" y2="688" stroke="#161616" stroke-width="1.6"/>
<line x1="869.7" y1="690" x2="895.9" y2="690" stroke="#161616" stroke-width="1.6"/>
<line x1="869.7" y1="682" x2="895.9" y2="688" stroke="#161616" stroke-width="1.6"/>
<line x1="869.7" y1="685" x2="895.9" y2="690" stroke="#161616" stroke-width="1.6"/>
<circle cx="869.7" cy="682" r="3" fill="#fff" stroke="#161616" stroke-width="1.6"/>
<circle cx="869.7" cy="685" r="3" fill="#fff" stroke="#161616" stroke-width="1.6"/>
<circle cx="869.7" cy="688" r="3" fill="#fff" stroke="#161616" stroke-width="1.6"/>
<circle cx="869.7" cy="690" r="3" fill="#fff" stroke="#161616" stroke-width="1.6"/>
<circle cx="895.9" cy="682" r="3" fill="#fff" stroke="#161616" stroke-width="1.6"/>
<circle cx="895.9" cy="685" r="3" fill="#fff" stroke="#161616" stroke-width="1.6"/>
<circle cx="895.9" cy="688" r="3" fill="#fff" stroke="#161616" stroke-width="1.6"/>
<circle cx="895.9" cy="690" r="3" fill="#fff" stroke="#161616" stroke-width="1.6"/>
<line x1="935.1" y1="550.8" x2="961.6" y2="359.5" stroke="#161616" stroke-width="1.6"/>
<line x1="935.1" y1="611.5" x2="961.6" y2="459.7" stroke="#161616" stroke-width="1.6"/>
<line x1="935.1" y1="619.7" x2="961.6" y2="556.3" stroke="#161616" stroke-width="1.6"/>
<line x1="935.1" y1="636.3" x2="961.6" y2="561.8" stroke="#161616" stroke-width="1.6"/>
<line x1="935.1" y1="646" x2="961.6" y2="588" stroke="#161616" stroke-width="1.6"/>
<line x1="935.1" y1="661.1" x2="961.6" y2="588" stroke="#161616" stroke-width="1.6"/>
<line x1="935.1" y1="636.3" x2="961.6" y2="556.3" stroke="#161616" stroke-width="1.6"/>
<circle cx="935.1" cy="550.8" r="3.3" fill="#fff" stroke="#161616" stroke-width="1.6"/>
<circle cx="935.1" cy="611.5" r="3.3" fill="#fff" stroke="#161616" stroke-width="1.6"/>
<circle cx="935.1" cy="619.7" r="3.3" fill="#fff" stroke="#161616" stroke-width="1.6"/>
<circle cx="935.1" cy="636.3" r="3.3" fill="#fff" stroke="#161616" stroke-width="1.6"/>
<circle cx="935.1" cy="646" r="3.3" fill="#fff" stroke="#161616" stroke-width="1.6"/>
<circle cx="935.1" cy="661.1" r="3.3" fill="#fff" stroke="#161616" stroke-width="1.6"/>
<circle cx="961.6" cy="359.5" r="3.3" fill="#fff" stroke="#161616" stroke-width="1.6"/>
<circle cx="961.6" cy="459.7" r="3.3" fill="#fff" stroke="#161616" stroke-width="1.6"/>
<circle cx="961.6" cy="556.3" r="3.3" fill="#fff" stroke="#161616" stroke-width="1.6"/>
<circle cx="961.6" cy="561.8" r="3.3" fill="#fff" stroke="#161616" stroke-width="1.6"/>
<circle cx="961.6" cy="588" r="3.3" fill="#fff" stroke="#161616" stroke-width="1.6"/>
<text x="933.79" y="340.08" font-size="32" font-weight="normal" font-style="normal" fill="#161616" textLength="27.56" lengthAdjust="spacingAndGlyphs">**</text>
<path d="M935 347.4 L935 334.7 L962 334.7 L962 347.4" fill="none" stroke="#161616" stroke-width="2"/>
<text x="0" y="0" font-size="31" font-weight="normal" fill="#161616" transform="translate(786.39 639.29) rotate(-90)" textLength="213.22" lengthAdjust="spacingAndGlyphs">Variability (px^2)</text>
<text x="-2.22" y="0" font-size="28" fill="#1a1a1a" transform="translate(863 769.3) rotate(-45)" textLength="69.54" lengthAdjust="spacingAndGlyphs">Pellet</text>
<text x="-2.25" y="0" font-size="28" fill="#1a1a1a" transform="translate(933.2 767.9) rotate(-45)" textLength="67.13" lengthAdjust="spacingAndGlyphs">Hand</text>
<line x1="1071" y1="341.6" x2="1071" y2="694" stroke="#161616" stroke-width="2"/>
<line x1="1064.5" y1="693" x2="1141" y2="693" stroke="#161616" stroke-width="2"/>
<line x1="1064.5" y1="693" x2="1071" y2="693" stroke="#161616" stroke-width="2"/>
<text x="1042.16" y="704" font-size="29.5" font-weight="normal" font-style="normal" fill="#1a1a1a">0</text>
<line x1="1064.5" y1="576.2" x2="1071" y2="576.2" stroke="#161616" stroke-width="2"/>
<text x="1025.64" y="587.2" font-size="29.5" font-weight="normal" font-style="normal" fill="#1a1a1a">30</text>
<line x1="1064.5" y1="459.4" x2="1071" y2="459.4" stroke="#161616" stroke-width="2"/>
<text x="1025.64" y="470.4" font-size="29.5" font-weight="normal" font-style="normal" fill="#1a1a1a">60</text>
<line x1="1064.5" y1="342.6" x2="1071" y2="342.6" stroke="#161616" stroke-width="2"/>
<text x="1025.64" y="353.6" font-size="29.5" font-weight="normal" font-style="normal" fill="#1a1a1a">90</text>
<rect x="1081" y="538.5" width="19.9" height="154.5" fill="#47a7ad" stroke="#161616" stroke-width="2"/>
<rect x="1107.7" y="473.4" width="20.4" height="219.6" fill="#a2218e" stroke="#161616" stroke-width="2"/>
<line x1="1091" y1="538.5" x2="1091" y2="533" stroke="#161616" stroke-width="1.6"/>
<line x1="1086.5" y1="533" x2="1095.5" y2="533" stroke="#161616" stroke-width="1.6"/>
<line x1="1117.9" y1="473.4" x2="1117.9" y2="454.1" stroke="#161616" stroke-width="1.6"/>
<line x1="1113.4" y1="454.1" x2="1122.4" y2="454.1" stroke="#161616" stroke-width="1.6"/>
<line x1="1091" y1="483" x2="1118" y2="372" stroke="#161616" stroke-width="1.6"/>
<line x1="1091" y1="533.7" x2="1118" y2="473.4" stroke="#161616" stroke-width="1.6"/>
<line x1="1091" y1="538.5" x2="1118" y2="485" stroke="#161616" stroke-width="1.6"/>
<line x1="1091" y1="542.2" x2="1118" y2="440.1" stroke="#161616" stroke-width="1.6"/>
<line x1="1091" y1="545.8" x2="1118" y2="525.3" stroke="#161616" stroke-width="1.6"/>
<line x1="1091" y1="567.5" x2="1118" y2="491.5" stroke="#161616" stroke-width="1.6"/>
<line x1="1091" y1="538.5" x2="1118" y2="531.3" stroke="#161616" stroke-width="1.6"/>
<circle cx="1091" cy="483" r="3.3" fill="#fff" stroke="#161616" stroke-width="1.6"/>
<circle cx="1091" cy="533.7" r="3.3" fill="#fff" stroke="#161616" stroke-width="1.6"/>
<circle cx="1091" cy="538.5" r="3.3" fill="#fff" stroke="#161616" stroke-width="1.6"/>
<circle cx="1091" cy="542.2" r="3.3" fill="#fff" stroke="#161616" stroke-width="1.6"/>
<circle cx="1091" cy="545.8" r="3.3" fill="#fff" stroke="#161616" stroke-width="1.6"/>
<circle cx="1091" cy="567.5" r="3.3" fill="#fff" stroke="#161616" stroke-width="1.6"/>
<circle cx="1118" cy="372" r="3.3" fill="#fff" stroke="#161616" stroke-width="1.6"/>
<circle cx="1118" cy="440.1" r="3.3" fill="#fff" stroke="#161616" stroke-width="1.6"/>
<circle cx="1118" cy="473.4" r="3.3" fill="#fff" stroke="#161616" stroke-width="1.6"/>
<circle cx="1118" cy="485" r="3.3" fill="#fff" stroke="#161616" stroke-width="1.6"/>
<circle cx="1118" cy="491.5" r="3.3" fill="#fff" stroke="#161616" stroke-width="1.6"/>
<circle cx="1118" cy="525.3" r="3.3" fill="#fff" stroke="#161616" stroke-width="1.6"/>
<circle cx="1118" cy="531.3" r="3.3" fill="#fff" stroke="#161616" stroke-width="1.6"/>
<text x="1090.8" y="340.08" font-size="32" font-weight="normal" font-style="normal" fill="#161616" textLength="27.35" lengthAdjust="spacingAndGlyphs">**</text>
<path d="M1092 347.4 L1092 335.8 L1117.5 335.8 L1117.5 347.4" fill="none" stroke="#161616" stroke-width="2"/>
<text x="0" y="0" font-size="31" font-weight="normal" fill="#161616" transform="translate(1019.89 673.26) rotate(-90)" textLength="276.39" lengthAdjust="spacingAndGlyphs">Distance to mean (px)</text>
<text x="-1.32" y="765" font-size="33" font-weight="bold" font-style="normal" fill="#161616">d</text>
<text x="166.05" y="777.2" font-size="28" font-weight="normal" font-style="normal" fill="#161616" textLength="162.76" lengthAdjust="spacingAndGlyphs">Side camera</text>
<ellipse cx="227" cy="976" rx="56" ry="77.6" fill="#dcbfdb" stroke="#161616" stroke-width="2"/>
<circle cx="167.4" cy="784.9" r="2" fill="#b0408e" stroke="none" stroke-width="0"/>
<circle cx="204.3" cy="790.9" r="2" fill="#b0408e" stroke="none" stroke-width="0"/>
<circle cx="222.8" cy="808.8" r="2" fill="#b0408e" stroke="none" stroke-width="0"/>
<circle cx="247" cy="808.8" r="2" fill="#b0408e" stroke="none" stroke-width="0"/>
<circle cx="219.3" cy="847" r="2" fill="#b0408e" stroke="none" stroke-width="0"/>
<circle cx="256.2" cy="857.1" r="2" fill="#b0408e" stroke="none" stroke-width="0"/>
<circle cx="287.9" cy="857.1" r="2" fill="#b0408e" stroke="none" stroke-width="0"/>
<circle cx="298.9" cy="852.9" r="2" fill="#b0408e" stroke="none" stroke-width="0"/>
<circle cx="222.8" cy="877.7" r="2" fill="#b0408e" stroke="none" stroke-width="0"/>
<circle cx="324.8" cy="882.1" r="2" fill="#b0408e" stroke="none" stroke-width="0"/>
<circle cx="343.3" cy="891.1" r="2" fill="#b0408e" stroke="none" stroke-width="0"/>
<circle cx="265.5" cy="898.5" r="2" fill="#b0408e" stroke="none" stroke-width="0"/>
<circle cx="253.3" cy="906.6" r="2" fill="#b0408e" stroke="none" stroke-width="0"/>
<circle cx="258.3" cy="908.7" r="2" fill="#b0408e" stroke="none" stroke-width="0"/>
<circle cx="213.3" cy="920.9" r="2" fill="#b0408e" stroke="none" stroke-width="0"/>
<circle cx="319.2" cy="926" r="2" fill="#b0408e" stroke="none" stroke-width="0"/>
<circle cx="375.2" cy="933.4" r="2" fill="#b0408e" stroke="none" stroke-width="0"/>
<circle cx="195.1" cy="946.9" r="2" fill="#b0408e" stroke="none" stroke-width="0"/>
<circle cx="217.2" cy="943.9" r="2" fill="#b0408e" stroke="none" stroke-width="0"/>
<circle cx="211.8" cy="951.3" r="2" fill="#b0408e" stroke="none" stroke-width="0"/>
<circle cx="264.6" cy="946.9" r="2" fill="#b0408e" stroke="none" stroke-width="0"/>
<circle cx="231.5" cy="961.8" r="2" fill="#b0408e" stroke="none" stroke-width="0"/>
<circle cx="266.7" cy="966" r="2" fill="#b0408e" stroke="none" stroke-width="0"/>
<circle cx="281.6" cy="963" r="2" fill="#b0408e" stroke="none" stroke-width="0"/>
<circle cx="162" cy="974.9" r="2" fill="#b0408e" stroke="none" stroke-width="0"/>
<circle cx="289.3" cy="974.9" r="2" fill="#b0408e" stroke="none" stroke-width="0"/>
<circle cx="263.1" cy="979.4" r="2" fill="#b0408e" stroke="none" stroke-width="0"/>
<circle cx="202.3" cy="994" r="2" fill="#b0408e" stroke="none" stroke-width="0"/>
<circle cx="231.5" cy="988" r="2" fill="#b0408e" stroke="none" stroke-width="0"/>
<circle cx="248.5" cy="988" r="2" fill="#b0408e" stroke="none" stroke-width="0"/>
<circle cx="289.3" cy="992.5" r="2" fill="#b0408e" stroke="none" stroke-width="0"/>
<circle cx="291.4" cy="998.2" r="2" fill="#b0408e" stroke="none" stroke-width="0"/>
<circle cx="202" cy="994" r="2" fill="#b0408e" stroke="none" stroke-width="0"/>
<circle cx="222.1" cy="1001.6" r="2" fill="#b0408e" stroke="none" stroke-width="0"/>
<circle cx="231.5" cy="988.1" r="2" fill="#b0408e" stroke="none" stroke-width="0"/>
<circle cx="100.5" cy="1029" r="2" fill="#b0408e" stroke="none" stroke-width="0"/>
<circle cx="100.5" cy="1032.8" r="2" fill="#b0408e" stroke="none" stroke-width="0"/>
<circle cx="115.3" cy="1027.9" r="2" fill="#b0408e" stroke="none" stroke-width="0"/>
<circle cx="122.6" cy="1035.3" r="2" fill="#b0408e" stroke="none" stroke-width="0"/>
<circle cx="143" cy="1044.4" r="2" fill="#b0408e" stroke="none" stroke-width="0"/>
<circle cx="159.5" cy="1007" r="2" fill="#b0408e" stroke="none" stroke-width="0"/>
<circle cx="161.4" cy="1027.9" r="2" fill="#b0408e" stroke="none" stroke-width="0"/>
<circle cx="176.7" cy="1018.8" r="2" fill="#b0408e" stroke="none" stroke-width="0"/>
<circle cx="241.8" cy="1025" r="2" fill="#b0408e" stroke="none" stroke-width="0"/>
<circle cx="244.7" cy="1025" r="2" fill="#b0408e" stroke="none" stroke-width="0"/>
<circle cx="280.3" cy="1011.4" r="2" fill="#b0408e" stroke="none" stroke-width="0"/>
<circle cx="289.7" cy="992.3" r="2" fill="#b0408e" stroke="none" stroke-width="0"/>
<circle cx="180" cy="1050" r="2" fill="#b0408e" stroke="none" stroke-width="0"/>
<circle cx="210" cy="1060" r="2" fill="#b0408e" stroke="none" stroke-width="0"/>
<circle cx="230" cy="1058" r="2" fill="#b0408e" stroke="none" stroke-width="0"/>
<circle cx="262" cy="1040" r="2" fill="#b0408e" stroke="none" stroke-width="0"/>
<line x1="275" y1="1101.6" x2="201" y2="1065" stroke="#3fa1ab" stroke-width="2.3"/>
<line x1="275" y1="1101.6" x2="212" y2="1062" stroke="#3fa1ab" stroke-width="2.3"/>
<line x1="275" y1="1101.6" x2="222" y2="1060" stroke="#3fa1ab" stroke-width="2.3"/>
<line x1="275" y1="1101.6" x2="228" y2="1064" stroke="#3fa1ab" stroke-width="2.3"/>
<line x1="275" y1="1101.6" x2="233" y2="1058" stroke="#3fa1ab" stroke-width="2.3"/>
<line x1="275" y1="1101.6" x2="237" y2="1062" stroke="#3fa1ab" stroke-width="2.3"/>
<line x1="275" y1="1101.6" x2="241" y2="1060" stroke="#3fa1ab" stroke-width="2.3"/>
<line x1="275" y1="1101.6" x2="245" y2="1064" stroke="#3fa1ab" stroke-width="2.3"/>
<line x1="275" y1="1101.6" x2="248" y2="1056" stroke="#3fa1ab" stroke-width="2.3"/>
<line x1="275" y1="1101.6" x2="251" y2="1062" stroke="#3fa1ab" stroke-width="2.3"/>
<line x1="275" y1="1101.6" x2="254" y2="1058" stroke="#3fa1ab" stroke-width="2.3"/>
<line x1="275" y1="1101.6" x2="257" y2="1065" stroke="#3fa1ab" stroke-width="2.3"/>
<line x1="275" y1="1101.6" x2="260" y2="1060" stroke="#3fa1ab" stroke-width="2.3"/>
<line x1="275" y1="1101.6" x2="263" y2="1056" stroke="#3fa1ab" stroke-width="2.3"/>
<line x1="275" y1="1101.6" x2="266" y2="1062" stroke="#3fa1ab" stroke-width="2.3"/>
<line x1="275" y1="1101.6" x2="269" y2="1058" stroke="#3fa1ab" stroke-width="2.3"/>
<line x1="275" y1="1101.6" x2="272" y2="1064" stroke="#3fa1ab" stroke-width="2.3"/>
<line x1="275" y1="1101.6" x2="275" y2="1057" stroke="#3fa1ab" stroke-width="2.3"/>
<line x1="275" y1="1101.6" x2="278" y2="1061" stroke="#3fa1ab" stroke-width="2.3"/>
<line x1="275" y1="1101.6" x2="281" y2="1055" stroke="#3fa1ab" stroke-width="2.3"/>
<line x1="275" y1="1101.6" x2="284" y2="1060" stroke="#3fa1ab" stroke-width="2.3"/>
<line x1="275" y1="1101.6" x2="287" y2="1056" stroke="#3fa1ab" stroke-width="2.3"/>
<line x1="275" y1="1101.6" x2="290" y2="1062" stroke="#3fa1ab" stroke-width="2.3"/>
<line x1="275" y1="1101.6" x2="293" y2="1054" stroke="#3fa1ab" stroke-width="2.3"/>
<line x1="275" y1="1101.6" x2="296" y2="1059" stroke="#3fa1ab" stroke-width="2.3"/>
<line x1="275" y1="1101.6" x2="299" y2="1052" stroke="#3fa1ab" stroke-width="2.3"/>
<line x1="275" y1="1101.6" x2="302" y2="1058" stroke="#3fa1ab" stroke-width="2.3"/>
<line x1="275" y1="1101.6" x2="306.4" y2="1056" stroke="#3fa1ab" stroke-width="2.3"/>
<line x1="275" y1="1101.6" x2="310" y2="1050" stroke="#3fa1ab" stroke-width="2.3"/>
<line x1="275" y1="1101.6" x2="313" y2="1066" stroke="#3fa1ab" stroke-width="2.3"/>
<line x1="275" y1="1101.6" x2="318" y2="1060" stroke="#3fa1ab" stroke-width="2.3"/>
<line x1="275" y1="1101.6" x2="325.3" y2="1049.8" stroke="#3fa1ab" stroke-width="2.3"/>
<line x1="275" y1="1101.6" x2="292" y2="1050" stroke="#a0609a" stroke-width="2"/>
<line x1="275" y1="1101.6" x2="300" y2="1062" stroke="#a0609a" stroke-width="2"/>
<line x1="275" y1="1101.6" x2="305" y2="1046" stroke="#a0609a" stroke-width="2"/>
<line x1="275" y1="1101.6" x2="324.8" y2="1004.1" stroke="#b04a95" stroke-width="1.4"/>
<circle cx="324.8" cy="1004.1" r="2" fill="#b0408e" stroke="none" stroke-width="0"/>
<ellipse cx="217.8" cy="1046" rx="62.5" ry="18.2" fill="#a9d3db" fill-opacity="0.6" stroke="#161616" stroke-width="2"/>
<circle cx="284" cy="1036" r="21" fill="#b04a9a" fill-opacity="0.85" stroke="#161616" stroke-width="2"/>
<ellipse cx="260.7" cy="1050.5" rx="32.3" ry="10" fill="#4eaab2" fill-opacity="0.82" stroke="#161616" stroke-width="2"/>
<circle cx="65.4" cy="1013.2" r="2" fill="#3fa1ab" stroke="none" stroke-width="0"/>
<circle cx="119" cy="1033.5" r="2" fill="#3fa1ab" stroke="none" stroke-width="0"/>
<circle cx="126.3" cy="1033.5" r="2" fill="#3fa1ab" stroke="none" stroke-width="0"/>
<circle cx="102.2" cy="1058.6" r="2" fill="#3fa1ab" stroke="none" stroke-width="0"/>
<circle cx="120.9" cy="1055.7" r="2" fill="#3fa1ab" stroke="none" stroke-width="0"/>
<circle cx="150.9" cy="1059.8" r="2" fill="#3fa1ab" stroke="none" stroke-width="0"/>
<circle cx="154" cy="1039.4" r="2" fill="#3fa1ab" stroke="none" stroke-width="0"/>
<circle cx="176.7" cy="1025" r="2" fill="#3fa1ab" stroke="none" stroke-width="0"/>
<circle cx="182" cy="1011.4" r="2" fill="#3fa1ab" stroke="none" stroke-width="0"/>
<circle cx="252.8" cy="995.5" r="2" fill="#3fa1ab" stroke="none" stroke-width="0"/>
<circle cx="233.9" cy="1017.6" r="2" fill="#3fa1ab" stroke="none" stroke-width="0"/>
<circle cx="258.5" cy="1026.2" r="2" fill="#3fa1ab" stroke="none" stroke-width="0"/>
<circle cx="265.8" cy="1022.3" r="2" fill="#3fa1ab" stroke="none" stroke-width="0"/>
<circle cx="311.8" cy="999.7" r="2" fill="#3fa1ab" stroke="none" stroke-width="0"/>
<circle cx="313" cy="1066" r="2" fill="#3fa1ab" stroke="none" stroke-width="0"/>
<circle cx="306.4" cy="1056" r="2" fill="#3fa1ab" stroke="none" stroke-width="0"/>
<circle cx="176.7" cy="1064.7" r="2" fill="#3fa1ab" stroke="none" stroke-width="0"/>
<circle cx="160" cy="1058" r="2" fill="#3fa1ab" stroke="none" stroke-width="0"/>
<circle cx="170" cy="1052" r="2" fill="#3fa1ab" stroke="none" stroke-width="0"/>
<circle cx="195" cy="1048" r="2" fill="#3fa1ab" stroke="none" stroke-width="0"/>
<circle cx="205" cy="1054" r="2" fill="#3fa1ab" stroke="none" stroke-width="0"/>
<circle cx="215" cy="1045" r="2" fill="#3fa1ab" stroke="none" stroke-width="0"/>
<circle cx="240" cy="1040" r="2" fill="#3fa1ab" stroke="none" stroke-width="0"/>
<circle cx="250" cy="1048" r="2" fill="#3fa1ab" stroke="none" stroke-width="0"/>
<circle cx="275" cy="1038" r="2" fill="#3fa1ab" stroke="none" stroke-width="0"/>
<circle cx="295" cy="1050" r="2" fill="#3fa1ab" stroke="none" stroke-width="0"/>
<circle cx="300" cy="1045" r="2" fill="#3fa1ab" stroke="none" stroke-width="0"/>
<circle cx="188" cy="1040" r="2" fill="#3fa1ab" stroke="none" stroke-width="0"/>
<circle cx="201" cy="1065" r="1.8" fill="#3fa1ab" stroke="none" stroke-width="0"/>
<circle cx="212" cy="1062" r="1.8" fill="#3fa1ab" stroke="none" stroke-width="0"/>
<circle cx="222" cy="1060" r="1.8" fill="#3fa1ab" stroke="none" stroke-width="0"/>
<circle cx="228" cy="1064" r="1.8" fill="#3fa1ab" stroke="none" stroke-width="0"/>
<circle cx="233" cy="1058" r="1.8" fill="#3fa1ab" stroke="none" stroke-width="0"/>
<circle cx="237" cy="1062" r="1.8" fill="#3fa1ab" stroke="none" stroke-width="0"/>
<circle cx="241" cy="1060" r="1.8" fill="#3fa1ab" stroke="none" stroke-width="0"/>
<circle cx="245" cy="1064" r="1.8" fill="#3fa1ab" stroke="none" stroke-width="0"/>
<circle cx="248" cy="1056" r="1.8" fill="#3fa1ab" stroke="none" stroke-width="0"/>
<circle cx="251" cy="1062" r="1.8" fill="#3fa1ab" stroke="none" stroke-width="0"/>
<circle cx="254" cy="1058" r="1.8" fill="#3fa1ab" stroke="none" stroke-width="0"/>
<circle cx="257" cy="1065" r="1.8" fill="#3fa1ab" stroke="none" stroke-width="0"/>
<circle cx="260" cy="1060" r="1.8" fill="#3fa1ab" stroke="none" stroke-width="0"/>
<circle cx="263" cy="1056" r="1.8" fill="#3fa1ab" stroke="none" stroke-width="0"/>
<circle cx="266" cy="1062" r="1.8" fill="#3fa1ab" stroke="none" stroke-width="0"/>
<circle cx="269" cy="1058" r="1.8" fill="#3fa1ab" stroke="none" stroke-width="0"/>
<circle cx="272" cy="1064" r="1.8" fill="#3fa1ab" stroke="none" stroke-width="0"/>
<circle cx="275" cy="1057" r="1.8" fill="#3fa1ab" stroke="none" stroke-width="0"/>
<circle cx="278" cy="1061" r="1.8" fill="#3fa1ab" stroke="none" stroke-width="0"/>
<circle cx="281" cy="1055" r="1.8" fill="#3fa1ab" stroke="none" stroke-width="0"/>
<circle cx="284" cy="1060" r="1.8" fill="#3fa1ab" stroke="none" stroke-width="0"/>
<circle cx="287" cy="1056" r="1.8" fill="#3fa1ab" stroke="none" stroke-width="0"/>
<circle cx="290" cy="1062" r="1.8" fill="#3fa1ab" stroke="none" stroke-width="0"/>
<circle cx="293" cy="1054" r="1.8" fill="#3fa1ab" stroke="none" stroke-width="0"/>
<circle cx="296" cy="1059" r="1.8" fill="#3fa1ab" stroke="none" stroke-width="0"/>
<circle cx="299" cy="1052" r="1.8" fill="#3fa1ab" stroke="none" stroke-width="0"/>
<circle cx="302" cy="1058" r="1.8" fill="#3fa1ab" stroke="none" stroke-width="0"/>
<circle cx="306.4" cy="1056" r="1.8" fill="#3fa1ab" stroke="none" stroke-width="0"/>
<circle cx="310" cy="1050" r="1.8" fill="#3fa1ab" stroke="none" stroke-width="0"/>
<circle cx="313" cy="1066" r="1.8" fill="#3fa1ab" stroke="none" stroke-width="0"/>
<circle cx="318" cy="1060" r="1.8" fill="#3fa1ab" stroke="none" stroke-width="0"/>
<circle cx="325.3" cy="1049.8" r="1.8" fill="#3fa1ab" stroke="none" stroke-width="0"/>
<circle cx="226.3" cy="976.6" r="2.6" fill="#7a2a6a" stroke="#161616" stroke-width="1.6"/>
<circle cx="217.9" cy="1045.8" r="2.6" fill="#9fcfd6" stroke="#161616" stroke-width="1.6"/>
<circle cx="261" cy="1050.5" r="2.6" fill="#5fb0b8" stroke="#161616" stroke-width="1.6"/>
<circle cx="284" cy="1033" r="2.6" fill="#8a2c7c" stroke="#161616" stroke-width="1.6"/>
<line x1="65.8" y1="784.7" x2="65.8" y2="1116.3" stroke="#161616" stroke-width="2"/>
<line x1="64.8" y1="1116.3" x2="470.5" y2="1116.3" stroke="#161616" stroke-width="2"/>
<line x1="58.6" y1="807.2" x2="65.8" y2="807.2" stroke="#161616" stroke-width="2"/>
<line x1="58.6" y1="1101.6" x2="65.8" y2="1101.6" stroke="#161616" stroke-width="2"/>
<line x1="89.3" y1="1116.3" x2="89.3" y2="1123" stroke="#161616" stroke-width="2"/>
<line x1="275" y1="1116.3" x2="275" y2="1123" stroke="#161616" stroke-width="2"/>
<line x1="460" y1="1116.3" x2="460" y2="1123" stroke="#161616" stroke-width="2"/>
<text x="-1.9" y="817.5" font-size="30" font-weight="normal" font-style="normal" fill="#1a1a1a">200</text>
<text x="35.7" y="1112" font-size="30" font-weight="normal" font-style="normal" fill="#1a1a1a">0</text>
<text x="71.14" y="1154" font-size="29.5" font-weight="normal" font-style="normal" fill="#161616" textLength="57.96" lengthAdjust="spacingAndGlyphs">-100</text>
<text x="266.74" y="1154" font-size="29.5" font-weight="normal" font-style="normal" fill="#1a1a1a">0</text>
<text x="435.68" y="1154" font-size="29.5" font-weight="normal" font-style="normal" fill="#161616" textLength="48.43" lengthAdjust="spacingAndGlyphs">100</text>
<text x="77.99" y="1184.3" font-size="29.5" font-weight="normal" font-style="normal" fill="#161616" textLength="64.1" lengthAdjust="spacingAndGlyphs">Back</text>
<text x="192.33" y="1184.3" font-size="29.5" font-weight="normal" font-style="normal" fill="#161616" textLength="164.97" lengthAdjust="spacingAndGlyphs">Position (px)</text>
<text x="425.26" y="1184.3" font-size="29.5" font-weight="normal" font-style="normal" fill="#161616" textLength="68.25" lengthAdjust="spacingAndGlyphs">Front</text>
<text x="13.43" y="859.8" font-size="34" font-weight="normal" font-style="normal" fill="#161616" textLength="24.07" lengthAdjust="spacingAndGlyphs">D</text>
<text x="15.22" y="1075.3" font-size="33" font-weight="normal" font-style="normal" fill="#161616" textLength="18.47" lengthAdjust="spacingAndGlyphs">V</text>
<text x="0" y="0" font-size="31" font-weight="normal" fill="#161616" transform="translate(36.09 1038.05) rotate(-90)" textLength="163.43" lengthAdjust="spacingAndGlyphs">Position (px)</text>
<text x="318.48" y="985.3" font-size="23.5" font-weight="normal" font-style="normal" fill="#161616" textLength="154.15" lengthAdjust="spacingAndGlyphs">Hand position</text>
<circle cx="355.8" cy="1010.3" r="16.3" fill="#5fb0b8" stroke="none" stroke-width="0"/>
<circle cx="430.8" cy="1010.3" r="16.3" fill="#a8429a" stroke="none" stroke-width="0"/>
<circle cx="355.8" cy="1051" r="16.3" fill="#cfe6ea" stroke="none" stroke-width="0"/>
<circle cx="430.8" cy="1051" r="16.3" fill="#e6c6e2" stroke="none" stroke-width="0"/>
<line x1="347.8" y1="1010.3" x2="363.8" y2="1010.3" stroke="#161616" stroke-width="2.6"/>
<line x1="355.8" y1="1002.3" x2="355.8" y2="1018.3" stroke="#161616" stroke-width="2.6"/>
<line x1="351.3" y1="1051" x2="360.3" y2="1051" stroke="#161616" stroke-width="2.6"/>
<line x1="422.8" y1="1010.3" x2="438.8" y2="1010.3" stroke="#161616" stroke-width="2.6"/>
<line x1="430.8" y1="1002.3" x2="430.8" y2="1018.3" stroke="#161616" stroke-width="2.6"/>
<line x1="426.3" y1="1051" x2="435.3" y2="1051" stroke="#161616" stroke-width="2.6"/>
<text x="331.96" y="1091.8" font-size="23.5" font-weight="normal" font-style="normal" fill="#161616" textLength="50.94" lengthAdjust="spacingAndGlyphs">PBS</text>
<text x="405.33" y="1091.8" font-size="23.5" font-weight="normal" font-style="normal" fill="#161616" textLength="56.5" lengthAdjust="spacingAndGlyphs">CNO</text>
<text x="578.72" y="765.3" font-size="34.5" font-weight="bold" font-style="normal" fill="#161616">e</text>
<line x1="684.5" y1="809.8" x2="684.5" y2="1118" stroke="#161616" stroke-width="2"/>
<line x1="680.3" y1="1117" x2="743.6" y2="1117" stroke="#161616" stroke-width="2"/>
<line x1="678" y1="1117" x2="684.5" y2="1117" stroke="#161616" stroke-width="2"/>
<text x="654.66" y="1128" font-size="29.5" font-weight="normal" font-style="normal" fill="#1a1a1a">0</text>
<line x1="678" y1="1014.93" x2="684.5" y2="1014.93" stroke="#161616" stroke-width="2"/>
<text x="638.14" y="1025.93" font-size="29.5" font-weight="normal" font-style="normal" fill="#1a1a1a">60</text>
<line x1="678" y1="912.87" x2="684.5" y2="912.87" stroke="#161616" stroke-width="2"/>
<text x="621.91" y="923.87" font-size="29.5" font-weight="normal" font-style="normal" fill="#1a1a1a">120</text>
<line x1="678" y1="810.8" x2="684.5" y2="810.8" stroke="#161616" stroke-width="2"/>
<text x="621.91" y="821.8" font-size="29.5" font-weight="normal" font-style="normal" fill="#1a1a1a">180</text>
<rect x="691.7" y="1024.6" width="18" height="92.4" fill="#47a7ad" stroke="#161616" stroke-width="2"/>
<rect x="716.3" y="985.5" width="17.5" height="131.5" fill="#a2218e" stroke="#161616" stroke-width="2"/>
<line x1="700.7" y1="1024.6" x2="700.7" y2="1018" stroke="#161616" stroke-width="1.6"/>
<line x1="696.2" y1="1018" x2="705.2" y2="1018" stroke="#161616" stroke-width="1.6"/>
<line x1="725.1" y1="985.5" x2="725.1" y2="975" stroke="#161616" stroke-width="1.6"/>
<line x1="720.6" y1="975" x2="729.6" y2="975" stroke="#161616" stroke-width="1.6"/>
<line x1="703.8" y1="997.5" x2="725.9" y2="976.8" stroke="#161616" stroke-width="1.6"/>
<line x1="703.8" y1="1014.7" x2="725.9" y2="944.1" stroke="#161616" stroke-width="1.6"/>
<line x1="703.8" y1="1020" x2="725.9" y2="982" stroke="#161616" stroke-width="1.6"/>
<line x1="703.8" y1="1023.9" x2="725.9" y2="973.3" stroke="#161616" stroke-width="1.6"/>
<line x1="703.8" y1="1028" x2="725.9" y2="987.1" stroke="#161616" stroke-width="1.6"/>
<line x1="703.8" y1="1032" x2="725.9" y2="1007.8" stroke="#161616" stroke-width="1.6"/>
<line x1="703.8" y1="1044.6" x2="725.9" y2="976.8" stroke="#161616" stroke-width="1.6"/>
<circle cx="703.8" cy="997.5" r="3.3" fill="#fff" stroke="#161616" stroke-width="1.6"/>
<circle cx="703.8" cy="1014.7" r="3.3" fill="#fff" stroke="#161616" stroke-width="1.6"/>
<circle cx="703.8" cy="1020" r="3.3" fill="#fff" stroke="#161616" stroke-width="1.6"/>
<circle cx="703.8" cy="1023.9" r="3.3" fill="#fff" stroke="#161616" stroke-width="1.6"/>
<circle cx="703.8" cy="1028" r="3.3" fill="#fff" stroke="#161616" stroke-width="1.6"/>
<circle cx="703.8" cy="1032" r="3.3" fill="#fff" stroke="#161616" stroke-width="1.6"/>
<circle cx="703.8" cy="1044.6" r="3.3" fill="#fff" stroke="#161616" stroke-width="1.6"/>
<circle cx="725.9" cy="944.1" r="3.3" fill="#fff" stroke="#161616" stroke-width="1.6"/>
<circle cx="725.9" cy="973.3" r="3.3" fill="#fff" stroke="#161616" stroke-width="1.6"/>
<circle cx="725.9" cy="976.8" r="3.3" fill="#fff" stroke="#161616" stroke-width="1.6"/>
<circle cx="725.9" cy="982" r="3.3" fill="#fff" stroke="#161616" stroke-width="1.6"/>
<circle cx="725.9" cy="987.1" r="3.3" fill="#fff" stroke="#161616" stroke-width="1.6"/>
<circle cx="725.9" cy="1007.8" r="3.3" fill="#fff" stroke="#161616" stroke-width="1.6"/>
<rect x="690.5" y="834.1" width="16" height="15" fill="#47a7ad" stroke="#161616" stroke-width="2"/>
<rect x="690.5" y="861.7" width="16" height="15" fill="#a2218e" stroke="#161616" stroke-width="2"/>
<text x="710.46" y="849.5" font-size="23" font-weight="normal" font-style="normal" fill="#161616" textLength="51.15" lengthAdjust="spacingAndGlyphs">PBS</text>
<text x="711.25" y="877" font-size="23" font-weight="normal" font-style="normal" fill="#161616" textLength="55.45" lengthAdjust="spacingAndGlyphs">CNO</text>
<text x="708.34" y="924.08" font-size="32" font-weight="normal" font-style="normal" fill="#161616" textLength="12.9" lengthAdjust="spacingAndGlyphs">*</text>
<path d="M702.9 928.5 L702.9 917.5 L725.9 917.5 L725.9 928.5" fill="none" stroke="#161616" stroke-width="2"/>
<text x="0" y="0" font-size="31" font-weight="normal" fill="#161616" transform="translate(611.39 1118.18) rotate(-90)" textLength="275.29" lengthAdjust="spacingAndGlyphs">Distance to pellet (px)</text>
<line x1="871.2" y1="809.9" x2="871.2" y2="1117.1" stroke="#161616" stroke-width="2"/>
<line x1="865" y1="1116.1" x2="987.4" y2="1116.1" stroke="#161616" stroke-width="2"/>
<line x1="864.7" y1="810.9" x2="871.2" y2="810.9" stroke="#161616" stroke-width="2"/>
<line x1="864.7" y1="963.5" x2="871.2" y2="963.5" stroke="#161616" stroke-width="2"/>
<text x="818.17" y="974.5" font-size="29.5" font-weight="normal" font-style="normal" fill="#1a1a1a">0.7</text>
<line x1="864.7" y1="1116.1" x2="871.2" y2="1116.1" stroke="#161616" stroke-width="2"/>
<text x="842.36" y="1127.1" font-size="29.5" font-weight="normal" font-style="normal" fill="#1a1a1a">0</text>
<text x="761.78" y="825.3" font-size="29.5" font-weight="normal" font-style="normal" fill="#161616" textLength="83.93" lengthAdjust="spacingAndGlyphs">1.4*10</text>
<text x="845.76" y="810.3" font-size="13.5" font-weight="normal" font-style="normal" fill="#161616" textLength="6.65" lengthAdjust="spacingAndGlyphs">4</text>
<rect x="878.4" y="1112.4" width="19.6" height="3.7" fill="#47a7ad" stroke="#161616" stroke-width="2"/>
<rect x="902" y="1112.4" width="18.1" height="3.7" fill="#a2218e" stroke="#161616" stroke-width="2"/>
<rect x="934" y="1084.5" width="17.8" height="31.6" fill="#47a7ad" stroke="#161616" stroke-width="2"/>
<rect x="958.2" y="1034.1" width="17.8" height="82" fill="#a2218e" stroke="#161616" stroke-width="2"/>
<line x1="967.1" y1="1034.1" x2="967.1" y2="1017.8" stroke="#161616" stroke-width="1.6"/>
<line x1="962.6" y1="1017.8" x2="971.6" y2="1017.8" stroke="#161616" stroke-width="1.6"/>
<line x1="887.3" y1="1110" x2="911.3" y2="1111" stroke="#161616" stroke-width="1.6"/>
<line x1="887.3" y1="1113" x2="911.3" y2="1114" stroke="#161616" stroke-width="1.6"/>
<circle cx="887.3" cy="1110" r="3" fill="#fff" stroke="#161616" stroke-width="1.6"/>
<circle cx="887.3" cy="1113" r="3" fill="#fff" stroke="#161616" stroke-width="1.6"/>
<circle cx="911.3" cy="1111" r="3" fill="#fff" stroke="#161616" stroke-width="1.6"/>
<circle cx="911.3" cy="1114" r="3" fill="#fff" stroke="#161616" stroke-width="1.6"/>
<line x1="942.4" y1="1063" x2="967.1" y2="951" stroke="#161616" stroke-width="1.6"/>
<line x1="942.4" y1="1078" x2="967.1" y2="998.7" stroke="#161616" stroke-width="1.6"/>
<line x1="942.4" y1="1084" x2="967.1" y2="1051.9" stroke="#161616" stroke-width="1.6"/>
<line x1="942.4" y1="1091.4" x2="967.1" y2="1043.2" stroke="#161616" stroke-width="1.6"/>
<line x1="942.4" y1="1101.3" x2="967.1" y2="1061.8" stroke="#161616" stroke-width="1.6"/>
<line x1="942.4" y1="1084" x2="967.1" y2="1077.8" stroke="#161616" stroke-width="1.6"/>
<circle cx="942.4" cy="1063" r="3.3" fill="#fff" stroke="#161616" stroke-width="1.6"/>
<circle cx="942.4" cy="1078" r="3.3" fill="#fff" stroke="#161616" stroke-width="1.6"/>
<circle cx="942.4" cy="1084" r="3.3" fill="#fff" stroke="#161616" stroke-width="1.6"/>
<circle cx="942.4" cy="1091.4" r="3.3" fill="#fff" stroke="#161616" stroke-width="1.6"/>
<circle cx="942.4" cy="1101.3" r="3.3" fill="#fff" stroke="#161616" stroke-width="1.6"/>
<circle cx="967.1" cy="951" r="3.3" fill="#fff" stroke="#161616" stroke-width="1.6"/>
<circle cx="967.1" cy="998.7" r="3.3" fill="#fff" stroke="#161616" stroke-width="1.6"/>
<circle cx="967.1" cy="1043.2" r="3.3" fill="#fff" stroke="#161616" stroke-width="1.6"/>
<circle cx="967.1" cy="1051.9" r="3.3" fill="#fff" stroke="#161616" stroke-width="1.6"/>
<circle cx="967.1" cy="1061.8" r="3.3" fill="#fff" stroke="#161616" stroke-width="1.6"/>
<circle cx="967.1" cy="1077.8" r="3.3" fill="#fff" stroke="#161616" stroke-width="1.6"/>
<text x="949.73" y="930.58" font-size="32" font-weight="normal" font-style="normal" fill="#161616" textLength="11.01" lengthAdjust="spacingAndGlyphs">*</text>
<path d="M943.4 937 L943.4 926.3 L966.4 926.3 L966.4 937" fill="none" stroke="#161616" stroke-width="2"/>
<text x="0" y="0" font-size="31" font-weight="normal" fill="#161616" transform="translate(806.39 1081.79) rotate(-90)" textLength="213.52" lengthAdjust="spacingAndGlyphs">Variability (px^2)</text>
<text x="-2.26" y="0" font-size="28" fill="#1a1a1a" transform="translate(860.2 1196.5) rotate(-45)" textLength="70.58" lengthAdjust="spacingAndGlyphs">Pellet</text>
<text x="-2.25" y="0" font-size="28" fill="#1a1a1a" transform="translate(918.4 1194.4) rotate(-45)" textLength="67.23" lengthAdjust="spacingAndGlyphs">Hand</text>
<line x1="1079" y1="809.6" x2="1079" y2="1117.2" stroke="#161616" stroke-width="2"/>
<line x1="1072.8" y1="1116.2" x2="1141" y2="1116.2" stroke="#161616" stroke-width="2"/>
<line x1="1072.5" y1="1116.2" x2="1079" y2="1116.2" stroke="#161616" stroke-width="2"/>
<text x="1050.16" y="1127.2" font-size="29.5" font-weight="normal" font-style="normal" fill="#1a1a1a">0</text>
<line x1="1072.5" y1="963.4" x2="1079" y2="963.4" stroke="#161616" stroke-width="2"/>
<text x="1033.64" y="974.4" font-size="29.5" font-weight="normal" font-style="normal" fill="#1a1a1a">35</text>
<line x1="1072.5" y1="810.6" x2="1079" y2="810.6" stroke="#161616" stroke-width="2"/>
<text x="1033.64" y="821.6" font-size="29.5" font-weight="normal" font-style="normal" fill="#1a1a1a">70</text>
<rect x="1086.2" y="990" width="18.3" height="126.2" fill="#47a7ad" stroke="#161616" stroke-width="2"/>
<rect x="1111" y="930" width="18.3" height="186.2" fill="#a2218e" stroke="#161616" stroke-width="2"/>
<line x1="1095.3" y1="990" x2="1095.3" y2="985" stroke="#161616" stroke-width="1.6"/>
<line x1="1090.8" y1="985" x2="1099.8" y2="985" stroke="#161616" stroke-width="1.6"/>
<line x1="1120.1" y1="930" x2="1120.1" y2="911.8" stroke="#161616" stroke-width="1.6"/>
<line x1="1115.6" y1="911.8" x2="1124.6" y2="911.8" stroke="#161616" stroke-width="1.6"/>
<line x1="1095.5" y1="953.8" x2="1119.9" y2="849.3" stroke="#161616" stroke-width="1.6"/>
<line x1="1095.5" y1="968.7" x2="1119.9" y2="887.6" stroke="#161616" stroke-width="1.6"/>
<line x1="1095.5" y1="977.6" x2="1119.9" y2="917.6" stroke="#161616" stroke-width="1.6"/>
<line x1="1095.5" y1="980.3" x2="1119.9" y2="964.2" stroke="#161616" stroke-width="1.6"/>
<line x1="1095.5" y1="1001.4" x2="1119.9" y2="945.5" stroke="#161616" stroke-width="1.6"/>
<line x1="1095.5" y1="1023.1" x2="1119.9" y2="972.8" stroke="#161616" stroke-width="1.6"/>
<line x1="1095.5" y1="1031.4" x2="1119.9" y2="976.2" stroke="#161616" stroke-width="1.6"/>
<line x1="1095.5" y1="980.3" x2="1119.9" y2="976.2" stroke="#161616" stroke-width="1.6"/>
<circle cx="1095.5" cy="953.8" r="3.3" fill="#fff" stroke="#161616" stroke-width="1.6"/>
<circle cx="1095.5" cy="968.7" r="3.3" fill="#fff" stroke="#161616" stroke-width="1.6"/>
<circle cx="1095.5" cy="977.6" r="3.3" fill="#fff" stroke="#161616" stroke-width="1.6"/>
<circle cx="1095.5" cy="980.3" r="3.3" fill="#fff" stroke="#161616" stroke-width="1.6"/>
<circle cx="1095.5" cy="1001.4" r="3.3" fill="#fff" stroke="#161616" stroke-width="1.6"/>
<circle cx="1095.5" cy="1023.1" r="3.3" fill="#fff" stroke="#161616" stroke-width="1.6"/>
<circle cx="1095.5" cy="1031.4" r="3.3" fill="#fff" stroke="#161616" stroke-width="1.6"/>
<circle cx="1119.9" cy="849.3" r="3.3" fill="#fff" stroke="#161616" stroke-width="1.6"/>
<circle cx="1119.9" cy="887.6" r="3.3" fill="#fff" stroke="#161616" stroke-width="1.6"/>
<circle cx="1119.9" cy="917.6" r="3.3" fill="#fff" stroke="#161616" stroke-width="1.6"/>
<circle cx="1119.9" cy="945.5" r="3.3" fill="#fff" stroke="#161616" stroke-width="1.6"/>
<circle cx="1119.9" cy="964.2" r="3.3" fill="#fff" stroke="#161616" stroke-width="1.6"/>
<circle cx="1119.9" cy="972.8" r="3.3" fill="#fff" stroke="#161616" stroke-width="1.6"/>
<circle cx="1119.9" cy="976.2" r="3.3" fill="#fff" stroke="#161616" stroke-width="1.6"/>
<text x="1095.93" y="839.28" font-size="32" font-weight="normal" font-style="normal" fill="#161616" textLength="26.09" lengthAdjust="spacingAndGlyphs">**</text>
<path d="M1097 840 L1097 830.3 L1121 830.3 L1121 840" fill="none" stroke="#161616" stroke-width="2"/>
<text x="0" y="0" font-size="30" font-weight="normal" fill="#161616" transform="translate(1020.8 1119.27) rotate(-90)" textLength="277" lengthAdjust="spacingAndGlyphs">Distance to mean (px)</text>
<text x="0.84" y="1249.6" font-size="33" font-weight="bold" font-style="normal" fill="#161616">f</text>
<text x="26.59" y="1269.7" font-size="25" font-weight="normal" font-style="normal" fill="#161616" textLength="115.07" lengthAdjust="spacingAndGlyphs">directional</text>
<text x="9.45" y="1298.1" font-size="25" font-weight="normal" font-style="normal" fill="#161616" textLength="148.58" lengthAdjust="spacingAndGlyphs">reaching task</text>
<text x="0" y="0" font-size="27" font-weight="normal" fill="#ef8a2e" transform="translate(19.13 1397.62) rotate(-90)" textLength="81.15" lengthAdjust="spacingAndGlyphs">Lateral</text>
<text x="0" y="0" font-size="27" font-weight="normal" fill="#4aaeb8" transform="translate(19.13 1523.57) rotate(-90)" textLength="79.95" lengthAdjust="spacingAndGlyphs">Medial</text>
<path d="M21.8 1369.1 L54.4 1329.8 L151.4 1329.8 L119.5 1369.1 Z" fill="#c4c4c7" stroke="#222" stroke-width="2.2"/>
<circle cx="113.3" cy="1342.1" r="11.7" fill="#ef8a2e" stroke="none" stroke-width="0" fill-opacity="0.9"/>
<path d="M72.8 1376.5 L88.8 1361.8 L90.6 1350.7 L88.8 1338.4 L90.6 1334.7 L93.7 1337.2 L97.4 1349.5 L101 1348.2 L106 1334.7 L110.9 1331.1 L112.1 1333.5 L108.4 1349.5 L110.9 1350.7 L118.2 1345.8 L122.5 1346.4 L121.9 1349.5 L113.3 1358.1 L120.7 1359.3 L125.6 1361.8 L124.4 1365.4 L113.3 1366.7 L106 1369.1 L83.9 1386.3 Z" fill="#717174" stroke="#3a3a3c" stroke-width="1.3" stroke-linejoin="round"/>
<circle cx="70.4" cy="1388.2" r="11.7" fill="#7a7a7d" stroke="#3a3a3c" stroke-width="1.3"/>
<path d="M21.8 1484.7 L54.4 1445.4 L151.4 1445.4 L120.1 1484.7 Z" fill="#c4c4c7" stroke="#222" stroke-width="2.2"/>
<circle cx="60.5" cy="1457.1" r="11" fill="#4aaeb8" stroke="none" stroke-width="0" fill-opacity="0.9"/>
<path d="M72.8 1498.9 L60.5 1486.6 L50.7 1480.4 L37.2 1478.6 L34.7 1476.8 L37.2 1474.9 L49.5 1473.7 L50.7 1470.6 L38.4 1459.6 L34.7 1457.1 L37.2 1455.3 L51.9 1463.2 L53.2 1461.4 L50.7 1449.7 L52.5 1447.3 L55.6 1448.5 L61.8 1459.6 L63.6 1459.6 L64.8 1448.5 L67.3 1446.7 L69.7 1449.7 L71 1469.4 L77.7 1481.7 L86.3 1495.8 Z" fill="#717174" stroke="#3a3a3c" stroke-width="1.3" stroke-linejoin="round"/>
<circle cx="83.2" cy="1507.5" r="12.3" fill="#7a7a7d" stroke="#3a3a3c" stroke-width="1.3"/>
<text x="185.51" y="1271.6" font-size="25.5" font-weight="normal" font-style="normal" fill="#161616" textLength="121.78" lengthAdjust="spacingAndGlyphs">Neuron #1</text>
<text x="407.07" y="1271" font-size="25.5" font-weight="normal" font-style="normal" fill="#161616" textLength="124.25" lengthAdjust="spacingAndGlyphs">Neuron #2</text>
<text x="619.47" y="1270.5" font-size="25.5" font-weight="normal" font-style="normal" fill="#161616" textLength="124.25" lengthAdjust="spacingAndGlyphs">Neuron #3</text>
<rect x="247.6" y="1285" width="75" height="9.9" fill="#63bf8e" stroke="none" stroke-width="0"/>
<rect x="322.6" y="1285" width="2.4" height="9.9" fill="#f7ee7c" stroke="none" stroke-width="0"/>
<rect x="247.6" y="1296.3" width="45" height="9.9" fill="#63bf8e" stroke="none" stroke-width="0"/>
<rect x="292.6" y="1296.3" width="10.4" height="9.9" fill="#f7ee7c" stroke="none" stroke-width="0"/>
<rect x="303" y="1296.3" width="22" height="9.9" fill="#c37bbb" stroke="none" stroke-width="0"/>
<rect x="247.6" y="1307.6" width="67.9" height="9.9" fill="#63bf8e" stroke="none" stroke-width="0"/>
<rect x="315.5" y="1307.6" width="8.5" height="9.9" fill="#f7ee7c" stroke="none" stroke-width="0"/>
<rect x="324" y="1307.6" width="1" height="9.9" fill="#c37bbb" stroke="none" stroke-width="0"/>
<rect x="247.6" y="1318.9" width="52.9" height="9.9" fill="#63bf8e" stroke="none" stroke-width="0"/>
<rect x="300.5" y="1318.9" width="11.9" height="9.9" fill="#f7ee7c" stroke="none" stroke-width="0"/>
<rect x="312.4" y="1318.9" width="12.6" height="9.9" fill="#c37bbb" stroke="none" stroke-width="0"/>
<rect x="247.6" y="1330.2" width="57.7" height="9.9" fill="#63bf8e" stroke="none" stroke-width="0"/>
<rect x="305.3" y="1330.2" width="12.7" height="9.9" fill="#f7ee7c" stroke="none" stroke-width="0"/>
<rect x="318" y="1330.2" width="7" height="9.9" fill="#c37bbb" stroke="none" stroke-width="0"/>
<rect x="247.6" y="1341.5" width="51.4" height="9.9" fill="#63bf8e" stroke="none" stroke-width="0"/>
<rect x="299" y="1341.5" width="10" height="9.9" fill="#f7ee7c" stroke="none" stroke-width="0"/>
<rect x="309" y="1341.5" width="16" height="9.9" fill="#c37bbb" stroke="none" stroke-width="0"/>
<rect x="247.6" y="1352.8" width="44.2" height="9.9" fill="#63bf8e" stroke="none" stroke-width="0"/>
<rect x="291.8" y="1352.8" width="7.9" height="9.9" fill="#f7ee7c" stroke="none" stroke-width="0"/>
<rect x="299.7" y="1352.8" width="25.3" height="9.9" fill="#c37bbb" stroke="none" stroke-width="0"/>
<rect x="247.6" y="1364.1" width="44.2" height="9.9" fill="#63bf8e" stroke="none" stroke-width="0"/>
<rect x="291.8" y="1364.1" width="9.5" height="9.9" fill="#f7ee7c" stroke="none" stroke-width="0"/>
<rect x="301.3" y="1364.1" width="23.7" height="9.9" fill="#c37bbb" stroke="none" stroke-width="0"/>
<rect x="247.6" y="1375.4" width="54.4" height="9.9" fill="#63bf8e" stroke="none" stroke-width="0"/>
<rect x="302" y="1375.4" width="6.4" height="9.9" fill="#f7ee7c" stroke="none" stroke-width="0"/>
<rect x="308.4" y="1375.4" width="16.6" height="9.9" fill="#c37bbb" stroke="none" stroke-width="0"/>
<rect x="247.6" y="1386.7" width="54.4" height="9.9" fill="#63bf8e" stroke="none" stroke-width="0"/>
<rect x="302" y="1386.7" width="16" height="9.9" fill="#f7ee7c" stroke="none" stroke-width="0"/>
<rect x="318" y="1386.7" width="7" height="9.9" fill="#c37bbb" stroke="none" stroke-width="0"/>
<path d="M184.9 1285.0h2.0v9.9h-2.0zM187.0 1285.0h2.0v9.9h-2.0zM189.3 1285.0h2.0v9.9h-2.0zM220.9 1285.0h2.0v9.9h-2.0zM223.1 1285.0h2.0v9.9h-2.0zM227.0 1285.0h2.0v9.9h-2.0zM235.0 1285.0h2.0v9.9h-2.0zM238.4 1285.0h2.0v9.9h-2.0zM249.4 1285.0h2.0v9.9h-2.0zM253.4 1285.0h2.0v9.9h-2.0zM257.0 1285.0h2.0v9.9h-2.0zM260.1 1285.0h2.0v9.9h-2.0zM264.0 1285.0h2.0v9.9h-2.0zM267.0 1285.0h2.0v9.9h-2.0zM269.7 1285.0h2.0v9.9h-2.0zM272.2 1285.0h2.0v9.9h-2.0zM275.8 1285.0h2.0v9.9h-2.0zM287.4 1285.0h2.0v9.9h-2.0zM289.9 1285.0h2.0v9.9h-2.0zM292.1 1285.0h2.0v9.9h-2.0zM295.9 1285.0h2.0v9.9h-2.0zM297.3 1285.0h2.0v9.9h-2.0zM300.7 1285.0h2.0v9.9h-2.0zM303.1 1285.0h2.0v9.9h-2.0zM304.8 1285.0h2.0v9.9h-2.0zM307.2 1285.0h2.0v9.9h-2.0zM309.9 1285.0h2.0v9.9h-2.0zM313.3 1285.0h2.0v9.9h-2.0zM322.2 1285.0h2.0v9.9h-2.0zM172.2 1296.3h2.0v9.9h-2.0zM175.9 1296.3h2.0v9.9h-2.0zM179.1 1296.3h2.0v9.9h-2.0zM183.8 1296.3h2.0v9.9h-2.0zM185.9 1296.3h2.0v9.9h-2.0zM187.4 1296.3h2.0v9.9h-2.0zM190.3 1296.3h2.0v9.9h-2.0zM252.6 1296.3h2.0v9.9h-2.0zM254.8 1296.3h2.0v9.9h-2.0zM258.0 1296.3h2.0v9.9h-2.0zM261.7 1296.3h2.0v9.9h-2.0zM262.0 1296.3h2.0v9.9h-2.0zM263.9 1296.3h2.0v9.9h-2.0zM266.5 1296.3h2.0v9.9h-2.0zM269.9 1296.3h2.0v9.9h-2.0zM272.9 1296.3h2.0v9.9h-2.0zM285.6 1296.3h2.0v9.9h-2.0zM288.2 1296.3h2.0v9.9h-2.0zM291.5 1296.3h2.0v9.9h-2.0zM294.9 1296.3h2.0v9.9h-2.0zM297.6 1296.3h2.0v9.9h-2.0zM301.1 1296.3h2.0v9.9h-2.0zM303.1 1296.3h2.0v9.9h-2.0zM303.6 1296.3h2.0v9.9h-2.0zM306.1 1296.3h2.0v9.9h-2.0zM309.8 1296.3h2.0v9.9h-2.0zM313.2 1296.3h2.0v9.9h-2.0zM316.6 1296.3h2.0v9.9h-2.0zM317.5 1296.3h2.0v9.9h-2.0zM318.9 1296.3h2.0v9.9h-2.0zM319.9 1296.3h2.0v9.9h-2.0zM171.6 1307.6h2.0v9.9h-2.0zM175.6 1307.6h2.0v9.9h-2.0zM177.9 1307.6h2.0v9.9h-2.0zM186.9 1307.6h2.0v9.9h-2.0zM189.0 1307.6h2.0v9.9h-2.0zM213.6 1307.6h2.0v9.9h-2.0zM216.8 1307.6h2.0v9.9h-2.0zM220.0 1307.6h2.0v9.9h-2.0zM222.5 1307.6h2.0v9.9h-2.0zM223.3 1307.6h2.0v9.9h-2.0zM226.4 1307.6h2.0v9.9h-2.0zM235.1 1307.6h2.0v9.9h-2.0zM237.8 1307.6h2.0v9.9h-2.0zM240.1 1307.6h2.0v9.9h-2.0zM241.3 1307.6h2.0v9.9h-2.0zM249.7 1307.6h2.0v9.9h-2.0zM258.7 1307.6h2.0v9.9h-2.0zM259.1 1307.6h2.0v9.9h-2.0zM261.5 1307.6h2.0v9.9h-2.0zM263.6 1307.6h2.0v9.9h-2.0zM267.3 1307.6h2.0v9.9h-2.0zM270.7 1307.6h2.0v9.9h-2.0zM280.4 1307.6h2.0v9.9h-2.0zM281.9 1307.6h2.0v9.9h-2.0zM283.7 1307.6h2.0v9.9h-2.0zM286.5 1307.6h2.0v9.9h-2.0zM289.5 1307.6h2.0v9.9h-2.0zM291.1 1307.6h2.0v9.9h-2.0zM293.5 1307.6h2.0v9.9h-2.0zM296.2 1307.6h2.0v9.9h-2.0zM299.7 1307.6h2.0v9.9h-2.0zM302.3 1307.6h2.0v9.9h-2.0zM304.7 1307.6h2.0v9.9h-2.0zM307.8 1307.6h2.0v9.9h-2.0zM311.1 1307.6h2.0v9.9h-2.0zM311.6 1307.6h2.0v9.9h-2.0zM313.8 1307.6h2.0v9.9h-2.0zM315.7 1307.6h2.0v9.9h-2.0zM317.8 1307.6h2.0v9.9h-2.0zM320.1 1307.6h2.0v9.9h-2.0zM218.8 1318.9h2.0v9.9h-2.0zM239.9 1318.9h2.0v9.9h-2.0zM242.6 1318.9h2.0v9.9h-2.0zM249.2 1318.9h2.0v9.9h-2.0zM255.0 1318.9h2.0v9.9h-2.0zM257.0 1318.9h2.0v9.9h-2.0zM260.0 1318.9h2.0v9.9h-2.0zM262.1 1318.9h2.0v9.9h-2.0zM265.2 1318.9h2.0v9.9h-2.0zM266.8 1318.9h2.0v9.9h-2.0zM272.8 1318.9h2.0v9.9h-2.0zM275.0 1318.9h2.0v9.9h-2.0zM278.7 1318.9h2.0v9.9h-2.0zM280.3 1318.9h2.0v9.9h-2.0zM283.6 1318.9h2.0v9.9h-2.0zM286.5 1318.9h2.0v9.9h-2.0zM289.4 1318.9h2.0v9.9h-2.0zM301.5 1318.9h2.0v9.9h-2.0zM304.3 1318.9h2.0v9.9h-2.0zM307.3 1318.9h2.0v9.9h-2.0zM310.3 1318.9h2.0v9.9h-2.0zM311.0 1318.9h2.0v9.9h-2.0zM314.8 1318.9h2.0v9.9h-2.0zM317.1 1318.9h2.0v9.9h-2.0zM317.3 1318.9h2.0v9.9h-2.0zM321.2 1318.9h2.0v9.9h-2.0zM208.9 1330.2h2.0v9.9h-2.0zM211.4 1330.2h2.0v9.9h-2.0zM214.8 1330.2h2.0v9.9h-2.0zM233.7 1330.2h2.0v9.9h-2.0zM237.5 1330.2h2.0v9.9h-2.0zM239.8 1330.2h2.0v9.9h-2.0zM242.6 1330.2h2.0v9.9h-2.0zM263.8 1330.2h2.0v9.9h-2.0zM266.5 1330.2h2.0v9.9h-2.0zM269.5 1330.2h2.0v9.9h-2.0zM271.7 1330.2h2.0v9.9h-2.0zM271.8 1330.2h2.0v9.9h-2.0zM274.5 1330.2h2.0v9.9h-2.0zM280.4 1330.2h2.0v9.9h-2.0zM280.5 1330.2h2.0v9.9h-2.0zM284.2 1330.2h2.0v9.9h-2.0zM288.0 1330.2h2.0v9.9h-2.0zM292.9 1330.2h2.0v9.9h-2.0zM302.9 1330.2h2.0v9.9h-2.0zM306.4 1330.2h2.0v9.9h-2.0zM309.1 1330.2h2.0v9.9h-2.0zM310.3 1330.2h2.0v9.9h-2.0zM313.6 1330.2h2.0v9.9h-2.0zM317.2 1330.2h2.0v9.9h-2.0zM321.0 1330.2h2.0v9.9h-2.0zM322.4 1330.2h2.0v9.9h-2.0zM223.3 1341.5h2.0v9.9h-2.0zM240.6 1341.5h2.0v9.9h-2.0zM243.2 1341.5h2.0v9.9h-2.0zM249.8 1341.5h2.0v9.9h-2.0zM251.8 1341.5h2.0v9.9h-2.0zM255.8 1341.5h2.0v9.9h-2.0zM256.3 1341.5h2.0v9.9h-2.0zM260.1 1341.5h2.0v9.9h-2.0zM263.8 1341.5h2.0v9.9h-2.0zM266.1 1341.5h2.0v9.9h-2.0zM269.1 1341.5h2.0v9.9h-2.0zM271.2 1341.5h2.0v9.9h-2.0zM274.0 1341.5h2.0v9.9h-2.0zM279.4 1341.5h2.0v9.9h-2.0zM283.2 1341.5h2.0v9.9h-2.0zM286.4 1341.5h2.0v9.9h-2.0zM288.3 1341.5h2.0v9.9h-2.0zM291.1 1341.5h2.0v9.9h-2.0zM293.9 1341.5h2.0v9.9h-2.0zM296.0 1341.5h2.0v9.9h-2.0zM302.4 1341.5h2.0v9.9h-2.0zM304.5 1341.5h2.0v9.9h-2.0zM307.4 1341.5h2.0v9.9h-2.0zM311.5 1341.5h2.0v9.9h-2.0zM314.8 1341.5h2.0v9.9h-2.0zM315.1 1341.5h2.0v9.9h-2.0zM318.3 1341.5h2.0v9.9h-2.0zM321.4 1341.5h2.0v9.9h-2.0zM216.3 1352.8h2.0v9.9h-2.0zM216.7 1352.8h2.0v9.9h-2.0zM219.2 1352.8h2.0v9.9h-2.0zM221.3 1352.8h2.0v9.9h-2.0zM223.5 1352.8h2.0v9.9h-2.0zM233.2 1352.8h2.0v9.9h-2.0zM236.4 1352.8h2.0v9.9h-2.0zM240.1 1352.8h2.0v9.9h-2.0zM249.8 1352.8h2.0v9.9h-2.0zM252.6 1352.8h2.0v9.9h-2.0zM255.2 1352.8h2.0v9.9h-2.0zM258.0 1352.8h2.0v9.9h-2.0zM258.1 1352.8h2.0v9.9h-2.0zM261.4 1352.8h2.0v9.9h-2.0zM270.8 1352.8h2.0v9.9h-2.0zM273.5 1352.8h2.0v9.9h-2.0zM274.6 1352.8h2.0v9.9h-2.0zM278.1 1352.8h2.0v9.9h-2.0zM281.3 1352.8h2.0v9.9h-2.0zM283.9 1352.8h2.0v9.9h-2.0zM285.9 1352.8h2.0v9.9h-2.0zM288.3 1352.8h2.0v9.9h-2.0zM291.1 1352.8h2.0v9.9h-2.0zM298.6 1352.8h2.0v9.9h-2.0zM302.1 1352.8h2.0v9.9h-2.0zM304.2 1352.8h2.0v9.9h-2.0zM307.6 1352.8h2.0v9.9h-2.0zM307.9 1352.8h2.0v9.9h-2.0zM311.4 1352.8h2.0v9.9h-2.0zM314.7 1352.8h2.0v9.9h-2.0zM315.4 1352.8h2.0v9.9h-2.0zM317.9 1352.8h2.0v9.9h-2.0zM320.0 1352.8h2.0v9.9h-2.0zM321.2 1352.8h2.0v9.9h-2.0zM199.3 1364.1h2.0v9.9h-2.0zM206.8 1364.1h2.0v9.9h-2.0zM209.6 1364.1h2.0v9.9h-2.0zM211.7 1364.1h2.0v9.9h-2.0zM213.2 1364.1h2.0v9.9h-2.0zM224.6 1364.1h2.0v9.9h-2.0zM227.9 1364.1h2.0v9.9h-2.0zM239.2 1364.1h2.0v9.9h-2.0zM242.6 1364.1h2.0v9.9h-2.0zM281.6 1364.1h2.0v9.9h-2.0zM284.0 1364.1h2.0v9.9h-2.0zM287.5 1364.1h2.0v9.9h-2.0zM294.1 1364.1h2.0v9.9h-2.0zM249.8 1375.4h2.0v9.9h-2.0zM251.9 1375.4h2.0v9.9h-2.0zM254.6 1375.4h2.0v9.9h-2.0zM255.1 1375.4h2.0v9.9h-2.0zM258.1 1375.4h2.0v9.9h-2.0zM261.5 1375.4h2.0v9.9h-2.0zM265.4 1375.4h2.0v9.9h-2.0zM268.7 1375.4h2.0v9.9h-2.0zM272.5 1375.4h2.0v9.9h-2.0zM275.3 1375.4h2.0v9.9h-2.0zM277.7 1375.4h2.0v9.9h-2.0zM280.6 1375.4h2.0v9.9h-2.0zM283.6 1375.4h2.0v9.9h-2.0zM294.9 1375.4h2.0v9.9h-2.0zM295.9 1375.4h2.0v9.9h-2.0zM297.2 1375.4h2.0v9.9h-2.0zM300.3 1375.4h2.0v9.9h-2.0zM303.6 1375.4h2.0v9.9h-2.0zM306.7 1375.4h2.0v9.9h-2.0zM309.3 1375.4h2.0v9.9h-2.0zM312.6 1375.4h2.0v9.9h-2.0zM315.8 1375.4h2.0v9.9h-2.0zM318.8 1375.4h2.0v9.9h-2.0zM321.5 1375.4h2.0v9.9h-2.0zM249.9 1386.7h2.0v9.9h-2.0zM253.8 1386.7h2.0v9.9h-2.0zM255.5 1386.7h2.0v9.9h-2.0zM258.2 1386.7h2.0v9.9h-2.0zM259.0 1386.7h2.0v9.9h-2.0zM260.5 1386.7h2.0v9.9h-2.0zM264.0 1386.7h2.0v9.9h-2.0zM266.8 1386.7h2.0v9.9h-2.0zM270.1 1386.7h2.0v9.9h-2.0zM273.4 1386.7h2.0v9.9h-2.0zM276.8 1386.7h2.0v9.9h-2.0zM279.7 1386.7h2.0v9.9h-2.0zM283.6 1386.7h2.0v9.9h-2.0zM283.8 1386.7h2.0v9.9h-2.0zM294.9 1386.7h2.0v9.9h-2.0zM297.4 1386.7h2.0v9.9h-2.0zM300.1 1386.7h2.0v9.9h-2.0zM300.8 1386.7h2.0v9.9h-2.0zM302.8 1386.7h2.0v9.9h-2.0zM307.7 1386.7h2.0v9.9h-2.0zM310.6 1386.7h2.0v9.9h-2.0zM314.1 1386.7h2.0v9.9h-2.0zM317.7 1386.7h2.0v9.9h-2.0zM319.1 1386.7h2.0v9.9h-2.0zM321.3 1386.7h2.0v9.9h-2.0z" fill="#111"/>
<rect x="249.2" y="1415.8" width="34.8" height="10" fill="#63bf8e" stroke="none" stroke-width="0"/>
<rect x="284" y="1415.8" width="12.6" height="10" fill="#f7ee7c" stroke="none" stroke-width="0"/>
<rect x="296.6" y="1415.8" width="26" height="10" fill="#c37bbb" stroke="none" stroke-width="0"/>
<rect x="249.2" y="1427.25" width="31.6" height="10" fill="#63bf8e" stroke="none" stroke-width="0"/>
<rect x="280.8" y="1427.25" width="12.6" height="10" fill="#f7ee7c" stroke="none" stroke-width="0"/>
<rect x="293.4" y="1427.25" width="26.9" height="10" fill="#c37bbb" stroke="none" stroke-width="0"/>
<rect x="249.2" y="1438.7" width="49" height="10" fill="#63bf8e" stroke="none" stroke-width="0"/>
<rect x="298.2" y="1438.7" width="18.1" height="10" fill="#f7ee7c" stroke="none" stroke-width="0"/>
<rect x="316.3" y="1438.7" width="9.5" height="10" fill="#c37bbb" stroke="none" stroke-width="0"/>
<rect x="249.2" y="1450.15" width="28.4" height="10" fill="#63bf8e" stroke="none" stroke-width="0"/>
<rect x="277.6" y="1450.15" width="11.9" height="10" fill="#f7ee7c" stroke="none" stroke-width="0"/>
<rect x="289.5" y="1450.15" width="36.3" height="10" fill="#c37bbb" stroke="none" stroke-width="0"/>
<rect x="249.2" y="1461.6" width="41.8" height="10" fill="#63bf8e" stroke="none" stroke-width="0"/>
<rect x="291" y="1461.6" width="9.5" height="10" fill="#f7ee7c" stroke="none" stroke-width="0"/>
<rect x="300.5" y="1461.6" width="25.3" height="10" fill="#c37bbb" stroke="none" stroke-width="0"/>
<rect x="249.2" y="1473.05" width="24.5" height="10" fill="#63bf8e" stroke="none" stroke-width="0"/>
<rect x="273.7" y="1473.05" width="10.3" height="10" fill="#f7ee7c" stroke="none" stroke-width="0"/>
<rect x="284" y="1473.05" width="37" height="10" fill="#c37bbb" stroke="none" stroke-width="0"/>
<rect x="249.2" y="1484.5" width="32.4" height="10" fill="#63bf8e" stroke="none" stroke-width="0"/>
<rect x="281.6" y="1484.5" width="8.7" height="10" fill="#f7ee7c" stroke="none" stroke-width="0"/>
<rect x="290.3" y="1484.5" width="35.5" height="10" fill="#c37bbb" stroke="none" stroke-width="0"/>
<rect x="249.2" y="1495.95" width="39.5" height="10" fill="#63bf8e" stroke="none" stroke-width="0"/>
<rect x="288.7" y="1495.95" width="11.8" height="10" fill="#f7ee7c" stroke="none" stroke-width="0"/>
<rect x="300.5" y="1495.95" width="25.3" height="10" fill="#c37bbb" stroke="none" stroke-width="0"/>
<rect x="249.2" y="1507.4" width="67.1" height="10" fill="#63bf8e" stroke="none" stroke-width="0"/>
<rect x="316.3" y="1507.4" width="9.5" height="10" fill="#f7ee7c" stroke="none" stroke-width="0"/>
<rect x="249.2" y="1518.85" width="33.2" height="10" fill="#63bf8e" stroke="none" stroke-width="0"/>
<rect x="282.4" y="1518.85" width="8.6" height="10" fill="#f7ee7c" stroke="none" stroke-width="0"/>
<rect x="291" y="1518.85" width="30" height="10" fill="#c37bbb" stroke="none" stroke-width="0"/>
<path d="M211.5 1415.8h2.0v10.0h-2.0zM214.2 1415.8h2.0v10.0h-2.0zM216.8 1415.8h2.0v10.0h-2.0zM245.5 1415.8h2.0v10.0h-2.0zM256.9 1415.8h2.0v10.0h-2.0zM305.9 1415.8h2.0v10.0h-2.0zM308.4 1415.8h2.0v10.0h-2.0zM311.4 1415.8h2.0v10.0h-2.0zM314.8 1415.8h2.0v10.0h-2.0zM177.0 1427.2h2.0v10.0h-2.0zM179.0 1427.2h2.0v10.0h-2.0zM181.6 1427.2h2.0v10.0h-2.0zM185.6 1427.2h2.0v10.0h-2.0zM287.6 1427.2h2.0v10.0h-2.0zM195.6 1438.7h2.0v10.0h-2.0zM209.1 1438.7h2.0v10.0h-2.0zM212.3 1438.7h2.0v10.0h-2.0zM215.7 1438.7h2.0v10.0h-2.0zM246.3 1438.7h2.0v10.0h-2.0zM189.2 1450.1h2.0v10.0h-2.0zM212.7 1450.1h2.0v10.0h-2.0zM225.3 1450.1h2.0v10.0h-2.0zM235.2 1450.1h2.0v10.0h-2.0zM278.6 1450.1h2.0v10.0h-2.0zM174.3 1461.6h2.0v10.0h-2.0zM178.2 1461.6h2.0v10.0h-2.0zM181.6 1461.6h2.0v10.0h-2.0zM209.6 1461.6h2.0v10.0h-2.0zM212.5 1461.6h2.0v10.0h-2.0zM215.4 1461.6h2.0v10.0h-2.0zM245.8 1461.6h2.0v10.0h-2.0zM267.8 1461.6h2.0v10.0h-2.0zM270.5 1461.6h2.0v10.0h-2.0zM274.4 1461.6h2.0v10.0h-2.0zM276.7 1461.6h2.0v10.0h-2.0zM305.2 1461.6h2.0v10.0h-2.0zM309.2 1461.6h2.0v10.0h-2.0zM315.9 1461.6h2.0v10.0h-2.0zM183.6 1473.0h2.0v10.0h-2.0zM234.1 1473.0h2.0v10.0h-2.0zM201.5 1484.5h2.0v10.0h-2.0zM215.4 1484.5h2.0v10.0h-2.0zM244.4 1484.5h2.0v10.0h-2.0zM251.3 1484.5h2.0v10.0h-2.0zM254.8 1484.5h2.0v10.0h-2.0zM309.3 1484.5h2.0v10.0h-2.0zM180.1 1496.0h2.0v10.0h-2.0zM206.0 1496.0h2.0v10.0h-2.0zM208.2 1496.0h2.0v10.0h-2.0zM211.7 1496.0h2.0v10.0h-2.0zM238.5 1496.0h2.0v10.0h-2.0zM251.5 1496.0h2.0v10.0h-2.0zM252.4 1496.0h2.0v10.0h-2.0zM255.1 1496.0h2.0v10.0h-2.0zM258.5 1496.0h2.0v10.0h-2.0zM260.9 1496.0h2.0v10.0h-2.0zM276.0 1496.0h2.0v10.0h-2.0zM286.8 1496.0h2.0v10.0h-2.0zM288.9 1496.0h2.0v10.0h-2.0zM296.4 1496.0h2.0v10.0h-2.0zM298.6 1496.0h2.0v10.0h-2.0zM305.4 1496.0h2.0v10.0h-2.0zM308.3 1496.0h2.0v10.0h-2.0zM319.3 1496.0h2.0v10.0h-2.0zM321.5 1496.0h2.0v10.0h-2.0zM190.4 1507.4h2.0v10.0h-2.0zM194.2 1507.4h2.0v10.0h-2.0zM243.6 1507.4h2.0v10.0h-2.0zM245.7 1507.4h2.0v10.0h-2.0zM173.3 1518.8h2.0v10.0h-2.0zM176.7 1518.8h2.0v10.0h-2.0zM197.4 1518.8h2.0v10.0h-2.0zM207.0 1518.8h2.0v10.0h-2.0zM210.1 1518.8h2.0v10.0h-2.0zM278.0 1518.8h2.0v10.0h-2.0zM297.3 1518.8h2.0v10.0h-2.0zM300.6 1518.8h2.0v10.0h-2.0zM306.5 1518.8h2.0v10.0h-2.0zM308.5 1518.8h2.0v10.0h-2.0zM312.2 1518.8h2.0v10.0h-2.0z" fill="#111"/>
<rect x="467.6" y="1284.2" width="34" height="10" fill="#63bf8e" stroke="none" stroke-width="0"/>
<rect x="501.6" y="1284.2" width="14.5" height="10" fill="#f7ee7c" stroke="none" stroke-width="0"/>
<rect x="516.1" y="1284.2" width="28.1" height="10" fill="#c37bbb" stroke="none" stroke-width="0"/>
<rect x="467.6" y="1295.44" width="37.1" height="10" fill="#63bf8e" stroke="none" stroke-width="0"/>
<rect x="504.7" y="1295.44" width="20.3" height="10" fill="#f7ee7c" stroke="none" stroke-width="0"/>
<rect x="525" y="1295.44" width="19.2" height="10" fill="#c37bbb" stroke="none" stroke-width="0"/>
<rect x="467.6" y="1306.68" width="39.5" height="10" fill="#63bf8e" stroke="none" stroke-width="0"/>
<rect x="507.1" y="1306.68" width="13.4" height="10" fill="#f7ee7c" stroke="none" stroke-width="0"/>
<rect x="520.5" y="1306.68" width="23.7" height="10" fill="#c37bbb" stroke="none" stroke-width="0"/>
<rect x="467.6" y="1317.92" width="37.1" height="10" fill="#63bf8e" stroke="none" stroke-width="0"/>
<rect x="504.7" y="1317.92" width="17.4" height="10" fill="#f7ee7c" stroke="none" stroke-width="0"/>
<rect x="522.1" y="1317.92" width="22.1" height="10" fill="#c37bbb" stroke="none" stroke-width="0"/>
<rect x="467.6" y="1329.16" width="45" height="10" fill="#63bf8e" stroke="none" stroke-width="0"/>
<rect x="512.6" y="1329.16" width="21.4" height="10" fill="#f7ee7c" stroke="none" stroke-width="0"/>
<rect x="534" y="1329.16" width="10.2" height="10" fill="#c37bbb" stroke="none" stroke-width="0"/>
<rect x="467.6" y="1340.4" width="34" height="10" fill="#63bf8e" stroke="none" stroke-width="0"/>
<rect x="501.6" y="1340.4" width="16.6" height="10" fill="#f7ee7c" stroke="none" stroke-width="0"/>
<rect x="518.2" y="1340.4" width="26" height="10" fill="#c37bbb" stroke="none" stroke-width="0"/>
<rect x="467.6" y="1351.64" width="36.4" height="10" fill="#63bf8e" stroke="none" stroke-width="0"/>
<rect x="504" y="1351.64" width="15" height="10" fill="#f7ee7c" stroke="none" stroke-width="0"/>
<rect x="519" y="1351.64" width="25.2" height="10" fill="#c37bbb" stroke="none" stroke-width="0"/>
<rect x="467.6" y="1362.88" width="44.2" height="10" fill="#63bf8e" stroke="none" stroke-width="0"/>
<rect x="511.8" y="1362.88" width="16.6" height="10" fill="#f7ee7c" stroke="none" stroke-width="0"/>
<rect x="528.4" y="1362.88" width="15.8" height="10" fill="#c37bbb" stroke="none" stroke-width="0"/>
<rect x="467.6" y="1374.12" width="55.3" height="10" fill="#63bf8e" stroke="none" stroke-width="0"/>
<rect x="522.9" y="1374.12" width="9.5" height="10" fill="#f7ee7c" stroke="none" stroke-width="0"/>
<rect x="532.4" y="1374.12" width="11.8" height="10" fill="#c37bbb" stroke="none" stroke-width="0"/>
<rect x="467.6" y="1385.36" width="63.2" height="10" fill="#63bf8e" stroke="none" stroke-width="0"/>
<rect x="530.8" y="1385.36" width="13.4" height="10" fill="#f7ee7c" stroke="none" stroke-width="0"/>
<path d="M424.2 1284.2h2.0v10.0h-2.0zM427.0 1284.2h2.0v10.0h-2.0zM437.3 1284.2h2.0v10.0h-2.0zM469.5 1284.2h2.0v10.0h-2.0zM399.3 1317.9h2.0v10.0h-2.0zM405.3 1317.9h2.0v10.0h-2.0zM413.0 1317.9h2.0v10.0h-2.0zM443.2 1317.9h2.0v10.0h-2.0zM446.7 1317.9h2.0v10.0h-2.0zM449.6 1317.9h2.0v10.0h-2.0zM463.1 1317.9h2.0v10.0h-2.0zM465.7 1317.9h2.0v10.0h-2.0zM454.0 1329.2h2.0v10.0h-2.0zM425.0 1340.4h2.0v10.0h-2.0zM427.6 1340.4h2.0v10.0h-2.0zM431.5 1340.4h2.0v10.0h-2.0zM434.3 1340.4h2.0v10.0h-2.0zM443.9 1351.6h2.0v10.0h-2.0zM447.6 1351.6h2.0v10.0h-2.0zM450.3 1351.6h2.0v10.0h-2.0zM452.5 1351.6h2.0v10.0h-2.0zM457.1 1351.6h2.0v10.0h-2.0zM459.7 1351.6h2.0v10.0h-2.0zM463.3 1351.6h2.0v10.0h-2.0zM470.0 1351.6h2.0v10.0h-2.0zM473.0 1351.6h2.0v10.0h-2.0zM465.3 1362.9h2.0v10.0h-2.0zM398.9 1374.1h2.0v10.0h-2.0zM402.1 1374.1h2.0v10.0h-2.0zM405.3 1374.1h2.0v10.0h-2.0zM422.1 1374.1h2.0v10.0h-2.0zM429.2 1374.1h2.0v10.0h-2.0z" fill="#111"/>
<rect x="468.4" y="1411" width="40.3" height="10.2" fill="#63bf8e" stroke="none" stroke-width="0"/>
<rect x="508.7" y="1411" width="12.6" height="10.2" fill="#f7ee7c" stroke="none" stroke-width="0"/>
<rect x="521.3" y="1411" width="23.2" height="10.2" fill="#c37bbb" stroke="none" stroke-width="0"/>
<rect x="468.4" y="1422.66" width="45.5" height="10.2" fill="#63bf8e" stroke="none" stroke-width="0"/>
<rect x="513.9" y="1422.66" width="9.8" height="10.2" fill="#f7ee7c" stroke="none" stroke-width="0"/>
<rect x="523.7" y="1422.66" width="20.8" height="10.2" fill="#c37bbb" stroke="none" stroke-width="0"/>
<rect x="468.4" y="1434.32" width="35.6" height="10.2" fill="#63bf8e" stroke="none" stroke-width="0"/>
<rect x="504" y="1434.32" width="10.2" height="10.2" fill="#f7ee7c" stroke="none" stroke-width="0"/>
<rect x="514.2" y="1434.32" width="30.3" height="10.2" fill="#c37bbb" stroke="none" stroke-width="0"/>
<rect x="468.4" y="1445.98" width="37.1" height="10.2" fill="#63bf8e" stroke="none" stroke-width="0"/>
<rect x="505.5" y="1445.98" width="9.5" height="10.2" fill="#f7ee7c" stroke="none" stroke-width="0"/>
<rect x="515" y="1445.98" width="29.5" height="10.2" fill="#c37bbb" stroke="none" stroke-width="0"/>
<rect x="468.4" y="1457.64" width="39.5" height="10.2" fill="#63bf8e" stroke="none" stroke-width="0"/>
<rect x="507.9" y="1457.64" width="9.2" height="10.2" fill="#f7ee7c" stroke="none" stroke-width="0"/>
<rect x="517.1" y="1457.64" width="27.4" height="10.2" fill="#c37bbb" stroke="none" stroke-width="0"/>
<rect x="468.4" y="1469.3" width="49.8" height="10.2" fill="#63bf8e" stroke="none" stroke-width="0"/>
<rect x="518.2" y="1469.3" width="10.2" height="10.2" fill="#f7ee7c" stroke="none" stroke-width="0"/>
<rect x="528.4" y="1469.3" width="16.1" height="10.2" fill="#c37bbb" stroke="none" stroke-width="0"/>
<rect x="468.4" y="1480.96" width="34" height="10.2" fill="#63bf8e" stroke="none" stroke-width="0"/>
<rect x="502.4" y="1480.96" width="9" height="10.2" fill="#f7ee7c" stroke="none" stroke-width="0"/>
<rect x="511.4" y="1480.96" width="33.1" height="10.2" fill="#c37bbb" stroke="none" stroke-width="0"/>
<rect x="468.4" y="1492.62" width="35.6" height="10.2" fill="#63bf8e" stroke="none" stroke-width="0"/>
<rect x="504" y="1492.62" width="11.8" height="10.2" fill="#f7ee7c" stroke="none" stroke-width="0"/>
<rect x="515.8" y="1492.62" width="28.7" height="10.2" fill="#c37bbb" stroke="none" stroke-width="0"/>
<rect x="468.4" y="1504.28" width="42.3" height="10.2" fill="#63bf8e" stroke="none" stroke-width="0"/>
<rect x="510.7" y="1504.28" width="10.6" height="10.2" fill="#f7ee7c" stroke="none" stroke-width="0"/>
<rect x="521.3" y="1504.28" width="23.2" height="10.2" fill="#c37bbb" stroke="none" stroke-width="0"/>
<rect x="468.4" y="1515.94" width="51.3" height="10.2" fill="#63bf8e" stroke="none" stroke-width="0"/>
<rect x="519.7" y="1515.94" width="10" height="10.2" fill="#f7ee7c" stroke="none" stroke-width="0"/>
<rect x="529.7" y="1515.94" width="14.8" height="10.2" fill="#c37bbb" stroke="none" stroke-width="0"/>
<path d="M393.3 1411.0h2.0v10.2h-2.0zM397.2 1411.0h2.0v10.2h-2.0zM400.7 1411.0h2.0v10.2h-2.0zM404.3 1411.0h2.0v10.2h-2.0zM405.5 1411.0h2.0v10.2h-2.0zM408.0 1411.0h2.0v10.2h-2.0zM411.6 1411.0h2.0v10.2h-2.0zM427.3 1411.0h2.0v10.2h-2.0zM430.0 1411.0h2.0v10.2h-2.0zM432.2 1411.0h2.0v10.2h-2.0zM435.5 1411.0h2.0v10.2h-2.0zM470.0 1411.0h2.0v10.2h-2.0zM472.0 1411.0h2.0v10.2h-2.0zM393.0 1422.7h2.0v10.2h-2.0zM395.4 1422.7h2.0v10.2h-2.0zM424.9 1422.7h2.0v10.2h-2.0zM478.0 1422.7h2.0v10.2h-2.0zM395.6 1434.3h2.0v10.2h-2.0zM450.7 1434.3h2.0v10.2h-2.0zM454.5 1434.3h2.0v10.2h-2.0zM394.0 1446.0h2.0v10.2h-2.0zM396.1 1446.0h2.0v10.2h-2.0zM398.5 1446.0h2.0v10.2h-2.0zM400.9 1446.0h2.0v10.2h-2.0zM440.2 1446.0h2.0v10.2h-2.0zM465.9 1446.0h2.0v10.2h-2.0zM408.2 1457.6h2.0v10.2h-2.0zM410.4 1457.6h2.0v10.2h-2.0zM415.2 1457.6h2.0v10.2h-2.0zM417.9 1457.6h2.0v10.2h-2.0zM421.5 1457.6h2.0v10.2h-2.0zM434.9 1457.6h2.0v10.2h-2.0zM442.7 1457.6h2.0v10.2h-2.0zM444.8 1457.6h2.0v10.2h-2.0zM458.4 1457.6h2.0v10.2h-2.0zM463.7 1457.6h2.0v10.2h-2.0zM478.0 1457.6h2.0v10.2h-2.0zM393.4 1469.3h2.0v10.2h-2.0zM399.7 1469.3h2.0v10.2h-2.0zM415.8 1469.3h2.0v10.2h-2.0zM427.6 1469.3h2.0v10.2h-2.0zM438.9 1469.3h2.0v10.2h-2.0zM397.7 1481.0h2.0v10.2h-2.0zM426.3 1481.0h2.0v10.2h-2.0zM428.5 1481.0h2.0v10.2h-2.0zM431.4 1481.0h2.0v10.2h-2.0zM434.3 1481.0h2.0v10.2h-2.0zM445.7 1481.0h2.0v10.2h-2.0zM396.7 1492.6h2.0v10.2h-2.0zM398.8 1492.6h2.0v10.2h-2.0zM402.0 1492.6h2.0v10.2h-2.0zM406.8 1492.6h2.0v10.2h-2.0zM409.7 1492.6h2.0v10.2h-2.0zM411.8 1492.6h2.0v10.2h-2.0zM415.7 1492.6h2.0v10.2h-2.0zM445.7 1492.6h2.0v10.2h-2.0zM465.1 1492.6h2.0v10.2h-2.0zM406.2 1504.3h2.0v10.2h-2.0zM409.4 1504.3h2.0v10.2h-2.0zM412.6 1504.3h2.0v10.2h-2.0zM431.4 1504.3h2.0v10.2h-2.0zM433.9 1504.3h2.0v10.2h-2.0zM448.3 1504.3h2.0v10.2h-2.0zM398.4 1515.9h2.0v10.2h-2.0zM401.6 1515.9h2.0v10.2h-2.0zM402.2 1515.9h2.0v10.2h-2.0zM447.2 1515.9h2.0v10.2h-2.0zM453.4 1515.9h2.0v10.2h-2.0zM455.6 1515.9h2.0v10.2h-2.0zM459.0 1515.9h2.0v10.2h-2.0zM461.9 1515.9h2.0v10.2h-2.0z" fill="#111"/>
<rect x="629.2" y="1283.4" width="24" height="10" fill="#63bf8e" stroke="none" stroke-width="0"/>
<rect x="653.2" y="1283.4" width="7.8" height="10" fill="#f7ee7c" stroke="none" stroke-width="0"/>
<rect x="661" y="1283.4" width="26" height="10" fill="#c37bbb" stroke="none" stroke-width="0"/>
<rect x="627.4" y="1294.82" width="25.8" height="10" fill="#63bf8e" stroke="none" stroke-width="0"/>
<rect x="653.2" y="1294.82" width="7.8" height="10" fill="#f7ee7c" stroke="none" stroke-width="0"/>
<rect x="661" y="1294.82" width="28" height="10" fill="#c37bbb" stroke="none" stroke-width="0"/>
<rect x="625.5" y="1306.24" width="27.7" height="10" fill="#63bf8e" stroke="none" stroke-width="0"/>
<rect x="653.2" y="1306.24" width="7.8" height="10" fill="#f7ee7c" stroke="none" stroke-width="0"/>
<rect x="661" y="1306.24" width="27" height="10" fill="#c37bbb" stroke="none" stroke-width="0"/>
<rect x="627.4" y="1317.66" width="25.8" height="10" fill="#63bf8e" stroke="none" stroke-width="0"/>
<rect x="653.2" y="1317.66" width="7.8" height="10" fill="#f7ee7c" stroke="none" stroke-width="0"/>
<rect x="661" y="1317.66" width="25" height="10" fill="#c37bbb" stroke="none" stroke-width="0"/>
<rect x="622.4" y="1329.08" width="30.8" height="10" fill="#63bf8e" stroke="none" stroke-width="0"/>
<rect x="653.2" y="1329.08" width="7.8" height="10" fill="#f7ee7c" stroke="none" stroke-width="0"/>
<rect x="661" y="1329.08" width="29" height="10" fill="#c37bbb" stroke="none" stroke-width="0"/>
<rect x="630.3" y="1340.5" width="22.9" height="10" fill="#63bf8e" stroke="none" stroke-width="0"/>
<rect x="653.2" y="1340.5" width="7.8" height="10" fill="#f7ee7c" stroke="none" stroke-width="0"/>
<rect x="661" y="1340.5" width="27" height="10" fill="#c37bbb" stroke="none" stroke-width="0"/>
<rect x="628.7" y="1351.92" width="24.5" height="10" fill="#63bf8e" stroke="none" stroke-width="0"/>
<rect x="653.2" y="1351.92" width="7.8" height="10" fill="#f7ee7c" stroke="none" stroke-width="0"/>
<rect x="661" y="1351.92" width="25" height="10" fill="#c37bbb" stroke="none" stroke-width="0"/>
<rect x="623.2" y="1363.34" width="30" height="10" fill="#63bf8e" stroke="none" stroke-width="0"/>
<rect x="653.2" y="1363.34" width="7.8" height="10" fill="#f7ee7c" stroke="none" stroke-width="0"/>
<rect x="661" y="1363.34" width="29" height="10" fill="#c37bbb" stroke="none" stroke-width="0"/>
<rect x="615.7" y="1374.76" width="37.5" height="10" fill="#63bf8e" stroke="none" stroke-width="0"/>
<rect x="653.2" y="1374.76" width="7.8" height="10" fill="#f7ee7c" stroke="none" stroke-width="0"/>
<rect x="661" y="1374.76" width="27" height="10" fill="#c37bbb" stroke="none" stroke-width="0"/>
<rect x="610.2" y="1386.18" width="43" height="10" fill="#63bf8e" stroke="none" stroke-width="0"/>
<rect x="653.2" y="1386.18" width="7.8" height="10" fill="#f7ee7c" stroke="none" stroke-width="0"/>
<rect x="661" y="1386.18" width="29" height="10" fill="#c37bbb" stroke="none" stroke-width="0"/>
<path d="M665.2 1283.4h2.0v10.0h-2.0zM668.3 1283.4h2.0v10.0h-2.0zM670.3 1283.4h2.0v10.0h-2.0zM674.0 1283.4h2.0v10.0h-2.0zM676.4 1283.4h2.0v10.0h-2.0zM679.5 1283.4h2.0v10.0h-2.0zM686.2 1283.4h2.0v10.0h-2.0zM688.8 1283.4h2.0v10.0h-2.0zM701.6 1283.4h2.0v10.0h-2.0zM704.9 1283.4h2.0v10.0h-2.0zM707.7 1283.4h2.0v10.0h-2.0zM708.7 1283.4h2.0v10.0h-2.0zM709.8 1283.4h2.0v10.0h-2.0zM712.4 1283.4h2.0v10.0h-2.0zM718.8 1283.4h2.0v10.0h-2.0zM722.7 1283.4h2.0v10.0h-2.0zM728.4 1283.4h2.0v10.0h-2.0zM731.4 1283.4h2.0v10.0h-2.0zM735.3 1283.4h2.0v10.0h-2.0zM737.5 1283.4h2.0v10.0h-2.0zM754.8 1283.4h2.0v10.0h-2.0zM603.0 1283.4h2.0v10.0h-2.0zM663.9 1294.8h2.0v10.0h-2.0zM667.2 1294.8h2.0v10.0h-2.0zM671.2 1294.8h2.0v10.0h-2.0zM673.8 1294.8h2.0v10.0h-2.0zM682.7 1294.8h2.0v10.0h-2.0zM686.6 1294.8h2.0v10.0h-2.0zM690.4 1294.8h2.0v10.0h-2.0zM694.3 1294.8h2.0v10.0h-2.0zM697.9 1294.8h2.0v10.0h-2.0zM700.8 1294.8h2.0v10.0h-2.0zM717.9 1294.8h2.0v10.0h-2.0zM724.4 1294.8h2.0v10.0h-2.0zM725.9 1294.8h2.0v10.0h-2.0zM728.0 1294.8h2.0v10.0h-2.0zM728.2 1294.8h2.0v10.0h-2.0zM728.4 1294.8h2.0v10.0h-2.0zM731.9 1294.8h2.0v10.0h-2.0zM733.2 1294.8h2.0v10.0h-2.0zM736.4 1294.8h2.0v10.0h-2.0zM740.0 1294.8h2.0v10.0h-2.0zM743.5 1294.8h2.0v10.0h-2.0zM756.8 1294.8h2.0v10.0h-2.0zM661.5 1306.2h2.0v10.0h-2.0zM665.3 1306.2h2.0v10.0h-2.0zM666.3 1306.2h2.0v10.0h-2.0zM666.8 1306.2h2.0v10.0h-2.0zM669.5 1306.2h2.0v10.0h-2.0zM672.9 1306.2h2.0v10.0h-2.0zM676.2 1306.2h2.0v10.0h-2.0zM676.5 1306.2h2.0v10.0h-2.0zM679.3 1306.2h2.0v10.0h-2.0zM680.2 1306.2h2.0v10.0h-2.0zM683.9 1306.2h2.0v10.0h-2.0zM687.5 1306.2h2.0v10.0h-2.0zM687.9 1306.2h2.0v10.0h-2.0zM694.4 1306.2h2.0v10.0h-2.0zM694.6 1306.2h2.0v10.0h-2.0zM698.2 1306.2h2.0v10.0h-2.0zM700.0 1306.2h2.0v10.0h-2.0zM702.6 1306.2h2.0v10.0h-2.0zM706.1 1306.2h2.0v10.0h-2.0zM712.5 1306.2h2.0v10.0h-2.0zM716.2 1306.2h2.0v10.0h-2.0zM718.9 1306.2h2.0v10.0h-2.0zM725.6 1306.2h2.0v10.0h-2.0zM730.8 1306.2h2.0v10.0h-2.0zM603.0 1306.2h2.0v10.0h-2.0zM666.9 1317.7h2.0v10.0h-2.0zM669.1 1317.7h2.0v10.0h-2.0zM673.2 1317.7h2.0v10.0h-2.0zM676.3 1317.7h2.0v10.0h-2.0zM679.7 1317.7h2.0v10.0h-2.0zM682.7 1317.7h2.0v10.0h-2.0zM683.6 1317.7h2.0v10.0h-2.0zM687.0 1317.7h2.0v10.0h-2.0zM687.7 1317.7h2.0v10.0h-2.0zM688.8 1317.7h2.0v10.0h-2.0zM693.3 1317.7h2.0v10.0h-2.0zM699.4 1317.7h2.0v10.0h-2.0zM701.0 1317.7h2.0v10.0h-2.0zM705.5 1317.7h2.0v10.0h-2.0zM714.4 1317.7h2.0v10.0h-2.0zM714.8 1317.7h2.0v10.0h-2.0zM717.7 1317.7h2.0v10.0h-2.0zM748.3 1317.7h2.0v10.0h-2.0zM751.8 1317.7h2.0v10.0h-2.0zM755.7 1317.7h2.0v10.0h-2.0zM675.4 1329.1h2.0v10.0h-2.0zM677.5 1329.1h2.0v10.0h-2.0zM680.8 1329.1h2.0v10.0h-2.0zM683.3 1329.1h2.0v10.0h-2.0zM687.3 1329.1h2.0v10.0h-2.0zM689.9 1329.1h2.0v10.0h-2.0zM693.2 1329.1h2.0v10.0h-2.0zM697.7 1329.1h2.0v10.0h-2.0zM699.8 1329.1h2.0v10.0h-2.0zM702.3 1329.1h2.0v10.0h-2.0zM705.2 1329.1h2.0v10.0h-2.0zM719.9 1329.1h2.0v10.0h-2.0zM723.1 1329.1h2.0v10.0h-2.0zM740.8 1329.1h2.0v10.0h-2.0zM748.3 1329.1h2.0v10.0h-2.0zM749.0 1329.1h2.0v10.0h-2.0zM752.8 1329.1h2.0v10.0h-2.0zM755.3 1329.1h2.0v10.0h-2.0zM661.1 1340.5h2.0v10.0h-2.0zM664.8 1340.5h2.0v10.0h-2.0zM667.4 1340.5h2.0v10.0h-2.0zM669.7 1340.5h2.0v10.0h-2.0zM670.8 1340.5h2.0v10.0h-2.0zM671.7 1340.5h2.0v10.0h-2.0zM675.2 1340.5h2.0v10.0h-2.0zM679.1 1340.5h2.0v10.0h-2.0zM681.1 1340.5h2.0v10.0h-2.0zM683.0 1340.5h2.0v10.0h-2.0zM685.5 1340.5h2.0v10.0h-2.0zM685.8 1340.5h2.0v10.0h-2.0zM688.3 1340.5h2.0v10.0h-2.0zM692.8 1340.5h2.0v10.0h-2.0zM696.5 1340.5h2.0v10.0h-2.0zM699.6 1340.5h2.0v10.0h-2.0zM705.8 1340.5h2.0v10.0h-2.0zM709.3 1340.5h2.0v10.0h-2.0zM713.0 1340.5h2.0v10.0h-2.0zM715.8 1340.5h2.0v10.0h-2.0zM716.9 1340.5h2.0v10.0h-2.0zM720.2 1340.5h2.0v10.0h-2.0zM722.2 1340.5h2.0v10.0h-2.0zM725.2 1340.5h2.0v10.0h-2.0zM735.1 1340.5h2.0v10.0h-2.0zM737.3 1340.5h2.0v10.0h-2.0zM739.5 1340.5h2.0v10.0h-2.0zM743.8 1340.5h2.0v10.0h-2.0zM746.0 1340.5h2.0v10.0h-2.0zM748.4 1340.5h2.0v10.0h-2.0zM752.2 1340.5h2.0v10.0h-2.0zM752.5 1340.5h2.0v10.0h-2.0zM755.3 1340.5h2.0v10.0h-2.0zM603.0 1340.5h2.0v10.0h-2.0zM663.5 1351.9h2.0v10.0h-2.0zM668.7 1351.9h2.0v10.0h-2.0zM668.7 1351.9h2.0v10.0h-2.0zM674.3 1351.9h2.0v10.0h-2.0zM676.8 1351.9h2.0v10.0h-2.0zM678.7 1351.9h2.0v10.0h-2.0zM681.1 1351.9h2.0v10.0h-2.0zM684.7 1351.9h2.0v10.0h-2.0zM686.1 1351.9h2.0v10.0h-2.0zM689.5 1351.9h2.0v10.0h-2.0zM693.0 1351.9h2.0v10.0h-2.0zM693.4 1351.9h2.0v10.0h-2.0zM697.2 1351.9h2.0v10.0h-2.0zM699.7 1351.9h2.0v10.0h-2.0zM715.3 1351.9h2.0v10.0h-2.0zM724.8 1351.9h2.0v10.0h-2.0zM728.7 1351.9h2.0v10.0h-2.0zM732.6 1351.9h2.0v10.0h-2.0zM735.0 1351.9h2.0v10.0h-2.0zM739.8 1351.9h2.0v10.0h-2.0zM742.1 1351.9h2.0v10.0h-2.0zM745.6 1351.9h2.0v10.0h-2.0zM749.3 1351.9h2.0v10.0h-2.0zM752.1 1351.9h2.0v10.0h-2.0zM755.5 1351.9h2.0v10.0h-2.0zM662.7 1363.3h2.0v10.0h-2.0zM667.7 1363.3h2.0v10.0h-2.0zM671.1 1363.3h2.0v10.0h-2.0zM673.6 1363.3h2.0v10.0h-2.0zM674.3 1363.3h2.0v10.0h-2.0zM677.1 1363.3h2.0v10.0h-2.0zM679.9 1363.3h2.0v10.0h-2.0zM684.5 1363.3h2.0v10.0h-2.0zM699.0 1363.3h2.0v10.0h-2.0zM701.1 1363.3h2.0v10.0h-2.0zM703.9 1363.3h2.0v10.0h-2.0zM721.9 1363.3h2.0v10.0h-2.0zM730.1 1363.3h2.0v10.0h-2.0zM732.7 1363.3h2.0v10.0h-2.0zM737.7 1363.3h2.0v10.0h-2.0zM743.7 1363.3h2.0v10.0h-2.0zM752.8 1363.3h2.0v10.0h-2.0zM756.7 1363.3h2.0v10.0h-2.0zM663.0 1374.8h2.0v10.0h-2.0zM663.1 1374.8h2.0v10.0h-2.0zM666.1 1374.8h2.0v10.0h-2.0zM677.8 1374.8h2.0v10.0h-2.0zM678.8 1374.8h2.0v10.0h-2.0zM682.7 1374.8h2.0v10.0h-2.0zM682.9 1374.8h2.0v10.0h-2.0zM686.6 1374.8h2.0v10.0h-2.0zM690.3 1374.8h2.0v10.0h-2.0zM693.4 1374.8h2.0v10.0h-2.0zM695.8 1374.8h2.0v10.0h-2.0zM698.4 1374.8h2.0v10.0h-2.0zM701.0 1374.8h2.0v10.0h-2.0zM704.8 1374.8h2.0v10.0h-2.0zM708.1 1374.8h2.0v10.0h-2.0zM711.8 1374.8h2.0v10.0h-2.0zM715.2 1374.8h2.0v10.0h-2.0zM718.9 1374.8h2.0v10.0h-2.0zM719.2 1374.8h2.0v10.0h-2.0zM721.7 1374.8h2.0v10.0h-2.0zM724.3 1374.8h2.0v10.0h-2.0zM729.9 1374.8h2.0v10.0h-2.0zM732.5 1374.8h2.0v10.0h-2.0zM734.6 1374.8h2.0v10.0h-2.0zM737.9 1374.8h2.0v10.0h-2.0zM738.5 1374.8h2.0v10.0h-2.0zM662.3 1386.2h2.0v10.0h-2.0zM662.9 1386.2h2.0v10.0h-2.0zM666.8 1386.2h2.0v10.0h-2.0zM668.5 1386.2h2.0v10.0h-2.0zM672.8 1386.2h2.0v10.0h-2.0zM673.7 1386.2h2.0v10.0h-2.0zM674.7 1386.2h2.0v10.0h-2.0zM678.1 1386.2h2.0v10.0h-2.0zM680.8 1386.2h2.0v10.0h-2.0zM684.9 1386.2h2.0v10.0h-2.0zM688.3 1386.2h2.0v10.0h-2.0zM702.8 1386.2h2.0v10.0h-2.0zM706.8 1386.2h2.0v10.0h-2.0zM709.8 1386.2h2.0v10.0h-2.0zM712.7 1386.2h2.0v10.0h-2.0zM723.4 1386.2h2.0v10.0h-2.0zM726.9 1386.2h2.0v10.0h-2.0zM734.3 1386.2h2.0v10.0h-2.0zM738.0 1386.2h2.0v10.0h-2.0zM741.8 1386.2h2.0v10.0h-2.0zM745.4 1386.2h2.0v10.0h-2.0zM753.2 1386.2h2.0v10.0h-2.0zM757.0 1386.2h2.0v10.0h-2.0z" fill="#111"/>
<rect x="627.6" y="1415.5" width="26.8" height="10" fill="#63bf8e" stroke="none" stroke-width="0"/>
<rect x="654.4" y="1415.5" width="6.6" height="10" fill="#f7ee7c" stroke="none" stroke-width="0"/>
<rect x="661" y="1415.5" width="29" height="10" fill="#c37bbb" stroke="none" stroke-width="0"/>
<rect x="624.4" y="1426.9" width="30" height="10" fill="#63bf8e" stroke="none" stroke-width="0"/>
<rect x="654.4" y="1426.9" width="6.6" height="10" fill="#f7ee7c" stroke="none" stroke-width="0"/>
<rect x="661" y="1426.9" width="42" height="10" fill="#c37bbb" stroke="none" stroke-width="0"/>
<rect x="631.4" y="1438.3" width="23" height="10" fill="#63bf8e" stroke="none" stroke-width="0"/>
<rect x="654.4" y="1438.3" width="6.6" height="10" fill="#f7ee7c" stroke="none" stroke-width="0"/>
<rect x="661" y="1438.3" width="28" height="10" fill="#c37bbb" stroke="none" stroke-width="0"/>
<rect x="629.8" y="1449.7" width="24.6" height="10" fill="#63bf8e" stroke="none" stroke-width="0"/>
<rect x="654.4" y="1449.7" width="6.6" height="10" fill="#f7ee7c" stroke="none" stroke-width="0"/>
<rect x="661" y="1449.7" width="24" height="10" fill="#c37bbb" stroke="none" stroke-width="0"/>
<rect x="627.9" y="1461.1" width="26.5" height="10" fill="#63bf8e" stroke="none" stroke-width="0"/>
<rect x="654.4" y="1461.1" width="6.6" height="10" fill="#f7ee7c" stroke="none" stroke-width="0"/>
<rect x="661" y="1461.1" width="29" height="10" fill="#c37bbb" stroke="none" stroke-width="0"/>
<rect x="621.6" y="1472.5" width="32.8" height="10" fill="#63bf8e" stroke="none" stroke-width="0"/>
<rect x="654.4" y="1472.5" width="6.6" height="10" fill="#f7ee7c" stroke="none" stroke-width="0"/>
<rect x="661" y="1472.5" width="29" height="10" fill="#c37bbb" stroke="none" stroke-width="0"/>
<rect x="633" y="1483.9" width="21.4" height="10" fill="#63bf8e" stroke="none" stroke-width="0"/>
<rect x="654.4" y="1483.9" width="6.6" height="10" fill="#f7ee7c" stroke="none" stroke-width="0"/>
<rect x="661" y="1483.9" width="29" height="10" fill="#c37bbb" stroke="none" stroke-width="0"/>
<rect x="631" y="1495.3" width="23.4" height="10" fill="#63bf8e" stroke="none" stroke-width="0"/>
<rect x="654.4" y="1495.3" width="6.6" height="10" fill="#f7ee7c" stroke="none" stroke-width="0"/>
<rect x="661" y="1495.3" width="29" height="10" fill="#c37bbb" stroke="none" stroke-width="0"/>
<rect x="626.3" y="1506.7" width="28.1" height="10" fill="#63bf8e" stroke="none" stroke-width="0"/>
<rect x="654.4" y="1506.7" width="6.6" height="10" fill="#f7ee7c" stroke="none" stroke-width="0"/>
<rect x="661" y="1506.7" width="29" height="10" fill="#c37bbb" stroke="none" stroke-width="0"/>
<rect x="620" y="1518.1" width="34.4" height="10" fill="#63bf8e" stroke="none" stroke-width="0"/>
<rect x="654.4" y="1518.1" width="6.6" height="10" fill="#f7ee7c" stroke="none" stroke-width="0"/>
<rect x="661" y="1518.1" width="28" height="10" fill="#c37bbb" stroke="none" stroke-width="0"/>
<path d="M662.8 1415.5h2.0v10.0h-2.0zM666.7 1415.5h2.0v10.0h-2.0zM670.4 1415.5h2.0v10.0h-2.0zM673.6 1415.5h2.0v10.0h-2.0zM675.9 1415.5h2.0v10.0h-2.0zM681.3 1415.5h2.0v10.0h-2.0zM684.3 1415.5h2.0v10.0h-2.0zM687.5 1415.5h2.0v10.0h-2.0zM694.7 1415.5h2.0v10.0h-2.0zM698.6 1415.5h2.0v10.0h-2.0zM701.8 1415.5h2.0v10.0h-2.0zM704.3 1415.5h2.0v10.0h-2.0zM707.3 1415.5h2.0v10.0h-2.0zM724.6 1415.5h2.0v10.0h-2.0zM728.5 1415.5h2.0v10.0h-2.0zM731.5 1415.5h2.0v10.0h-2.0zM732.1 1415.5h2.0v10.0h-2.0zM733.2 1415.5h2.0v10.0h-2.0zM739.0 1415.5h2.0v10.0h-2.0zM742.0 1415.5h2.0v10.0h-2.0zM744.7 1415.5h2.0v10.0h-2.0zM746.1 1415.5h2.0v10.0h-2.0zM749.0 1415.5h2.0v10.0h-2.0zM752.3 1415.5h2.0v10.0h-2.0zM757.2 1415.5h2.0v10.0h-2.0zM666.3 1426.9h2.0v10.0h-2.0zM670.1 1426.9h2.0v10.0h-2.0zM672.3 1426.9h2.0v10.0h-2.0zM674.7 1426.9h2.0v10.0h-2.0zM677.2 1426.9h2.0v10.0h-2.0zM680.6 1426.9h2.0v10.0h-2.0zM682.8 1426.9h2.0v10.0h-2.0zM686.4 1426.9h2.0v10.0h-2.0zM691.9 1426.9h2.0v10.0h-2.0zM695.7 1426.9h2.0v10.0h-2.0zM696.8 1426.9h2.0v10.0h-2.0zM699.1 1426.9h2.0v10.0h-2.0zM702.2 1426.9h2.0v10.0h-2.0zM705.0 1426.9h2.0v10.0h-2.0zM706.0 1426.9h2.0v10.0h-2.0zM708.4 1426.9h2.0v10.0h-2.0zM710.8 1426.9h2.0v10.0h-2.0zM730.8 1426.9h2.0v10.0h-2.0zM733.0 1426.9h2.0v10.0h-2.0zM738.2 1426.9h2.0v10.0h-2.0zM742.2 1426.9h2.0v10.0h-2.0zM757.2 1426.9h2.0v10.0h-2.0zM665.8 1438.3h2.0v10.0h-2.0zM672.1 1438.3h2.0v10.0h-2.0zM675.7 1438.3h2.0v10.0h-2.0zM680.5 1438.3h2.0v10.0h-2.0zM684.0 1438.3h2.0v10.0h-2.0zM687.5 1438.3h2.0v10.0h-2.0zM701.8 1438.3h2.0v10.0h-2.0zM704.3 1438.3h2.0v10.0h-2.0zM706.9 1438.3h2.0v10.0h-2.0zM718.1 1438.3h2.0v10.0h-2.0zM722.0 1438.3h2.0v10.0h-2.0zM726.6 1438.3h2.0v10.0h-2.0zM730.2 1438.3h2.0v10.0h-2.0zM733.1 1438.3h2.0v10.0h-2.0zM744.3 1438.3h2.0v10.0h-2.0zM748.2 1438.3h2.0v10.0h-2.0zM750.2 1438.3h2.0v10.0h-2.0zM754.0 1438.3h2.0v10.0h-2.0zM754.3 1438.3h2.0v10.0h-2.0zM757.1 1438.3h2.0v10.0h-2.0zM667.0 1449.7h2.0v10.0h-2.0zM669.1 1449.7h2.0v10.0h-2.0zM672.6 1449.7h2.0v10.0h-2.0zM672.8 1449.7h2.0v10.0h-2.0zM676.5 1449.7h2.0v10.0h-2.0zM680.4 1449.7h2.0v10.0h-2.0zM682.9 1449.7h2.0v10.0h-2.0zM691.5 1449.7h2.0v10.0h-2.0zM692.2 1449.7h2.0v10.0h-2.0zM695.4 1449.7h2.0v10.0h-2.0zM696.8 1449.7h2.0v10.0h-2.0zM700.4 1449.7h2.0v10.0h-2.0zM704.4 1449.7h2.0v10.0h-2.0zM707.1 1449.7h2.0v10.0h-2.0zM708.6 1449.7h2.0v10.0h-2.0zM711.0 1449.7h2.0v10.0h-2.0zM713.1 1449.7h2.0v10.0h-2.0zM714.0 1449.7h2.0v10.0h-2.0zM715.2 1449.7h2.0v10.0h-2.0zM718.6 1449.7h2.0v10.0h-2.0zM721.5 1449.7h2.0v10.0h-2.0zM724.4 1449.7h2.0v10.0h-2.0zM726.6 1449.7h2.0v10.0h-2.0zM728.4 1449.7h2.0v10.0h-2.0zM728.4 1449.7h2.0v10.0h-2.0zM731.6 1449.7h2.0v10.0h-2.0zM734.2 1449.7h2.0v10.0h-2.0zM736.4 1449.7h2.0v10.0h-2.0zM745.0 1449.7h2.0v10.0h-2.0zM751.1 1449.7h2.0v10.0h-2.0zM753.3 1449.7h2.0v10.0h-2.0zM614.0 1449.7h2.0v10.0h-2.0zM662.6 1461.1h2.0v10.0h-2.0zM664.6 1461.1h2.0v10.0h-2.0zM664.6 1461.1h2.0v10.0h-2.0zM668.2 1461.1h2.0v10.0h-2.0zM672.1 1461.1h2.0v10.0h-2.0zM674.3 1461.1h2.0v10.0h-2.0zM677.9 1461.1h2.0v10.0h-2.0zM681.2 1461.1h2.0v10.0h-2.0zM683.7 1461.1h2.0v10.0h-2.0zM686.7 1461.1h2.0v10.0h-2.0zM693.9 1461.1h2.0v10.0h-2.0zM696.8 1461.1h2.0v10.0h-2.0zM699.1 1461.1h2.0v10.0h-2.0zM701.8 1461.1h2.0v10.0h-2.0zM709.0 1461.1h2.0v10.0h-2.0zM718.0 1461.1h2.0v10.0h-2.0zM719.2 1461.1h2.0v10.0h-2.0zM741.6 1461.1h2.0v10.0h-2.0zM744.2 1461.1h2.0v10.0h-2.0zM746.4 1461.1h2.0v10.0h-2.0zM749.6 1461.1h2.0v10.0h-2.0zM751.8 1461.1h2.0v10.0h-2.0zM755.2 1461.1h2.0v10.0h-2.0zM665.4 1472.5h2.0v10.0h-2.0zM668.4 1472.5h2.0v10.0h-2.0zM674.6 1472.5h2.0v10.0h-2.0zM678.3 1472.5h2.0v10.0h-2.0zM680.9 1472.5h2.0v10.0h-2.0zM682.9 1472.5h2.0v10.0h-2.0zM696.6 1472.5h2.0v10.0h-2.0zM696.8 1472.5h2.0v10.0h-2.0zM700.3 1472.5h2.0v10.0h-2.0zM703.7 1472.5h2.0v10.0h-2.0zM708.1 1472.5h2.0v10.0h-2.0zM709.8 1472.5h2.0v10.0h-2.0zM712.4 1472.5h2.0v10.0h-2.0zM715.9 1472.5h2.0v10.0h-2.0zM721.7 1472.5h2.0v10.0h-2.0zM730.1 1472.5h2.0v10.0h-2.0zM733.7 1472.5h2.0v10.0h-2.0zM736.4 1472.5h2.0v10.0h-2.0zM738.0 1472.5h2.0v10.0h-2.0zM741.7 1472.5h2.0v10.0h-2.0zM745.3 1472.5h2.0v10.0h-2.0zM747.5 1472.5h2.0v10.0h-2.0zM749.4 1472.5h2.0v10.0h-2.0zM753.2 1472.5h2.0v10.0h-2.0zM756.6 1472.5h2.0v10.0h-2.0zM661.5 1483.9h2.0v10.0h-2.0zM665.1 1483.9h2.0v10.0h-2.0zM667.8 1483.9h2.0v10.0h-2.0zM671.4 1483.9h2.0v10.0h-2.0zM674.3 1483.9h2.0v10.0h-2.0zM677.0 1483.9h2.0v10.0h-2.0zM677.4 1483.9h2.0v10.0h-2.0zM689.8 1483.9h2.0v10.0h-2.0zM691.8 1483.9h2.0v10.0h-2.0zM701.2 1483.9h2.0v10.0h-2.0zM704.6 1483.9h2.0v10.0h-2.0zM705.7 1483.9h2.0v10.0h-2.0zM707.5 1483.9h2.0v10.0h-2.0zM707.5 1483.9h2.0v10.0h-2.0zM710.7 1483.9h2.0v10.0h-2.0zM713.8 1483.9h2.0v10.0h-2.0zM717.0 1483.9h2.0v10.0h-2.0zM722.7 1483.9h2.0v10.0h-2.0zM724.9 1483.9h2.0v10.0h-2.0zM728.0 1483.9h2.0v10.0h-2.0zM730.1 1483.9h2.0v10.0h-2.0zM749.5 1483.9h2.0v10.0h-2.0zM752.4 1483.9h2.0v10.0h-2.0zM754.6 1483.9h2.0v10.0h-2.0zM614.0 1483.9h2.0v10.0h-2.0zM665.2 1495.3h2.0v10.0h-2.0zM667.4 1495.3h2.0v10.0h-2.0zM670.7 1495.3h2.0v10.0h-2.0zM673.0 1495.3h2.0v10.0h-2.0zM674.4 1495.3h2.0v10.0h-2.0zM679.5 1495.3h2.0v10.0h-2.0zM686.9 1495.3h2.0v10.0h-2.0zM696.9 1495.3h2.0v10.0h-2.0zM700.1 1495.3h2.0v10.0h-2.0zM702.6 1495.3h2.0v10.0h-2.0zM705.1 1495.3h2.0v10.0h-2.0zM715.7 1495.3h2.0v10.0h-2.0zM718.1 1495.3h2.0v10.0h-2.0zM721.7 1495.3h2.0v10.0h-2.0zM723.9 1495.3h2.0v10.0h-2.0zM725.9 1495.3h2.0v10.0h-2.0zM736.9 1495.3h2.0v10.0h-2.0zM741.8 1495.3h2.0v10.0h-2.0zM745.7 1495.3h2.0v10.0h-2.0zM748.3 1495.3h2.0v10.0h-2.0zM752.9 1495.3h2.0v10.0h-2.0zM754.4 1495.3h2.0v10.0h-2.0zM666.7 1506.7h2.0v10.0h-2.0zM669.9 1506.7h2.0v10.0h-2.0zM676.5 1506.7h2.0v10.0h-2.0zM678.8 1506.7h2.0v10.0h-2.0zM680.9 1506.7h2.0v10.0h-2.0zM683.8 1506.7h2.0v10.0h-2.0zM684.5 1506.7h2.0v10.0h-2.0zM687.4 1506.7h2.0v10.0h-2.0zM695.7 1506.7h2.0v10.0h-2.0zM700.3 1506.7h2.0v10.0h-2.0zM703.4 1506.7h2.0v10.0h-2.0zM708.3 1506.7h2.0v10.0h-2.0zM711.8 1506.7h2.0v10.0h-2.0zM715.8 1506.7h2.0v10.0h-2.0zM718.9 1506.7h2.0v10.0h-2.0zM721.6 1506.7h2.0v10.0h-2.0zM725.7 1506.7h2.0v10.0h-2.0zM728.3 1506.7h2.0v10.0h-2.0zM731.0 1506.7h2.0v10.0h-2.0zM747.8 1506.7h2.0v10.0h-2.0zM752.3 1506.7h2.0v10.0h-2.0zM755.1 1506.7h2.0v10.0h-2.0zM755.5 1506.7h2.0v10.0h-2.0zM665.1 1518.1h2.0v10.0h-2.0zM666.6 1518.1h2.0v10.0h-2.0zM668.9 1518.1h2.0v10.0h-2.0zM671.0 1518.1h2.0v10.0h-2.0zM675.0 1518.1h2.0v10.0h-2.0zM675.4 1518.1h2.0v10.0h-2.0zM676.7 1518.1h2.0v10.0h-2.0zM680.0 1518.1h2.0v10.0h-2.0zM682.8 1518.1h2.0v10.0h-2.0zM686.5 1518.1h2.0v10.0h-2.0zM689.0 1518.1h2.0v10.0h-2.0zM695.5 1518.1h2.0v10.0h-2.0zM700.1 1518.1h2.0v10.0h-2.0zM711.4 1518.1h2.0v10.0h-2.0zM715.0 1518.1h2.0v10.0h-2.0zM718.2 1518.1h2.0v10.0h-2.0zM720.4 1518.1h2.0v10.0h-2.0zM720.7 1518.1h2.0v10.0h-2.0zM724.3 1518.1h2.0v10.0h-2.0zM726.8 1518.1h2.0v10.0h-2.0zM741.2 1518.1h2.0v10.0h-2.0zM741.9 1518.1h2.0v10.0h-2.0zM744.0 1518.1h2.0v10.0h-2.0zM753.1 1518.1h2.0v10.0h-2.0zM755.9 1518.1h2.0v10.0h-2.0zM757.7 1518.1h2.0v10.0h-2.0z" fill="#111"/>
<path d="M171.5 1644.8 L179 1654.2 L190.9 1654.8 L202.8 1652.8 L211.8 1632.9 L219.2 1642.8 L226.7 1642.8 L234.1 1635.8 L241.6 1597 L250 1590.1 L256.5 1560.2 L264 1571.7 L271.4 1568.7 L280.3 1586.1 L287.8 1597.5 L295.3 1604.5 L302.7 1620.4 L311.7 1638.8 L320.6 1647.3 L328 1650.3 L328 1659.3 L320.6 1657.3 L311.7 1650.8 L302.7 1636.4 L295.3 1622.5 L287.8 1616.5 L280.3 1607.1 L271.4 1591.7 L264 1594.7 L256.5 1584.2 L250 1609.1 L241.6 1614 L234.1 1646.8 L226.7 1652.8 L219.2 1652.8 L211.8 1643.9 L202.8 1659.8 L190.9 1661.8 L179 1661.2 L171.5 1654.8 Z" fill="#cfcfcf" stroke="none" stroke-width="0" fill-opacity="0.75"/>
<path d="M171.5 1654.2 L187.9 1642.3 L202.8 1649.8 L211.8 1654.8 L219.2 1649.8 L226.7 1640.8 L234.1 1654.2 L241.6 1646.8 L250 1625.9 L256.5 1640.8 L264 1651.3 L272.9 1657.8 L280.3 1651.3 L287.8 1655.7 L296.7 1648.3 L304.2 1651.3 L311.7 1654.8 L320.6 1646.8 L328 1654.2 L328 1662.2 L320.6 1654.8 L311.7 1662.8 L304.2 1659.3 L296.7 1656.3 L287.8 1663.7 L280.3 1659.3 L272.9 1665.8 L264 1659.3 L256.5 1648.8 L250 1633.9 L241.6 1654.8 L234.1 1662.2 L226.7 1648.8 L219.2 1657.8 L211.8 1662.8 L202.8 1657.8 L187.9 1650.3 L171.5 1662.2 Z" fill="#cfcfcf" stroke="none" stroke-width="0" fill-opacity="0.55"/>
<path d="M171.5 1650.8 L179 1658.2 L190.9 1658.8 L202.8 1656.8 L211.8 1638.9 L219.2 1647.8 L226.7 1647.8 L234.1 1641.8 L241.6 1606 L250 1600.1 L256.5 1573.2 L264 1583.7 L271.4 1580.7 L280.3 1597.1 L287.8 1607.5 L295.3 1613.5 L302.7 1628.4 L311.7 1644.8 L320.6 1652.3 L328 1655.3" fill="none" stroke="#ef8a2e" stroke-width="3.9" stroke-linejoin="round" stroke-opacity="1"/>
<path d="M171.5 1658.2 L187.9 1646.3 L202.8 1653.8 L211.8 1658.8 L219.2 1653.8 L226.7 1644.8 L234.1 1658.2 L241.6 1650.8 L250 1629.9 L256.5 1644.8 L264 1655.3 L272.9 1661.8 L280.3 1655.3 L287.8 1659.7 L296.7 1652.3 L304.2 1655.3 L311.7 1658.8 L320.6 1650.8 L328 1658.2" fill="none" stroke="#45a8b2" stroke-width="3.9" stroke-linejoin="round" stroke-opacity="1"/>
<line x1="171.2" y1="1551.2" x2="171.2" y2="1668" stroke="#161616" stroke-width="2"/>
<line x1="165.2" y1="1667" x2="328.5" y2="1667" stroke="#161616" stroke-width="2"/>
<line x1="165.2" y1="1555.1" x2="171.2" y2="1555.1" stroke="#161616" stroke-width="2"/>
<line x1="171.2" y1="1667" x2="171.2" y2="1672.5" stroke="#161616" stroke-width="2"/>
<line x1="249.7" y1="1667" x2="249.7" y2="1672.5" stroke="#161616" stroke-width="2"/>
<line x1="328" y1="1667" x2="328" y2="1672.5" stroke="#161616" stroke-width="2"/>
<text x="116.53" y="1563.7" font-size="25" font-weight="normal" font-style="normal" fill="#161616" textLength="43.16" lengthAdjust="spacingAndGlyphs">100</text>
<text x="145" y="1675.5" font-size="25" font-weight="normal" font-style="normal" fill="#1a1a1a">0</text>
<text x="148.44" y="1699.9" font-size="25" font-weight="normal" font-style="normal" fill="#161616" textLength="45.63" lengthAdjust="spacingAndGlyphs">-0.5</text>
<text x="242.7" y="1699.9" font-size="25" font-weight="normal" font-style="normal" fill="#1a1a1a">0</text>
<text x="308.99" y="1699.9" font-size="25" font-weight="normal" font-style="normal" fill="#161616" textLength="35.02" lengthAdjust="spacingAndGlyphs">0.5</text>
<text x="214.18" y="1733" font-size="25.5" font-weight="normal" font-style="normal" fill="#161616" textLength="94.55" lengthAdjust="spacingAndGlyphs">Time (s)</text>
<text x="0" y="0" font-size="25.5" font-weight="normal" fill="#161616" transform="translate(60.8 1673.82) rotate(-90)" textLength="119.52" lengthAdjust="spacingAndGlyphs">Firing rate</text>
<text x="0" y="0" font-size="25.5" font-weight="normal" fill="#161616" transform="translate(93.59 1639.02) rotate(-90)" textLength="50.99" lengthAdjust="spacingAndGlyphs">(Hz)</text>
<path d="M391.1 1632.5 L398.7 1630.1 L405.8 1660.2 L421.2 1624.2 L429.5 1566 L437.8 1570.4 L446.1 1580.2 L453.2 1580.2 L459.8 1633.2 L468.6 1628.1 L476.8 1637.2 L484 1664.2 L546.7 1665.2 L546.7 1667.2 L484 1668.2 L476.8 1655.2 L468.6 1650.1 L459.8 1657.2 L453.2 1620.2 L446.1 1620.2 L437.8 1606.4 L429.5 1600 L421.2 1642.2 L405.8 1670.2 L398.7 1648.1 L391.1 1650.5 Z" fill="#cfcfcf" stroke="none" stroke-width="0" fill-opacity="0.75"/>
<path d="M391.1 1645.2 L398.7 1646.3 L408.2 1638.1 L416.5 1629.8 L427.1 1640.4 L436.6 1631 L444.9 1652.3 L453.2 1647.5 L461.5 1646.3 L468.6 1642.8 L478 1653.5 L484 1664.2 L533.7 1665.2 L538.4 1658.5 L546.7 1665.2 L546.7 1667.2 L538.4 1664.5 L533.7 1667.2 L484 1668.2 L478 1669.5 L468.6 1658.8 L461.5 1662.3 L453.2 1663.5 L444.9 1668.3 L436.6 1647 L427.1 1656.4 L416.5 1645.8 L408.2 1654.1 L398.7 1662.3 L391.1 1661.2 Z" fill="#cfcfcf" stroke="none" stroke-width="0" fill-opacity="0.6"/>
<path d="M391.1 1653.2 L398.7 1654.3 L408.2 1646.1 L416.5 1637.8 L427.1 1648.4 L436.6 1639 L444.9 1660.3 L453.2 1655.5 L461.5 1654.3 L468.6 1650.8 L478 1661.5 L484 1666.2 L533.7 1666.2 L538.4 1661.5 L546.7 1666.2" fill="none" stroke="#e0a57a" stroke-width="3.4" stroke-linejoin="round" stroke-opacity="1"/>
<path d="M391.1 1642.5 L398.7 1640.1 L405.8 1666.2 L421.2 1634.2 L429.5 1584 L437.8 1590.4 L446.1 1602.2 L453.2 1602.2 L459.8 1647.2 L468.6 1640.1 L476.8 1647.2 L484 1666.2 L546.7 1666.2" fill="none" stroke="#45a8b2" stroke-width="3.9" stroke-linejoin="round" stroke-opacity="1"/>
<line x1="391.1" y1="1548.5" x2="391.1" y2="1667.2" stroke="#161616" stroke-width="2"/>
<line x1="385.1" y1="1666.2" x2="547" y2="1666.2" stroke="#161616" stroke-width="2"/>
<line x1="385.1" y1="1603" x2="391.1" y2="1603" stroke="#161616" stroke-width="2"/>
<line x1="391.1" y1="1666.2" x2="391.1" y2="1671.5" stroke="#161616" stroke-width="2"/>
<line x1="468.1" y1="1666.2" x2="468.1" y2="1671.5" stroke="#161616" stroke-width="2"/>
<line x1="546.7" y1="1666.2" x2="546.7" y2="1671.5" stroke="#161616" stroke-width="2"/>
<text x="347.71" y="1612.4" font-size="25" font-weight="normal" font-style="normal" fill="#161616" textLength="28.61" lengthAdjust="spacingAndGlyphs">20</text>
<text x="363.2" y="1674.5" font-size="25" font-weight="normal" font-style="normal" fill="#1a1a1a">0</text>
<text x="366.81" y="1700" font-size="25" font-weight="normal" font-style="normal" fill="#161616" textLength="46.99" lengthAdjust="spacingAndGlyphs">-0.5</text>
<text x="461.1" y="1700" font-size="25" font-weight="normal" font-style="normal" fill="#1a1a1a">0</text>
<text x="526.72" y="1700" font-size="25" font-weight="normal" font-style="normal" fill="#161616" textLength="37.67" lengthAdjust="spacingAndGlyphs">0.5</text>
<text x="418.96" y="1732.5" font-size="25.5" font-weight="normal" font-style="normal" fill="#161616" textLength="97.31" lengthAdjust="spacingAndGlyphs">Time (s)</text>
<path d="M603.16 1662.74 L611.58 1660.63 L624.21 1661.68 L649.47 1663.79 L654.74 1641.89 L660 1602.11 L666.32 1592.63 L674.74 1583.16 L681.05 1583.16 L687.37 1592.58 L693.68 1597.84 L700 1605.21 L706.32 1615.74 L710.53 1607.32 L716.84 1624.16 L721.05 1615.74 L727.37 1609.42 L733.68 1611.53 L740 1605.21 L746.32 1614.68 L750.53 1621 L758.95 1623.11 L758.95 1641.11 L750.53 1639 L746.32 1632.68 L740 1623.21 L733.68 1629.53 L727.37 1627.42 L721.05 1633.74 L716.84 1642.16 L710.53 1625.32 L706.32 1633.74 L700 1623.21 L693.68 1615.84 L687.37 1610.58 L681.05 1603.16 L674.74 1603.16 L666.32 1612.63 L660 1622.11 L654.74 1653.89 L649.47 1667.79 L624.21 1665.68 L611.58 1664.63 L603.16 1666.74 Z" fill="#cfcfcf" stroke="none" stroke-width="0" fill-opacity="0.75"/>
<path d="M603.16 1652.21 L607.37 1663.74 L651.58 1664.79 L657.89 1654.32 L662.11 1622.95 L666.32 1597.79 L670.53 1603.05 L676.84 1588.37 L681.05 1577.84 L686.32 1562.05 L691.58 1575.74 L696.84 1588.37 L702.11 1611.53 L706.32 1605.21 L711.58 1630.47 L715.79 1609.42 L718.95 1619.95 L722.11 1622.05 L726.32 1589.47 L730.53 1604.21 L734.74 1600 L738.95 1604.21 L743.16 1610.53 L748.42 1582.16 L753.68 1592.68 L758.95 1602.16 L758.95 1624.16 L753.68 1614.68 L748.42 1604.16 L743.16 1630.53 L738.95 1624.21 L734.74 1620 L730.53 1624.21 L726.32 1609.47 L722.11 1640.05 L718.95 1637.95 L715.79 1627.42 L711.58 1648.47 L706.32 1623.21 L702.11 1629.53 L696.84 1606.37 L691.58 1593.74 L686.32 1580.05 L681.05 1595.84 L676.84 1606.37 L670.53 1619.05 L666.32 1613.79 L662.11 1634.95 L657.89 1658.32 L651.58 1666.79 L607.37 1665.74 L603.16 1656.21 Z" fill="#cfcfcf" stroke="none" stroke-width="0" fill-opacity="0.75"/>
<path d="M603.16 1664.74 L611.58 1662.63 L624.21 1663.68 L649.47 1665.79 L654.74 1647.89 L660 1612.11 L666.32 1602.63 L674.74 1593.16 L681.05 1593.16 L687.37 1601.58 L693.68 1606.84 L700 1614.21 L706.32 1624.74 L710.53 1616.32 L716.84 1633.16 L721.05 1624.74 L727.37 1618.42 L733.68 1620.53 L740 1614.21 L746.32 1623.68 L750.53 1630 L758.95 1632.11" fill="none" stroke="#45a8b2" stroke-width="3.9" stroke-linejoin="round" stroke-opacity="1"/>
<path d="M603.16 1654.21 L607.37 1664.74 L651.58 1665.79 L657.89 1656.32 L662.11 1628.95 L666.32 1605.79 L670.53 1611.05 L676.84 1597.37 L681.05 1586.84 L686.32 1571.05 L691.58 1584.74 L696.84 1597.37 L702.11 1620.53 L706.32 1614.21 L711.58 1639.47 L715.79 1618.42 L718.95 1628.95 L722.11 1631.05 L726.32 1599.47 L730.53 1614.21 L734.74 1610 L738.95 1614.21 L743.16 1620.53 L748.42 1593.16 L753.68 1603.68 L758.95 1613.16" fill="none" stroke="#ef8a2e" stroke-width="3.9" stroke-linejoin="round" stroke-opacity="1"/>
<line x1="602.5" y1="1551" x2="602.5" y2="1666.8" stroke="#161616" stroke-width="2"/>
<line x1="596.5" y1="1665.8" x2="759.5" y2="1665.8" stroke="#161616" stroke-width="2"/>
<line x1="596.5" y1="1560.1" x2="602.5" y2="1560.1" stroke="#161616" stroke-width="2"/>
<line x1="602.5" y1="1665.8" x2="602.5" y2="1671.5" stroke="#161616" stroke-width="2"/>
<line x1="654.7" y1="1665.8" x2="654.7" y2="1671.5" stroke="#161616" stroke-width="2"/>
<line x1="759" y1="1665.8" x2="759" y2="1671.5" stroke="#161616" stroke-width="2"/>
<text x="546.34" y="1569" font-size="25" font-weight="normal" font-style="normal" fill="#161616" textLength="43.05" lengthAdjust="spacingAndGlyphs">100</text>
<text x="575.4" y="1674.5" font-size="25" font-weight="normal" font-style="normal" fill="#1a1a1a">0</text>
<text x="578.93" y="1698.4" font-size="25" font-weight="normal" font-style="normal" fill="#161616" textLength="46.15" lengthAdjust="spacingAndGlyphs">-0.5</text>
<text x="647.7" y="1698.4" font-size="25" font-weight="normal" font-style="normal" fill="#1a1a1a">0</text>
<text x="751.62" y="1698.4" font-size="25" font-weight="normal" font-style="normal" fill="#1a1a1a">1</text>
<text x="632.07" y="1731.5" font-size="25.5" font-weight="normal" font-style="normal" fill="#161616" textLength="95.78" lengthAdjust="spacingAndGlyphs">Time (s)</text>
<text x="788.18" y="1257" font-size="33" font-weight="bold" font-style="normal" fill="#161616">g</text>
<rect x="870" y="1299.1" width="270" height="161.4" fill="#fddbbf" stroke="none" stroke-width="0"/>
<rect x="870" y="1460.5" width="270" height="161.4" fill="#d0e4ea" stroke="none" stroke-width="0"/>
<path d="M870.6 1390.56 L878.27 1385.18 L885.94 1441.67 L893.61 1447.05 L901.28 1425.53 L908.95 1457.81 L916.62 1438.98 L924.29 1447.05 L931.96 1452.43 L939.63 1459.15 L947.3 1460.5 L954.97 1460.5 L962.64 1460.5 L970.31 1412.08 L977.98 1455.12 L985.65 1449.74 L993.32 1455.12 L1000.99 1447.05 L1008.66 1455.12 L1016.33 1457.81 L1024 1459.15 L1031.67 1459.15 L1039.34 1457.81 L1047.01 1455.12 L1054.68 1417.46 L1062.35 1452.43 L1070.02 1438.98 L1077.69 1438.98 L1085.36 1455.12 L1093.03 1422.84 L1100.7 1421.49 L1108.37 1421.49 L1116.04 1420.15 L1123.71 1420.15 L1123.71 1500.85 L1116.04 1500.85 L1108.37 1499.51 L1100.7 1499.51 L1093.03 1498.16 L1085.36 1465.88 L1077.69 1484.71 L1070.02 1473.95 L1062.35 1468.57 L1054.68 1506.23 L1047.01 1465.88 L1039.34 1463.19 L1031.67 1465.88 L1024 1463.19 L1016.33 1461.85 L1008.66 1463.19 L1000.99 1465.88 L993.32 1473.95 L985.65 1468.57 L977.98 1465.88 L970.31 1508.92 L962.64 1460.5 L954.97 1460.5 L947.3 1460.5 L939.63 1463.19 L931.96 1468.57 L924.29 1473.95 L916.62 1479.33 L908.95 1465.88 L901.28 1495.47 L893.61 1468.57 L885.94 1472.61 L878.27 1535.82 L870.6 1527.75 Z" fill="#8c8a8c" stroke="none" stroke-width="0" fill-opacity="0.82"/>
<line x1="870" y1="1460.5" x2="1131" y2="1460.5" stroke="#2e3192" stroke-width="3.2" stroke-dasharray="13 8"/>
<path d="M870.6 1600.65 L878.27 1551.15 L885.94 1533.4 L893.61 1523.71 L901.28 1516.18 L908.95 1513.49 L916.62 1503.81 L924.29 1501.39 L931.96 1499.77 L939.63 1498.16 L947.3 1490.09 L954.97 1488.48 L962.64 1488.48 L970.31 1477.72 L977.98 1472.34 L985.65 1469.65 L993.32 1461.85 L1000.99 1460.23 L1008.66 1459.96 L1016.33 1456.73 L1024 1454.31 L1031.67 1450.55 L1039.34 1448.39 L1047.01 1446.24 L1054.68 1443.02 L1062.35 1443.02 L1070.02 1442.21 L1077.69 1434.14 L1085.36 1432.52 L1093.03 1407.24 L1100.7 1402.4 L1108.37 1350.21 L1116.04 1350.21 L1123.71 1323.58" fill="none" stroke="#1fa84a" stroke-width="3.6" stroke-linejoin="round"/>
<circle cx="870.6" cy="1600.65" r="3.7" fill="#111" stroke="none" stroke-width="0"/>
<circle cx="878.27" cy="1551.15" r="3.7" fill="#111" stroke="none" stroke-width="0"/>
<circle cx="885.94" cy="1533.4" r="3.7" fill="#111" stroke="none" stroke-width="0"/>
<circle cx="893.61" cy="1523.71" r="3.7" fill="#111" stroke="none" stroke-width="0"/>
<circle cx="901.28" cy="1516.18" r="3.7" fill="#111" stroke="none" stroke-width="0"/>
<circle cx="908.95" cy="1513.49" r="3.7" fill="#111" stroke="none" stroke-width="0"/>
<circle cx="916.62" cy="1503.81" r="3.7" fill="#111" stroke="none" stroke-width="0"/>
<circle cx="924.29" cy="1501.39" r="3.7" fill="#111" stroke="none" stroke-width="0"/>
<circle cx="931.96" cy="1499.77" r="3.7" fill="#111" stroke="none" stroke-width="0"/>
<circle cx="939.63" cy="1498.16" r="3.7" fill="#111" stroke="none" stroke-width="0"/>
<circle cx="947.3" cy="1490.09" r="3.7" fill="#111" stroke="none" stroke-width="0"/>
<circle cx="954.97" cy="1488.48" r="3.7" fill="#111" stroke="none" stroke-width="0"/>
<circle cx="962.64" cy="1488.48" r="3.7" fill="#111" stroke="none" stroke-width="0"/>
<circle cx="970.31" cy="1477.72" r="3.7" fill="#111" stroke="none" stroke-width="0"/>
<circle cx="977.98" cy="1472.34" r="3.7" fill="#111" stroke="none" stroke-width="0"/>
<circle cx="985.65" cy="1469.65" r="3.7" fill="#111" stroke="none" stroke-width="0"/>
<circle cx="993.32" cy="1461.85" r="3.7" fill="#111" stroke="none" stroke-width="0"/>
<circle cx="1000.99" cy="1460.23" r="3.7" fill="#111" stroke="none" stroke-width="0"/>
<circle cx="1008.66" cy="1459.96" r="3.7" fill="#111" stroke="none" stroke-width="0"/>
<circle cx="1016.33" cy="1456.73" r="3.7" fill="#111" stroke="none" stroke-width="0"/>
<circle cx="1024" cy="1454.31" r="3.7" fill="#111" stroke="none" stroke-width="0"/>
<circle cx="1031.67" cy="1450.55" r="3.7" fill="#111" stroke="none" stroke-width="0"/>
<circle cx="1039.34" cy="1448.39" r="3.7" fill="#111" stroke="none" stroke-width="0"/>
<circle cx="1047.01" cy="1446.24" r="3.7" fill="#111" stroke="none" stroke-width="0"/>
<circle cx="1054.68" cy="1443.02" r="3.7" fill="#111" stroke="none" stroke-width="0"/>
<circle cx="1062.35" cy="1443.02" r="3.7" fill="#111" stroke="none" stroke-width="0"/>
<circle cx="1070.02" cy="1442.21" r="3.7" fill="#111" stroke="none" stroke-width="0"/>
<circle cx="1077.69" cy="1434.14" r="3.7" fill="#111" stroke="none" stroke-width="0"/>
<circle cx="1085.36" cy="1432.52" r="3.7" fill="#111" stroke="none" stroke-width="0"/>
<circle cx="1093.03" cy="1407.24" r="3.7" fill="#111" stroke="none" stroke-width="0"/>
<circle cx="1100.7" cy="1402.4" r="3.7" fill="#111" stroke="none" stroke-width="0"/>
<circle cx="1108.37" cy="1350.21" r="3.7" fill="#111" stroke="none" stroke-width="0"/>
<circle cx="1116.04" cy="1350.21" r="3.7" fill="#111" stroke="none" stroke-width="0"/>
<circle cx="1123.71" cy="1323.58" r="3.7" fill="#111" stroke="none" stroke-width="0"/>
<text x="957.84" y="1332.2" font-size="27" font-weight="normal" font-style="normal" fill="#ee8c3c" textLength="82.72" lengthAdjust="spacingAndGlyphs">Lateral</text>
<text x="959.29" y="1595.1" font-size="27" font-weight="normal" font-style="normal" fill="#4aaeb8" textLength="81.22" lengthAdjust="spacingAndGlyphs">Medial</text>
<line x1="870" y1="1298.1" x2="870" y2="1622.9" stroke="#161616" stroke-width="2"/>
<line x1="867.4" y1="1621.9" x2="1141" y2="1621.9" stroke="#161616" stroke-width="2"/>
<line x1="863.5" y1="1299.1" x2="870" y2="1299.1" stroke="#161616" stroke-width="2"/>
<text x="833.14" y="1308.6" font-size="27" font-weight="normal" font-style="normal" fill="#1a1a1a">60</text>
<line x1="863.5" y1="1352.9" x2="870" y2="1352.9" stroke="#161616" stroke-width="2"/>
<text x="833.14" y="1362.4" font-size="27" font-weight="normal" font-style="normal" fill="#1a1a1a">40</text>
<line x1="863.5" y1="1406.7" x2="870" y2="1406.7" stroke="#161616" stroke-width="2"/>
<text x="833.14" y="1416.2" font-size="27" font-weight="normal" font-style="normal" fill="#1a1a1a">20</text>
<line x1="863.5" y1="1460.5" x2="870" y2="1460.5" stroke="#161616" stroke-width="2"/>
<text x="848.26" y="1470" font-size="27" font-weight="normal" font-style="normal" fill="#1a1a1a">0</text>
<line x1="863.5" y1="1514.3" x2="870" y2="1514.3" stroke="#161616" stroke-width="2"/>
<text x="824.23" y="1523.8" font-size="27" font-weight="normal" font-style="normal" fill="#1a1a1a">-20</text>
<line x1="863.5" y1="1568.1" x2="870" y2="1568.1" stroke="#161616" stroke-width="2"/>
<text x="824.23" y="1577.6" font-size="27" font-weight="normal" font-style="normal" fill="#1a1a1a">-40</text>
<line x1="863.5" y1="1621.9" x2="870" y2="1621.9" stroke="#161616" stroke-width="2"/>
<text x="824.23" y="1631.4" font-size="27" font-weight="normal" font-style="normal" fill="#1a1a1a">-60</text>
<line x1="870.6" y1="1621.9" x2="870.6" y2="1628.4" stroke="#161616" stroke-width="2"/>
<text x="863.58" y="1659.3" font-size="26.5" font-weight="normal" font-style="normal" fill="#1a1a1a">1</text>
<line x1="939.63" y1="1621.9" x2="939.63" y2="1628.4" stroke="#161616" stroke-width="2"/>
<text x="924.26" y="1659.3" font-size="26.5" font-weight="normal" font-style="normal" fill="#1a1a1a">10</text>
<line x1="1016.33" y1="1621.9" x2="1016.33" y2="1628.4" stroke="#161616" stroke-width="2"/>
<text x="1001.36" y="1659.3" font-size="26.5" font-weight="normal" font-style="normal" fill="#1a1a1a">20</text>
<line x1="1093.03" y1="1621.9" x2="1093.03" y2="1628.4" stroke="#161616" stroke-width="2"/>
<text x="1078.19" y="1659.3" font-size="26.5" font-weight="normal" font-style="normal" fill="#1a1a1a">30</text>
<text x="911.45" y="1699.6" font-size="26.3" font-weight="normal" font-style="normal" fill="#161616" textLength="183.87" lengthAdjust="spacingAndGlyphs">ranked neurons</text>
<text x="0" y="0" font-size="30" font-weight="normal" fill="#161616" transform="translate(815 1590.72) rotate(-90)" textLength="279.46" lengthAdjust="spacingAndGlyphs">Directionality index (Hz)</text>
</svg></body></html>
